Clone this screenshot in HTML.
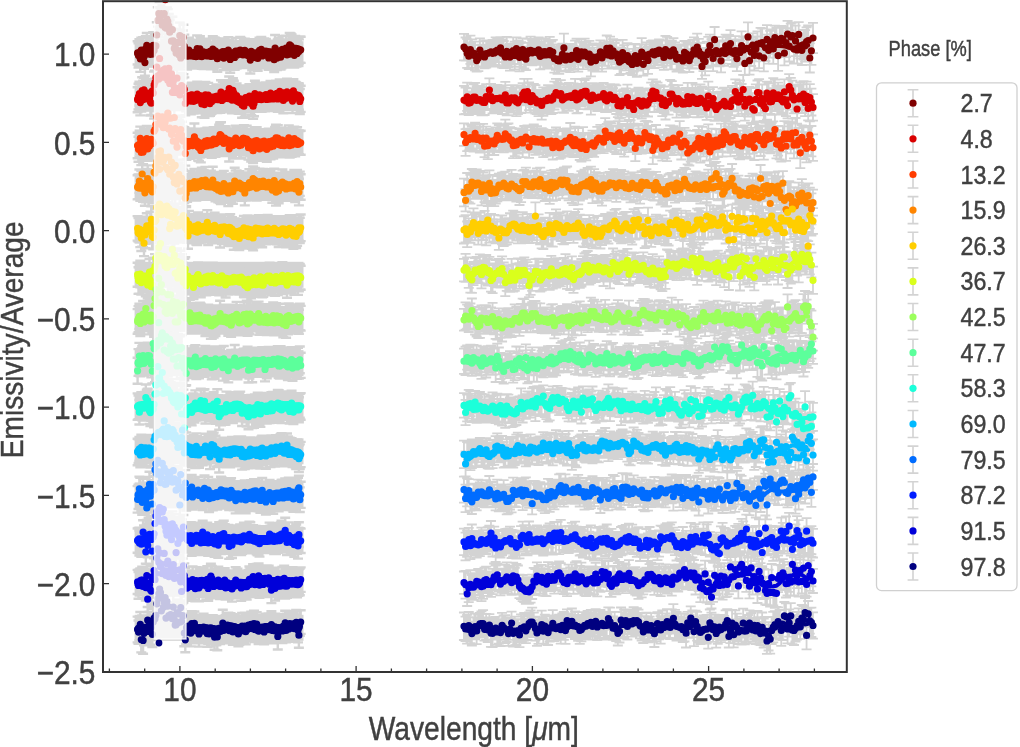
<!DOCTYPE html>
<html><head><meta charset="utf-8"><style>
html,body{margin:0;padding:0;background:#fff;}
body{width:1020px;height:747px;position:relative;overflow:hidden;}
svg{position:absolute;left:0;top:0;will-change:transform;}
text{font-family:"Liberation Sans",sans-serif;fill:#404040;stroke:#404040;stroke-width:0.45px;}
</style></head><body>
<svg width="1020" height="747" viewBox="0 0 1020 747">
<defs><clipPath id="c"><rect x="103" y="0.5" width="743.8" height="671.5"/></clipPath></defs>
<g clip-path="url(#c)">
<rect x="134.6" y="41.2" width="168.9" height="26" fill="#d3d3d3"/>
<rect x="134.6" y="85.3" width="168.9" height="26" fill="#d3d3d3"/>
<rect x="134.6" y="129.4" width="168.9" height="26" fill="#d3d3d3"/>
<rect x="134.6" y="173.6" width="168.9" height="26" fill="#d3d3d3"/>
<rect x="134.6" y="217.7" width="168.9" height="26" fill="#d3d3d3"/>
<rect x="134.6" y="261.8" width="168.9" height="26" fill="#d3d3d3"/>
<rect x="134.6" y="305.9" width="168.9" height="26" fill="#d3d3d3"/>
<rect x="134.6" y="350.1" width="168.9" height="26" fill="#d3d3d3"/>
<rect x="134.6" y="394.2" width="168.9" height="26" fill="#d3d3d3"/>
<rect x="134.6" y="438.3" width="168.9" height="26" fill="#d3d3d3"/>
<rect x="134.6" y="482.4" width="168.9" height="26" fill="#d3d3d3"/>
<rect x="134.6" y="526.6" width="168.9" height="26" fill="#d3d3d3"/>
<rect x="134.6" y="570.7" width="168.9" height="26" fill="#d3d3d3"/>
<rect x="134.6" y="614.8" width="168.9" height="26" fill="#d3d3d3"/>
<path d="M132.6 41.2h10m-5 0v23.3m-5 0h10m-9.1 -21.2h10m-5 0v24.2m-5 0h10m-9.1 -28.3h10m-5 0v26.7m-5 0h10m-9.1 -20.2h10m-5 0v26.2m-5 0h10m-9 -34.2h10m-5 0v24.8m-5 0h10m-9.1 -21h10m-5 0v26m-5 0h10m-9.1 -30.2h10m-5 0v26.5m-5 0h10m-9.1 -19.2h10m-5 0v24.3m-5 0h10m-9.1 -19.5h10m-5 0v26.4m-5 0h10m-9.1 -39.5h10m-5 0v24.2m-5 0h10m-9 -27.5h10m-5 0v24.5m-5 0h10m-9.1 -19.7h10m-5 0v23.4m-5 0h10m-9.1 -24.3h10m-5 0v23.9m-5 0h10m-9.1 -19.5h10m-5 0v25.3m-5 0h10m-9.1 -23.8h10m-5 0v23.4m-5 0h10m-9.1 -25.6h10m-5 0v25.2m-5 0h10m-9 -23.5h10m-5 0v23.9m-5 0h10m-9.1 -33.9h10m-5 0v26m-5 0h10m-9.1 -19.8h10m-5 0v23.8m-5 0h10m-9.1 -27.6h10m-5 0v24m-5 0h10m-9.1 -24.9h10m-5 0v24.2m-5 0h10m-9.1 -35.7h10m-5 0v25.4m-5 0h10m-9 -40.4h10m-5 0v26.1m-5 0h10m-9.1 -32.8h10m-5 0v26m-5 0h10m-9.1 -23.7h10m-5 0v25.9m-5 0h10m-9.1 -20.8h10m-5 0v25.7m-5 0h10m-9.1 -32.7h10m-5 0v25.2m-5 0h10m-9.1 -13.3h10m-5 0v24.5m-5 0h10m-9 -35.1h10m-5 0v24m-5 0h10m-9.1 -25.9h10m-5 0v26.4m-5 0h10m-9.1 -11.7h10m-5 0v24.8m-5 0h10m-9.1 -24.6h10m-5 0v25.6m-5 0h10m-9.1 -33.5h10m-5 0v23.5m-5 0h10m-9.1 -21.8h10m-5 0v24.6m-5 0h10m-9 -19.7h10m-5 0v23.7m-5 0h10m-9.1 -17.7h10m-5 0v24.5m-5 0h10m-9.1 -27.5h10m-5 0v25.9m-5 0h10m-9.1 -13.9h10m-5 0v24.5m-5 0h10m-9.1 -36.7h10m-5 0v25.7m-5 0h10m-9.1 -13.5h10m-5 0v23.7m-5 0h10m-9 -16.6h10m-5 0v24.7m-5 0h10m-9.1 -27.3h10m-5 0v24.8m-5 0h10m-9.1 -17.9h10m-5 0v25m-5 0h10m-9.1 -27.2h10m-5 0v24.1m-5 0h10m-9.1 -32.7h10m-5 0v25.7m-5 0h10m-9.1 -13.8h10m-5 0v26.4m-5 0h10m-9 -45.3h10m-5 0v26.2m-5 0h10m-9.1 -2.6h10m-5 0v23.4m-5 0h10m-9.1 -31.8h10m-5 0v25.1m-5 0h10m-9.1 -32.4h10m-5 0v24.5m-5 0h10m-9.1 -30.3h10m-5 0v25.3m-5 0h10m-9.1 -15.4h10m-5 0v23.6m-5 0h10m-9 -17.7h10m-5 0v25.9m-5 0h10m-9.1 -25.9h10m-5 0v24.8m-5 0h10m-9.1 -22.5h10m-5 0v26.7m-5 0h10m-9.1 -26.1h10m-5 0v23.3m-5 0h10m-9.1 -29h10m-5 0v24.8m-5 0h10m-9.1 -21.8h10m-5 0v25m-5 0h10m-9 -24.8h10m-5 0v26.2m-5 0h10m-9.1 -26.5h10m-5 0v26m-5 0h10m-9.1 -23.7h10m-5 0v23.9m-5 0h10m-9.1 -26.3h10m-5 0v24.4m-5 0h10m-9.1 -25.1h10m-5 0v25.9m-5 0h10m-9.1 -21.9h10m-5 0v24.8m-5 0h10m-9 -25.8h10m-5 0v24.2m-5 0h10m-9.1 -31.6h10m-5 0v26.6m-5 0h10m-9.1 -21.4h10m-5 0v26.3m-5 0h10m-9.1 -24.1h10m-5 0v24.6m-5 0h10m-9.1 -31.1h10m-5 0v25.2m-5 0h10m-9.1 -20.8h10m-5 0v26.6m-5 0h10m-9 -22.7h10m-5 0v24.1m-5 0h10m-9.1 -30.1h10m-5 0v26.5m-5 0h10m-9.1 -22.4h10m-5 0v26.4m-5 0h10m-9.1 -27.2h10m-5 0v25.9m-5 0h10m-9.1 -27.9h10m-5 0v25.8m-5 0h10m-9.1 -24.4h10m-5 0v25.7m-5 0h10m-9 -23.6h10m-5 0v25.2m-5 0h10m-9.1 -25.7h10m-5 0v25.4m-5 0h10m-9.1 -24.4h10m-5 0v23.9m-5 0h10m-9.1 -29.2h10m-5 0v25.3m-5 0h10m-9.1 -20.4h10m-5 0v25.7m-5 0h10m-9.1 -25.8h10m-5 0v25.1m-5 0h10m-9 -32.3h10m-5 0v25.7m-5 0h10m-9.1 -18.4h10m-5 0v24.9m-5 0h10m-9.1 -30.9h10m-5 0v26.1m-5 0h10m-9.1 -25.4h10m-5 0v25.9m-5 0h10m-9.1 -20.7h10m-5 0v23.6m-5 0h10m-9.1 -21.3h10m-5 0v26m-5 0h10m-9 -30h10m-5 0v24.3m-5 0h10m-9.1 -24.4h10m-5 0v23.6m-5 0h10m-9.1 -24.3h10m-5 0v23.7m-5 0h10m-9.1 -21.7h10m-5 0v24.5m-5 0h10m-9.1 -27.8h10m-5 0v25.2m-5 0h10m-9.1 -25.3h10m-5 0v24.4m-5 0h10m-9 -17.8h10m-5 0v24m-5 0h10m-9.1 -31.6h10m-5 0v26m-5 0h10m-9.1 -22h10m-5 0v24.6m-5 0h10m-9.1 -23.6h10m-5 0v26.3m-5 0h10m-9.1 -26h10m-5 0v24.2m-5 0h10m-9.1 -30.9h10m-5 0v25.8m-5 0h10m-9.1 -22.9h10m-5 0v24.6m-5 0h10m-9 -18.2h10m-5 0v26.3m-5 0h10m-9.1 -31h10m-5 0v25.6m-5 0h10m-9.1 -25.2h10m-5 0v25.7m-5 0h10m-9.1 -24.8h10m-5 0v23.6m-5 0h10m-9.1 -24.2h10m-5 0v26m-5 0h10m-9.1 -23.2h10m-5 0v24.6m-5 0h10m-9 -31.8h10m-5 0v26m-5 0h10m-9.1 -21.7h10m-5 0v26.2m-5 0h10m-9.1 -26.8h10m-5 0v23.7m-5 0h10m-9.1 -23.1h10m-5 0v23.3m-5 0h10m-9.1 -24.4h10m-5 0v26m-5 0h10m-9.1 -30.3h10m-5 0v26.7m-5 0h10m-9 -25.6h10m-5 0v26.5m-5 0h10m-9.1 -22.8h10m-5 0v24.8m-5 0h10m-9.1 -24.6h10m-5 0v26.2m-5 0h10m-9.1 -25.9h10m-5 0v23.4m-5 0h10m-9.1 -27h10m-5 0v23.5m-5 0h10m-9.1 -22h10m-5 0v25.4m-5 0h10m-9 -25.2h10m-5 0v25.1m-5 0h10m-9.1 -23.8h10m-5 0v26.2m-5 0h10m-9.1 -24.9h10m-5 0v24.1m-5 0h10m-9.1 -25.3h10m-5 0v25m-5 0h10m-9.1 -20h10m-5 0v26.8m-5 0h10m-9.1 -34.3h10m-5 0v24.3m-5 0h10m-9 -17.8h10m-5 0v24.7m-5 0h10m-9.1 -25.5h10m-5 0v25.4m-5 0h10m-9.1 -31.2h10m-5 0v26.8m-5 0h10m-9.1 -22.6h10m-5 0v24m-5 0h10m-9.1 -24.8h10m-5 0v25.7m-5 0h10m-9.1 -24.1h10m-5 0v24.8m-5 0h10m-9 -22.7h10m-5 0v24.7m-5 0h10m-9.1 -29.6h10m-5 0v24.2m-5 0h10m-9.1 -27.7h10m-5 0v24.9m-5 0h10m-9.1 -19.9h10m-5 0v25.3m-5 0h10m-9.1 -31.1h10m-5 0v24.7m-5 0h10m-9.1 -18.4h10m-5 0v25.1m-5 0h10m-9 -26.3h10m-5 0v25.5m-5 0h10m-9.1 -29.1h10m-5 0v26.3m-5 0h10m-9.1 -24.4h10m-5 0v25.3m-5 0h10m-9.1 -26.8h10m-5 0v24.6m-5 0h10m-9.1 -21.9h10m-5 0v26.7m-5 0h10m-9.1 -24.5h10m-5 0v23.9m-5 0h10m-9 -21.5h10m-5 0v23.5m-5 0h10m-9.1 -26.7h10m-5 0v26.5m-5 0h10m-9.1 -25.6h10m-5 0v24.2m-5 0h10m-9.1 -22.8h10m-5 0v23.8m-5 0h10m-9.1 -28.5h10m-5 0v24.6m-5 0h10m-9.1 -21.6h10m-5 0v24.5m-5 0h10m-9 -20.7h10m-5 0v24.6m-5 0h10m-9.1 -37h10m-5 0v26.3m-5 0h10m-9.1 -16.3h10m-5 0v24.3m-5 0h10m-9.1 -23h10m-5 0v23.8m-5 0h10m-9.1 -30.7h10m-5 0v24m-5 0h10m-9.1 -25.5h10m-5 0v26.7m-5 0h10m-9 -20.1h10m-5 0v24.8m-5 0h10m-9.1 -24.4h10m-5 0v24.6m-5 0h10m-9.1 -27.1h10m-5 0v26m-5 0h10m-9.1 -32.4h10m-5 0v26.6m-5 0h10m-9.1 -22.4h10m-5 0v25.1m-5 0h10m-9.1 -24.6h10m-5 0v26.2m-5 0h10m-9 -27.5h10m-5 0v24.2m-5 0h10m-9.1 -27.8h10m-5 0v24.6m-5 0h10m-9.1 -18.2h10m-5 0v25.3m-5 0h10m-9.1 -27.6h10m-5 0v24.2m-5 0h10m-9.1 -21.7h10m-5 0v24.2m-5 0h10m-9.1 -33.7h10m-5 0v23.9m-5 0h10m-9 -23.3h10m-5 0v24.2m-5 0h10m-9.1 -23.2h10m-5 0v26.3m-5 0h10m-9.1 -23.5h10m-5 0v26.1m-5 0h10m-9.1 -27.2h10m-5 0v23.7m-5 0h10m-9.1 -16.9h10m-5 0v24.6m-5 0h10m-9.1 -31.6h10m-5 0v25.9m-5 0h10m-9 -21.8h10m-5 0v26.4m-5 0h10m-9.1 -25.7h10m-5 0v25.3m-5 0h10m-9.1 -27h10m-5 0v25.9m-5 0h10m-9.1 -25.6h10m-5 0v24.2m-5 0h10m-9.1 -27.1h10m-5 0v26.1m-5 0h10m-9.1 -25.9h10m-5 0v26.2m-5 0h10m-173.1 24.3h10m-5 0v25.1m-5 0h10m-9.1 -28.5h10m-5 0v25.7m-5 0h10m-9.1 -27.7h10m-5 0v23.7m-5 0h10m-9.1 -15.7h10m-5 0v25.6m-5 0h10m-9 -28h10m-5 0v24.1m-5 0h10m-9.1 -34.3h10m-5 0v26.7m-5 0h10m-9.1 -23.2h10m-5 0v25.3m-5 0h10m-9.1 -28.1h10m-5 0v23.8m-5 0h10m-9.1 -20.8h10m-5 0v26.2m-5 0h10m-9.1 -23.8h10m-5 0v25.1m-5 0h10m-9 -28.5h10m-5 0v26m-5 0h10m-9.1 -24.6h10m-5 0v25.3m-5 0h10m-9.1 -25.1h10m-5 0v26.4m-5 0h10m-9.1 -21.7h10m-5 0v24.3m-5 0h10m-9.1 -21.8h10m-5 0v26.8m-5 0h10m-9.1 -24h10m-5 0v23.4m-5 0h10m-9 -36.3h10m-5 0v24.7m-5 0h10m-9.1 -22.2h10m-5 0v23.9m-5 0h10m-9.1 -33.4h10m-5 0v26.7m-5 0h10m-9.1 -27.7h10m-5 0v23.4m-5 0h10m-9.1 -28.5h10m-5 0v24.3m-5 0h10m-9.1 -35h10m-5 0v24.6m-5 0h10m-9 -15.4h10m-5 0v23.6m-5 0h10m-9.1 -21.6h10m-5 0v26.5m-5 0h10m-9.1 -47h10m-5 0v26m-5 0h10m-9.1 -10.4h10m-5 0v25.1m-5 0h10m-9.1 -26.3h10m-5 0v24.7m-5 0h10m-9.1 -19.5h10m-5 0v24m-5 0h10m-9 -30.9h10m-5 0v23.9m-5 0h10m-9.1 -20.5h10m-5 0v24.8m-5 0h10m-9.1 -30.2h10m-5 0v25.5m-5 0h10m-9.1 -17.2h10m-5 0v26.3m-5 0h10m-9.1 -31.9h10m-5 0v24.2m-5 0h10m-9.1 -16.1h10m-5 0v26.3m-5 0h10m-9 -37.8h10m-5 0v25.6m-5 0h10m-9.1 -9.6h10m-5 0v23.9m-5 0h10m-9.1 -28.7h10m-5 0v23.4m-5 0h10m-9.1 -27.9h10m-5 0v23.4m-5 0h10m-9.1 -6.7h10m-5 0v26.7m-5 0h10m-9.1 -36h10m-5 0v24.1m-5 0h10m-9 -18.2h10m-5 0v23.6m-5 0h10m-9.1 -19.4h10m-5 0v25.6m-5 0h10m-9.1 -26.6h10m-5 0v24.3m-5 0h10m-9.1 -38.2h10m-5 0v26.7m-5 0h10m-9.1 -15.7h10m-5 0v25.7m-5 0h10m-9.1 -22.9h10m-5 0v26.5m-5 0h10m-9 -23.1h10m-5 0v25.6m-5 0h10m-9.1 -30.9h10m-5 0v25.9m-5 0h10m-9.1 -29.6h10m-5 0v25m-5 0h10m-9.1 -19.7h10m-5 0v24.8m-5 0h10m-9.1 -28.9h10m-5 0v26m-5 0h10m-9.1 -22.8h10m-5 0v24m-5 0h10m-9 -9.8h10m-5 0v23.6m-5 0h10m-9.1 -30.5h10m-5 0v26.5m-5 0h10m-9.1 -24.4h10m-5 0v24.6m-5 0h10m-9.1 -27.3h10m-5 0v25.2m-5 0h10m-9.1 -20.8h10m-5 0v24.7m-5 0h10m-9.1 -29.5h10m-5 0v25.9m-5 0h10m-9 -21.4h10m-5 0v26m-5 0h10m-9.1 -31.4h10m-5 0v23.9m-5 0h10m-9.1 -22h10m-5 0v26m-5 0h10m-9.1 -21.6h10m-5 0v24.5m-5 0h10m-9.1 -26.4h10m-5 0v25.3m-5 0h10m-9.1 -24.3h10m-5 0v25m-5 0h10m-9 -29.1h10m-5 0v26.3m-5 0h10m-9.1 -28.6h10m-5 0v24.8m-5 0h10m-9.1 -22h10m-5 0v26.2m-5 0h10m-9.1 -24.2h10m-5 0v26.7m-5 0h10m-9.1 -26.8h10m-5 0v25.4m-5 0h10m-9.1 -28.1h10m-5 0v26.1m-5 0h10m-9 -19.2h10m-5 0v26.5m-5 0h10m-9.1 -33.2h10m-5 0v24.1m-5 0h10m-9.1 -23.9h10m-5 0v24.9m-5 0h10m-9.1 -17.8h10m-5 0v26.5m-5 0h10m-9.1 -35.9h10m-5 0v26m-5 0h10m-9.1 -18.5h10m-5 0v26.3m-5 0h10m-9 -29.5h10m-5 0v25.4m-5 0h10m-9.1 -28.7h10m-5 0v24.6m-5 0h10m-9.1 -17.6h10m-5 0v26.1m-5 0h10m-9.1 -24.7h10m-5 0v24.6m-5 0h10m-9.1 -26.9h10m-5 0v25.4m-5 0h10m-9.1 -24.8h10m-5 0v24m-5 0h10m-9 -27h10m-5 0v24.7m-5 0h10m-9.1 -23.9h10m-5 0v24.9m-5 0h10m-9.1 -24.6h10m-5 0v23.7m-5 0h10m-9.1 -24h10m-5 0v23.6m-5 0h10m-9.1 -26.1h10m-5 0v26.4m-5 0h10m-9.1 -25h10m-5 0v26.8m-5 0h10m-9 -28.7h10m-5 0v23.9m-5 0h10m-9.1 -23.4h10m-5 0v24.6m-5 0h10m-9.1 -22.5h10m-5 0v25.7m-5 0h10m-9.1 -32.5h10m-5 0v23.8m-5 0h10m-9.1 -15.3h10m-5 0v23.6m-5 0h10m-9.1 -30.5h10m-5 0v26.5m-5 0h10m-9 -21.4h10m-5 0v24.3m-5 0h10m-9.1 -28.6h10m-5 0v26.7m-5 0h10m-9.1 -26.4h10m-5 0v25.1m-5 0h10m-9.1 -26.3h10m-5 0v25.4m-5 0h10m-9.1 -26.9h10m-5 0v25.2m-5 0h10m-9.1 -19.2h10m-5 0v25.1m-5 0h10m-9.1 -34.8h10m-5 0v24.2m-5 0h10m-9 -18.3h10m-5 0v25.5m-5 0h10m-9.1 -21.8h10m-5 0v24.8m-5 0h10m-9.1 -23.9h10m-5 0v26.3m-5 0h10m-9.1 -35h10m-5 0v24.3m-5 0h10m-9.1 -21.8h10m-5 0v23.9m-5 0h10m-9.1 -20.1h10m-5 0v26.4m-5 0h10m-9 -27.3h10m-5 0v25.2m-5 0h10m-9.1 -25.5h10m-5 0v24.1m-5 0h10m-9.1 -21.1h10m-5 0v26.1m-5 0h10m-9.1 -23.2h10m-5 0v24.3m-5 0h10m-9.1 -25.6h10m-5 0v25.8m-5 0h10m-9.1 -27.7h10m-5 0v25.7m-5 0h10m-9 -22.5h10m-5 0v24.3m-5 0h10m-9.1 -21.4h10m-5 0v25.5m-5 0h10m-9.1 -30.6h10m-5 0v25m-5 0h10m-9.1 -17.6h10m-5 0v23.4m-5 0h10m-9.1 -28h10m-5 0v26.7m-5 0h10m-9.1 -31.2h10m-5 0v24.2m-5 0h10m-9 -22.2h10m-5 0v24.7m-5 0h10m-9.1 -26h10m-5 0v26.4m-5 0h10m-9.1 -26.2h10m-5 0v25.7m-5 0h10m-9.1 -27.8h10m-5 0v23.9m-5 0h10m-9.1 -22.2h10m-5 0v25.6m-5 0h10m-9.1 -19.7h10m-5 0v23.4m-5 0h10m-9 -30.8h10m-5 0v25.9m-5 0h10m-9.1 -16.8h10m-5 0v25.4m-5 0h10m-9.1 -28.4h10m-5 0v25.7m-5 0h10m-9.1 -35.4h10m-5 0v25.3m-5 0h10m-9.1 -23.5h10m-5 0v24.6m-5 0h10m-9.1 -21.1h10m-5 0v25.6m-5 0h10m-9 -26.3h10m-5 0v24.9m-5 0h10m-9.1 -25.9h10m-5 0v25.9m-5 0h10m-9.1 -27.2h10m-5 0v23.4m-5 0h10m-9.1 -19.1h10m-5 0v24.2m-5 0h10m-9.1 -23.8h10m-5 0v23.9m-5 0h10m-9.1 -25.3h10m-5 0v25.1m-5 0h10m-9 -27.5h10m-5 0v25.5m-5 0h10m-9.1 -25.2h10m-5 0v24.1m-5 0h10m-9.1 -23.7h10m-5 0v26.6m-5 0h10m-9.1 -28.9h10m-5 0v24.6m-5 0h10m-9.1 -19.2h10m-5 0v23.3m-5 0h10m-9.1 -27.3h10m-5 0v25.9m-5 0h10m-9 -23.2h10m-5 0v23.7m-5 0h10m-9.1 -22.7h10m-5 0v23.3m-5 0h10m-9.1 -29.9h10m-5 0v24.3m-5 0h10m-9.1 -20.5h10m-5 0v25m-5 0h10m-9.1 -22.8h10m-5 0v24.2m-5 0h10m-9.1 -27.2h10m-5 0v24.5m-5 0h10m-9 -21.4h10m-5 0v23.8m-5 0h10m-9.1 -28.5h10m-5 0v24.5m-5 0h10m-9.1 -26h10m-5 0v26.1m-5 0h10m-9.1 -25.8h10m-5 0v24.4m-5 0h10m-9.1 -19.2h10m-5 0v25.4m-5 0h10m-9.1 -27.1h10m-5 0v24m-5 0h10m-9 -29.2h10m-5 0v23.7m-5 0h10m-9.1 -18.4h10m-5 0v24.5m-5 0h10m-9.1 -27.8h10m-5 0v23.4m-5 0h10m-9.1 -24.8h10m-5 0v25m-5 0h10m-9.1 -17.5h10m-5 0v25.8m-5 0h10m-9.1 -32.3h10m-5 0v24.8m-5 0h10m-9 -23.2h10m-5 0v24.1m-5 0h10m-9.1 -24.7h10m-5 0v24.5m-5 0h10m-9.1 -27.7h10m-5 0v26.2m-5 0h10m-9.1 -22h10m-5 0v24.2m-5 0h10m-9.1 -23.4h10m-5 0v24.4m-5 0h10m-9.1 -26.7h10m-5 0v25.7m-5 0h10m-9 -22.5h10m-5 0v24.2m-5 0h10m-9.1 -27.8h10m-5 0v26.6m-5 0h10m-9.1 -18.5h10m-5 0v23.9m-5 0h10m-9.1 -33.9h10m-5 0v23.4m-5 0h10m-9.1 -17.9h10m-5 0v24.8m-5 0h10m-9.1 -27.8h10m-5 0v25.2m-5 0h10m-9 -24.5h10m-5 0v25.3m-5 0h10m-9.1 -24h10m-5 0v24.4m-5 0h10m-9.1 -25h10m-5 0v26.1m-5 0h10m-9.1 -25.7h10m-5 0v26.2m-5 0h10m-9.1 -20.7h10m-5 0v25m-5 0h10m-9.1 -28.3h10m-5 0v26.2m-5 0h10m-173.1 20.9h10m-5 0v25.5m-5 0h10m-9.1 -21.5h10m-5 0v25m-5 0h10m-9.1 -29.1h10m-5 0v23.7m-5 0h10m-9.1 -29.8h10m-5 0v23.6m-5 0h10m-9 -10.3h10m-5 0v25.2m-5 0h10m-9.1 -33.4h10m-5 0v26.4m-5 0h10m-9.1 -18.1h10m-5 0v24.2m-5 0h10m-9.1 -30.8h10m-5 0v25.9m-5 0h10m-9.1 -25h10m-5 0v25.5m-5 0h10m-9.1 -31h10m-5 0v24.5m-5 0h10m-9 -27.4h10m-5 0v25.6m-5 0h10m-9.1 -14.3h10m-5 0v23.5m-5 0h10m-9.1 -31.5h10m-5 0v24.2m-5 0h10m-9.1 -19.7h10m-5 0v24.7m-5 0h10m-9.1 -27.6h10m-5 0v25.5m-5 0h10m-9.1 -28.6h10m-5 0v23.4m-5 0h10m-9 -21.4h10m-5 0v23.4m-5 0h10m-9.1 -23.1h10m-5 0v26.5m-5 0h10m-9.1 -37.9h10m-5 0v25.2m-5 0h10m-9.1 -27.7h10m-5 0v26.5m-5 0h10m-9.1 -31.4h10m-5 0v26.8m-5 0h10m-9.1 -33h10m-5 0v23.9m-5 0h10m-9 -25h10m-5 0v24.6m-5 0h10m-9.1 -24.6h10m-5 0v26.8m-5 0h10m-9.1 -18.3h10m-5 0v23.3m-5 0h10m-9.1 -27.6h10m-5 0v26.7m-5 0h10m-9.1 -23.5h10m-5 0v26.8m-5 0h10m-9.1 -34.2h10m-5 0v25.9m-5 0h10m-9 -14.4h10m-5 0v24.6m-5 0h10m-9.1 -29.6h10m-5 0v25.7m-5 0h10m-9.1 -25.5h10m-5 0v23.3m-5 0h10m-9.1 -29h10m-5 0v24.6m-5 0h10m-9.1 -22.7h10m-5 0v23.4m-5 0h10m-9.1 -29.5h10m-5 0v24.8m-5 0h10m-9 -9.2h10m-5 0v25.8m-5 0h10m-9.1 -25.5h10m-5 0v23.3m-5 0h10m-9.1 -35h10m-5 0v26.5m-5 0h10m-9.1 -9h10m-5 0v23.7m-5 0h10m-9.1 -27.3h10m-5 0v24.1m-5 0h10m-9.1 -14.1h10m-5 0v24.7m-5 0h10m-9 -47.8h10m-5 0v23.7m-5 0h10m-9.1 -13.8h10m-5 0v25.9m-5 0h10m-9.1 -12.6h10m-5 0v25.7m-5 0h10m-9.1 -20.2h10m-5 0v25.4m-5 0h10m-9.1 -35.7h10m-5 0v24.8m-5 0h10m-9.1 -29.1h10m-5 0v25.4m-5 0h10m-9 -21.3h10m-5 0v24.6m-5 0h10m-9.1 -31.8h10m-5 0v25.7m-5 0h10m-9.1 -20.7h10m-5 0v26.5m-5 0h10m-9.1 -21.8h10m-5 0v26m-5 0h10m-9.1 -23.5h10m-5 0v24.6m-5 0h10m-9.1 -26.2h10m-5 0v26.4m-5 0h10m-9 -12.5h10m-5 0v24.4m-5 0h10m-9.1 -31.6h10m-5 0v25.7m-5 0h10m-9.1 -26.5h10m-5 0v25.9m-5 0h10m-9.1 -25h10m-5 0v24.8m-5 0h10m-9.1 -30.4h10m-5 0v26.4m-5 0h10m-9.1 -23.2h10m-5 0v26.8m-5 0h10m-9 -26.5h10m-5 0v23.7m-5 0h10m-9.1 -26.2h10m-5 0v23.4m-5 0h10m-9.1 -19.4h10m-5 0v24.3m-5 0h10m-9.1 -28.3h10m-5 0v23.4m-5 0h10m-9.1 -29.4h10m-5 0v26.8m-5 0h10m-9.1 -18.9h10m-5 0v24.2m-5 0h10m-9 -26.9h10m-5 0v23.8m-5 0h10m-9.1 -23.8h10m-5 0v25.3m-5 0h10m-9.1 -20.2h10m-5 0v26.7m-5 0h10m-9.1 -25.9h10m-5 0v26.4m-5 0h10m-9.1 -29.8h10m-5 0v26.4m-5 0h10m-9.1 -19.2h10m-5 0v24m-5 0h10m-9 -29.7h10m-5 0v24.2m-5 0h10m-9.1 -24.4h10m-5 0v23.6m-5 0h10m-9.1 -25.2h10m-5 0v25.7m-5 0h10m-9.1 -25.2h10m-5 0v24.6m-5 0h10m-9.1 -27.6h10m-5 0v25.6m-5 0h10m-9.1 -20.3h10m-5 0v23.4m-5 0h10m-9 -29.4h10m-5 0v25.9m-5 0h10m-9.1 -22.9h10m-5 0v23.8m-5 0h10m-9.1 -25.5h10m-5 0v26.7m-5 0h10m-9.1 -24h10m-5 0v24.3m-5 0h10m-9.1 -28h10m-5 0v25.1m-5 0h10m-9.1 -21.4h10m-5 0v26.2m-5 0h10m-9 -30.3h10m-5 0v25.6m-5 0h10m-9.1 -26h10m-5 0v23.6m-5 0h10m-9.1 -20.7h10m-5 0v26.5m-5 0h10m-9.1 -25.8h10m-5 0v25.9m-5 0h10m-9.1 -26.9h10m-5 0v26m-5 0h10m-9.1 -27.8h10m-5 0v25.1m-5 0h10m-9 -25.9h10m-5 0v23.9m-5 0h10m-9.1 -26.3h10m-5 0v25.6m-5 0h10m-9.1 -27.9h10m-5 0v24.4m-5 0h10m-9.1 -24.6h10m-5 0v26.2m-5 0h10m-9.1 -21.6h10m-5 0v24.4m-5 0h10m-9.1 -23.1h10m-5 0v25.6m-5 0h10m-9 -23h10m-5 0v25.2m-5 0h10m-9.1 -29.7h10m-5 0v23.8m-5 0h10m-9.1 -23.6h10m-5 0v25.7m-5 0h10m-9.1 -23.8h10m-5 0v26.7m-5 0h10m-9.1 -25.1h10m-5 0v23.5m-5 0h10m-9.1 -24.3h10m-5 0v25.4m-5 0h10m-9.1 -18.6h10m-5 0v25.5m-5 0h10m-9 -32.4h10m-5 0v26.3m-5 0h10m-9.1 -26.2h10m-5 0v24.4m-5 0h10m-9.1 -23.8h10m-5 0v26.2m-5 0h10m-9.1 -23.4h10m-5 0v25.9m-5 0h10m-9.1 -27.8h10m-5 0v24m-5 0h10m-9.1 -26h10m-5 0v25.9m-5 0h10m-9 -29h10m-5 0v24.9m-5 0h10m-9.1 -22.6h10m-5 0v24m-5 0h10m-9.1 -23h10m-5 0v24.1m-5 0h10m-9.1 -22.8h10m-5 0v24.5m-5 0h10m-9.1 -22.1h10m-5 0v25.9m-5 0h10m-9.1 -27.5h10m-5 0v23.9m-5 0h10m-9 -22.6h10m-5 0v25.6m-5 0h10m-9.1 -29.5h10m-5 0v26.2m-5 0h10m-9.1 -28.9h10m-5 0v25.2m-5 0h10m-9.1 -25.8h10m-5 0v26.5m-5 0h10m-9.1 -25.7h10m-5 0v25.8m-5 0h10m-9.1 -22.9h10m-5 0v25.1m-5 0h10m-9 -28.2h10m-5 0v26.7m-5 0h10m-9.1 -22.2h10m-5 0v25.2m-5 0h10m-9.1 -19.6h10m-5 0v23.8m-5 0h10m-9.1 -29.1h10m-5 0v24.1m-5 0h10m-9.1 -24.4h10m-5 0v26.2m-5 0h10m-9.1 -21.2h10m-5 0v26.4m-5 0h10m-9 -28.5h10m-5 0v24.7m-5 0h10m-9.1 -19.4h10m-5 0v24.6m-5 0h10m-9.1 -29.5h10m-5 0v24m-5 0h10m-9.1 -29.7h10m-5 0v26.3m-5 0h10m-9.1 -21.6h10m-5 0v26.8m-5 0h10m-9.1 -32h10m-5 0v26.6m-5 0h10m-9 -22.8h10m-5 0v24.8m-5 0h10m-9.1 -23.1h10m-5 0v26.5m-5 0h10m-9.1 -22.5h10m-5 0v24m-5 0h10m-9.1 -30.6h10m-5 0v23.6m-5 0h10m-9.1 -24.2h10m-5 0v25.3m-5 0h10m-9.1 -19.2h10m-5 0v24.5m-5 0h10m-9 -27.5h10m-5 0v25m-5 0h10m-9.1 -28.4h10m-5 0v23.6m-5 0h10m-9.1 -18.8h10m-5 0v23.9m-5 0h10m-9.1 -27.5h10m-5 0v25m-5 0h10m-9.1 -18.8h10m-5 0v25.1m-5 0h10m-9.1 -28.3h10m-5 0v25.8m-5 0h10m-9 -30.5h10m-5 0v25.9m-5 0h10m-9.1 -20.4h10m-5 0v24.6m-5 0h10m-9.1 -24.4h10m-5 0v24.9m-5 0h10m-9.1 -25.2h10m-5 0v24.3m-5 0h10m-9.1 -27.1h10m-5 0v23.8m-5 0h10m-9.1 -21.4h10m-5 0v24.8m-5 0h10m-9 -29.2h10m-5 0v25.4m-5 0h10m-9.1 -27.9h10m-5 0v26.8m-5 0h10m-9.1 -28.9h10m-5 0v25.9m-5 0h10m-9.1 -20.5h10m-5 0v26.1m-5 0h10m-9.1 -31.2h10m-5 0v26.2m-5 0h10m-9.1 -23.1h10m-5 0v26.6m-5 0h10m-9 -24.1h10m-5 0v26.6m-5 0h10m-9.1 -26.9h10m-5 0v24m-5 0h10m-9.1 -26.6h10m-5 0v24.4m-5 0h10m-9.1 -24.1h10m-5 0v24.2m-5 0h10m-9.1 -23.2h10m-5 0v26.2m-5 0h10m-9.1 -23.4h10m-5 0v25m-5 0h10m-9 -28.6h10m-5 0v26.7m-5 0h10m-9.1 -24.6h10m-5 0v25.3m-5 0h10m-9.1 -24.6h10m-5 0v23.4m-5 0h10m-9.1 -24.3h10m-5 0v24.1m-5 0h10m-9.1 -28.9h10m-5 0v24.7m-5 0h10m-9.1 -16.4h10m-5 0v23.8m-5 0h10m-9 -27.7h10m-5 0v25.2m-5 0h10m-9.1 -21.7h10m-5 0v23.5m-5 0h10m-9.1 -29.1h10m-5 0v24.1m-5 0h10m-9.1 -24.3h10m-5 0v23.3m-5 0h10m-9.1 -24.1h10m-5 0v23.8m-5 0h10m-9.1 -20.1h10m-5 0v25.8m-5 0h10m-9 -26.3h10m-5 0v25m-5 0h10m-9.1 -27.6h10m-5 0v26.7m-5 0h10m-9.1 -23.4h10m-5 0v23.7m-5 0h10m-9.1 -23.9h10m-5 0v23.9m-5 0h10m-9.1 -23.3h10m-5 0v23.6m-5 0h10m-9.1 -23.8h10m-5 0v24m-5 0h10m-173.1 20.4h10m-5 0v24.2m-5 0h10m-9.1 -24.9h10m-5 0v24.6m-5 0h10m-9.1 -29.6h10m-5 0v23.4m-5 0h10m-9.1 -17.7h10m-5 0v25.6m-5 0h10m-9 -29.8h10m-5 0v23.7m-5 0h10m-9.1 -33.9h10m-5 0v26.3m-5 0h10m-9.1 -12.1h10m-5 0v26.8m-5 0h10m-9.1 -26h10m-5 0v24.8m-5 0h10m-9.1 -20.8h10m-5 0v26m-5 0h10m-9.1 -27.8h10m-5 0v24.3m-5 0h10m-9 -33.4h10m-5 0v26.8m-5 0h10m-9.1 -30.3h10m-5 0v26.6m-5 0h10m-9.1 -18.7h10m-5 0v25.7m-5 0h10m-9.1 -22.6h10m-5 0v25.2m-5 0h10m-9.1 -30.4h10m-5 0v23.4m-5 0h10m-9.1 -21.8h10m-5 0v26.8m-5 0h10m-9 -19.5h10m-5 0v23.3m-5 0h10m-9.1 -29.9h10m-5 0v26.5m-5 0h10m-9.1 -40.3h10m-5 0v25m-5 0h10m-9.1 -25h10m-5 0v26.8m-5 0h10m-9.1 -33h10m-5 0v24.7m-5 0h10m-9.1 -28.7h10m-5 0v24.5m-5 0h10m-9 -29.4h10m-5 0v25.6m-5 0h10m-9.1 -31.7h10m-5 0v25.9m-5 0h10m-9.1 -7.8h10m-5 0v25.3m-5 0h10m-9.1 -42.7h10m-5 0v23.4m-5 0h10m-9.1 -12.4h10m-5 0v23.9m-5 0h10m-9.1 -29.6h10m-5 0v24.7m-5 0h10m-9 -20.5h10m-5 0v24.5m-5 0h10m-9.1 -26.8h10m-5 0v25.6m-5 0h10m-9.1 -27.8h10m-5 0v26.7m-5 0h10m-9.1 -16.3h10m-5 0v25.5m-5 0h10m-9.1 -24.2h10m-5 0v25.3m-5 0h10m-9.1 -23.2h10m-5 0v23.5m-5 0h10m-9 -36.5h10m-5 0v24.3m-5 0h10m-9.1 -8.1h10m-5 0v26.1m-5 0h10m-9.1 -29.9h10m-5 0v26.2m-5 0h10m-9.1 -33.3h10m-5 0v23.9m-5 0h10m-9.1 -18.4h10m-5 0v25.8m-5 0h10m-9.1 -17.8h10m-5 0v26.3m-5 0h10m-9 -20.8h10m-5 0v26.6m-5 0h10m-9.1 -42.9h10m-5 0v24.9m-5 0h10m-9.1 -13.2h10m-5 0v24.7m-5 0h10m-9.1 -17.3h10m-5 0v23.6m-5 0h10m-9.1 -31.5h10m-5 0v24.3m-5 0h10m-9.1 -26h10m-5 0v23.6m-5 0h10m-9 -7.6h10m-5 0v25.2m-5 0h10m-9.1 -36.7h10m-5 0v24.1m-5 0h10m-9.1 -25.9h10m-5 0v26.5m-5 0h10m-9.1 -23h10m-5 0v23.9m-5 0h10m-9.1 -22.7h10m-5 0v23.4m-5 0h10m-9.1 -16.7h10m-5 0v26.5m-5 0h10m-9 -17.7h10m-5 0v25.5m-5 0h10m-9.1 -30.2h10m-5 0v25.4m-5 0h10m-9.1 -30h10m-5 0v25.6m-5 0h10m-9.1 -26.7h10m-5 0v23.5m-5 0h10m-9.1 -23.5h10m-5 0v23.5m-5 0h10m-9.1 -27.4h10m-5 0v24.5m-5 0h10m-9 -21.4h10m-5 0v24.8m-5 0h10m-9.1 -24.9h10m-5 0v25.1m-5 0h10m-9.1 -26.7h10m-5 0v25.8m-5 0h10m-9.1 -23.6h10m-5 0v25.4m-5 0h10m-9.1 -31.1h10m-5 0v25m-5 0h10m-9.1 -19.6h10m-5 0v26m-5 0h10m-9 -25.1h10m-5 0v25.2m-5 0h10m-9.1 -25.6h10m-5 0v23.5m-5 0h10m-9.1 -29.1h10m-5 0v25m-5 0h10m-9.1 -20.4h10m-5 0v24.5m-5 0h10m-9.1 -24.3h10m-5 0v24.5m-5 0h10m-9.1 -28.1h10m-5 0v24m-5 0h10m-9 -26.7h10m-5 0v25.8m-5 0h10m-9.1 -20.9h10m-5 0v24.1m-5 0h10m-9.1 -26.9h10m-5 0v23.7m-5 0h10m-9.1 -21.1h10m-5 0v25.6m-5 0h10m-9.1 -31.2h10m-5 0v26.1m-5 0h10m-9.1 -19.6h10m-5 0v26.5m-5 0h10m-9 -27.3h10m-5 0v24.1m-5 0h10m-9.1 -23.1h10m-5 0v23.3m-5 0h10m-9.1 -22.7h10m-5 0v25.1m-5 0h10m-9.1 -28h10m-5 0v26.8m-5 0h10m-9.1 -27.3h10m-5 0v24.1m-5 0h10m-9.1 -20.1h10m-5 0v24.5m-5 0h10m-9 -32.5h10m-5 0v26.5m-5 0h10m-9.1 -21.3h10m-5 0v25.6m-5 0h10m-9.1 -25.4h10m-5 0v25.5m-5 0h10m-9.1 -22.3h10m-5 0v25.9m-5 0h10m-9.1 -26.3h10m-5 0v23.9m-5 0h10m-9.1 -26.5h10m-5 0v24.9m-5 0h10m-9 -19.1h10m-5 0v24m-5 0h10m-9.1 -25.3h10m-5 0v25.5m-5 0h10m-9.1 -25h10m-5 0v25.6m-5 0h10m-9.1 -24.1h10m-5 0v25.2m-5 0h10m-9.1 -30.7h10m-5 0v25.9m-5 0h10m-9.1 -21.1h10m-5 0v23.8m-5 0h10m-9 -31h10m-5 0v24.9m-5 0h10m-9.1 -16.6h10m-5 0v23.4m-5 0h10m-9.1 -26.3h10m-5 0v24.1m-5 0h10m-9.1 -25.1h10m-5 0v23.7m-5 0h10m-9.1 -21.4h10m-5 0v24.4m-5 0h10m-9.1 -22.5h10m-5 0v26.5m-5 0h10m-9.1 -30.5h10m-5 0v26.5m-5 0h10m-9 -27.1h10m-5 0v24.3m-5 0h10m-9.1 -22.4h10m-5 0v25.3m-5 0h10m-9.1 -28.1h10m-5 0v24.3m-5 0h10m-9.1 -18.8h10m-5 0v24.2m-5 0h10m-9.1 -30.4h10m-5 0v25m-5 0h10m-9.1 -30.7h10m-5 0v26.6m-5 0h10m-9 -23.7h10m-5 0v26.5m-5 0h10m-9.1 -26.7h10m-5 0v26.4m-5 0h10m-9.1 -22.9h10m-5 0v26.5m-5 0h10m-9.1 -26.3h10m-5 0v26.4m-5 0h10m-9.1 -29.2h10m-5 0v23.8m-5 0h10m-9.1 -19.6h10m-5 0v23.3m-5 0h10m-9 -26.4h10m-5 0v24.5m-5 0h10m-9.1 -19.6h10m-5 0v23.5m-5 0h10m-9.1 -27.2h10m-5 0v24.1m-5 0h10m-9.1 -23.3h10m-5 0v24m-5 0h10m-9.1 -18.1h10m-5 0v25.1m-5 0h10m-9.1 -31.4h10m-5 0v26.6m-5 0h10m-9 -28h10m-5 0v25.7m-5 0h10m-9.1 -25.9h10m-5 0v25.7m-5 0h10m-9.1 -25.2h10m-5 0v24.9m-5 0h10m-9.1 -28.5h10m-5 0v26.3m-5 0h10m-9.1 -22.8h10m-5 0v25.6m-5 0h10m-9.1 -24.8h10m-5 0v26.8m-5 0h10m-9 -29.9h10m-5 0v23.5m-5 0h10m-9.1 -27.5h10m-5 0v24.5m-5 0h10m-9.1 -18.7h10m-5 0v25.6m-5 0h10m-9.1 -30h10m-5 0v24.5m-5 0h10m-9.1 -20.1h10m-5 0v24.7m-5 0h10m-9.1 -21.1h10m-5 0v24.6m-5 0h10m-9 -26.8h10m-5 0v26.2m-5 0h10m-9.1 -25.1h10m-5 0v24.1m-5 0h10m-9.1 -30.2h10m-5 0v25.8m-5 0h10m-9.1 -22h10m-5 0v24m-5 0h10m-9.1 -23h10m-5 0v25.5m-5 0h10m-9.1 -27.2h10m-5 0v25.3m-5 0h10m-9 -28.1h10m-5 0v24m-5 0h10m-9.1 -20.8h10m-5 0v25.4m-5 0h10m-9.1 -23h10m-5 0v23.9m-5 0h10m-9.1 -27.4h10m-5 0v25.3m-5 0h10m-9.1 -22.3h10m-5 0v25.7m-5 0h10m-9.1 -28.4h10m-5 0v24.2m-5 0h10m-9 -25.3h10m-5 0v24.2m-5 0h10m-9.1 -21.8h10m-5 0v24.2m-5 0h10m-9.1 -21.9h10m-5 0v23.5m-5 0h10m-9.1 -25.5h10m-5 0v25.3m-5 0h10m-9.1 -21h10m-5 0v25.5m-5 0h10m-9.1 -33.7h10m-5 0v26.6m-5 0h10m-9 -27h10m-5 0v23.6m-5 0h10m-9.1 -17.8h10m-5 0v24.5m-5 0h10m-9.1 -20.2h10m-5 0v26.8m-5 0h10m-9.1 -29.9h10m-5 0v25.2m-5 0h10m-9.1 -23.4h10m-5 0v25m-5 0h10m-9.1 -24.1h10m-5 0v24.8m-5 0h10m-9 -30h10m-5 0v25.3m-5 0h10m-9.1 -25.9h10m-5 0v26m-5 0h10m-9.1 -23.7h10m-5 0v23.5m-5 0h10m-9.1 -28.9h10m-5 0v25m-5 0h10m-9.1 -21.4h10m-5 0v23.6m-5 0h10m-9.1 -20.8h10m-5 0v23.6m-5 0h10m-9 -27.6h10m-5 0v24.6m-5 0h10m-9.1 -19.5h10m-5 0v23.9m-5 0h10m-9.1 -26.1h10m-5 0v24m-5 0h10m-9.1 -22.9h10m-5 0v24.8m-5 0h10m-9.1 -28.4h10m-5 0v26.3m-5 0h10m-9.1 -24.9h10m-5 0v26.7m-5 0h10m-9 -25h10m-5 0v25m-5 0h10m-9.1 -26.9h10m-5 0v24.2m-5 0h10m-9.1 -25.4h10m-5 0v25.3m-5 0h10m-9.1 -24.4h10m-5 0v24.5m-5 0h10m-9.1 -27.8h10m-5 0v26.3m-5 0h10m-9.1 -20.8h10m-5 0v26.7m-5 0h10m-9 -28.8h10m-5 0v23.3m-5 0h10m-9.1 -26.7h10m-5 0v23.4m-5 0h10m-9.1 -20.1h10m-5 0v25.8m-5 0h10m-9.1 -20.3h10m-5 0v26.7m-5 0h10m-9.1 -33.8h10m-5 0v24.3m-5 0h10m-9.1 -21.7h10m-5 0v25.5m-5 0h10m-173.1 16.4h10m-5 0v24.5m-5 0h10m-9.1 -22.6h10m-5 0v23.5m-5 0h10m-9.1 -24.5h10m-5 0v24.5m-5 0h10m-9.1 -20.7h10m-5 0v26.3m-5 0h10m-9 -21.9h10m-5 0v25.8m-5 0h10m-9.1 -28.4h10m-5 0v24m-5 0h10m-9.1 -26.2h10m-5 0v26.5m-5 0h10m-9.1 -16.6h10m-5 0v25.8m-5 0h10m-9.1 -34.5h10m-5 0v26.7m-5 0h10m-9.1 -28.6h10m-5 0v24m-5 0h10m-9 -30.5h10m-5 0v25.3m-5 0h10m-9.1 -21.8h10m-5 0v25.7m-5 0h10m-9.1 -24.3h10m-5 0v23.3m-5 0h10m-9.1 -23.9h10m-5 0v24.8m-5 0h10m-9.1 -30.5h10m-5 0v26.1m-5 0h10m-9.1 -31.7h10m-5 0v26.3m-5 0h10m-9 -7.8h10m-5 0v23.7m-5 0h10m-9.1 -23.3h10m-5 0v24.3m-5 0h10m-9.1 -31.3h10m-5 0v23.9m-5 0h10m-9.1 -33.3h10m-5 0v25.4m-5 0h10m-9.1 -25.7h10m-5 0v23.9m-5 0h10m-9.1 -38h10m-5 0v26.2m-5 0h10m-9 -19h10m-5 0v25.6m-5 0h10m-9.1 -30.4h10m-5 0v24m-5 0h10m-9.1 -29.7h10m-5 0v26m-5 0h10m-9.1 -19.1h10m-5 0v23.7m-5 0h10m-9.1 -20h10m-5 0v26.2m-5 0h10m-9.1 -33.2h10m-5 0v24m-5 0h10m-9 -21.2h10m-5 0v25m-5 0h10m-9.1 -24.2h10m-5 0v23.4m-5 0h10m-9.1 -26.2h10m-5 0v24.4m-5 0h10m-9.1 -21.7h10m-5 0v24.2m-5 0h10m-9.1 -29.5h10m-5 0v26.8m-5 0h10m-9.1 -17.3h10m-5 0v25.8m-5 0h10m-9 -32.7h10m-5 0v26.2m-5 0h10m-9.1 -6h10m-5 0v26m-5 0h10m-9.1 -29h10m-5 0v23.6m-5 0h10m-9.1 -32.5h10m-5 0v25.3m-5 0h10m-9.1 -29.9h10m-5 0v24.4m-5 0h10m-9.1 -18.9h10m-5 0v24.6m-5 0h10m-9 -23.5h10m-5 0v23.8m-5 0h10m-9.1 -30.5h10m-5 0v25.9m-5 0h10m-9.1 -11.4h10m-5 0v24.4m-5 0h10m-9.1 -23.7h10m-5 0v24m-5 0h10m-9.1 -28.2h10m-5 0v23.4m-5 0h10m-9.1 -20.8h10m-5 0v25.9m-5 0h10m-9 -30.2h10m-5 0v26.4m-5 0h10m-9.1 -27.7h10m-5 0v23.6m-5 0h10m-9.1 -19.3h10m-5 0v24.2m-5 0h10m-9.1 -27.6h10m-5 0v25.2m-5 0h10m-9.1 -30.5h10m-5 0v25.8m-5 0h10m-9.1 -16.3h10m-5 0v25.1m-5 0h10m-9 -22.3h10m-5 0v25.9m-5 0h10m-9.1 -33.7h10m-5 0v26.1m-5 0h10m-9.1 -15.4h10m-5 0v24.8m-5 0h10m-9.1 -19.7h10m-5 0v25.8m-5 0h10m-9.1 -37.7h10m-5 0v26m-5 0h10m-9.1 -22.6h10m-5 0v23.7m-5 0h10m-9 -23.4h10m-5 0v25.2m-5 0h10m-9.1 -23.3h10m-5 0v24.4m-5 0h10m-9.1 -24.9h10m-5 0v24.2m-5 0h10m-9.1 -23.4h10m-5 0v26.5m-5 0h10m-9.1 -27.4h10m-5 0v26.5m-5 0h10m-9.1 -28.3h10m-5 0v23.7m-5 0h10m-9 -19.6h10m-5 0v26.3m-5 0h10m-9.1 -25.5h10m-5 0v26m-5 0h10m-9.1 -32.7h10m-5 0v24.7m-5 0h10m-9.1 -18.6h10m-5 0v24.6m-5 0h10m-9.1 -26.8h10m-5 0v24.6m-5 0h10m-9.1 -24.8h10m-5 0v26.5m-5 0h10m-9 -28h10m-5 0v24.8m-5 0h10m-9.1 -25.4h10m-5 0v25.1m-5 0h10m-9.1 -24.3h10m-5 0v25.5m-5 0h10m-9.1 -22h10m-5 0v23.8m-5 0h10m-9.1 -23.9h10m-5 0v23.4m-5 0h10m-9.1 -27.5h10m-5 0v25.9m-5 0h10m-9 -29.9h10m-5 0v24.7m-5 0h10m-9.1 -15.8h10m-5 0v26.1m-5 0h10m-9.1 -30.5h10m-5 0v26.3m-5 0h10m-9.1 -26.1h10m-5 0v23.6m-5 0h10m-9.1 -20.8h10m-5 0v24.2m-5 0h10m-9.1 -26.1h10m-5 0v24.5m-5 0h10m-9 -24.1h10m-5 0v26.4m-5 0h10m-9.1 -27.3h10m-5 0v24.2m-5 0h10m-9.1 -26.6h10m-5 0v24.9m-5 0h10m-9.1 -19.9h10m-5 0v25.6m-5 0h10m-9.1 -27.8h10m-5 0v26.7m-5 0h10m-9.1 -26.2h10m-5 0v24.6m-5 0h10m-9 -25.1h10m-5 0v26.7m-5 0h10m-9.1 -26.3h10m-5 0v26.1m-5 0h10m-9.1 -20.8h10m-5 0v26.2m-5 0h10m-9.1 -31.7h10m-5 0v25m-5 0h10m-9.1 -22.6h10m-5 0v25.9m-5 0h10m-9.1 -26.4h10m-5 0v23.5m-5 0h10m-9 -26.7h10m-5 0v25.6m-5 0h10m-9.1 -25.2h10m-5 0v24.6m-5 0h10m-9.1 -21.3h10m-5 0v24m-5 0h10m-9.1 -24.7h10m-5 0v26.4m-5 0h10m-9.1 -24.8h10m-5 0v23.5m-5 0h10m-9.1 -21.4h10m-5 0v24.7m-5 0h10m-9.1 -31h10m-5 0v25.1m-5 0h10m-9 -25.7h10m-5 0v26.7m-5 0h10m-9.1 -20.5h10m-5 0v25.6m-5 0h10m-9.1 -28.9h10m-5 0v23.8m-5 0h10m-9.1 -22.1h10m-5 0v25.4m-5 0h10m-9.1 -20.7h10m-5 0v26.1m-5 0h10m-9.1 -31.2h10m-5 0v25.7m-5 0h10m-9 -25h10m-5 0v25.3m-5 0h10m-9.1 -23.7h10m-5 0v24.3m-5 0h10m-9.1 -20.6h10m-5 0v24.7m-5 0h10m-9.1 -28.2h10m-5 0v26.4m-5 0h10m-9.1 -20.7h10m-5 0v23.4m-5 0h10m-9.1 -30.5h10m-5 0v25.1m-5 0h10m-9 -24.3h10m-5 0v24.3m-5 0h10m-9.1 -22.2h10m-5 0v24m-5 0h10m-9.1 -23.8h10m-5 0v24m-5 0h10m-9.1 -30.8h10m-5 0v24m-5 0h10m-9.1 -17.7h10m-5 0v26.4m-5 0h10m-9.1 -32.4h10m-5 0v26.9m-5 0h10m-9 -24.6h10m-5 0v26.1m-5 0h10m-9.1 -29.1h10m-5 0v26.7m-5 0h10m-9.1 -17.4h10m-5 0v23.8m-5 0h10m-9.1 -29.6h10m-5 0v26.8m-5 0h10m-9.1 -28.2h10m-5 0v24.1m-5 0h10m-9.1 -20.3h10m-5 0v24.1m-5 0h10m-9 -21.1h10m-5 0v24.5m-5 0h10m-9.1 -23.4h10m-5 0v24.9m-5 0h10m-9.1 -29.2h10m-5 0v26.4m-5 0h10m-9.1 -31.1h10m-5 0v26.2m-5 0h10m-9.1 -26.6h10m-5 0v23.8m-5 0h10m-9.1 -21.4h10m-5 0v26.1m-5 0h10m-9 -28.3h10m-5 0v25.5m-5 0h10m-9.1 -26.6h10m-5 0v26.7m-5 0h10m-9.1 -25.2h10m-5 0v25.6m-5 0h10m-9.1 -21.4h10m-5 0v24.7m-5 0h10m-9.1 -28.9h10m-5 0v25m-5 0h10m-9.1 -21.1h10m-5 0v26.6m-5 0h10m-9 -27.7h10m-5 0v23.4m-5 0h10m-9.1 -26.5h10m-5 0v26.6m-5 0h10m-9.1 -26.3h10m-5 0v25m-5 0h10m-9.1 -21.1h10m-5 0v23.7m-5 0h10m-9.1 -28.4h10m-5 0v26.5m-5 0h10m-9.1 -27.5h10m-5 0v26.2m-5 0h10m-9 -24h10m-5 0v24.3m-5 0h10m-9.1 -22.2h10m-5 0v24.9m-5 0h10m-9.1 -25.8h10m-5 0v24.4m-5 0h10m-9.1 -23.9h10m-5 0v24.5m-5 0h10m-9.1 -25.2h10m-5 0v25.7m-5 0h10m-9.1 -27.7h10m-5 0v26.3m-5 0h10m-9 -25.9h10m-5 0v23.9m-5 0h10m-9.1 -20.9h10m-5 0v24m-5 0h10m-9.1 -25.7h10m-5 0v23.9m-5 0h10m-9.1 -23.6h10m-5 0v26.2m-5 0h10m-9.1 -24.6h10m-5 0v23.7m-5 0h10m-9.1 -21.3h10m-5 0v24.9m-5 0h10m-9 -28h10m-5 0v23.8m-5 0h10m-9.1 -22.9h10m-5 0v24.4m-5 0h10m-9.1 -25.3h10m-5 0v23.7m-5 0h10m-9.1 -25.9h10m-5 0v24m-5 0h10m-9.1 -24.6h10m-5 0v26.1m-5 0h10m-9.1 -26h10m-5 0v25.7m-5 0h10m-9 -22.5h10m-5 0v25.5m-5 0h10m-9.1 -22.2h10m-5 0v24.6m-5 0h10m-9.1 -27.6h10m-5 0v24.4m-5 0h10m-9.1 -24.7h10m-5 0v23.5m-5 0h10m-9.1 -24.3h10m-5 0v24.6m-5 0h10m-9.1 -28h10m-5 0v26.2m-5 0h10m-9 -22.1h10m-5 0v24.3m-5 0h10m-9.1 -26.8h10m-5 0v24.1m-5 0h10m-9.1 -18.7h10m-5 0v23.4m-5 0h10m-9.1 -22.8h10m-5 0v25.9m-5 0h10m-9.1 -30.1h10m-5 0v23.8m-5 0h10m-9.1 -18.9h10m-5 0v23.9m-5 0h10m-9 -23h10m-5 0v23.6m-5 0h10m-9.1 -27.7h10m-5 0v25.5m-5 0h10m-9.1 -27.5h10m-5 0v23.8m-5 0h10m-9.1 -27.1h10m-5 0v25.6m-5 0h10m-9.1 -23h10m-5 0v25.4m-5 0h10m-9.1 -28.6h10m-5 0v26.6m-5 0h10m-173.1 21.6h10m-5 0v24m-5 0h10m-9.1 -19.4h10m-5 0v26.6m-5 0h10m-9.1 -26.3h10m-5 0v26m-5 0h10m-9.1 -32.9h10m-5 0v26.7m-5 0h10m-9 -16.8h10m-5 0v24m-5 0h10m-9.1 -30.3h10m-5 0v24.1m-5 0h10m-9.1 -21.4h10m-5 0v25.1m-5 0h10m-9.1 -24.3h10m-5 0v24.2m-5 0h10m-9.1 -26.4h10m-5 0v25.8m-5 0h10m-9.1 -23.4h10m-5 0v23.5m-5 0h10m-9 -20.7h10m-5 0v23.9m-5 0h10m-9.1 -23.1h10m-5 0v26.6m-5 0h10m-9.1 -35h10m-5 0v24.2m-5 0h10m-9.1 -28.4h10m-5 0v26.4m-5 0h10m-9.1 -17.8h10m-5 0v26.2m-5 0h10m-9.1 -20.1h10m-5 0v26m-5 0h10m-9 -27.8h10m-5 0v26.6m-5 0h10m-9.1 -40.8h10m-5 0v25.3m-5 0h10m-9.1 -24.8h10m-5 0v23.3m-5 0h10m-9.1 -27.4h10m-5 0v24.4m-5 0h10m-9.1 -32.8h10m-5 0v24.6m-5 0h10m-9.1 -20.9h10m-5 0v24.3m-5 0h10m-9 -31.1h10m-5 0v25m-5 0h10m-9.1 -33.3h10m-5 0v26.4m-5 0h10m-9.1 -17.8h10m-5 0v25m-5 0h10m-9.1 -37.6h10m-5 0v26.4m-5 0h10m-9.1 -8.6h10m-5 0v23.4m-5 0h10m-9.1 -25.1h10m-5 0v23.4m-5 0h10m-9 -20.7h10m-5 0v24.9m-5 0h10m-9.1 -30.1h10m-5 0v25.1m-5 0h10m-9.1 -15.2h10m-5 0v24.1m-5 0h10m-9.1 -28.2h10m-5 0v24.5m-5 0h10m-9.1 -19.8h10m-5 0v26.6m-5 0h10m-9.1 -34.4h10m-5 0v26.4m-5 0h10m-9 -24.7h10m-5 0v23.8m-5 0h10m-9.1 -24.8h10m-5 0v26.7m-5 0h10m-9.1 -24.6h10m-5 0v25.4m-5 0h10m-9.1 -23h10m-5 0v25.3m-5 0h10m-9.1 -39.5h10m-5 0v23.6m-5 0h10m-9.1 -8.7h10m-5 0v23.7m-5 0h10m-9 -32.7h10m-5 0v23.6m-5 0h10m-9.1 -6h10m-5 0v24.3m-5 0h10m-9.1 -25h10m-5 0v24.8m-5 0h10m-9.1 -36.7h10m-5 0v24.9m-5 0h10m-9.1 -8.9h10m-5 0v26.9m-5 0h10m-9.1 -29.8h10m-5 0v26.2m-5 0h10m-9 -31.4h10m-5 0v23.6m-5 0h10m-9.1 -29.3h10m-5 0v24.8m-5 0h10m-9.1 -21.3h10m-5 0v26m-5 0h10m-9.1 -17.6h10m-5 0v25.6m-5 0h10m-9.1 -18h10m-5 0v24.1m-5 0h10m-9.1 -35.4h10m-5 0v25m-5 0h10m-9 -26.6h10m-5 0v24.3m-5 0h10m-9.1 -8.6h10m-5 0v25.2m-5 0h10m-9.1 -32h10m-5 0v26.5m-5 0h10m-9.1 -28.6h10m-5 0v24.3m-5 0h10m-9.1 -18.2h10m-5 0v23.6m-5 0h10m-9.1 -26.1h10m-5 0v24.3m-5 0h10m-9 -24.7h10m-5 0v24.9m-5 0h10m-9.1 -24.5h10m-5 0v26.5m-5 0h10m-9.1 -25.6h10m-5 0v25.8m-5 0h10m-9.1 -18.9h10m-5 0v23.6m-5 0h10m-9.1 -29.1h10m-5 0v26.7m-5 0h10m-9.1 -28h10m-5 0v25.6m-5 0h10m-9 -26.7h10m-5 0v25.2m-5 0h10m-9.1 -29.2h10m-5 0v25.2m-5 0h10m-9.1 -26.3h10m-5 0v24m-5 0h10m-9.1 -21.8h10m-5 0v25.4m-5 0h10m-9.1 -21.4h10m-5 0v23.7m-5 0h10m-9.1 -21.8h10m-5 0v26.6m-5 0h10m-9 -27.6h10m-5 0v23.7m-5 0h10m-9.1 -27.8h10m-5 0v25m-5 0h10m-9.1 -21.4h10m-5 0v24.1m-5 0h10m-9.1 -26.3h10m-5 0v26.1m-5 0h10m-9.1 -29h10m-5 0v26.2m-5 0h10m-9.1 -20.1h10m-5 0v25.3m-5 0h10m-9 -25.5h10m-5 0v24.2m-5 0h10m-9.1 -31.3h10m-5 0v26.5m-5 0h10m-9.1 -24.1h10m-5 0v26.3m-5 0h10m-9.1 -26.1h10m-5 0v23.4m-5 0h10m-9.1 -21.8h10m-5 0v23.6m-5 0h10m-9.1 -21.3h10m-5 0v25.5m-5 0h10m-9 -32.2h10m-5 0v26.2m-5 0h10m-9.1 -21.4h10m-5 0v25.6m-5 0h10m-9.1 -27.4h10m-5 0v24.2m-5 0h10m-9.1 -24.7h10m-5 0v24.9m-5 0h10m-9.1 -25h10m-5 0v25.9m-5 0h10m-9.1 -20.4h10m-5 0v23.6m-5 0h10m-9 -28h10m-5 0v24.1m-5 0h10m-9.1 -19.5h10m-5 0v24.6m-5 0h10m-9.1 -29.7h10m-5 0v26.5m-5 0h10m-9.1 -23.4h10m-5 0v24.2m-5 0h10m-9.1 -29.8h10m-5 0v25.3m-5 0h10m-9.1 -19.2h10m-5 0v24m-5 0h10m-9 -25.2h10m-5 0v24.1m-5 0h10m-9.1 -24h10m-5 0v23.9m-5 0h10m-9.1 -19.9h10m-5 0v25.4m-5 0h10m-9.1 -30.3h10m-5 0v26.5m-5 0h10m-9.1 -26.9h10m-5 0v26.7m-5 0h10m-9.1 -23.4h10m-5 0v24.5m-5 0h10m-9.1 -27h10m-5 0v26.6m-5 0h10m-9 -26.5h10m-5 0v24.4m-5 0h10m-9.1 -25.2h10m-5 0v25.7m-5 0h10m-9.1 -25.4h10m-5 0v24.2m-5 0h10m-9.1 -25.6h10m-5 0v24.1m-5 0h10m-9.1 -24.3h10m-5 0v23.7m-5 0h10m-9.1 -20.6h10m-5 0v24.5m-5 0h10m-9 -26.3h10m-5 0v24.3m-5 0h10m-9.1 -24.8h10m-5 0v26.7m-5 0h10m-9.1 -25.8h10m-5 0v26.7m-5 0h10m-9.1 -25.7h10m-5 0v24.6m-5 0h10m-9.1 -23.2h10m-5 0v24.8m-5 0h10m-9.1 -28.7h10m-5 0v26.1m-5 0h10m-9 -26.8h10m-5 0v24m-5 0h10m-9.1 -20.1h10m-5 0v24.3m-5 0h10m-9.1 -23.4h10m-5 0v23.9m-5 0h10m-9.1 -23.5h10m-5 0v26.7m-5 0h10m-9.1 -23.6h10m-5 0v23.9m-5 0h10m-9.1 -23.8h10m-5 0v23.7m-5 0h10m-9 -26.5h10m-5 0v23.5m-5 0h10m-9.1 -19.8h10m-5 0v26.5m-5 0h10m-9.1 -34.9h10m-5 0v26.6m-5 0h10m-9.1 -24.5h10m-5 0v26.7m-5 0h10m-9.1 -23.9h10m-5 0v25.1m-5 0h10m-9.1 -24.2h10m-5 0v26.5m-5 0h10m-9 -29.3h10m-5 0v23.9m-5 0h10m-9.1 -21.4h10m-5 0v25.1m-5 0h10m-9.1 -30.5h10m-5 0v23.6m-5 0h10m-9.1 -18.5h10m-5 0v24m-5 0h10m-9.1 -25.4h10m-5 0v23.5m-5 0h10m-9.1 -20.7h10m-5 0v24.2m-5 0h10m-9 -29.3h10m-5 0v23.9m-5 0h10m-9.1 -24.1h10m-5 0v26.7m-5 0h10m-9.1 -26.7h10m-5 0v26.1m-5 0h10m-9.1 -28.5h10m-5 0v23.9m-5 0h10m-9.1 -18.1h10m-5 0v24.8m-5 0h10m-9.1 -22.5h10m-5 0v24.3m-5 0h10m-9 -24.1h10m-5 0v23.7m-5 0h10m-9.1 -27.7h10m-5 0v24.3m-5 0h10m-9.1 -25.7h10m-5 0v24.7m-5 0h10m-9.1 -25.5h10m-5 0v26.1m-5 0h10m-9.1 -28.4h10m-5 0v25.9m-5 0h10m-9.1 -26.9h10m-5 0v24.8m-5 0h10m-9 -19.2h10m-5 0v23.4m-5 0h10m-9.1 -30h10m-5 0v26.8m-5 0h10m-9.1 -21.4h10m-5 0v25.8m-5 0h10m-9.1 -24.6h10m-5 0v26.1m-5 0h10m-9.1 -30.3h10m-5 0v25.9m-5 0h10m-9.1 -25.7h10m-5 0v25.2m-5 0h10m-9 -25h10m-5 0v25.9m-5 0h10m-9.1 -21.6h10m-5 0v26.1m-5 0h10m-9.1 -32.3h10m-5 0v25.8m-5 0h10m-9.1 -23.5h10m-5 0v26.2m-5 0h10m-9.1 -23.2h10m-5 0v26.1m-5 0h10m-9.1 -27h10m-5 0v23.4m-5 0h10m-9 -25h10m-5 0v25.5m-5 0h10m-9.1 -23.9h10m-5 0v23.5m-5 0h10m-9.1 -22.5h10m-5 0v24.4m-5 0h10m-9.1 -31.1h10m-5 0v26.3m-5 0h10m-9.1 -20.1h10m-5 0v25.6m-5 0h10m-9.1 -26.9h10m-5 0v24m-5 0h10m-9 -23.4h10m-5 0v25.6m-5 0h10m-9.1 -25.9h10m-5 0v25m-5 0h10m-9.1 -20.1h10m-5 0v25.4m-5 0h10m-9.1 -34.3h10m-5 0v24.4m-5 0h10m-9.1 -22.9h10m-5 0v23.9m-5 0h10m-9.1 -20h10m-5 0v23.7m-5 0h10m-9 -27.1h10m-5 0v23.6m-5 0h10m-9.1 -23h10m-5 0v26.8m-5 0h10m-9.1 -28.3h10m-5 0v24.7m-5 0h10m-9.1 -23h10m-5 0v24.7m-5 0h10m-9.1 -21.9h10m-5 0v25.6m-5 0h10m-9.1 -27.7h10m-5 0v23.9m-5 0h10m-9 -25h10m-5 0v25.5m-5 0h10m-9.1 -24.6h10m-5 0v24.3m-5 0h10m-9.1 -20.7h10m-5 0v24.5m-5 0h10m-9.1 -29.6h10m-5 0v26.1m-5 0h10m-9.1 -27.4h10m-5 0v25.5m-5 0h10m-9.1 -23.8h10m-5 0v24m-5 0h10m-173.1 19.4h10m-5 0v24.6m-5 0h10m-9.1 -27.6h10m-5 0v26.2m-5 0h10m-9.1 -28.6h10m-5 0v25.2m-5 0h10m-9.1 -18.2h10m-5 0v25.4m-5 0h10m-9 -30.8h10m-5 0v23.9m-5 0h10m-9.1 -20.2h10m-5 0v25.4m-5 0h10m-9.1 -33.4h10m-5 0v26.1m-5 0h10m-9.1 -17.5h10m-5 0v24.8m-5 0h10m-9.1 -33.4h10m-5 0v24.5m-5 0h10m-9.1 -29.2h10m-5 0v24.3m-5 0h10m-9 -14.3h10m-5 0v25.1m-5 0h10m-9.1 -27.9h10m-5 0v24.5m-5 0h10m-9.1 -24.1h10m-5 0v23.4m-5 0h10m-9.1 -22h10m-5 0v24.6m-5 0h10m-9.1 -21.9h10m-5 0v26.4m-5 0h10m-9.1 -32.1h10m-5 0v25.7m-5 0h10m-9 -20h10m-5 0v24.7m-5 0h10m-9.1 -27.9h10m-5 0v23.8m-5 0h10m-9.1 -36.2h10m-5 0v26.3m-5 0h10m-9.1 -33.1h10m-5 0v25.9m-5 0h10m-9.1 -34.9h10m-5 0v26m-5 0h10m-9.1 -22.7h10m-5 0v26.4m-5 0h10m-9 -26.5h10m-5 0v24.6m-5 0h10m-9.1 -37.7h10m-5 0v23.3m-5 0h10m-9.1 -0.4h10m-5 0v26.8m-5 0h10m-9.1 -37.8h10m-5 0v25.1m-5 0h10m-9.1 -31.6h10m-5 0v24.9m-5 0h10m-9.1 -17.9h10m-5 0v25.6m-5 0h10m-9 -12.2h10m-5 0v24m-5 0h10m-9.1 -24.3h10m-5 0v25.9m-5 0h10m-9.1 -19.3h10m-5 0v25.9m-5 0h10m-9.1 -30.3h10m-5 0v25.5m-5 0h10m-9.1 -19.4h10m-5 0v25.9m-5 0h10m-9.1 -44.4h10m-5 0v25.2m-5 0h10m-9 -14h10m-5 0v23.9m-5 0h10m-9.1 -18.5h10m-5 0v26.7m-5 0h10m-9.1 -43.2h10m-5 0v25.4m-5 0h10m-9.1 -11.8h10m-5 0v25.1m-5 0h10m-9.1 -20.9h10m-5 0v26.8m-5 0h10m-9.1 -37.7h10m-5 0v25.4m-5 0h10m-9 -18.6h10m-5 0v23.5m-5 0h10m-9.1 -10.6h10m-5 0v26.2m-5 0h10m-9.1 -36.3h10m-5 0v23.3m-5 0h10m-9.1 -31.1h10m-5 0v23.5m-5 0h10m-9.1 -4.6h10m-5 0v24.2m-5 0h10m-9.1 -34.6h10m-5 0v24m-5 0h10m-9 -27.2h10m-5 0v25.8m-5 0h10m-9.1 -19.6h10m-5 0v26.6m-5 0h10m-9.1 -35.4h10m-5 0v25.6m-5 0h10m-9.1 -18.1h10m-5 0v25.7m-5 0h10m-9.1 -35h10m-5 0v25.1m-5 0h10m-9.1 -15.3h10m-5 0v24.2m-5 0h10m-9 -20.5h10m-5 0v25.2m-5 0h10m-9.1 -25.3h10m-5 0v23.7m-5 0h10m-9.1 -25.7h10m-5 0v24.7m-5 0h10m-9.1 -22.8h10m-5 0v24.9m-5 0h10m-9.1 -26.7h10m-5 0v25.9m-5 0h10m-9.1 -29.1h10m-5 0v25.6m-5 0h10m-9 -15.9h10m-5 0v23.4m-5 0h10m-9.1 -23.9h10m-5 0v24.3m-5 0h10m-9.1 -25.2h10m-5 0v25.3m-5 0h10m-9.1 -26.9h10m-5 0v25m-5 0h10m-9.1 -25.6h10m-5 0v23.7m-5 0h10m-9.1 -24.3h10m-5 0v23.4m-5 0h10m-9 -21h10m-5 0v25.6m-5 0h10m-9.1 -30.2h10m-5 0v24.9m-5 0h10m-9.1 -20.4h10m-5 0v24.4m-5 0h10m-9.1 -27.4h10m-5 0v25.3m-5 0h10m-9.1 -27.4h10m-5 0v25m-5 0h10m-9.1 -23.9h10m-5 0v25.9m-5 0h10m-9 -21.6h10m-5 0v25.3m-5 0h10m-9.1 -25.3h10m-5 0v24m-5 0h10m-9.1 -26.2h10m-5 0v25.4m-5 0h10m-9.1 -25.7h10m-5 0v24.2m-5 0h10m-9.1 -19.6h10m-5 0v25.9m-5 0h10m-9.1 -24.8h10m-5 0v23.7m-5 0h10m-9 -26.1h10m-5 0v26.2m-5 0h10m-9.1 -30.4h10m-5 0v26.2m-5 0h10m-9.1 -23.4h10m-5 0v26.2m-5 0h10m-9.1 -23.6h10m-5 0v23.4m-5 0h10m-9.1 -20.9h10m-5 0v26.3m-5 0h10m-9.1 -26.3h10m-5 0v26.3m-5 0h10m-9 -30h10m-5 0v24.2m-5 0h10m-9.1 -21.4h10m-5 0v25.9m-5 0h10m-9.1 -32.1h10m-5 0v26.6m-5 0h10m-9.1 -21.4h10m-5 0v25.3m-5 0h10m-9.1 -29.3h10m-5 0v26.8m-5 0h10m-9.1 -27.2h10m-5 0v23.6m-5 0h10m-9 -24.1h10m-5 0v25m-5 0h10m-9.1 -24.1h10m-5 0v25.8m-5 0h10m-9.1 -31.7h10m-5 0v25.6m-5 0h10m-9.1 -18.8h10m-5 0v24.2m-5 0h10m-9.1 -25.4h10m-5 0v24.1m-5 0h10m-9.1 -22.6h10m-5 0v25.6m-5 0h10m-9 -28.8h10m-5 0v25.2m-5 0h10m-9.1 -24.8h10m-5 0v23.8m-5 0h10m-9.1 -23.8h10m-5 0v24.4m-5 0h10m-9.1 -22h10m-5 0v24.7m-5 0h10m-9.1 -25.9h10m-5 0v23.4m-5 0h10m-9.1 -19.2h10m-5 0v25.3m-5 0h10m-9.1 -26.4h10m-5 0v23.4m-5 0h10m-9 -27.8h10m-5 0v25.6m-5 0h10m-9.1 -17.1h10m-5 0v23.4m-5 0h10m-9.1 -26h10m-5 0v24.4m-5 0h10m-9.1 -30.7h10m-5 0v23.8m-5 0h10m-9.1 -23.1h10m-5 0v24.8m-5 0h10m-9.1 -23.6h10m-5 0v24.9m-5 0h10m-9 -24.7h10m-5 0v24.3m-5 0h10m-9.1 -29.1h10m-5 0v25m-5 0h10m-9.1 -21.7h10m-5 0v24.4m-5 0h10m-9.1 -23h10m-5 0v26.4m-5 0h10m-9.1 -22.4h10m-5 0v24.8m-5 0h10m-9.1 -28.6h10m-5 0v23.6m-5 0h10m-9 -20.9h10m-5 0v24.8m-5 0h10m-9.1 -27.7h10m-5 0v24.9m-5 0h10m-9.1 -23.5h10m-5 0v24.8m-5 0h10m-9.1 -30.6h10m-5 0v24.9m-5 0h10m-9.1 -19.8h10m-5 0v25.2m-5 0h10m-9.1 -27h10m-5 0v25m-5 0h10m-9 -29.8h10m-5 0v26.7m-5 0h10m-9.1 -15.2h10m-5 0v23.7m-5 0h10m-9.1 -29.7h10m-5 0v26.6m-5 0h10m-9.1 -21.9h10m-5 0v23.4m-5 0h10m-9.1 -32.7h10m-5 0v24.8m-5 0h10m-9.1 -21.9h10m-5 0v25.6m-5 0h10m-9 -23.1h10m-5 0v23.6m-5 0h10m-9.1 -24.7h10m-5 0v24.5m-5 0h10m-9.1 -25.5h10m-5 0v23.4m-5 0h10m-9.1 -23h10m-5 0v23.7m-5 0h10m-9.1 -22.4h10m-5 0v23.6m-5 0h10m-9.1 -27.2h10m-5 0v26.3m-5 0h10m-9 -24.9h10m-5 0v26.8m-5 0h10m-9.1 -29.6h10m-5 0v24.1m-5 0h10m-9.1 -16.3h10m-5 0v25.5m-5 0h10m-9.1 -27.6h10m-5 0v26m-5 0h10m-9.1 -28.5h10m-5 0v25.6m-5 0h10m-9.1 -25.1h10m-5 0v24.9m-5 0h10m-9 -21h10m-5 0v25m-5 0h10m-9.1 -29.9h10m-5 0v25.4m-5 0h10m-9.1 -24.6h10m-5 0v26.3m-5 0h10m-9.1 -27.3h10m-5 0v24.4m-5 0h10m-9.1 -20h10m-5 0v26.5m-5 0h10m-9.1 -30h10m-5 0v25.4m-5 0h10m-9 -22.6h10m-5 0v26.8m-5 0h10m-9.1 -28h10m-5 0v26.5m-5 0h10m-9.1 -27.8h10m-5 0v26.6m-5 0h10m-9.1 -22.9h10m-5 0v25.6m-5 0h10m-9.1 -25.2h10m-5 0v23.9m-5 0h10m-9.1 -30.9h10m-5 0v26.4m-5 0h10m-9 -18.2h10m-5 0v24.7m-5 0h10m-9.1 -29.9h10m-5 0v26.6m-5 0h10m-9.1 -28.7h10m-5 0v26.2m-5 0h10m-9.1 -25.8h10m-5 0v24.2m-5 0h10m-9.1 -20.9h10m-5 0v26.6m-5 0h10m-9.1 -22.9h10m-5 0v23.7m-5 0h10m-9 -30.6h10m-5 0v25.8m-5 0h10m-9.1 -20.8h10m-5 0v25m-5 0h10m-9.1 -26h10m-5 0v24.2m-5 0h10m-9.1 -22.5h10m-5 0v25.3m-5 0h10m-9.1 -23.7h10m-5 0v26.2m-5 0h10m-9.1 -27.1h10m-5 0v24m-5 0h10m-9 -25.2h10m-5 0v24.7m-5 0h10m-9.1 -20.7h10m-5 0v24.8m-5 0h10m-9.1 -34h10m-5 0v25.5m-5 0h10m-9.1 -21.7h10m-5 0v26.8m-5 0h10m-9.1 -31h10m-5 0v24.3m-5 0h10m-9.1 -22.9h10m-5 0v23.8m-5 0h10m-9 -19.3h10m-5 0v23.8m-5 0h10m-9.1 -26.9h10m-5 0v26.7m-5 0h10m-9.1 -25.4h10m-5 0v26.1m-5 0h10m-9.1 -27.7h10m-5 0v26.4m-5 0h10m-9.1 -26h10m-5 0v24.5m-5 0h10m-9.1 -25.2h10m-5 0v23.7m-5 0h10m-9 -24.9h10m-5 0v25.2m-5 0h10m-9.1 -24.7h10m-5 0v25.1m-5 0h10m-9.1 -23.2h10m-5 0v25.1m-5 0h10m-9.1 -22.1h10m-5 0v24m-5 0h10m-9.1 -30.1h10m-5 0v26.6m-5 0h10m-9.1 -24.4h10m-5 0v24.7m-5 0h10m-173.1 27.2h10m-5 0v26m-5 0h10m-9.1 -34.7h10m-5 0v26.8m-5 0h10m-9.1 -33h10m-5 0v26.4m-5 0h10m-9.1 -19.2h10m-5 0v26.2m-5 0h10m-9 -27.9h10m-5 0v26m-5 0h10m-9.1 -28.4h10m-5 0v24.9m-5 0h10m-9.1 -27.5h10m-5 0v24.7m-5 0h10m-9.1 -16.9h10m-5 0v24.3m-5 0h10m-9.1 -31.7h10m-5 0v25.6m-5 0h10m-9.1 -19.7h10m-5 0v23.6m-5 0h10m-9 -30h10m-5 0v26m-5 0h10m-9.1 -26.6h10m-5 0v25.8m-5 0h10m-9.1 -23h10m-5 0v24.9m-5 0h10m-9.1 -27.3h10m-5 0v25.4m-5 0h10m-9.1 -20h10m-5 0v25.1m-5 0h10m-9.1 -22.5h10m-5 0v26.3m-5 0h10m-9 -18.5h10m-5 0v24.5m-5 0h10m-9.1 -53h10m-5 0v26.6m-5 0h10m-9.1 -20.2h10m-5 0v23.7m-5 0h10m-9.1 -29h10m-5 0v25.8m-5 0h10m-9.1 -24.9h10m-5 0v25.2m-5 0h10m-9.1 -24.8h10m-5 0v26.7m-5 0h10m-9 -31.2h10m-5 0v24.3m-5 0h10m-9.1 -43h10m-5 0v26.1m-5 0h10m-9.1 -8.9h10m-5 0v26.4m-5 0h10m-9.1 -23.7h10m-5 0v26.6m-5 0h10m-9.1 -33.8h10m-5 0v26.7m-5 0h10m-9.1 -28h10m-5 0v23.8m-5 0h10m-9 -18.1h10m-5 0v25.2m-5 0h10m-9.1 -14.8h10m-5 0v25.9m-5 0h10m-9.1 -36.2h10m-5 0v23.9m-5 0h10m-9.1 -26.1h10m-5 0v24m-5 0h10m-9.1 -9.9h10m-5 0v25.5m-5 0h10m-9.1 -37.3h10m-5 0v24.5m-5 0h10m-9 -11.5h10m-5 0v26.7m-5 0h10m-9.1 -39.8h10m-5 0v25m-5 0h10m-9.1 -18.5h10m-5 0v25.7m-5 0h10m-9.1 -19.6h10m-5 0v24.3m-5 0h10m-9.1 -33.7h10m-5 0v25.9m-5 0h10m-9.1 -10.1h10m-5 0v26.8m-5 0h10m-9 -39.1h10m-5 0v26.4m-5 0h10m-9.1 -13.9h10m-5 0v26.1m-5 0h10m-9.1 -34.5h10m-5 0v24m-5 0h10m-9.1 -8.7h10m-5 0v26.2m-5 0h10m-9.1 -43.1h10m-5 0v23.8m-5 0h10m-9.1 -13.8h10m-5 0v23.4m-5 0h10m-9 -33h10m-5 0v25.5m-5 0h10m-9.1 -8.7h10m-5 0v24.7m-5 0h10m-9.1 -42.9h10m-5 0v25m-5 0h10m-9.1 -11.3h10m-5 0v25.3m-5 0h10m-9.1 -27.7h10m-5 0v24.9m-5 0h10m-9.1 -14.7h10m-5 0v23.8m-5 0h10m-9 -27.6h10m-5 0v24m-5 0h10m-9.1 -15.3h10m-5 0v23.8m-5 0h10m-9.1 -35.6h10m-5 0v24.9m-5 0h10m-9.1 -25h10m-5 0v24.5m-5 0h10m-9.1 -25.6h10m-5 0v25.5m-5 0h10m-9.1 -22.8h10m-5 0v25.5m-5 0h10m-9 -26.3h10m-5 0v26m-5 0h10m-9.1 -22.9h10m-5 0v24.7m-5 0h10m-9.1 -29.3h10m-5 0v26.5m-5 0h10m-9.1 -22.6h10m-5 0v23.3m-5 0h10m-9.1 -29.7h10m-5 0v26.3m-5 0h10m-9.1 -27.5h10m-5 0v23.8m-5 0h10m-9 -14.4h10m-5 0v24.5m-5 0h10m-9.1 -28.5h10m-5 0v24.5m-5 0h10m-9.1 -20.9h10m-5 0v23.5m-5 0h10m-9.1 -24.6h10m-5 0v25.4m-5 0h10m-9.1 -28.3h10m-5 0v24.1m-5 0h10m-9.1 -25.2h10m-5 0v24.8m-5 0h10m-9 -22.5h10m-5 0v24.5m-5 0h10m-9.1 -27.3h10m-5 0v24.3m-5 0h10m-9.1 -22.1h10m-5 0v24.3m-5 0h10m-9.1 -22.9h10m-5 0v24.8m-5 0h10m-9.1 -30.9h10m-5 0v25.1m-5 0h10m-9.1 -21.7h10m-5 0v24.4m-5 0h10m-9 -23.1h10m-5 0v24.7m-5 0h10m-9.1 -27h10m-5 0v25.4m-5 0h10m-9.1 -25h10m-5 0v24.2m-5 0h10m-9.1 -21.3h10m-5 0v23.8m-5 0h10m-9.1 -28.2h10m-5 0v26.1m-5 0h10m-9.1 -18h10m-5 0v24m-5 0h10m-9 -25.5h10m-5 0v25m-5 0h10m-9.1 -28.1h10m-5 0v23.8m-5 0h10m-9.1 -20.4h10m-5 0v24.6m-5 0h10m-9.1 -32.4h10m-5 0v24.8m-5 0h10m-9.1 -20.9h10m-5 0v25.2m-5 0h10m-9.1 -27.7h10m-5 0v24.4m-5 0h10m-9 -21.6h10m-5 0v23.4m-5 0h10m-9.1 -23h10m-5 0v25.2m-5 0h10m-9.1 -26.3h10m-5 0v25.9m-5 0h10m-9.1 -28.7h10m-5 0v25.6m-5 0h10m-9.1 -21.6h10m-5 0v23.8m-5 0h10m-9.1 -20.3h10m-5 0v26m-5 0h10m-9 -34.6h10m-5 0v25.6m-5 0h10m-9.1 -20.1h10m-5 0v24.4m-5 0h10m-9.1 -24.1h10m-5 0v23.8m-5 0h10m-9.1 -24.3h10m-5 0v25m-5 0h10m-9.1 -23.1h10m-5 0v25.6m-5 0h10m-9.1 -20h10m-5 0v23.6m-5 0h10m-9.1 -29h10m-5 0v23.4m-5 0h10m-9 -24.7h10m-5 0v26.4m-5 0h10m-9.1 -28.5h10m-5 0v25.8m-5 0h10m-9.1 -25.4h10m-5 0v24.7m-5 0h10m-9.1 -23.7h10m-5 0v25.4m-5 0h10m-9.1 -24h10m-5 0v24.1m-5 0h10m-9.1 -31.9h10m-5 0v26.4m-5 0h10m-9 -21.7h10m-5 0v23.5m-5 0h10m-9.1 -22.3h10m-5 0v23.5m-5 0h10m-9.1 -21h10m-5 0v25.9m-5 0h10m-9.1 -28.2h10m-5 0v26m-5 0h10m-9.1 -27.4h10m-5 0v25.1m-5 0h10m-9.1 -22.1h10m-5 0v24.6m-5 0h10m-9 -25.2h10m-5 0v23.7m-5 0h10m-9.1 -24.1h10m-5 0v25.3m-5 0h10m-9.1 -27.5h10m-5 0v25.2m-5 0h10m-9.1 -26.1h10m-5 0v23.8m-5 0h10m-9.1 -22.8h10m-5 0v24.6m-5 0h10m-9.1 -24h10m-5 0v24.2m-5 0h10m-9 -26h10m-5 0v25m-5 0h10m-9.1 -26.6h10m-5 0v26.4m-5 0h10m-9.1 -15.3h10m-5 0v24.6m-5 0h10m-9.1 -29.9h10m-5 0v25.9m-5 0h10m-9.1 -26.6h10m-5 0v24m-5 0h10m-9.1 -25.9h10m-5 0v24.9m-5 0h10m-9 -18.5h10m-5 0v25.9m-5 0h10m-9.1 -30h10m-5 0v24.5m-5 0h10m-9.1 -28.4h10m-5 0v23.4m-5 0h10m-9.1 -21.4h10m-5 0v25.9m-5 0h10m-9.1 -26.5h10m-5 0v25.9m-5 0h10m-9.1 -27.1h10m-5 0v23.7m-5 0h10m-9 -24.5h10m-5 0v26.1m-5 0h10m-9.1 -22.1h10m-5 0v24.9m-5 0h10m-9.1 -27.3h10m-5 0v24.5m-5 0h10m-9.1 -21.6h10m-5 0v23.3m-5 0h10m-9.1 -27.1h10m-5 0v24.2m-5 0h10m-9.1 -25.5h10m-5 0v25.8m-5 0h10m-9 -25.9h10m-5 0v24.9m-5 0h10m-9.1 -24.1h10m-5 0v26.8m-5 0h10m-9.1 -17.1h10m-5 0v23.8m-5 0h10m-9.1 -30.9h10m-5 0v25.2m-5 0h10m-9.1 -23.3h10m-5 0v25.8m-5 0h10m-9.1 -29.1h10m-5 0v24.3m-5 0h10m-9 -26.4h10m-5 0v26.6m-5 0h10m-9.1 -23.9h10m-5 0v25.4m-5 0h10m-9.1 -22.5h10m-5 0v23.6m-5 0h10m-9.1 -26.8h10m-5 0v24.5m-5 0h10m-9.1 -26h10m-5 0v25.2m-5 0h10m-9.1 -25.7h10m-5 0v24.1m-5 0h10m-9 -24h10m-5 0v24.1m-5 0h10m-9.1 -21.9h10m-5 0v26.2m-5 0h10m-9.1 -27.4h10m-5 0v26.1m-5 0h10m-9.1 -24.8h10m-5 0v24.3m-5 0h10m-9.1 -27.9h10m-5 0v25.3m-5 0h10m-9.1 -17.3h10m-5 0v23.5m-5 0h10m-9 -23.7h10m-5 0v24.5m-5 0h10m-9.1 -32.3h10m-5 0v26.4m-5 0h10m-9.1 -25.2h10m-5 0v24.3m-5 0h10m-9.1 -23.1h10m-5 0v24.6m-5 0h10m-9.1 -22.1h10m-5 0v24.4m-5 0h10m-9.1 -27.2h10m-5 0v24.7m-5 0h10m-9 -21.3h10m-5 0v23.8m-5 0h10m-9.1 -22.4h10m-5 0v24.4m-5 0h10m-9.1 -27.4h10m-5 0v23.9m-5 0h10m-9.1 -20.2h10m-5 0v26.2m-5 0h10m-9.1 -30.1h10m-5 0v26.5m-5 0h10m-9.1 -23.7h10m-5 0v24.1m-5 0h10m-9 -25.4h10m-5 0v25.2m-5 0h10m-9.1 -29.4h10m-5 0v24.8m-5 0h10m-9.1 -16.4h10m-5 0v25.1m-5 0h10m-9.1 -30.4h10m-5 0v26.8m-5 0h10m-9.1 -28.5h10m-5 0v25.6m-5 0h10m-9.1 -25.1h10m-5 0v26.3m-5 0h10m-9 -24.7h10m-5 0v25.6m-5 0h10m-9.1 -21.3h10m-5 0v23.9m-5 0h10m-9.1 -31.1h10m-5 0v26.5m-5 0h10m-9.1 -20.9h10m-5 0v25.1m-5 0h10m-9.1 -32h10m-5 0v26.7m-5 0h10m-9.1 -20.4h10m-5 0v25.1m-5 0h10m-173.1 15.5h10m-5 0v26.5m-5 0h10m-9.1 -24.3h10m-5 0v23.6m-5 0h10m-9.1 -19.3h10m-5 0v24.6m-5 0h10m-9.1 -29.9h10m-5 0v24.1m-5 0h10m-9 -26.6h10m-5 0v26.8m-5 0h10m-9.1 -23.5h10m-5 0v24.9m-5 0h10m-9.1 -27.6h10m-5 0v26.4m-5 0h10m-9.1 -23.2h10m-5 0v24.6m-5 0h10m-9.1 -28.5h10m-5 0v24.8m-5 0h10m-9.1 -32.3h10m-5 0v26.2m-5 0h10m-9 -21h10m-5 0v25.7m-5 0h10m-9.1 -26.6h10m-5 0v23.8m-5 0h10m-9.1 -21.1h10m-5 0v23.7m-5 0h10m-9.1 -16.9h10m-5 0v25.7m-5 0h10m-9.1 -24.8h10m-5 0v26.8m-5 0h10m-9.1 -31.5h10m-5 0v26.3m-5 0h10m-9 -28.9h10m-5 0v25.6m-5 0h10m-9.1 -21.3h10m-5 0v26.3m-5 0h10m-9.1 -31.1h10m-5 0v26m-5 0h10m-9.1 -35.1h10m-5 0v23.6m-5 0h10m-9.1 -33.9h10m-5 0v25.9m-5 0h10m-9.1 -16.4h10m-5 0v24.1m-5 0h10m-9 -51.1h10m-5 0v24.3m-5 0h10m-9.1 -14h10m-5 0v26.4m-5 0h10m-9.1 -25.3h10m-5 0v24.2m-5 0h10m-9.1 -19.2h10m-5 0v25.6m-5 0h10m-9.1 -26.8h10m-5 0v26m-5 0h10m-9.1 -35.2h10m-5 0v24.1m-5 0h10m-9 -3.1h10m-5 0v23.6m-5 0h10m-9.1 -30.7h10m-5 0v23.5m-5 0h10m-9.1 -18.2h10m-5 0v23.5m-5 0h10m-9.1 -26.7h10m-5 0v26.4m-5 0h10m-9.1 -22.1h10m-5 0v23.5m-5 0h10m-9.1 -27.7h10m-5 0v25.7m-5 0h10m-9 -22.6h10m-5 0v24.9m-5 0h10m-9.1 -25.5h10m-5 0v26.7m-5 0h10m-9.1 -23.6h10m-5 0v23.7m-5 0h10m-9.1 -21.4h10m-5 0v26.8m-5 0h10m-9.1 -24.9h10m-5 0v23.9m-5 0h10m-9.1 -21.5h10m-5 0v25.2m-5 0h10m-9 -24.1h10m-5 0v25.4m-5 0h10m-9.1 -30.1h10m-5 0v25.5m-5 0h10m-9.1 -25.9h10m-5 0v25.7m-5 0h10m-9.1 -27.6h10m-5 0v24.4m-5 0h10m-9.1 -13.6h10m-5 0v26.5m-5 0h10m-9.1 -29.4h10m-5 0v23.8m-5 0h10m-9 -21.6h10m-5 0v24.2m-5 0h10m-9.1 -34h10m-5 0v25m-5 0h10m-9.1 -6.9h10m-5 0v25.5m-5 0h10m-9.1 -40.9h10m-5 0v24.5m-5 0h10m-9.1 -20.8h10m-5 0v24.6m-5 0h10m-9.1 0.7h10m-5 0v25.8m-5 0h10m-9 -54.8h10m-5 0v24m-5 0h10m-9.1 -7h10m-5 0v23.6m-5 0h10m-9.1 -28h10m-5 0v25.1m-5 0h10m-9.1 -25h10m-5 0v25.3m-5 0h10m-9.1 -28.9h10m-5 0v25.2m-5 0h10m-9.1 -22.1h10m-5 0v23.5m-5 0h10m-9 -24.3h10m-5 0v25.8m-5 0h10m-9.1 -23.9h10m-5 0v26.2m-5 0h10m-9.1 -31.2h10m-5 0v25m-5 0h10m-9.1 -25.7h10m-5 0v24.3m-5 0h10m-9.1 -22h10m-5 0v26.8m-5 0h10m-9.1 -32.2h10m-5 0v25.1m-5 0h10m-9 -20.6h10m-5 0v25.6m-5 0h10m-9.1 -26h10m-5 0v24m-5 0h10m-9.1 -23.1h10m-5 0v23.5m-5 0h10m-9.1 -24.2h10m-5 0v23.8m-5 0h10m-9.1 -23.3h10m-5 0v24.2m-5 0h10m-9.1 -30.6h10m-5 0v23.8m-5 0h10m-9 -17.5h10m-5 0v25.2m-5 0h10m-9.1 -25.6h10m-5 0v24.8m-5 0h10m-9.1 -29.4h10m-5 0v25.1m-5 0h10m-9.1 -25.9h10m-5 0v23.9m-5 0h10m-9.1 -15.7h10m-5 0v26m-5 0h10m-9.1 -30h10m-5 0v25m-5 0h10m-9 -22.5h10m-5 0v23.6m-5 0h10m-9.1 -24h10m-5 0v23.5m-5 0h10m-9.1 -23.3h10m-5 0v24.9m-5 0h10m-9.1 -24.3h10m-5 0v23.5m-5 0h10m-9.1 -26.3h10m-5 0v26.7m-5 0h10m-9.1 -24h10m-5 0v24.3m-5 0h10m-9 -26.9h10m-5 0v25m-5 0h10m-9.1 -26.6h10m-5 0v23.8m-5 0h10m-9.1 -19.2h10m-5 0v26m-5 0h10m-9.1 -25.3h10m-5 0v26.5m-5 0h10m-9.1 -26.6h10m-5 0v24.2m-5 0h10m-9.1 -32.3h10m-5 0v24.3m-5 0h10m-9 -18.2h10m-5 0v26.8m-5 0h10m-9.1 -18.4h10m-5 0v26m-5 0h10m-9.1 -30.4h10m-5 0v26m-5 0h10m-9.1 -23.2h10m-5 0v23.3m-5 0h10m-9.1 -28h10m-5 0v24.6m-5 0h10m-9.1 -25.1h10m-5 0v24.5m-5 0h10m-9 -22.6h10m-5 0v23.8m-5 0h10m-9.1 -24.1h10m-5 0v26.4m-5 0h10m-9.1 -25.8h10m-5 0v25.4m-5 0h10m-9.1 -32.9h10m-5 0v25.8m-5 0h10m-9.1 -19.5h10m-5 0v24.2m-5 0h10m-9.1 -24.3h10m-5 0v24.7m-5 0h10m-9.1 -26.7h10m-5 0v25m-5 0h10m-9 -23.1h10m-5 0v24m-5 0h10m-9.1 -28h10m-5 0v24.3m-5 0h10m-9.1 -21.4h10m-5 0v25.8m-5 0h10m-9.1 -24.5h10m-5 0v25.1m-5 0h10m-9.1 -30.8h10m-5 0v25.6m-5 0h10m-9.1 -23.7h10m-5 0v23.7m-5 0h10m-9 -24h10m-5 0v25m-5 0h10m-9.1 -22.3h10m-5 0v24.3m-5 0h10m-9.1 -25.1h10m-5 0v24.4m-5 0h10m-9.1 -28.3h10m-5 0v26.8m-5 0h10m-9.1 -25.2h10m-5 0v26.7m-5 0h10m-9.1 -28.5h10m-5 0v26.4m-5 0h10m-9 -20.7h10m-5 0v23.7m-5 0h10m-9.1 -20.8h10m-5 0v25.8m-5 0h10m-9.1 -30.4h10m-5 0v25.8m-5 0h10m-9.1 -24.7h10m-5 0v23.3m-5 0h10m-9.1 -23.8h10m-5 0v24.2m-5 0h10m-9.1 -24.3h10m-5 0v26.3m-5 0h10m-9 -21h10m-5 0v25.2m-5 0h10m-9.1 -30.3h10m-5 0v24.5m-5 0h10m-9.1 -16.5h10m-5 0v24.9m-5 0h10m-9.1 -34h10m-5 0v24.9m-5 0h10m-9.1 -21.9h10m-5 0v23.9m-5 0h10m-9.1 -27.2h10m-5 0v26.2m-5 0h10m-9 -19.8h10m-5 0v26.7m-5 0h10m-9.1 -30h10m-5 0v24.3m-5 0h10m-9.1 -20.4h10m-5 0v25.8m-5 0h10m-9.1 -33.2h10m-5 0v26m-5 0h10m-9.1 -22.4h10m-5 0v23.4m-5 0h10m-9.1 -21.5h10m-5 0v26.2m-5 0h10m-9 -33.6h10m-5 0v23.8m-5 0h10m-9.1 -19.4h10m-5 0v26.5m-5 0h10m-9.1 -23.3h10m-5 0v24.3m-5 0h10m-9.1 -23.3h10m-5 0v25.7m-5 0h10m-9.1 -34h10m-5 0v24.8m-5 0h10m-9.1 -20.6h10m-5 0v25.2m-5 0h10m-9 -24h10m-5 0v23.7m-5 0h10m-9.1 -26h10m-5 0v24.8m-5 0h10m-9.1 -24.6h10m-5 0v26.8m-5 0h10m-9.1 -28.9h10m-5 0v23.9m-5 0h10m-9.1 -18.4h10m-5 0v23.9m-5 0h10m-9.1 -29.2h10m-5 0v26.5m-5 0h10m-9 -27.2h10m-5 0v24.2m-5 0h10m-9.1 -19h10m-5 0v24.2m-5 0h10m-9.1 -29.3h10m-5 0v26.7m-5 0h10m-9.1 -28.2h10m-5 0v23.3m-5 0h10m-9.1 -17h10m-5 0v24.3m-5 0h10m-9.1 -30.8h10m-5 0v24.6m-5 0h10m-9 -24h10m-5 0v25.7m-5 0h10m-9.1 -25.4h10m-5 0v26.3m-5 0h10m-9.1 -26.4h10m-5 0v24.8m-5 0h10m-9.1 -24.9h10m-5 0v24.7m-5 0h10m-9.1 -27.4h10m-5 0v26.1m-5 0h10m-9.1 -25.8h10m-5 0v26.1m-5 0h10m-9 -19.7h10m-5 0v24.1m-5 0h10m-9.1 -27.5h10m-5 0v26.1m-5 0h10m-9.1 -22.6h10m-5 0v26.3m-5 0h10m-9.1 -30.8h10m-5 0v24.4m-5 0h10m-9.1 -25.2h10m-5 0v26.4m-5 0h10m-9.1 -22.5h10m-5 0v24.4m-5 0h10m-9 -25.9h10m-5 0v25.5m-5 0h10m-9.1 -27h10m-5 0v24.1m-5 0h10m-9.1 -23.3h10m-5 0v24m-5 0h10m-9.1 -23.4h10m-5 0v24.9m-5 0h10m-9.1 -27.1h10m-5 0v25.6m-5 0h10m-9.1 -18h10m-5 0v24.3m-5 0h10m-9 -28.3h10m-5 0v26.8m-5 0h10m-9.1 -31.3h10m-5 0v24.7m-5 0h10m-9.1 -18.6h10m-5 0v23.5m-5 0h10m-9.1 -20.2h10m-5 0v24m-5 0h10m-9.1 -29.4h10m-5 0v25.7m-5 0h10m-9.1 -25.1h10m-5 0v25.1m-5 0h10m-9 -27.3h10m-5 0v26.6m-5 0h10m-9.1 -22.4h10m-5 0v25m-5 0h10m-9.1 -27.9h10m-5 0v23.4m-5 0h10m-9.1 -20.6h10m-5 0v25.1m-5 0h10m-9.1 -28.4h10m-5 0v23.7m-5 0h10m-9.1 -24.5h10m-5 0v26.6m-5 0h10m-173.1 19h10m-5 0v26.5m-5 0h10m-9.1 -25.8h10m-5 0v23.6m-5 0h10m-9.1 -26.1h10m-5 0v23.8m-5 0h10m-9.1 -18.3h10m-5 0v24.9m-5 0h10m-9 -32.5h10m-5 0v25.2m-5 0h10m-9.1 -20.8h10m-5 0v25.9m-5 0h10m-9.1 -22.6h10m-5 0v23.5m-5 0h10m-9.1 -30.4h10m-5 0v25m-5 0h10m-9.1 -19.5h10m-5 0v25.1m-5 0h10m-9.1 -30.9h10m-5 0v24.9m-5 0h10m-9 -24.1h10m-5 0v26.6m-5 0h10m-9.1 -23.8h10m-5 0v24.5m-5 0h10m-9.1 -28.5h10m-5 0v26.3m-5 0h10m-9.1 -25.5h10m-5 0v24.7m-5 0h10m-9.1 -17.7h10m-5 0v24.8m-5 0h10m-9.1 -26.7h10m-5 0v25.6m-5 0h10m-9 -29.6h10m-5 0v26m-5 0h10m-9.1 -25.6h10m-5 0v23.9m-5 0h10m-9.1 -33.7h10m-5 0v24.8m-5 0h10m-9.1 -28h10m-5 0v24.2m-5 0h10m-9.1 -24.9h10m-5 0v24.6m-5 0h10m-9.1 -25.9h10m-5 0v24.6m-5 0h10m-9 -26.8h10m-5 0v25.8m-5 0h10m-9.1 -25.8h10m-5 0v24.8m-5 0h10m-9.1 -23h10m-5 0v23.8m-5 0h10m-9.1 -23.5h10m-5 0v24.2m-5 0h10m-9.1 -23.8h10m-5 0v24.2m-5 0h10m-9.1 -28.9h10m-5 0v25m-5 0h10m-9 -26.9h10m-5 0v26.6m-5 0h10m-9.1 -34.4h10m-5 0v25.7m-5 0h10m-9.1 -10.8h10m-5 0v26.7m-5 0h10m-9.1 -30.4h10m-5 0v23.8m-5 0h10m-9.1 -19.7h10m-5 0v26.5m-5 0h10m-9.1 -34.5h10m-5 0v24.2m-5 0h10m-9 -16.9h10m-5 0v23.5m-5 0h10m-9.1 -26.8h10m-5 0v25.9m-5 0h10m-9.1 -22.2h10m-5 0v25.9m-5 0h10m-9.1 -30.2h10m-5 0v24.8m-5 0h10m-9.1 -27h10m-5 0v26.1m-5 0h10m-9.1 -24.9h10m-5 0v26.7m-5 0h10m-9 -18.3h10m-5 0v24.7m-5 0h10m-9.1 -27.9h10m-5 0v24.2m-5 0h10m-9.1 -22.6h10m-5 0v26.1m-5 0h10m-9.1 -21.8h10m-5 0v26.1m-5 0h10m-9.1 -19.7h10m-5 0v24.4m-5 0h10m-9.1 -28.7h10m-5 0v26.7m-5 0h10m-9 -24h10m-5 0v26.3m-5 0h10m-9.1 -26.5h10m-5 0v26.1m-5 0h10m-9.1 -34.5h10m-5 0v24.9m-5 0h10m-9.1 -33.1h10m-5 0v26.5m-5 0h10m-9.1 -12.5h10m-5 0v24.1m-5 0h10m-9.1 -14.9h10m-5 0v25.4m-5 0h10m-9 -32.9h10m-5 0v24.5m-5 0h10m-9.1 -24.6h10m-5 0v25.9m-5 0h10m-9.1 -21h10m-5 0v25.8m-5 0h10m-9.1 -26.9h10m-5 0v25.5m-5 0h10m-9.1 -24.1h10m-5 0v24.8m-5 0h10m-9.1 -22.8h10m-5 0v25.8m-5 0h10m-9 -27.7h10m-5 0v25.3m-5 0h10m-9.1 -21.8h10m-5 0v25.9m-5 0h10m-9.1 -29.6h10m-5 0v25.5m-5 0h10m-9.1 -27.8h10m-5 0v26.3m-5 0h10m-9.1 -25.5h10m-5 0v26.2m-5 0h10m-9.1 -20.9h10m-5 0v26.6m-5 0h10m-9 -34.6h10m-5 0v25.7m-5 0h10m-9.1 -23h10m-5 0v25.4m-5 0h10m-9.1 -21.6h10m-5 0v26.7m-5 0h10m-9.1 -24.5h10m-5 0v25.6m-5 0h10m-9.1 -28.8h10m-5 0v23.3m-5 0h10m-9.1 -24.5h10m-5 0v26.3m-5 0h10m-9 -23.2h10m-5 0v23.4m-5 0h10m-9.1 -25.3h10m-5 0v26.4m-5 0h10m-9.1 -28.1h10m-5 0v26.7m-5 0h10m-9.1 -26.8h10m-5 0v24.3m-5 0h10m-9.1 -27.6h10m-5 0v24.7m-5 0h10m-9.1 -18.1h10m-5 0v23.8m-5 0h10m-9 -26.5h10m-5 0v26.7m-5 0h10m-9.1 -28h10m-5 0v24.4m-5 0h10m-9.1 -24.5h10m-5 0v26m-5 0h10m-9.1 -17.9h10m-5 0v24.7m-5 0h10m-9.1 -34.3h10m-5 0v26.8m-5 0h10m-9.1 -29.8h10m-5 0v25.8m-5 0h10m-9 -23.6h10m-5 0v24.9m-5 0h10m-9.1 -26.3h10m-5 0v25.9m-5 0h10m-9.1 -21.9h10m-5 0v25.6m-5 0h10m-9.1 -26.6h10m-5 0v26.5m-5 0h10m-9.1 -19h10m-5 0v23.5m-5 0h10m-9.1 -23.4h10m-5 0v23.8m-5 0h10m-9 -24.9h10m-5 0v23.7m-5 0h10m-9.1 -19.9h10m-5 0v26.6m-5 0h10m-9.1 -33.1h10m-5 0v25m-5 0h10m-9.1 -22.7h10m-5 0v25m-5 0h10m-9.1 -26.2h10m-5 0v23.7m-5 0h10m-9.1 -24.4h10m-5 0v25m-5 0h10m-9 -26h10m-5 0v25.1m-5 0h10m-9.1 -26.2h10m-5 0v25.1m-5 0h10m-9.1 -22.5h10m-5 0v26.4m-5 0h10m-9.1 -25.6h10m-5 0v26.1m-5 0h10m-9.1 -24.9h10m-5 0v24.8m-5 0h10m-9.1 -28h10m-5 0v24m-5 0h10m-9.1 -22.6h10m-5 0v24.9m-5 0h10m-9 -22.8h10m-5 0v24.7m-5 0h10m-9.1 -27.9h10m-5 0v24.6m-5 0h10m-9.1 -27.1h10m-5 0v26.1m-5 0h10m-9.1 -25.5h10m-5 0v23.6m-5 0h10m-9.1 -20.7h10m-5 0v25m-5 0h10m-9.1 -24.3h10m-5 0v24.5m-5 0h10m-9 -28.2h10m-5 0v26.3m-5 0h10m-9.1 -25.6h10m-5 0v24.5m-5 0h10m-9.1 -23h10m-5 0v25.5m-5 0h10m-9.1 -28.6h10m-5 0v26.7m-5 0h10m-9.1 -22.8h10m-5 0v26m-5 0h10m-9.1 -28.5h10m-5 0v25.3m-5 0h10m-9 -26.8h10m-5 0v25.7m-5 0h10m-9.1 -18.8h10m-5 0v26.3m-5 0h10m-9.1 -29.8h10m-5 0v24.1m-5 0h10m-9.1 -22.3h10m-5 0v24.1m-5 0h10m-9.1 -21.1h10m-5 0v24.4m-5 0h10m-9.1 -26.1h10m-5 0v24.3m-5 0h10m-9 -26.5h10m-5 0v24.3m-5 0h10m-9.1 -25.2h10m-5 0v24.8m-5 0h10m-9.1 -21.8h10m-5 0v25.6m-5 0h10m-9.1 -26.1h10m-5 0v24.7m-5 0h10m-9.1 -29.6h10m-5 0v23.5m-5 0h10m-9.1 -20.6h10m-5 0v24.1m-5 0h10m-9 -23.9h10m-5 0v25.1m-5 0h10m-9.1 -27.6h10m-5 0v26.6m-5 0h10m-9.1 -26.3h10m-5 0v23.7m-5 0h10m-9.1 -21.3h10m-5 0v24.4m-5 0h10m-9.1 -22.2h10m-5 0v23.9m-5 0h10m-9.1 -23.9h10m-5 0v25.1m-5 0h10m-9 -30.4h10m-5 0v24.9m-5 0h10m-9.1 -20.7h10m-5 0v24.3m-5 0h10m-9.1 -22.7h10m-5 0v24.8m-5 0h10m-9.1 -24h10m-5 0v24.3m-5 0h10m-9.1 -31.8h10m-5 0v23.9m-5 0h10m-9.1 -24.9h10m-5 0v24.7m-5 0h10m-9 -20.9h10m-5 0v25.7m-5 0h10m-9.1 -27.9h10m-5 0v24.4m-5 0h10m-9.1 -23.9h10m-5 0v25.1m-5 0h10m-9.1 -19.8h10m-5 0v25.8m-5 0h10m-9.1 -31.1h10m-5 0v24.2m-5 0h10m-9.1 -24.3h10m-5 0v26.4m-5 0h10m-9 -25.3h10m-5 0v25m-5 0h10m-9.1 -25.6h10m-5 0v25.8m-5 0h10m-9.1 -22.8h10m-5 0v25.9m-5 0h10m-9.1 -31.7h10m-5 0v24.9m-5 0h10m-9.1 -24.2h10m-5 0v24.9m-5 0h10m-9.1 -23h10m-5 0v26.3m-5 0h10m-9 -26.6h10m-5 0v25.7m-5 0h10m-9.1 -23.3h10m-5 0v26.4m-5 0h10m-9.1 -31.2h10m-5 0v23.4m-5 0h10m-9.1 -21.8h10m-5 0v24.7m-5 0h10m-9.1 -25.5h10m-5 0v24.7m-5 0h10m-9.1 -23.6h10m-5 0v24.3m-5 0h10m-9 -26h10m-5 0v25m-5 0h10m-9.1 -26.2h10m-5 0v25.1m-5 0h10m-9.1 -26.3h10m-5 0v25.9m-5 0h10m-9.1 -21.8h10m-5 0v24.5m-5 0h10m-9.1 -23h10m-5 0v26.4m-5 0h10m-9.1 -24.8h10m-5 0v25.9m-5 0h10m-9 -29.8h10m-5 0v23.3m-5 0h10m-9.1 -22.4h10m-5 0v24.5m-5 0h10m-9.1 -28.3h10m-5 0v23.4m-5 0h10m-9.1 -20.4h10m-5 0v26m-5 0h10m-9.1 -19.9h10m-5 0v23.8m-5 0h10m-9.1 -28.6h10m-5 0v23.7m-5 0h10m-9 -21.7h10m-5 0v25.3m-5 0h10m-9.1 -27h10m-5 0v23.7m-5 0h10m-9.1 -19.8h10m-5 0v25.1m-5 0h10m-9.1 -27h10m-5 0v23.9m-5 0h10m-9.1 -23.5h10m-5 0v25.1m-5 0h10m-9.1 -24.3h10m-5 0v26.1m-5 0h10m-9 -23.4h10m-5 0v25m-5 0h10m-9.1 -29.6h10m-5 0v25.5m-5 0h10m-9.1 -21.7h10m-5 0v25.5m-5 0h10m-9.1 -23.2h10m-5 0v26.5m-5 0h10m-9.1 -27.6h10m-5 0v24.6m-5 0h10m-9.1 -27.1h10m-5 0v25.2m-5 0h10m-173.1 19h10m-5 0v26.5m-5 0h10m-9.1 -27.8h10m-5 0v24.2m-5 0h10m-9.1 -32.4h10m-5 0v24.5m-5 0h10m-9.1 -23.4h10m-5 0v25.5m-5 0h10m-9 -17.8h10m-5 0v25.3m-5 0h10m-9.1 -21.1h10m-5 0v25.3m-5 0h10m-9.1 -36.1h10m-5 0v25.5m-5 0h10m-9.1 -16.8h10m-5 0v26.1m-5 0h10m-9.1 -30.8h10m-5 0v26m-5 0h10m-9.1 -22h10m-5 0v26.2m-5 0h10m-9 -17h10m-5 0v23.9m-5 0h10m-9.1 -43h10m-5 0v25.3m-5 0h10m-9.1 -10.6h10m-5 0v26.2m-5 0h10m-9.1 -46.1h10m-5 0v25.2m-5 0h10m-9.1 -14.1h10m-5 0v26.7m-5 0h10m-9.1 -29.4h10m-5 0v24.9m-5 0h10m-9 -12.9h10m-5 0v23.8m-5 0h10m-9.1 -43.1h10m-5 0v23.7m-5 0h10m-9.1 -19.8h10m-5 0v26.5m-5 0h10m-9.1 -45.2h10m-5 0v23.5m-5 0h10m-9.1 -29.6h10m-5 0v24.1m-5 0h10m-9.1 -14.1h10m-5 0v24.5m-5 0h10m-9 -38.1h10m-5 0v24.3m-5 0h10m-9.1 -13h10m-5 0v24.9m-5 0h10m-9.1 -25.6h10m-5 0v26.6m-5 0h10m-9.1 -14.6h10m-5 0v23.7m-5 0h10m-9.1 -29.2h10m-5 0v24.2m-5 0h10m-9.1 -38.2h10m-5 0v24.1m-5 0h10m-9 -16.3h10m-5 0v24.7m-5 0h10m-9.1 -29h10m-5 0v26.5m-5 0h10m-9.1 -8.7h10m-5 0v23.3m-5 0h10m-9.1 -24.8h10m-5 0v26.1m-5 0h10m-9.1 -31.8h10m-5 0v26.3m-5 0h10m-9.1 -32.6h10m-5 0v26.1m-5 0h10m-9 -20.5h10m-5 0v25.2m-5 0h10m-9.1 -27.7h10m-5 0v24.5m-5 0h10m-9.1 -20.9h10m-5 0v24.4m-5 0h10m-9.1 -24.4h10m-5 0v25.8m-5 0h10m-9.1 -22.9h10m-5 0v26.7m-5 0h10m-9.1 -37.6h10m-5 0v25.6m-5 0h10m-9 -17.4h10m-5 0v25.7m-5 0h10m-9.1 -24.5h10m-5 0v25.9m-5 0h10m-9.1 -15.1h10m-5 0v24.3m-5 0h10m-9.1 -33.5h10m-5 0v25.9m-5 0h10m-9.1 -26.6h10m-5 0v25.4m-5 0h10m-9.1 -19.2h10m-5 0v23.5m-5 0h10m-9 -5.4h10m-5 0v25m-5 0h10m-9.1 -55.4h10m-5 0v24.9m-5 0h10m-9.1 -11.2h10m-5 0v26.7m-5 0h10m-9.1 -20.6h10m-5 0v26.2m-5 0h10m-9.1 -27.8h10m-5 0v24.1m-5 0h10m-9.1 -26.5h10m-5 0v26.6m-5 0h10m-9 -34.4h10m-5 0v26m-5 0h10m-9.1 -11.6h10m-5 0v26m-5 0h10m-9.1 -31.2h10m-5 0v25.4m-5 0h10m-9.1 -27.6h10m-5 0v26.1m-5 0h10m-9.1 -21.9h10m-5 0v26.1m-5 0h10m-9.1 -26.5h10m-5 0v24m-5 0h10m-9 -22.4h10m-5 0v26.2m-5 0h10m-9.1 -33.7h10m-5 0v24.3m-5 0h10m-9.1 -15h10m-5 0v25.2m-5 0h10m-9.1 -30.6h10m-5 0v24m-5 0h10m-9.1 -21.5h10m-5 0v25.6m-5 0h10m-9.1 -27.5h10m-5 0v25.1m-5 0h10m-9 -23.2h10m-5 0v23.9m-5 0h10m-9.1 -24.2h10m-5 0v25.6m-5 0h10m-9.1 -29.8h10m-5 0v26.7m-5 0h10m-9.1 -19.9h10m-5 0v23.4m-5 0h10m-9.1 -24.8h10m-5 0v23.9m-5 0h10m-9.1 -26.2h10m-5 0v25.9m-5 0h10m-9 -24.5h10m-5 0v26.4m-5 0h10m-9.1 -21.2h10m-5 0v23.5m-5 0h10m-9.1 -27.4h10m-5 0v23.8m-5 0h10m-9.1 -31.1h10m-5 0v25.8m-5 0h10m-9.1 -20.8h10m-5 0v24.2m-5 0h10m-9.1 -24.9h10m-5 0v24.4m-5 0h10m-9 -23.2h10m-5 0v26.7m-5 0h10m-9.1 -30.7h10m-5 0v26.6m-5 0h10m-9.1 -18.1h10m-5 0v26.7m-5 0h10m-9.1 -31.7h10m-5 0v24.7m-5 0h10m-9.1 -23.9h10m-5 0v24.7m-5 0h10m-9.1 -25.4h10m-5 0v26.2m-5 0h10m-9 -21.8h10m-5 0v25.4m-5 0h10m-9.1 -28.6h10m-5 0v24.3m-5 0h10m-9.1 -24.2h10m-5 0v26.5m-5 0h10m-9.1 -26h10m-5 0v24.1m-5 0h10m-9.1 -27h10m-5 0v26.3m-5 0h10m-9.1 -21.9h10m-5 0v25.7m-5 0h10m-9 -26.7h10m-5 0v23.5m-5 0h10m-9.1 -22h10m-5 0v23.5m-5 0h10m-9.1 -27h10m-5 0v24m-5 0h10m-9.1 -28.1h10m-5 0v26.3m-5 0h10m-9.1 -25.3h10m-5 0v25.4m-5 0h10m-9.1 -20.4h10m-5 0v25.8m-5 0h10m-9 -27.8h10m-5 0v23.7m-5 0h10m-9.1 -25.2h10m-5 0v24m-5 0h10m-9.1 -18.8h10m-5 0v23.6m-5 0h10m-9.1 -29.2h10m-5 0v24.4m-5 0h10m-9.1 -23.5h10m-5 0v26.3m-5 0h10m-9.1 -25.6h10m-5 0v23.7m-5 0h10m-9.1 -18.2h10m-5 0v24.1m-5 0h10m-9 -29.7h10m-5 0v24.1m-5 0h10m-9.1 -26.2h10m-5 0v24.4m-5 0h10m-9.1 -17.9h10m-5 0v23.9m-5 0h10m-9.1 -26.5h10m-5 0v25.6m-5 0h10m-9.1 -24.1h10m-5 0v26.7m-5 0h10m-9.1 -26.6h10m-5 0v26.2m-5 0h10m-9 -22.2h10m-5 0v25.7m-5 0h10m-9.1 -29.8h10m-5 0v24m-5 0h10m-9.1 -21.8h10m-5 0v23.4m-5 0h10m-9.1 -27.4h10m-5 0v24.1m-5 0h10m-9.1 -24.7h10m-5 0v25.7m-5 0h10m-9.1 -22.3h10m-5 0v24.7m-5 0h10m-9 -22.5h10m-5 0v24.8m-5 0h10m-9.1 -27.6h10m-5 0v24m-5 0h10m-9.1 -25.7h10m-5 0v25.8m-5 0h10m-9.1 -26.1h10m-5 0v23.9m-5 0h10m-9.1 -25.5h10m-5 0v23.9m-5 0h10m-9.1 -17.7h10m-5 0v26.8m-5 0h10m-9 -28.9h10m-5 0v25.4m-5 0h10m-9.1 -26.3h10m-5 0v24.2m-5 0h10m-9.1 -26.5h10m-5 0v23.9m-5 0h10m-9.1 -19.7h10m-5 0v25.6m-5 0h10m-9.1 -28.1h10m-5 0v26.4m-5 0h10m-9.1 -29.1h10m-5 0v23.7m-5 0h10m-9 -20.4h10m-5 0v24.9m-5 0h10m-9.1 -21.1h10m-5 0v23.7m-5 0h10m-9.1 -32h10m-5 0v23.9m-5 0h10m-9.1 -23h10m-5 0v25m-5 0h10m-9.1 -25.9h10m-5 0v23.7m-5 0h10m-9.1 -21.7h10m-5 0v25.7m-5 0h10m-9 -21.2h10m-5 0v24.6m-5 0h10m-9.1 -24.2h10m-5 0v25.2m-5 0h10m-9.1 -28.5h10m-5 0v25m-5 0h10m-9.1 -19.7h10m-5 0v24.8m-5 0h10m-9.1 -29.6h10m-5 0v23.6m-5 0h10m-9.1 -28.8h10m-5 0v24.7m-5 0h10m-9 -20.6h10m-5 0v25.7m-5 0h10m-9.1 -22.6h10m-5 0v24.9m-5 0h10m-9.1 -25h10m-5 0v24m-5 0h10m-9.1 -19.8h10m-5 0v25.2m-5 0h10m-9.1 -32.8h10m-5 0v25.4m-5 0h10m-9.1 -22.2h10m-5 0v26.1m-5 0h10m-9 -26.9h10m-5 0v23.7m-5 0h10m-9.1 -27.8h10m-5 0v24.9m-5 0h10m-9.1 -19h10m-5 0v26.7m-5 0h10m-9.1 -28.5h10m-5 0v26.8m-5 0h10m-9.1 -29.5h10m-5 0v25.2m-5 0h10m-9.1 -17.7h10m-5 0v25m-5 0h10m-9 -31.8h10m-5 0v24.6m-5 0h10m-9.1 -24h10m-5 0v25.5m-5 0h10m-9.1 -23.7h10m-5 0v26.3m-5 0h10m-9.1 -27h10m-5 0v25.6m-5 0h10m-9.1 -28.3h10m-5 0v24.8m-5 0h10m-9.1 -21h10m-5 0v26.3m-5 0h10m-9 -29h10m-5 0v24.1m-5 0h10m-9.1 -22.8h10m-5 0v25.8m-5 0h10m-9.1 -29.4h10m-5 0v26.1m-5 0h10m-9.1 -26.2h10m-5 0v24.2m-5 0h10m-9.1 -18.1h10m-5 0v24.1m-5 0h10m-9.1 -27h10m-5 0v25.3m-5 0h10m-9 -29.8h10m-5 0v25.7m-5 0h10m-9.1 -20.8h10m-5 0v25.3m-5 0h10m-9.1 -26.4h10m-5 0v25.3m-5 0h10m-9.1 -22.7h10m-5 0v23.7m-5 0h10m-9.1 -30.8h10m-5 0v25.3m-5 0h10m-9.1 -22.1h10m-5 0v23.4m-5 0h10m-9 -22.9h10m-5 0v25.5m-5 0h10m-9.1 -28h10m-5 0v25.5m-5 0h10m-9.1 -20.3h10m-5 0v26.2m-5 0h10m-9.1 -24.1h10m-5 0v25.4m-5 0h10m-9.1 -29.6h10m-5 0v25.1m-5 0h10m-9.1 -23.3h10m-5 0v25.4m-5 0h10m-9 -27.5h10m-5 0v23.8m-5 0h10m-9.1 -25.1h10m-5 0v26.2m-5 0h10m-9.1 -29h10m-5 0v23.7m-5 0h10m-9.1 -25.8h10m-5 0v24.6m-5 0h10m-9.1 -12.8h10m-5 0v24.6m-5 0h10m-9.1 -30.3h10m-5 0v26.2m-5 0h10m-173.1 20.6h10m-5 0v24.3m-5 0h10m-9.1 -24.9h10m-5 0v25.1m-5 0h10m-9.1 -22.4h10m-5 0v25m-5 0h10m-9.1 -26.2h10m-5 0v25.2m-5 0h10m-9 -22.8h10m-5 0v24.9m-5 0h10m-9.1 -28.1h10m-5 0v25.3m-5 0h10m-9.1 -33.7h10m-5 0v24m-5 0h10m-9.1 -18.8h10m-5 0v26.6m-5 0h10m-9.1 -24.8h10m-5 0v26.4m-5 0h10m-9.1 -13.6h10m-5 0v23.6m-5 0h10m-9 -39.6h10m-5 0v24.9m-5 0h10m-9.1 -15.2h10m-5 0v23.6m-5 0h10m-9.1 -30.8h10m-5 0v24.3m-5 0h10m-9.1 -29.2h10m-5 0v25.6m-5 0h10m-9.1 -22.2h10m-5 0v26.8m-5 0h10m-9.1 -25h10m-5 0v25.2m-5 0h10m-9 -13.7h10m-5 0v25.7m-5 0h10m-9.1 -38.6h10m-5 0v23.5m-5 0h10m-9.1 -27.7h10m-5 0v25.3m-5 0h10m-9.1 -35h10m-5 0v24.1m-5 0h10m-9.1 -31.9h10m-5 0v24.5m-5 0h10m-9.1 -29.3h10m-5 0v25.6m-5 0h10m-9 -21.5h10m-5 0v23.8m-5 0h10m-9.1 -19.6h10m-5 0v25.5m-5 0h10m-9.1 -36.8h10m-5 0v23.4m-5 0h10m-9.1 -9.7h10m-5 0v23.8m-5 0h10m-9.1 -25.9h10m-5 0v26.3m-5 0h10m-9.1 -34.2h10m-5 0v24.5m-5 0h10m-9 -27.4h10m-5 0v25.3m-5 0h10m-9.1 -15.2h10m-5 0v25.8m-5 0h10m-9.1 -19.5h10m-5 0v26.2m-5 0h10m-9.1 -21.3h10m-5 0v26.3m-5 0h10m-9.1 -21.1h10m-5 0v23.7m-5 0h10m-9.1 -33.8h10m-5 0v23.7m-5 0h10m-9 -19.8h10m-5 0v24.4m-5 0h10m-9.1 -25h10m-5 0v24.9m-5 0h10m-9.1 -23.2h10m-5 0v24.1m-5 0h10m-9.1 -15.6h10m-5 0v26m-5 0h10m-9.1 -41.2h10m-5 0v25.1m-5 0h10m-9.1 -14h10m-5 0v23.6m-5 0h10m-9 -31.9h10m-5 0v25.4m-5 0h10m-9.1 -22.5h10m-5 0v26.4m-5 0h10m-9.1 -25h10m-5 0v23.8m-5 0h10m-9.1 -21.1h10m-5 0v23.4m-5 0h10m-9.1 -13.2h10m-5 0v23.8m-5 0h10m-9.1 -31.7h10m-5 0v25.1m-5 0h10m-9 -22h10m-5 0v25.1m-5 0h10m-9.1 -26.4h10m-5 0v25.8m-5 0h10m-9.1 -31.6h10m-5 0v26.4m-5 0h10m-9.1 -21.8h10m-5 0v25.5m-5 0h10m-9.1 -34.6h10m-5 0v24m-5 0h10m-9.1 -16.1h10m-5 0v25m-5 0h10m-9 -23.6h10m-5 0v24.5m-5 0h10m-9.1 -23.4h10m-5 0v24.9m-5 0h10m-9.1 -26h10m-5 0v23.3m-5 0h10m-9.1 -22h10m-5 0v24.5m-5 0h10m-9.1 -26.8h10m-5 0v26.5m-5 0h10m-9.1 -24h10m-5 0v25.4m-5 0h10m-9 -28.9h10m-5 0v26.5m-5 0h10m-9.1 -17.7h10m-5 0v24.7m-5 0h10m-9.1 -28.5h10m-5 0v26.6m-5 0h10m-9.1 -26h10m-5 0v23.7m-5 0h10m-9.1 -27.2h10m-5 0v24.8m-5 0h10m-9.1 -22.6h10m-5 0v25.9m-5 0h10m-9 -29.2h10m-5 0v24.2m-5 0h10m-9.1 -18.5h10m-5 0v23.8m-5 0h10m-9.1 -24.7h10m-5 0v24.4m-5 0h10m-9.1 -29.7h10m-5 0v25.8m-5 0h10m-9.1 -21.2h10m-5 0v24.2m-5 0h10m-9.1 -21.1h10m-5 0v24.6m-5 0h10m-9 -27.3h10m-5 0v23.9m-5 0h10m-9.1 -31.1h10m-5 0v23.3m-5 0h10m-9.1 -13.4h10m-5 0v24m-5 0h10m-9.1 -25.2h10m-5 0v23.7m-5 0h10m-9.1 -28h10m-5 0v25m-5 0h10m-9.1 -21.2h10m-5 0v25.9m-5 0h10m-9 -32h10m-5 0v24.3m-5 0h10m-9.1 -16.8h10m-5 0v25.5m-5 0h10m-9.1 -29.5h10m-5 0v25.3m-5 0h10m-9.1 -22.2h10m-5 0v24.2m-5 0h10m-9.1 -23.1h10m-5 0v23.4m-5 0h10m-9.1 -24.6h10m-5 0v26.5m-5 0h10m-9 -31.2h10m-5 0v24.2m-5 0h10m-9.1 -20.9h10m-5 0v23.6m-5 0h10m-9.1 -20.4h10m-5 0v25.7m-5 0h10m-9.1 -32.4h10m-5 0v26.6m-5 0h10m-9.1 -20.7h10m-5 0v25.6m-5 0h10m-9.1 -29.7h10m-5 0v26.2m-5 0h10m-9 -19.8h10m-5 0v25.3m-5 0h10m-9.1 -35.7h10m-5 0v26.5m-5 0h10m-9.1 -24h10m-5 0v26m-5 0h10m-9.1 -22.7h10m-5 0v26.1m-5 0h10m-9.1 -25h10m-5 0v23.7m-5 0h10m-9.1 -30.9h10m-5 0v24.4m-5 0h10m-9 -25.5h10m-5 0v26m-5 0h10m-9.1 -22.5h10m-5 0v25.5m-5 0h10m-9.1 -24h10m-5 0v24.1m-5 0h10m-9.1 -21.3h10m-5 0v25.3m-5 0h10m-9.1 -27.8h10m-5 0v25.6m-5 0h10m-9.1 -26.7h10m-5 0v25.4m-5 0h10m-9.1 -16.7h10m-5 0v25.3m-5 0h10m-9 -32.6h10m-5 0v26.8m-5 0h10m-9.1 -20.8h10m-5 0v25.3m-5 0h10m-9.1 -25.9h10m-5 0v26.3m-5 0h10m-9.1 -30h10m-5 0v26.9m-5 0h10m-9.1 -29.5h10m-5 0v23.3m-5 0h10m-9.1 -21.2h10m-5 0v25.8m-5 0h10m-9 -26.5h10m-5 0v25.1m-5 0h10m-9.1 -26.3h10m-5 0v25m-5 0h10m-9.1 -22.8h10m-5 0v25.8m-5 0h10m-9.1 -24.4h10m-5 0v24.1m-5 0h10m-9.1 -26.8h10m-5 0v24.5m-5 0h10m-9.1 -26.6h10m-5 0v25.9m-5 0h10m-9 -21.5h10m-5 0v26.2m-5 0h10m-9.1 -27h10m-5 0v25.8m-5 0h10m-9.1 -28.5h10m-5 0v24.4m-5 0h10m-9.1 -27h10m-5 0v26.3m-5 0h10m-9.1 -24.3h10m-5 0v26.3m-5 0h10m-9.1 -25.5h10m-5 0v25.2m-5 0h10m-9 -26.2h10m-5 0v24.2m-5 0h10m-9.1 -21.1h10m-5 0v23.7m-5 0h10m-9.1 -24.5h10m-5 0v26.5m-5 0h10m-9.1 -31.6h10m-5 0v25.3m-5 0h10m-9.1 -24.8h10m-5 0v26.6m-5 0h10m-9.1 -22.2h10m-5 0v24.8m-5 0h10m-9 -25.7h10m-5 0v26.8m-5 0h10m-9.1 -27.3h10m-5 0v23.8m-5 0h10m-9.1 -21.9h10m-5 0v25.4m-5 0h10m-9.1 -23.3h10m-5 0v23.3m-5 0h10m-9.1 -26.5h10m-5 0v23.7m-5 0h10m-9.1 -21.2h10m-5 0v25.7m-5 0h10m-9 -24.7h10m-5 0v25.7m-5 0h10m-9.1 -26.7h10m-5 0v26.4m-5 0h10m-9.1 -24.1h10m-5 0v25.8m-5 0h10m-9.1 -28.4h10m-5 0v24.3m-5 0h10m-9.1 -23.9h10m-5 0v24.4m-5 0h10m-9.1 -26.8h10m-5 0v25.1m-5 0h10m-9 -23.7h10m-5 0v24.8m-5 0h10m-9.1 -24.7h10m-5 0v23.6m-5 0h10m-9.1 -23.1h10m-5 0v24m-5 0h10m-9.1 -23.3h10m-5 0v24.1m-5 0h10m-9.1 -25.3h10m-5 0v25.2m-5 0h10m-9.1 -25.7h10m-5 0v25.1m-5 0h10m-9 -23.7h10m-5 0v24.5m-5 0h10m-9.1 -30.5h10m-5 0v23.3m-5 0h10m-9.1 -20.2h10m-5 0v25.6m-5 0h10m-9.1 -24.5h10m-5 0v26.2m-5 0h10m-9.1 -28.1h10m-5 0v26.4m-5 0h10m-9.1 -27.2h10m-5 0v23.8m-5 0h10m-9 -19.1h10m-5 0v25.3m-5 0h10m-9.1 -27.7h10m-5 0v26.1m-5 0h10m-9.1 -24.7h10m-5 0v26.2m-5 0h10m-9.1 -29.5h10m-5 0v26.6m-5 0h10m-9.1 -24.8h10m-5 0v26.5m-5 0h10m-9.1 -29.6h10m-5 0v24.7m-5 0h10m-9 -19h10m-5 0v23.7m-5 0h10m-9.1 -30.1h10m-5 0v24.3m-5 0h10m-9.1 -26.1h10m-5 0v26.6m-5 0h10m-9.1 -22.7h10m-5 0v25m-5 0h10m-9.1 -23.9h10m-5 0v24.1m-5 0h10m-9.1 -26.2h10m-5 0v24.9m-5 0h10m-9 -30.7h10m-5 0v25.2m-5 0h10m-9.1 -16.8h10m-5 0v25.6m-5 0h10m-9.1 -21.9h10m-5 0v25.2m-5 0h10m-9.1 -28.2h10m-5 0v25.7m-5 0h10m-9.1 -30.2h10m-5 0v25.9m-5 0h10m-9.1 -21.9h10m-5 0v24.2m-5 0h10m-9 -23h10m-5 0v24.3m-5 0h10m-9.1 -21.9h10m-5 0v24.9m-5 0h10m-9.1 -27.3h10m-5 0v24.9m-5 0h10m-9.1 -25.5h10m-5 0v24.4m-5 0h10m-9.1 -18.9h10m-5 0v24.4m-5 0h10m-9.1 -31h10m-5 0v24.3m-5 0h10m-9 -25.6h10m-5 0v24.4m-5 0h10m-9.1 -19.7h10m-5 0v24.6m-5 0h10m-9.1 -20.5h10m-5 0v25.2m-5 0h10m-9.1 -36.3h10m-5 0v24.7m-5 0h10m-9.1 -18.8h10m-5 0v24.9m-5 0h10m-9.1 -24.5h10m-5 0v24.4m-5 0h10m-173.1 16.9h10m-5 0v24.1m-5 0h10m-9.1 -21.9h10m-5 0v26.6m-5 0h10m-9.1 -29.2h10m-5 0v24.7m-5 0h10m-9.1 -25.7h10m-5 0v24.2m-5 0h10m-9 -24.3h10m-5 0v23.4m-5 0h10m-9.1 -25h10m-5 0v26.8m-5 0h10m-9.1 -19h10m-5 0v23.7m-5 0h10m-9.1 -28.3h10m-5 0v24.5m-5 0h10m-9.1 -26h10m-5 0v24.4m-5 0h10m-9.1 -18.3h10m-5 0v25.9m-5 0h10m-9 -36.6h10m-5 0v23.5m-5 0h10m-9.1 -1.4h10m-5 0v26.4m-5 0h10m-9.1 -42.4h10m-5 0v26.2m-5 0h10m-9.1 -24.6h10m-5 0v25.9m-5 0h10m-9.1 -19.7h10m-5 0v24m-5 0h10m-9.1 -24h10m-5 0v26.6m-5 0h10m-9 -38.5h10m-5 0v24m-5 0h10m-9.1 -25.9h10m-5 0v24.7m-5 0h10m-9.1 -30.5h10m-5 0v24.5m-5 0h10m-9.1 -14.9h10m-5 0v23.7m-5 0h10m-9.1 -30.6h10m-5 0v25.2m-5 0h10m-9.1 -40.4h10m-5 0v24.4m-5 0h10m-9 -33.9h10m-5 0v25.5m-5 0h10m-9.1 -12.7h10m-5 0v26.7m-5 0h10m-9.1 -35.5h10m-5 0v25.5m-5 0h10m-9.1 -11.7h10m-5 0v25.4m-5 0h10m-9.1 -28.1h10m-5 0v25.5m-5 0h10m-9.1 -14.9h10m-5 0v23.7m-5 0h10m-9 -26.7h10m-5 0v23.7m-5 0h10m-9.1 -42.4h10m-5 0v26.5m-5 0h10m-9.1 -8.4h10m-5 0v24.9m-5 0h10m-9.1 -19.9h10m-5 0v24.4m-5 0h10m-9.1 -35.9h10m-5 0v23.9m-5 0h10m-9.1 -26.3h10m-5 0v23.7m-5 0h10m-9 -9.8h10m-5 0v26.5m-5 0h10m-9.1 -29.3h10m-5 0v24.5m-5 0h10m-9.1 -32.1h10m-5 0v25.7m-5 0h10m-9.1 -24.9h10m-5 0v26.8m-5 0h10m-9.1 -21.7h10m-5 0v25.9m-5 0h10m-9.1 -33h10m-5 0v26m-5 0h10m-9 -11.9h10m-5 0v25m-5 0h10m-9.1 -33.1h10m-5 0v24.7m-5 0h10m-9.1 -42.3h10m-5 0v25m-5 0h10m-9.1 -0.5h10m-5 0v25.1m-5 0h10m-9.1 -25.1h10m-5 0v26.4m-5 0h10m-9.1 -26.9h10m-5 0v26.1m-5 0h10m-9 -32.6h10m-5 0v24.4m-5 0h10m-9.1 -13.5h10m-5 0v26.6m-5 0h10m-9.1 -16.3h10m-5 0v25.4m-5 0h10m-9.1 -45.7h10m-5 0v26.9m-5 0h10m-9.1 -32.9h10m-5 0v26.7m-5 0h10m-9.1 -15.8h10m-5 0v24.6m-5 0h10m-9 -20.3h10m-5 0v24.6m-5 0h10m-9.1 -21.8h10m-5 0v26m-5 0h10m-9.1 -21h10m-5 0v25.3m-5 0h10m-9.1 -29.8h10m-5 0v25.2m-5 0h10m-9.1 -25.1h10m-5 0v25.3m-5 0h10m-9.1 -22.1h10m-5 0v24.9m-5 0h10m-9 -27.3h10m-5 0v25.5m-5 0h10m-9.1 -25.1h10m-5 0v23.4m-5 0h10m-9.1 -29.2h10m-5 0v26.3m-5 0h10m-9.1 -22.1h10m-5 0v26.2m-5 0h10m-9.1 -23h10m-5 0v25.6m-5 0h10m-9.1 -23.2h10m-5 0v24.9m-5 0h10m-9 -33.9h10m-5 0v26.7m-5 0h10m-9.1 -20.9h10m-5 0v23.7m-5 0h10m-9.1 -25.8h10m-5 0v25.2m-5 0h10m-9.1 -21.9h10m-5 0v26.9m-5 0h10m-9.1 -33.8h10m-5 0v26.6m-5 0h10m-9.1 -25.9h10m-5 0v25.9m-5 0h10m-9 -25.8h10m-5 0v24.4m-5 0h10m-9.1 -21.1h10m-5 0v25.3m-5 0h10m-9.1 -28.1h10m-5 0v23.7m-5 0h10m-9.1 -20.9h10m-5 0v25.4m-5 0h10m-9.1 -26.9h10m-5 0v25.6m-5 0h10m-9.1 -22.8h10m-5 0v26.6m-5 0h10m-9 -33.2h10m-5 0v26.1m-5 0h10m-9.1 -16.2h10m-5 0v24.6m-5 0h10m-9.1 -30.9h10m-5 0v26.3m-5 0h10m-9.1 -24.2h10m-5 0v23.6m-5 0h10m-9.1 -31.7h10m-5 0v24.8m-5 0h10m-9.1 -22.6h10m-5 0v24.7m-5 0h10m-9 -20.4h10m-5 0v24.7m-5 0h10m-9.1 -20.6h10m-5 0v24m-5 0h10m-9.1 -29.5h10m-5 0v25.5m-5 0h10m-9.1 -22.1h10m-5 0v26.1m-5 0h10m-9.1 -26h10m-5 0v25.4m-5 0h10m-9.1 -24.2h10m-5 0v23.4m-5 0h10m-9 -30.3h10m-5 0v26.8m-5 0h10m-9.1 -21.5h10m-5 0v24.4m-5 0h10m-9.1 -23h10m-5 0v25.7m-5 0h10m-9.1 -28.9h10m-5 0v23.5m-5 0h10m-9.1 -24.4h10m-5 0v25.7m-5 0h10m-9.1 -26.3h10m-5 0v26m-5 0h10m-9 -24h10m-5 0v23.9m-5 0h10m-9.1 -26.5h10m-5 0v23.9m-5 0h10m-9.1 -15.9h10m-5 0v23.5m-5 0h10m-9.1 -24.7h10m-5 0v23.3m-5 0h10m-9.1 -27.7h10m-5 0v24.1m-5 0h10m-9.1 -24h10m-5 0v26.1m-5 0h10m-9.1 -24.5h10m-5 0v26.4m-5 0h10m-9 -26.3h10m-5 0v23.3m-5 0h10m-9.1 -23.9h10m-5 0v24.1m-5 0h10m-9.1 -19.5h10m-5 0v25.3m-5 0h10m-9.1 -30.1h10m-5 0v25.6m-5 0h10m-9.1 -23.5h10m-5 0v24.8m-5 0h10m-9.1 -26.4h10m-5 0v26.2m-5 0h10m-9 -30.9h10m-5 0v25.9m-5 0h10m-9.1 -21.7h10m-5 0v26.7m-5 0h10m-9.1 -29.4h10m-5 0v26.4m-5 0h10m-9.1 -24.1h10m-5 0v25.5m-5 0h10m-9.1 -24.6h10m-5 0v25.5m-5 0h10m-9.1 -24.3h10m-5 0v24.4m-5 0h10m-9 -22.8h10m-5 0v26.1m-5 0h10m-9.1 -28.3h10m-5 0v23.5m-5 0h10m-9.1 -23.3h10m-5 0v23.9m-5 0h10m-9.1 -26h10m-5 0v26.8m-5 0h10m-9.1 -23.6h10m-5 0v25.7m-5 0h10m-9.1 -27.9h10m-5 0v26.6m-5 0h10m-9 -24.6h10m-5 0v25.9m-5 0h10m-9.1 -27.7h10m-5 0v23.8m-5 0h10m-9.1 -25.7h10m-5 0v26.2m-5 0h10m-9.1 -29.7h10m-5 0v25.8m-5 0h10m-9.1 -23.9h10m-5 0v26.8m-5 0h10m-9.1 -25.5h10m-5 0v24.2m-5 0h10m-9 -21.9h10m-5 0v23.4m-5 0h10m-9.1 -31.1h10m-5 0v24.5m-5 0h10m-9.1 -17.8h10m-5 0v23.5m-5 0h10m-9.1 -22.4h10m-5 0v25m-5 0h10m-9.1 -30.6h10m-5 0v23.4m-5 0h10m-9.1 -25.9h10m-5 0v26.6m-5 0h10m-9 -21.2h10m-5 0v24.9m-5 0h10m-9.1 -30.8h10m-5 0v24.5m-5 0h10m-9.1 -15.7h10m-5 0v25.6m-5 0h10m-9.1 -30.4h10m-5 0v26.2m-5 0h10m-9.1 -25.8h10m-5 0v25.3m-5 0h10m-9.1 -26.5h10m-5 0v23.5m-5 0h10m-9 -17.6h10m-5 0v23.8m-5 0h10m-9.1 -28.3h10m-5 0v23.6m-5 0h10m-9.1 -25.4h10m-5 0v23.9m-5 0h10m-9.1 -21.1h10m-5 0v26.4m-5 0h10m-9.1 -30h10m-5 0v26.3m-5 0h10m-9.1 -23.3h10m-5 0v26.5m-5 0h10m-9 -29.3h10m-5 0v24.4m-5 0h10m-9.1 -18.4h10m-5 0v25.4m-5 0h10m-9.1 -29.1h10m-5 0v25.9m-5 0h10m-9.1 -16.9h10m-5 0v26.1m-5 0h10m-9.1 -33.1h10m-5 0v25.5m-5 0h10m-9.1 -24.3h10m-5 0v24.1m-5 0h10m-9 -27.6h10m-5 0v25.7m-5 0h10m-9.1 -17.4h10m-5 0v24.6m-5 0h10m-9.1 -30h10m-5 0v25.7m-5 0h10m-9.1 -25.5h10m-5 0v24.6m-5 0h10m-9.1 -27.8h10m-5 0v23.7m-5 0h10m-9.1 -19h10m-5 0v26.3m-5 0h10m-9 -25.3h10m-5 0v25.3m-5 0h10m-9.1 -27.8h10m-5 0v23.9m-5 0h10m-9.1 -24.3h10m-5 0v24.1m-5 0h10m-9.1 -27.5h10m-5 0v24.8m-5 0h10m-9.1 -18.2h10m-5 0v24.1m-5 0h10m-9.1 -32h10m-5 0v25.3m-5 0h10m-9 -17.1h10m-5 0v24.7m-5 0h10m-9.1 -29.8h10m-5 0v26m-5 0h10m-9.1 -20.5h10m-5 0v23.6m-5 0h10m-9.1 -29.1h10m-5 0v24.5m-5 0h10m-9.1 -25.4h10m-5 0v25.3m-5 0h10m-9.1 -23.2h10m-5 0v24.8m-5 0h10m-9 -23.3h10m-5 0v24.6m-5 0h10m-9.1 -25.1h10m-5 0v25.6m-5 0h10m-9.1 -29.4h10m-5 0v26.7m-5 0h10m-9.1 -22.2h10m-5 0v23.5m-5 0h10m-9.1 -24.2h10m-5 0v23.9m-5 0h10m-9.1 -24.1h10m-5 0v24.6m-5 0h10m-9 -27.6h10m-5 0v24.8m-5 0h10m-9.1 -21.2h10m-5 0v25.9m-5 0h10m-9.1 -25.3h10m-5 0v23.7m-5 0h10m-9.1 -26.2h10m-5 0v23.9m-5 0h10m-9.1 -24.8h10m-5 0v26.6m-5 0h10m-9.1 -27.8h10m-5 0v24.5m-5 0h10m-173.1 24.7h10m-5 0v25.8m-5 0h10m-9.1 -21.9h10m-5 0v23.3m-5 0h10m-9.1 -27h10m-5 0v23.5m-5 0h10m-9.1 -28.3h10m-5 0v24.8m-5 0h10m-9 -9.9h10m-5 0v25.5m-5 0h10m-9.1 -37h10m-5 0v26.2m-5 0h10m-9.1 -14.6h10m-5 0v26.8m-5 0h10m-9.1 -32.4h10m-5 0v23.8m-5 0h10m-9.1 -28.9h10m-5 0v23.4m-5 0h10m-9.1 -22.5h10m-5 0v26m-5 0h10m-9 -26.4h10m-5 0v25.7m-5 0h10m-9.1 -35.5h10m-5 0v26.3m-5 0h10m-9.1 -14.5h10m-5 0v25.1m-5 0h10m-9.1 -32.1h10m-5 0v24.7m-5 0h10m-9.1 -18.7h10m-5 0v26.8m-5 0h10m-9.1 -29.3h10m-5 0v24.7m-5 0h10m-9 -18.5h10m-5 0v25.5m-5 0h10m-9.1 -38.2h10m-5 0v26.3m-5 0h10m-9.1 -29.2h10m-5 0v24.3m-5 0h10m-9.1 -23.1h10m-5 0v23.4m-5 0h10m-9.1 -28.2h10m-5 0v26m-5 0h10m-9.1 -37.8h10m-5 0v26.6m-5 0h10m-9 -30h10m-5 0v23.4m-5 0h10m-9.1 -29.9h10m-5 0v26.3m-5 0h10m-9.1 -30.6h10m-5 0v25.6m-5 0h10m-9.1 -21.8h10m-5 0v24.8m-5 0h10m-9.1 -6.5h10m-5 0v24.9m-5 0h10m-9.1 -38.6h10m-5 0v25.4m-5 0h10m-9 -15h10m-5 0v24.4m-5 0h10m-9.1 -30.2h10m-5 0v25.6m-5 0h10m-9.1 -30.2h10m-5 0v25.5m-5 0h10m-9.1 -4.9h10m-5 0v25.7m-5 0h10m-9.1 -42.9h10m-5 0v26.5m-5 0h10m-9.1 -21.7h10m-5 0v26.4m-5 0h10m-9 -15.6h10m-5 0v23.9m-5 0h10m-9.1 -22.5h10m-5 0v23.8m-5 0h10m-9.1 -26.5h10m-5 0v24.2m-5 0h10m-9.1 -22h10m-5 0v24.1m-5 0h10m-9.1 -22.2h10m-5 0v24.4m-5 0h10m-9.1 -35.6h10m-5 0v23.6m-5 0h10m-9 -12h10m-5 0v25.1m-5 0h10m-9.1 -19.4h10m-5 0v25.1m-5 0h10m-9.1 -24.6h10m-5 0v23.4m-5 0h10m-9.1 -36.8h10m-5 0v26.4m-5 0h10m-9.1 -15.1h10m-5 0v23.7m-5 0h10m-9.1 -32.9h10m-5 0v24.2m-5 0h10m-9 -17.1h10m-5 0v26.6m-5 0h10m-9.1 -40.5h10m-5 0v25m-5 0h10m-9.1 -10.9h10m-5 0v24.4m-5 0h10m-9.1 -30.3h10m-5 0v24.8m-5 0h10m-9.1 -25.4h10m-5 0v26.4m-5 0h10m-9.1 -9h10m-5 0v26.2m-5 0h10m-9 -19h10m-5 0v25.1m-5 0h10m-9.1 -31.7h10m-5 0v23.4m-5 0h10m-9.1 -28.3h10m-5 0v25.1m-5 0h10m-9.1 -25.7h10m-5 0v24.2m-5 0h10m-9.1 -26.2h10m-5 0v26.4m-5 0h10m-9.1 -23.7h10m-5 0v24.2m-5 0h10m-9 -20.3h10m-5 0v26.7m-5 0h10m-9.1 -35.2h10m-5 0v24.9m-5 0h10m-9.1 -22.1h10m-5 0v25.4m-5 0h10m-9.1 -22.2h10m-5 0v24.4m-5 0h10m-9.1 -30.1h10m-5 0v23.5m-5 0h10m-9.1 -18.7h10m-5 0v24.1m-5 0h10m-9 -21.9h10m-5 0v24.9m-5 0h10m-9.1 -28.2h10m-5 0v26.6m-5 0h10m-9.1 -23.2h10m-5 0v24.4m-5 0h10m-9.1 -21.7h10m-5 0v25.3m-5 0h10m-9.1 -31.8h10m-5 0v25.8m-5 0h10m-9.1 -25h10m-5 0v26.7m-5 0h10m-9 -26.3h10m-5 0v25m-5 0h10m-9.1 -23.3h10m-5 0v25.5m-5 0h10m-9.1 -29.5h10m-5 0v26.6m-5 0h10m-9.1 -20.9h10m-5 0v23.4m-5 0h10m-9.1 -27.3h10m-5 0v25.7m-5 0h10m-9.1 -23.3h10m-5 0v23.5m-5 0h10m-9 -20.9h10m-5 0v26.3m-5 0h10m-9.1 -27.9h10m-5 0v24.9m-5 0h10m-9.1 -22.9h10m-5 0v25.7m-5 0h10m-9.1 -29.5h10m-5 0v23.6m-5 0h10m-9.1 -24.7h10m-5 0v23.6m-5 0h10m-9.1 -23.6h10m-5 0v26.6m-5 0h10m-9 -27.5h10m-5 0v26.6m-5 0h10m-9.1 -24.2h10m-5 0v24.3m-5 0h10m-9.1 -17.2h10m-5 0v25.2m-5 0h10m-9.1 -31.4h10m-5 0v26.8m-5 0h10m-9.1 -25.4h10m-5 0v25.2m-5 0h10m-9.1 -21.4h10m-5 0v26.6m-5 0h10m-9 -30h10m-5 0v23.5m-5 0h10m-9.1 -26.3h10m-5 0v25.6m-5 0h10m-9.1 -24.2h10m-5 0v25.2m-5 0h10m-9.1 -26.5h10m-5 0v24.6m-5 0h10m-9.1 -23.5h10m-5 0v23.9m-5 0h10m-9.1 -32.7h10m-5 0v26.5m-5 0h10m-9 -18h10m-5 0v23.5m-5 0h10m-9.1 -25.1h10m-5 0v24.3m-5 0h10m-9.1 -25.9h10m-5 0v24.7m-5 0h10m-9.1 -23.4h10m-5 0v24.3m-5 0h10m-9.1 -28.1h10m-5 0v24.9m-5 0h10m-9.1 -24.8h10m-5 0v25.5m-5 0h10m-9.1 -20.2h10m-5 0v25.2m-5 0h10m-9 -30.1h10m-5 0v25.5m-5 0h10m-9.1 -24.8h10m-5 0v24.1m-5 0h10m-9.1 -23.7h10m-5 0v23.7m-5 0h10m-9.1 -18.8h10m-5 0v25.7m-5 0h10m-9.1 -29.7h10m-5 0v26.4m-5 0h10m-9.1 -26.6h10m-5 0v23.3m-5 0h10m-9 -21.8h10m-5 0v26.6m-5 0h10m-9.1 -24.8h10m-5 0v26.7m-5 0h10m-9.1 -29.4h10m-5 0v24.5m-5 0h10m-9.1 -18.4h10m-5 0v24.7m-5 0h10m-9.1 -26.8h10m-5 0v25.4m-5 0h10m-9.1 -29.1h10m-5 0v26.7m-5 0h10m-9 -24.1h10m-5 0v24.8m-5 0h10m-9.1 -30.3h10m-5 0v26.5m-5 0h10m-9.1 -24h10m-5 0v23.8m-5 0h10m-9.1 -23.6h10m-5 0v26.7m-5 0h10m-9.1 -29.6h10m-5 0v26.5m-5 0h10m-9.1 -20.1h10m-5 0v25.3m-5 0h10m-9 -30.2h10m-5 0v24m-5 0h10m-9.1 -21h10m-5 0v24.3m-5 0h10m-9.1 -28.5h10m-5 0v24m-5 0h10m-9.1 -20.8h10m-5 0v24.2m-5 0h10m-9.1 -27h10m-5 0v25.8m-5 0h10m-9.1 -27.4h10m-5 0v25m-5 0h10m-9 -21.1h10m-5 0v25.8m-5 0h10m-9.1 -29.3h10m-5 0v26.5m-5 0h10m-9.1 -28.1h10m-5 0v25.8m-5 0h10m-9.1 -19.6h10m-5 0v25.3m-5 0h10m-9.1 -27.3h10m-5 0v26.4m-5 0h10m-9.1 -29.1h10m-5 0v23.7m-5 0h10m-9 -20.4h10m-5 0v26m-5 0h10m-9.1 -23.2h10m-5 0v25.8m-5 0h10m-9.1 -28.7h10m-5 0v23.6m-5 0h10m-9.1 -22.8h10m-5 0v23.6m-5 0h10m-9.1 -24.9h10m-5 0v26.7m-5 0h10m-9.1 -26.3h10m-5 0v26.4m-5 0h10m-9 -26.2h10m-5 0v24.8m-5 0h10m-9.1 -20.6h10m-5 0v24.7m-5 0h10m-9.1 -28.3h10m-5 0v24.5m-5 0h10m-9.1 -26.7h10m-5 0v26.2m-5 0h10m-9.1 -24.8h10m-5 0v24.9m-5 0h10m-9.1 -23.5h10m-5 0v25.1m-5 0h10m-9 -28.2h10m-5 0v25.7m-5 0h10m-9.1 -24.3h10m-5 0v24.5m-5 0h10m-9.1 -23.5h10m-5 0v26.5m-5 0h10m-9.1 -31.2h10m-5 0v26.5m-5 0h10m-9.1 -23.1h10m-5 0v26.4m-5 0h10m-9.1 -23.1h10m-5 0v25.3m-5 0h10m-9 -28h10m-5 0v24.1m-5 0h10m-9.1 -25.6h10m-5 0v26.4m-5 0h10m-9.1 -25.5h10m-5 0v25.7m-5 0h10m-9.1 -22.8h10m-5 0v24.2m-5 0h10m-9.1 -18.2h10m-5 0v26m-5 0h10m-9.1 -35.3h10m-5 0v26.6m-5 0h10m-9 -24.1h10m-5 0v23.7m-5 0h10m-9.1 -25h10m-5 0v25.2m-5 0h10m-9.1 -22.4h10m-5 0v24.5m-5 0h10m-9.1 -23.7h10m-5 0v24m-5 0h10m-9.1 -29h10m-5 0v24.3m-5 0h10m-9.1 -23.2h10m-5 0v24.7m-5 0h10m-9 -29.1h10m-5 0v24.3m-5 0h10m-9.1 -16.6h10m-5 0v23.9m-5 0h10m-9.1 -28.5h10m-5 0v26.2m-5 0h10m-9.1 -25.9h10m-5 0v24.7m-5 0h10m-9.1 -22.3h10m-5 0v25.3m-5 0h10m-9.1 -30.8h10m-5 0v25.2m-5 0h10m-9 -23.1h10m-5 0v24.9m-5 0h10m-9.1 -24.1h10m-5 0v25m-5 0h10m-9.1 -27.5h10m-5 0v24.9m-5 0h10m-9.1 -24.1h10m-5 0v24.3m-5 0h10m-9.1 -19.8h10m-5 0v23.8m-5 0h10m-9.1 -25.9h10m-5 0v25.3m-5 0h10m-9 -30h10m-5 0v24.9m-5 0h10m-9.1 -23.8h10m-5 0v26.5m-5 0h10m-9.1 -19.4h10m-5 0v24.3m-5 0h10m-9.1 -19.8h10m-5 0v25.2m-5 0h10m-9.1 -37.4h10m-5 0v25.4m-5 0h10m-9.1 -25.5h10m-5 0v23.6m-5 0h10" stroke="#d3d3d3" stroke-width="2.4" fill="none"/>
<path d="M459 33.9h10m-5 0v26.5m-5 0h10m-8.4 -22.9h10m-5 0v23.1m-5 0h10m-8.4 -21.5h10m-5 0v28.8m-5 0h10m-8.4 -24.7h10m-5 0v25.9m-5 0h10m-8.4 -33.5h10m-5 0v28.2m-5 0h10m-8.5 -24.5h10m-5 0v28.4m-5 0h10m-8.4 -26.1h10m-5 0v23.1m-5 0h10m-8.4 -23h10m-5 0v28.7m-5 0h10m-8.4 -20.7h10m-5 0v21.8m-5 0h10m-8.4 -26.4h10m-5 0v26.1m-5 0h10m-8.4 -32.8h10m-5 0v23.2m-5 0h10m-8.4 -17h10m-5 0v21.9m-5 0h10m-8.4 -25.2h10m-5 0v25.6m-5 0h10m-8.5 -21.4h10m-5 0v22.8m-5 0h10m-8.4 -27.9h10m-5 0v27.3m-5 0h10m-8.4 -26.7h10m-5 0v24.7m-5 0h10m-8.4 -24.8h10m-5 0v23.3m-5 0h10m-8.4 -22.9h10m-5 0v21.2m-5 0h10m-8.4 -22.5h10m-5 0v26.5m-5 0h10m-8.4 -26.7h10m-5 0v26.2m-5 0h10m-8.5 -28.6h10m-5 0v27.4m-5 0h10m-8.4 -26.7h10m-5 0v24.1m-5 0h10m-8.4 -24.4h10m-5 0v28.3m-5 0h10m-8.4 -29h10m-5 0v21.4m-5 0h10m-8.4 -19.2h10m-5 0v28.3m-5 0h10m-8.4 -26.6h10m-5 0v27.1m-5 0h10m-8.4 -22.2h10m-5 0v22m-5 0h10m-8.5 -31h10m-5 0v28.9m-5 0h10m-8.4 -20.7h10m-5 0v21.9m-5 0h10m-8.4 -23.4h10m-5 0v27m-5 0h10m-8.4 -27h10m-5 0v23.1m-5 0h10m-8.4 -29.3h10m-5 0v26.6m-5 0h10m-8.4 -22.3h10m-5 0v27.7m-5 0h10m-8.4 -32h10m-5 0v22.1m-5 0h10m-8.5 -18.9h10m-5 0v23.7m-5 0h10m-8.4 -21.1h10m-5 0v28.2m-5 0h10m-8.4 -29.3h10m-5 0v24.8m-5 0h10m-8.4 -28.5h10m-5 0v22.3m-5 0h10m-8.4 -14.1h10m-5 0v21.9m-5 0h10m-8.4 -20.4h10m-5 0v22.1m-5 0h10m-8.4 -27.4h10m-5 0v22m-5 0h10m-8.4 -26h10m-5 0v23.9m-5 0h10m-8.5 -26h10m-5 0v27.2m-5 0h10m-8.4 -23.3h10m-5 0v24.7m-5 0h10m-8.4 -24.8h10m-5 0v21.9m-5 0h10m-8.4 -22.2h10m-5 0v23.9m-5 0h10m-8.4 -25.1h10m-5 0v24.9m-5 0h10m-8.4 -26.4h10m-5 0v24.7m-5 0h10m-8.4 -19h10m-5 0v26.2m-5 0h10m-8.5 -31.1h10m-5 0v26.5m-5 0h10m-8.4 -23.2h10m-5 0v27m-5 0h10m-8.4 -29.8h10m-5 0v25.4m-5 0h10m-8.4 -19.9h10m-5 0v21.4m-5 0h10m-8.4 -25.3h10m-5 0v27.1m-5 0h10m-8.4 -30.6h10m-5 0v27.3m-5 0h10m-8.4 -22.5h10m-5 0v26.9m-5 0h10m-8.5 -28.8h10m-5 0v24.5m-5 0h10m-8.4 -19.8h10m-5 0v28.1m-5 0h10m-8.4 -24.6h10m-5 0v21.9m-5 0h10m-8.4 -22.9h10m-5 0v26.9m-5 0h10m-8.4 -25.9h10m-5 0v25.8m-5 0h10m-8.4 -28.7h10m-5 0v26.6m-5 0h10m-8.4 -28.1h10m-5 0v21.7m-5 0h10m-8.5 -31.7h10m-5 0v28.7m-5 0h10m-8.4 -13.1h10m-5 0v21.4m-5 0h10m-8.4 -25.9h10m-5 0v22.6m-5 0h10m-8.4 -22.4h10m-5 0v25.2m-5 0h10m-8.4 -23.6h10m-5 0v25.6m-5 0h10m-8.4 -28.1h10m-5 0v22.6m-5 0h10m-8.4 -20.5h10m-5 0v23.4m-5 0h10m-8.4 -28.8h10m-5 0v28.2m-5 0h10m-8.5 -30.2h10m-5 0v23.6m-5 0h10m-8.4 -15.3h10m-5 0v24.6m-5 0h10m-8.4 -30h10m-5 0v22m-5 0h10m-8.4 -24.6h10m-5 0v25.6m-5 0h10m-8.4 -22.1h10m-5 0v26.6m-5 0h10m-8.4 -30.5h10m-5 0v27m-5 0h10m-8.4 -23.4h10m-5 0v23m-5 0h10m-8.5 -20.2h10m-5 0v24.1m-5 0h10m-8.4 -28.2h10m-5 0v26.2m-5 0h10m-8.4 -19.4h10m-5 0v28.7m-5 0h10m-8.4 -33.1h10m-5 0v27.2m-5 0h10m-8.4 -22.8h10m-5 0v22.9m-5 0h10m-8.4 -20.8h10m-5 0v21.7m-5 0h10m-8.4 -26.4h10m-5 0v23.7m-5 0h10m-8.5 -25.2h10m-5 0v25.2m-5 0h10m-8.4 -28.5h10m-5 0v23.3m-5 0h10m-8.4 -19.3h10m-5 0v27.3m-5 0h10m-8.4 -29.1h10m-5 0v23.2m-5 0h10m-8.4 -22.1h10m-5 0v22.2m-5 0h10m-8.4 -30.3h10m-5 0v25.8m-5 0h10m-8.4 -19.8h10m-5 0v27.1m-5 0h10m-8.4 -31.9h10m-5 0v22.7m-5 0h10m-8.5 -15.4h10m-5 0v23.7m-5 0h10m-8.4 -28.5h10m-5 0v23.2m-5 0h10m-8.4 -19.4h10m-5 0v21.4m-5 0h10m-8.4 -23.7h10m-5 0v26.4m-5 0h10m-8.4 -19.7h10m-5 0v21.5m-5 0h10m-8.4 -19.8h10m-5 0v26m-5 0h10m-8.4 -27.3h10m-5 0v26m-5 0h10m-8.5 -33.9h10m-5 0v25.3m-5 0h10m-8.4 -20.1h10m-5 0v21.6m-5 0h10m-8.4 -17.8h10m-5 0v21.5m-5 0h10m-8.4 -27.3h10m-5 0v25.2m-5 0h10m-8.4 -19.4h10m-5 0v25m-5 0h10m-8.4 -22.2h10m-5 0v21.3m-5 0h10m-8.4 -19.2h10m-5 0v21.2m-5 0h10m-8.5 -30.6h10m-5 0v27.2m-5 0h10m-8.4 -27.7h10m-5 0v23.7m-5 0h10m-8.4 -17.4h10m-5 0v26.7m-5 0h10m-8.4 -29.1h10m-5 0v22.7m-5 0h10m-8.4 -25.9h10m-5 0v23.3m-5 0h10m-8.4 -29.8h10m-5 0v28.1m-5 0h10m-8.4 -13.2h10m-5 0v22.7m-5 0h10m-8.5 -31h10m-5 0v24.3m-5 0h10m-8.4 -26.5h10m-5 0v25.1m-5 0h10m-8.4 -20.6h10m-5 0v26.8m-5 0h10m-8.4 -31.4h10m-5 0v23.6m-5 0h10m-8.4 -25.2h10m-5 0v26.3m-5 0h10m-8.4 -26.8h10m-5 0v22.9m-5 0h10m-8.4 -21.6h10m-5 0v26.4m-5 0h10m-8.4 -27.4h10m-5 0v21.4m-5 0h10m-8.5 -19.6h10m-5 0v22.6m-5 0h10m-8.4 -25.7h10m-5 0v21.6m-5 0h10m-8.4 -20.2h10m-5 0v21.9m-5 0h10m-8.4 -22.3h10m-5 0v27m-5 0h10m-8.4 -22.2h10m-5 0v24.8m-5 0h10m-8.4 -34.1h10m-5 0v27.3m-5 0h10m-8.4 -26.3h10m-5 0v28.7m-5 0h10m-8.5 -25.2h10m-5 0v22.7m-5 0h10m-8.4 -20.8h10m-5 0v27.2m-5 0h10m-8.4 -28.7h10m-5 0v28.7m-5 0h10m-8.4 -31.3h10m-5 0v23.6m-5 0h10m-8.4 -19.3h10m-5 0v21.8m-5 0h10m-8.4 -17.6h10m-5 0v24.9m-5 0h10m-8.4 -27h10m-5 0v25.5m-5 0h10m-8.5 -25.7h10m-5 0v26.6m-5 0h10m-8.4 -25h10m-5 0v25.8m-5 0h10m-8.4 -22.7h10m-5 0v23.7m-5 0h10m-8.4 -31.7h10m-5 0v22.6m-5 0h10m-8.4 -22.1h10m-5 0v24.1m-5 0h10m-8.4 -22.5h10m-5 0v25.1m-5 0h10m-8.4 -19.1h10m-5 0v22.9m-5 0h10m-8.5 -27.3h10m-5 0v23.8m-5 0h10m-8.4 -28.7h10m-5 0v28.4m-5 0h10m-8.4 -30.9h10m-5 0v24.9m-5 0h10m-8.4 -19.5h10m-5 0v22.6m-5 0h10m-8.4 -31.7h10m-5 0v26.8m-5 0h10m-8.4 -21.5h10m-5 0v24.5m-5 0h10m-8.4 -20.4h10m-5 0v25.7m-5 0h10m-8.4 -14.7h10m-5 0v24.8m-5 0h10m-8.5 -30.4h10m-5 0v22.7m-5 0h10m-8.4 -23.3h10m-5 0v27.5m-5 0h10m-8.4 -33.7h10m-5 0v26.3m-5 0h10m-8.4 -31h10m-5 0v29.6m-5 0h10m-8.4 -31.8h10m-5 0v21.9m-5 0h10m-8.4 -17.4h10m-5 0v26.4m-5 0h10m-8.4 -19.8h10m-5 0v25.3m-5 0h10m-8.5 -44.1h10m-5 0v25.4m-5 0h10m-8.4 -15.5h10m-5 0v27.7m-5 0h10m-8.4 -22.9h10m-5 0v24m-5 0h10m-8.4 -24.6h10m-5 0v25.2m-5 0h10m-8.4 -17.1h10m-5 0v23.2m-5 0h10m-8.4 -35.2h10m-5 0v26.5m-5 0h10m-8.4 -23.4h10m-5 0v25.6m-5 0h10m-8.5 -31.3h10m-5 0v22.6m-5 0h10m-8.4 -21.4h10m-5 0v24m-5 0h10m-8.4 -24.9h10m-5 0v25.3m-5 0h10m-8.4 -30h10m-5 0v26.5m-5 0h10m-8.4 -15.7h10m-5 0v23m-5 0h10m-8.4 -24.3h10m-5 0v27.2m-5 0h10m-8.4 -30.7h10m-5 0v28.8m-5 0h10m-8.4 -18.9h10m-5 0v25m-5 0h10m-8.5 -31.6h10m-5 0v23m-5 0h10m-8.4 -21.9h10m-5 0v23.7m-5 0h10m-8.4 -33h10m-5 0v28.4m-5 0h10m-8.4 -22.9h10m-5 0v26.7m-5 0h10m-8.4 -12h10m-5 0v23.7m-5 0h10m-8.4 -38.9h10m-5 0v23.9m-5 0h10m-8.4 -37.8h10m-5 0v29.1m-5 0h10m-8.5 -4.8h10m-5 0v28m-5 0h10m-8.4 -36.9h10m-5 0v28.2m-5 0h10m-8.4 -32.7h10m-5 0v23.9m-5 0h10m-8.4 -17.2h10m-5 0v30.5m-5 0h10m-8.4 -34h10m-5 0v24.8m-5 0h10m-8.4 -29.9h10m-5 0v25.6m-5 0h10m-8.4 -13.6h10m-5 0v24.7m-5 0h10m-8.5 -40.3h10m-5 0v30.3m-5 0h10m-8.4 -29.4h10m-5 0v27.9m-5 0h10m-8.4 -12.5h10m-5 0v27.3m-5 0h10m-8.4 -36.7h10m-5 0v26.3m-5 0h10m-8.4 -35.9h10m-5 0v28.6m-5 0h10m-8.4 -16.8h10m-5 0v26.8m-5 0h10m-8.4 -32.8h10m-5 0v26.7m-5 0h10m-8.5 -28.1h10m-5 0v24.3m-5 0h10m-8.4 -19.6h10m-5 0v29.6m-5 0h10m-8.4 -38.2h10m-5 0v23.7m-5 0h10m-8.4 -21.7h10m-5 0v30.3m-5 0h10m-8.4 -17.5h10m-5 0v30.4m-5 0h10m-8.4 -43h10m-5 0v27.3m-5 0h10m-8.4 -29.1h10m-5 0v24.6m-5 0h10m-8.4 -24.2h10m-5 0v25m-5 0h10m-8.5 -10.5h10m-5 0v24.5m-5 0h10m-8.4 -37.2h10m-5 0v28.9m-5 0h10m-8.4 -36.2h10m-5 0v26.2m-5 0h10m-8.4 -16.7h10m-5 0v31.1m-5 0h10m-8.4 -37.8h10m-5 0v26.2m-5 0h10m-8.4 -27.3h10m-5 0v26.1m-5 0h10m-8.4 -14.1h10m-5 0v28.9m-5 0h10m-8.5 -37.8h10m-5 0v30.5m-5 0h10m-8.4 -20.2h10m-5 0v27.7m-5 0h10m-8.4 -41.6h10m-5 0v24.6m-5 0h10m-8.4 -13.3h10m-5 0v25m-5 0h10m-8.4 -22.7h10m-5 0v29.3m-5 0h10m-8.4 -35.2h10m-5 0v29.7m-5 0h10m-8.4 -29.4h10m-5 0v31.5m-5 0h10m-8.5 -34.3h10m-5 0v28.3m-5 0h10m-8.4 -30.1h10m-5 0v29.9m-5 0h10m-8.4 -12h10m-5 0v29.1m-5 0h10m-8.4 -35.8h10m-5 0v28.2m-5 0h10m-8.4 -42h10m-5 0v30.2m-5 0h10m-359 32.7h10m-5 0v28.6m-5 0h10m-8.4 -26.8h10m-5 0v26.3m-5 0h10m-8.4 -31.2h10m-5 0v28.2m-5 0h10m-8.4 -19.5h10m-5 0v23.7m-5 0h10m-8.4 -23.8h10m-5 0v22.5m-5 0h10m-8.5 -25.5h10m-5 0v23.8m-5 0h10m-8.4 -27.8h10m-5 0v25.6m-5 0h10m-8.4 -27h10m-5 0v28.2m-5 0h10m-8.4 -24.6h10m-5 0v27.7m-5 0h10m-8.4 -25.5h10m-5 0v23m-5 0h10m-8.4 -25.9h10m-5 0v27.6m-5 0h10m-8.4 -26.2h10m-5 0v28.1m-5 0h10m-8.4 -25.7h10m-5 0v25.7m-5 0h10m-8.5 -25.4h10m-5 0v25.1m-5 0h10m-8.4 -30.8h10m-5 0v24.9m-5 0h10m-8.4 -21.6h10m-5 0v22.7m-5 0h10m-8.4 -31.8h10m-5 0v23.2m-5 0h10m-8.4 -17.7h10m-5 0v25.1m-5 0h10m-8.4 -20.9h10m-5 0v25.2m-5 0h10m-8.4 -26.8h10m-5 0v25.3m-5 0h10m-8.5 -25.4h10m-5 0v24.6m-5 0h10m-8.4 -26.2h10m-5 0v27.8m-5 0h10m-8.4 -25.6h10m-5 0v22.5m-5 0h10m-8.4 -22.8h10m-5 0v22.6m-5 0h10m-8.4 -23.7h10m-5 0v28.4m-5 0h10m-8.4 -28.6h10m-5 0v25.7m-5 0h10m-8.4 -29.3h10m-5 0v26m-5 0h10m-8.5 -17.3h10m-5 0v24.8m-5 0h10m-8.4 -24.6h10m-5 0v24.5m-5 0h10m-8.4 -27.4h10m-5 0v23.9m-5 0h10m-8.4 -26.5h10m-5 0v25.4m-5 0h10m-8.4 -25.5h10m-5 0v27.6m-5 0h10m-8.4 -25.6h10m-5 0v21.5m-5 0h10m-8.4 -21h10m-5 0v28.5m-5 0h10m-8.5 -24.6h10m-5 0v22.6m-5 0h10m-8.4 -26.3h10m-5 0v25m-5 0h10m-8.4 -27.4h10m-5 0v27.6m-5 0h10m-8.4 -29.8h10m-5 0v22.2m-5 0h10m-8.4 -26.5h10m-5 0v26.3m-5 0h10m-8.4 -18.5h10m-5 0v25.9m-5 0h10m-8.4 -33.7h10m-5 0v25.5m-5 0h10m-8.4 -21.9h10m-5 0v27.7m-5 0h10m-8.5 -19.7h10m-5 0v22.2m-5 0h10m-8.4 -28.5h10m-5 0v22.9m-5 0h10m-8.4 -23.2h10m-5 0v28.3m-5 0h10m-8.4 -27.1h10m-5 0v28.6m-5 0h10m-8.4 -21.9h10m-5 0v22.2m-5 0h10m-8.4 -24.2h10m-5 0v26.4m-5 0h10m-8.4 -25.7h10m-5 0v21.9m-5 0h10m-8.5 -21.2h10m-5 0v28.4m-5 0h10m-8.4 -32.3h10m-5 0v28.5m-5 0h10m-8.4 -28.5h10m-5 0v26.6m-5 0h10m-8.4 -25.7h10m-5 0v24.9m-5 0h10m-8.4 -27.9h10m-5 0v26.2m-5 0h10m-8.4 -26.1h10m-5 0v25.6m-5 0h10m-8.4 -24.5h10m-5 0v27.6m-5 0h10m-8.5 -28.6h10m-5 0v27.6m-5 0h10m-8.4 -31.4h10m-5 0v27.9m-5 0h10m-8.4 -30.7h10m-5 0v27.7m-5 0h10m-8.4 -23.8h10m-5 0v22.9m-5 0h10m-8.4 -21.6h10m-5 0v22.8m-5 0h10m-8.4 -26.6h10m-5 0v26.6m-5 0h10m-8.4 -19.8h10m-5 0v25.5m-5 0h10m-8.5 -28.4h10m-5 0v28.7m-5 0h10m-8.4 -26.1h10m-5 0v21.6m-5 0h10m-8.4 -23.8h10m-5 0v24.4m-5 0h10m-8.4 -26h10m-5 0v28m-5 0h10m-8.4 -27.4h10m-5 0v24.7m-5 0h10m-8.4 -21.8h10m-5 0v22.2m-5 0h10m-8.4 -25.1h10m-5 0v23.7m-5 0h10m-8.4 -28.3h10m-5 0v28.6m-5 0h10m-8.5 -21.3h10m-5 0v27.2m-5 0h10m-8.4 -28.2h10m-5 0v27.7m-5 0h10m-8.4 -27h10m-5 0v23.2m-5 0h10m-8.4 -30.1h10m-5 0v27.4m-5 0h10m-8.4 -22.4h10m-5 0v21.3m-5 0h10m-8.4 -25.3h10m-5 0v22.9m-5 0h10m-8.4 -24.6h10m-5 0v26.1m-5 0h10m-8.5 -21.3h10m-5 0v26.3m-5 0h10m-8.4 -25.8h10m-5 0v24.7m-5 0h10m-8.4 -22.2h10m-5 0v28.6m-5 0h10m-8.4 -31.5h10m-5 0v24m-5 0h10m-8.4 -21.5h10m-5 0v23.3m-5 0h10m-8.4 -22.4h10m-5 0v22.8m-5 0h10m-8.4 -25.4h10m-5 0v27m-5 0h10m-8.5 -27.5h10m-5 0v27.5m-5 0h10m-8.4 -27.7h10m-5 0v27.5m-5 0h10m-8.4 -27.5h10m-5 0v26m-5 0h10m-8.4 -26.3h10m-5 0v21.5m-5 0h10m-8.4 -16.9h10m-5 0v24.4m-5 0h10m-8.4 -22.4h10m-5 0v22.5m-5 0h10m-8.4 -25.8h10m-5 0v23.4m-5 0h10m-8.4 -25.5h10m-5 0v21.4m-5 0h10m-8.5 -21.1h10m-5 0v26.6m-5 0h10m-8.4 -23h10m-5 0v23.1m-5 0h10m-8.4 -26.7h10m-5 0v25.5m-5 0h10m-8.4 -24.6h10m-5 0v28.6m-5 0h10m-8.4 -19.9h10m-5 0v23m-5 0h10m-8.4 -25.7h10m-5 0v23.4m-5 0h10m-8.4 -20.3h10m-5 0v23.2m-5 0h10m-8.5 -27.6h10m-5 0v21.7m-5 0h10m-8.4 -22.3h10m-5 0v25.6m-5 0h10m-8.4 -26.8h10m-5 0v25.5m-5 0h10m-8.4 -29.2h10m-5 0v25.8m-5 0h10m-8.4 -19h10m-5 0v28.6m-5 0h10m-8.4 -29.2h10m-5 0v25.7m-5 0h10m-8.4 -25.7h10m-5 0v25.9m-5 0h10m-8.5 -21.2h10m-5 0v28.1m-5 0h10m-8.4 -34.4h10m-5 0v27.9m-5 0h10m-8.4 -26.7h10m-5 0v25.2m-5 0h10m-8.4 -27.9h10m-5 0v25.9m-5 0h10m-8.4 -21.3h10m-5 0v24m-5 0h10m-8.4 -22.8h10m-5 0v25.1m-5 0h10m-8.4 -29.9h10m-5 0v24.9m-5 0h10m-8.5 -23.1h10m-5 0v25.3m-5 0h10m-8.4 -22.1h10m-5 0v23m-5 0h10m-8.4 -26.1h10m-5 0v25.9m-5 0h10m-8.4 -28.1h10m-5 0v23.4m-5 0h10m-8.4 -29.1h10m-5 0v23.6m-5 0h10m-8.4 -26.9h10m-5 0v23.5m-5 0h10m-8.4 -18.1h10m-5 0v27.3m-5 0h10m-8.4 -30.6h10m-5 0v21.8m-5 0h10m-8.5 -20.6h10m-5 0v28.9m-5 0h10m-8.4 -24.6h10m-5 0v22.4m-5 0h10m-8.4 -24.3h10m-5 0v26m-5 0h10m-8.4 -18h10m-5 0v23m-5 0h10m-8.4 -29.6h10m-5 0v26.5m-5 0h10m-8.4 -21.4h10m-5 0v27.9m-5 0h10m-8.4 -29.5h10m-5 0v24.6m-5 0h10m-8.5 -24.7h10m-5 0v24.8m-5 0h10m-8.4 -34.9h10m-5 0v28.8m-5 0h10m-8.4 -27.4h10m-5 0v25.7m-5 0h10m-8.4 -21.9h10m-5 0v24m-5 0h10m-8.4 -21.5h10m-5 0v23m-5 0h10m-8.4 -20.6h10m-5 0v27.8m-5 0h10m-8.4 -32.5h10m-5 0v26.7m-5 0h10m-8.5 -23.5h10m-5 0v23.7m-5 0h10m-8.4 -23.1h10m-5 0v25.3m-5 0h10m-8.4 -21.4h10m-5 0v22.5m-5 0h10m-8.4 -25.1h10m-5 0v27.4m-5 0h10m-8.4 -29.9h10m-5 0v28.4m-5 0h10m-8.4 -33.3h10m-5 0v27.2m-5 0h10m-8.4 -19.9h10m-5 0v27m-5 0h10m-8.5 -27.6h10m-5 0v22.5m-5 0h10m-8.4 -29.3h10m-5 0v28.6m-5 0h10m-8.4 -23.5h10m-5 0v26.2m-5 0h10m-8.4 -29.5h10m-5 0v28.6m-5 0h10m-8.4 -23.4h10m-5 0v27.5m-5 0h10m-8.4 -28.8h10m-5 0v28.6m-5 0h10m-8.4 -32.8h10m-5 0v28m-5 0h10m-8.4 -25.7h10m-5 0v27.4m-5 0h10m-8.5 -26.1h10m-5 0v26.5m-5 0h10m-8.4 -22.1h10m-5 0v24m-5 0h10m-8.4 -20.3h10m-5 0v23.8m-5 0h10m-8.4 -38.2h10m-5 0v29m-5 0h10m-8.4 -21.4h10m-5 0v28.1m-5 0h10m-8.4 -24.6h10m-5 0v23.9m-5 0h10m-8.4 -29.4h10m-5 0v22.8m-5 0h10m-8.5 -17.9h10m-5 0v28.8m-5 0h10m-8.4 -22.5h10m-5 0v22.1m-5 0h10m-8.4 -26.8h10m-5 0v26.9m-5 0h10m-8.4 -28.7h10m-5 0v27.6m-5 0h10m-8.4 -27.8h10m-5 0v25.4m-5 0h10m-8.4 -28.4h10m-5 0v29.2m-5 0h10m-8.4 -30.2h10m-5 0v27.2m-5 0h10m-8.5 -23.8h10m-5 0v30m-5 0h10m-8.4 -31.1h10m-5 0v27.6m-5 0h10m-8.4 -25.7h10m-5 0v26.6m-5 0h10m-8.4 -23.5h10m-5 0v23m-5 0h10m-8.4 -32.1h10m-5 0v29.2m-5 0h10m-8.4 -27.1h10m-5 0v23.3m-5 0h10m-8.4 -31.9h10m-5 0v24.6m-5 0h10m-8.4 -21h10m-5 0v27.5m-5 0h10m-8.5 -22.2h10m-5 0v27.8m-5 0h10m-8.4 -35.6h10m-5 0v29.7m-5 0h10m-8.4 -26.2h10m-5 0v29.9m-5 0h10m-8.4 -39.1h10m-5 0v29.7m-5 0h10m-8.4 -12.7h10m-5 0v28.8m-5 0h10m-8.4 -31.8h10m-5 0v25.6m-5 0h10m-8.4 -26.2h10m-5 0v28.3m-5 0h10m-8.5 -29.5h10m-5 0v23.9m-5 0h10m-8.4 -22.9h10m-5 0v25.2m-5 0h10m-8.4 -20h10m-5 0v30.5m-5 0h10m-8.4 -27.4h10m-5 0v27.8m-5 0h10m-8.4 -39.7h10m-5 0v30.1m-5 0h10m-8.4 -34h10m-5 0v24.2m-5 0h10m-8.4 -25.6h10m-5 0v27.5m-5 0h10m-8.5 -15.5h10m-5 0v24.3m-5 0h10m-8.4 -30.9h10m-5 0v28.4m-5 0h10m-8.4 -22.1h10m-5 0v30.2m-5 0h10m-8.4 -25.5h10m-5 0v26.4m-5 0h10m-8.4 -40.3h10m-5 0v23.2m-5 0h10m-8.4 -21.5h10m-5 0v25.7m-5 0h10m-8.4 -19h10m-5 0v23.8m-5 0h10m-8.5 -25.6h10m-5 0v26.7m-5 0h10m-8.4 -36.8h10m-5 0v29.4m-5 0h10m-8.4 -27.8h10m-5 0v30.8m-5 0h10m-8.4 -24.7h10m-5 0v25.4m-5 0h10m-8.4 -28.5h10m-5 0v24.5m-5 0h10m-8.4 -21.9h10m-5 0v23.7m-5 0h10m-8.4 -22.1h10m-5 0v25.8m-5 0h10m-8.4 -23.6h10m-5 0v25.4m-5 0h10m-8.5 -35.1h10m-5 0v25m-5 0h10m-8.4 -18.6h10m-5 0v30.3m-5 0h10m-8.4 -23.4h10m-5 0v25.7m-5 0h10m-8.4 -44.2h10m-5 0v24.8m-5 0h10m-8.4 -21.1h10m-5 0v24.7m-5 0h10m-8.4 -21.9h10m-5 0v29.2m-5 0h10m-8.4 -23.6h10m-5 0v27m-5 0h10m-8.5 -28.2h10m-5 0v26.7m-5 0h10m-8.4 -17.3h10m-5 0v29.1m-5 0h10m-8.4 -39h10m-5 0v28.5m-5 0h10m-8.4 -30.7h10m-5 0v27.3m-5 0h10m-8.4 -25.3h10m-5 0v28.6m-5 0h10m-8.4 -31.9h10m-5 0v26.2m-5 0h10m-8.4 -18.3h10m-5 0v27.1m-5 0h10m-8.5 -34.5h10m-5 0v29.1m-5 0h10m-8.4 -14.4h10m-5 0v24.1m-5 0h10m-8.4 -36.2h10m-5 0v27.1m-5 0h10m-8.4 -22.7h10m-5 0v26.9m-5 0h10m-8.4 -21.3h10m-5 0v26.5m-5 0h10m-359 2.7h10m-5 0v22.5m-5 0h10m-8.4 -16.8h10m-5 0v26.7m-5 0h10m-8.4 -27.2h10m-5 0v22.5m-5 0h10m-8.4 -22.5h10m-5 0v21.8m-5 0h10m-8.4 -25.9h10m-5 0v26.3m-5 0h10m-8.5 -24.3h10m-5 0v23.9m-5 0h10m-8.4 -24h10m-5 0v25.2m-5 0h10m-8.4 -29h10m-5 0v21.6m-5 0h10m-8.4 -16.3h10m-5 0v23m-5 0h10m-8.4 -24.2h10m-5 0v21.8m-5 0h10m-8.4 -24.2h10m-5 0v28.4m-5 0h10m-8.4 -22.5h10m-5 0v22.1m-5 0h10m-8.4 -28.4h10m-5 0v28.3m-5 0h10m-8.5 -16.8h10m-5 0v21.7m-5 0h10m-8.4 -30.5h10m-5 0v22.8m-5 0h10m-8.4 -17h10m-5 0v26.7m-5 0h10m-8.4 -30.1h10m-5 0v26.1m-5 0h10m-8.4 -24.9h10m-5 0v21.6m-5 0h10m-8.4 -20.5h10m-5 0v23.8m-5 0h10m-8.4 -22.3h10m-5 0v22.2m-5 0h10m-8.5 -27.6h10m-5 0v23.8m-5 0h10m-8.4 -27.9h10m-5 0v24m-5 0h10m-8.4 -22.1h10m-5 0v25.3m-5 0h10m-8.4 -25.4h10m-5 0v27m-5 0h10m-8.4 -23.5h10m-5 0v21.5m-5 0h10m-8.4 -24.2h10m-5 0v26.4m-5 0h10m-8.4 -32.6h10m-5 0v28.4m-5 0h10m-8.5 -23.9h10m-5 0v23.8m-5 0h10m-8.4 -24.5h10m-5 0v26.3m-5 0h10m-8.4 -22.7h10m-5 0v24.6m-5 0h10m-8.4 -23.7h10m-5 0v23.5m-5 0h10m-8.4 -18.6h10m-5 0v25.3m-5 0h10m-8.4 -23.6h10m-5 0v21.6m-5 0h10m-8.4 -24.5h10m-5 0v26.4m-5 0h10m-8.5 -29.8h10m-5 0v25.4m-5 0h10m-8.4 -24.7h10m-5 0v23.3m-5 0h10m-8.4 -23.6h10m-5 0v21.4m-5 0h10m-8.4 -21.3h10m-5 0v28.4m-5 0h10m-8.4 -31.2h10m-5 0v26.3m-5 0h10m-8.4 -25.8h10m-5 0v21.5m-5 0h10m-8.4 -22.6h10m-5 0v27.3m-5 0h10m-8.4 -16.9h10m-5 0v22m-5 0h10m-8.5 -30.6h10m-5 0v24.7m-5 0h10m-8.4 -21.7h10m-5 0v22.2m-5 0h10m-8.4 -28.1h10m-5 0v28.3m-5 0h10m-8.4 -23.8h10m-5 0v26.1m-5 0h10m-8.4 -28.7h10m-5 0v26.5m-5 0h10m-8.4 -22.4h10m-5 0v23.8m-5 0h10m-8.4 -25.6h10m-5 0v23.7m-5 0h10m-8.5 -24h10m-5 0v21.6m-5 0h10m-8.4 -20.6h10m-5 0v28m-5 0h10m-8.4 -26.2h10m-5 0v22.2m-5 0h10m-8.4 -23.3h10m-5 0v25.9m-5 0h10m-8.4 -25.7h10m-5 0v22.8m-5 0h10m-8.4 -20.6h10m-5 0v21.9m-5 0h10m-8.4 -23.9h10m-5 0v21.6m-5 0h10m-8.5 -16.1h10m-5 0v23.7m-5 0h10m-8.4 -26.9h10m-5 0v22.1m-5 0h10m-8.4 -27.2h10m-5 0v27.7m-5 0h10m-8.4 -25.6h10m-5 0v25.9m-5 0h10m-8.4 -19.2h10m-5 0v22.6m-5 0h10m-8.4 -22.4h10m-5 0v21.4m-5 0h10m-8.4 -26.9h10m-5 0v24.8m-5 0h10m-8.5 -27h10m-5 0v27.7m-5 0h10m-8.4 -26.9h10m-5 0v23.1m-5 0h10m-8.4 -24.4h10m-5 0v25.6m-5 0h10m-8.4 -25.3h10m-5 0v23.1m-5 0h10m-8.4 -28.7h10m-5 0v28.7m-5 0h10m-8.4 -19.8h10m-5 0v23.1m-5 0h10m-8.4 -20.8h10m-5 0v22.8m-5 0h10m-8.4 -30.3h10m-5 0v26m-5 0h10m-8.5 -19h10m-5 0v23.4m-5 0h10m-8.4 -29.1h10m-5 0v27.8m-5 0h10m-8.4 -22.9h10m-5 0v27.1m-5 0h10m-8.4 -24.9h10m-5 0v26.6m-5 0h10m-8.4 -34.5h10m-5 0v28.5m-5 0h10m-8.4 -21.8h10m-5 0v24.5m-5 0h10m-8.4 -19.6h10m-5 0v21.5m-5 0h10m-8.5 -26.7h10m-5 0v23.6m-5 0h10m-8.4 -24.2h10m-5 0v23.2m-5 0h10m-8.4 -23.2h10m-5 0v22.5m-5 0h10m-8.4 -24.8h10m-5 0v24.3m-5 0h10m-8.4 -19.7h10m-5 0v21.6m-5 0h10m-8.4 -24.7h10m-5 0v21.2m-5 0h10m-8.4 -26.5h10m-5 0v25.3m-5 0h10m-8.5 -25.3h10m-5 0v22.3m-5 0h10m-8.4 -24.3h10m-5 0v27.6m-5 0h10m-8.4 -23.4h10m-5 0v22.1m-5 0h10m-8.4 -20h10m-5 0v21.9m-5 0h10m-8.4 -34.9h10m-5 0v25.7m-5 0h10m-8.4 -20.1h10m-5 0v27.4m-5 0h10m-8.4 -29.1h10m-5 0v27.3m-5 0h10m-8.4 -27.9h10m-5 0v27.8m-5 0h10m-8.5 -26.1h10m-5 0v24.7m-5 0h10m-8.4 -21.3h10m-5 0v23.1m-5 0h10m-8.4 -19.1h10m-5 0v21.4m-5 0h10m-8.4 -26.6h10m-5 0v28.6m-5 0h10m-8.4 -32.8h10m-5 0v25.7m-5 0h10m-8.4 -28.3h10m-5 0v28.5m-5 0h10m-8.4 -20.7h10m-5 0v27.7m-5 0h10m-8.5 -30.2h10m-5 0v26.3m-5 0h10m-8.4 -20.7h10m-5 0v27.2m-5 0h10m-8.4 -31h10m-5 0v22.5m-5 0h10m-8.4 -27h10m-5 0v28.2m-5 0h10m-8.4 -25h10m-5 0v27.8m-5 0h10m-8.4 -31.9h10m-5 0v24.9m-5 0h10m-8.4 -21.1h10m-5 0v24.6m-5 0h10m-8.5 -22.9h10m-5 0v25.1m-5 0h10m-8.4 -15.3h10m-5 0v25.6m-5 0h10m-8.4 -29.6h10m-5 0v22.4m-5 0h10m-8.4 -30h10m-5 0v28.6m-5 0h10m-8.4 -24.1h10m-5 0v23.9m-5 0h10m-8.4 -20.3h10m-5 0v21.5m-5 0h10m-8.4 -27.9h10m-5 0v25.9m-5 0h10m-8.5 -30.3h10m-5 0v22.3m-5 0h10m-8.4 -22.7h10m-5 0v28.9m-5 0h10m-8.4 -28h10m-5 0v28.4m-5 0h10m-8.4 -24.2h10m-5 0v27m-5 0h10m-8.4 -27h10m-5 0v21.7m-5 0h10m-8.4 -11.2h10m-5 0v27.7m-5 0h10m-8.4 -29.1h10m-5 0v22.6m-5 0h10m-8.4 -32.7h10m-5 0v26.1m-5 0h10m-8.5 -21.6h10m-5 0v22.5m-5 0h10m-8.4 -22.3h10m-5 0v26.8m-5 0h10m-8.4 -25.2h10m-5 0v26.6m-5 0h10m-8.4 -21.2h10m-5 0v23.9m-5 0h10m-8.4 -27.2h10m-5 0v23.1m-5 0h10m-8.4 -25.9h10m-5 0v27.8m-5 0h10m-8.4 -25.7h10m-5 0v28.5m-5 0h10m-8.5 -32.4h10m-5 0v22.5m-5 0h10m-8.4 -25.8h10m-5 0v29m-5 0h10m-8.4 -24.9h10m-5 0v25.6m-5 0h10m-8.4 -29.1h10m-5 0v23.7m-5 0h10m-8.4 -22.1h10m-5 0v25m-5 0h10m-8.4 -24.1h10m-5 0v21.7m-5 0h10m-8.4 -20.7h10m-5 0v25.2m-5 0h10m-8.5 -33.7h10m-5 0v25.9m-5 0h10m-8.4 -12.9h10m-5 0v25.4m-5 0h10m-8.4 -26.6h10m-5 0v21.6m-5 0h10m-8.4 -26.6h10m-5 0v27.1m-5 0h10m-8.4 -24.5h10m-5 0v25.2m-5 0h10m-8.4 -14.1h10m-5 0v22.8m-5 0h10m-8.4 -26.9h10m-5 0v28m-5 0h10m-8.5 -30.2h10m-5 0v26.4m-5 0h10m-8.4 -22.8h10m-5 0v21.7m-5 0h10m-8.4 -25.4h10m-5 0v24.9m-5 0h10m-8.4 -29.3h10m-5 0v27.6m-5 0h10m-8.4 -28.6h10m-5 0v26.7m-5 0h10m-8.4 -30.4h10m-5 0v24.6m-5 0h10m-8.4 -16.1h10m-5 0v27.9m-5 0h10m-8.4 -35.7h10m-5 0v25.4m-5 0h10m-8.5 -18.9h10m-5 0v23m-5 0h10m-8.4 -25.3h10m-5 0v22.9m-5 0h10m-8.4 -22.1h10m-5 0v28.9m-5 0h10m-8.4 -36.3h10m-5 0v23.9m-5 0h10m-8.4 -9.8h10m-5 0v26.5m-5 0h10m-8.4 -36.3h10m-5 0v23.9m-5 0h10m-8.4 -17.6h10m-5 0v24.4m-5 0h10m-8.5 -25h10m-5 0v24.5m-5 0h10m-8.4 -29.9h10m-5 0v22.1m-5 0h10m-8.4 -16.2h10m-5 0v22.2m-5 0h10m-8.4 -27.6h10m-5 0v22.7m-5 0h10m-8.4 -28.5h10m-5 0v27.7m-5 0h10m-8.4 -19.2h10m-5 0v24.3m-5 0h10m-8.4 -37.4h10m-5 0v25.6m-5 0h10m-8.5 -24.5h10m-5 0v27.1m-5 0h10m-8.4 -21h10m-5 0v26.2m-5 0h10m-8.4 -29.4h10m-5 0v29.2m-5 0h10m-8.4 -24.4h10m-5 0v28.4m-5 0h10m-8.4 -32.5h10m-5 0v29.1m-5 0h10m-8.4 -28.8h10m-5 0v24.8m-5 0h10m-8.4 -27.3h10m-5 0v30.1m-5 0h10m-8.4 -25.8h10m-5 0v29.9m-5 0h10m-8.5 -25.1h10m-5 0v27.6m-5 0h10m-8.4 -27.7h10m-5 0v28.8m-5 0h10m-8.4 -25.4h10m-5 0v24m-5 0h10m-8.4 -30.8h10m-5 0v30.1m-5 0h10m-8.4 -31.9h10m-5 0v24.1m-5 0h10m-8.4 -21.6h10m-5 0v28.8m-5 0h10m-8.4 -25.7h10m-5 0v22.9m-5 0h10m-8.5 -24h10m-5 0v28.6m-5 0h10m-8.4 -35.5h10m-5 0v27.1m-5 0h10m-8.4 -22.3h10m-5 0v25.9m-5 0h10m-8.4 -18.6h10m-5 0v24.9m-5 0h10m-8.4 -38.7h10m-5 0v26.5m-5 0h10m-8.4 -25.7h10m-5 0v25.1m-5 0h10m-8.4 -20.7h10m-5 0v25.7m-5 0h10m-8.5 -26.8h10m-5 0v30.6m-5 0h10m-8.4 -29.7h10m-5 0v25.8m-5 0h10m-8.4 -22.3h10m-5 0v29.8m-5 0h10m-8.4 -36.8h10m-5 0v26.5m-5 0h10m-8.4 -29.6h10m-5 0v29.7m-5 0h10m-8.4 -28h10m-5 0v28.6m-5 0h10m-8.4 -26.5h10m-5 0v29.8m-5 0h10m-8.5 -30.4h10m-5 0v28.7m-5 0h10m-8.4 -30.3h10m-5 0v28m-5 0h10m-8.4 -34.8h10m-5 0v30.1m-5 0h10m-8.4 -14.7h10m-5 0v28.4m-5 0h10m-8.4 -32.3h10m-5 0v29.7m-5 0h10m-8.4 -24.9h10m-5 0v28.5m-5 0h10m-8.4 -24.8h10m-5 0v27m-5 0h10m-8.4 -35.2h10m-5 0v25.6m-5 0h10m-8.5 -30.8h10m-5 0v25.9m-5 0h10m-8.4 -16h10m-5 0v29.9m-5 0h10m-8.4 -39.4h10m-5 0v25.5m-5 0h10m-8.4 -23.6h10m-5 0v25.7m-5 0h10m-8.4 -26.9h10m-5 0v31.2m-5 0h10m-8.4 -34.8h10m-5 0v28.8m-5 0h10m-8.4 -15.3h10m-5 0v26.2m-5 0h10m-8.5 -40.3h10m-5 0v29m-5 0h10m-8.4 -15.7h10m-5 0v27.1m-5 0h10m-8.4 -30.4h10m-5 0v24.2m-5 0h10m-8.4 -14.8h10m-5 0v30.8m-5 0h10m-8.4 -42.9h10m-5 0v24.1m-5 0h10m-8.4 -22.5h10m-5 0v31.2m-5 0h10m-8.4 -26h10m-5 0v27.1m-5 0h10m-8.5 -24.8h10m-5 0v28m-5 0h10m-8.4 -35h10m-5 0v27.7m-5 0h10m-8.4 -33.8h10m-5 0v27.5m-5 0h10m-8.4 -22.8h10m-5 0v30.4m-5 0h10m-8.4 -22.1h10m-5 0v26.6m-5 0h10m-359 17.7h10m-5 0v27.7m-5 0h10m-8.4 -17.2h10m-5 0v22.3m-5 0h10m-8.4 -38.4h10m-5 0v28.8m-5 0h10m-8.4 -22h10m-5 0v22.7m-5 0h10m-8.4 -27.6h10m-5 0v28.7m-5 0h10m-8.5 -34.6h10m-5 0v26m-5 0h10m-8.4 -24.5h10m-5 0v25.2m-5 0h10m-8.4 -23.7h10m-5 0v26.9m-5 0h10m-8.4 -29.5h10m-5 0v27.7m-5 0h10m-8.4 -26.2h10m-5 0v24.4m-5 0h10m-8.4 -24.3h10m-5 0v27.8m-5 0h10m-8.4 -21.4h10m-5 0v28m-5 0h10m-8.4 -32.9h10m-5 0v24.5m-5 0h10m-8.5 -21.8h10m-5 0v26.9m-5 0h10m-8.4 -25.2h10m-5 0v26.1m-5 0h10m-8.4 -27.7h10m-5 0v25.6m-5 0h10m-8.4 -30.5h10m-5 0v25.7m-5 0h10m-8.4 -14h10m-5 0v22.5m-5 0h10m-8.4 -29.7h10m-5 0v27.8m-5 0h10m-8.4 -22.8h10m-5 0v26.3m-5 0h10m-8.5 -24.6h10m-5 0v21.9m-5 0h10m-8.4 -27.5h10m-5 0v25.3m-5 0h10m-8.4 -27.7h10m-5 0v22.8m-5 0h10m-8.4 -22.1h10m-5 0v24.7m-5 0h10m-8.4 -26.3h10m-5 0v27.1m-5 0h10m-8.4 -27.4h10m-5 0v21.6m-5 0h10m-8.4 -22.3h10m-5 0v26.9m-5 0h10m-8.5 -22.6h10m-5 0v24.4m-5 0h10m-8.4 -22.4h10m-5 0v22m-5 0h10m-8.4 -24.4h10m-5 0v22m-5 0h10m-8.4 -27.8h10m-5 0v28.8m-5 0h10m-8.4 -24.7h10m-5 0v24.4m-5 0h10m-8.4 -23.5h10m-5 0v23.2m-5 0h10m-8.4 -23.5h10m-5 0v27.1m-5 0h10m-8.5 -22.9h10m-5 0v21.2m-5 0h10m-8.4 -23.5h10m-5 0v28.6m-5 0h10m-8.4 -28.3h10m-5 0v25.5m-5 0h10m-8.4 -31.5h10m-5 0v21.7m-5 0h10m-8.4 -22.4h10m-5 0v25.6m-5 0h10m-8.4 -28h10m-5 0v27.8m-5 0h10m-8.4 -22.9h10m-5 0v25.4m-5 0h10m-8.4 -22.3h10m-5 0v21.5m-5 0h10m-8.5 -25.2h10m-5 0v24.1m-5 0h10m-8.4 -20.2h10m-5 0v22.4m-5 0h10m-8.4 -27h10m-5 0v21.3m-5 0h10m-8.4 -21.9h10m-5 0v26.6m-5 0h10m-8.4 -28.8h10m-5 0v26.6m-5 0h10m-8.4 -19.5h10m-5 0v21.9m-5 0h10m-8.4 -29.8h10m-5 0v24.3m-5 0h10m-8.5 -20.3h10m-5 0v26.8m-5 0h10m-8.4 -25.6h10m-5 0v22.7m-5 0h10m-8.4 -19.9h10m-5 0v25.4m-5 0h10m-8.4 -24.2h10m-5 0v22.3m-5 0h10m-8.4 -26.2h10m-5 0v21.8m-5 0h10m-8.4 -17.7h10m-5 0v26.8m-5 0h10m-8.4 -33.2h10m-5 0v23.6m-5 0h10m-8.5 -19.7h10m-5 0v26.3m-5 0h10m-8.4 -31h10m-5 0v26m-5 0h10m-8.4 -23.3h10m-5 0v27.7m-5 0h10m-8.4 -27.6h10m-5 0v22m-5 0h10m-8.4 -24.4h10m-5 0v24.9m-5 0h10m-8.4 -25.9h10m-5 0v21.6m-5 0h10m-8.4 -19.8h10m-5 0v27.3m-5 0h10m-8.5 -30.6h10m-5 0v24.8m-5 0h10m-8.4 -25h10m-5 0v26.6m-5 0h10m-8.4 -27.6h10m-5 0v28m-5 0h10m-8.4 -20.5h10m-5 0v26.3m-5 0h10m-8.4 -24.5h10m-5 0v22.5m-5 0h10m-8.4 -19.1h10m-5 0v23.8m-5 0h10m-8.4 -25.3h10m-5 0v27.5m-5 0h10m-8.4 -29.1h10m-5 0v23.8m-5 0h10m-8.5 -25.5h10m-5 0v26m-5 0h10m-8.4 -20.8h10m-5 0v24.8m-5 0h10m-8.4 -30.1h10m-5 0v26.4m-5 0h10m-8.4 -29.5h10m-5 0v27.3m-5 0h10m-8.4 -26h10m-5 0v26.3m-5 0h10m-8.4 -29.2h10m-5 0v27.9m-5 0h10m-8.4 -23.1h10m-5 0v22.7m-5 0h10m-8.5 -29.1h10m-5 0v27.4m-5 0h10m-8.4 -20.5h10m-5 0v22.7m-5 0h10m-8.4 -31h10m-5 0v26m-5 0h10m-8.4 -17.2h10m-5 0v27.8m-5 0h10m-8.4 -34h10m-5 0v26.6m-5 0h10m-8.4 -23.6h10m-5 0v21.5m-5 0h10m-8.4 -20.3h10m-5 0v27.7m-5 0h10m-8.5 -21.9h10m-5 0v23.7m-5 0h10m-8.4 -27.4h10m-5 0v22.2m-5 0h10m-8.4 -20.8h10m-5 0v28.7m-5 0h10m-8.4 -32.8h10m-5 0v24.1m-5 0h10m-8.4 -20.7h10m-5 0v22.2m-5 0h10m-8.4 -25.5h10m-5 0v27.8m-5 0h10m-8.4 -28.4h10m-5 0v26.2m-5 0h10m-8.4 -26.7h10m-5 0v22m-5 0h10m-8.5 -19.8h10m-5 0v21.4m-5 0h10m-8.4 -26.3h10m-5 0v28.4m-5 0h10m-8.4 -27.4h10m-5 0v28.6m-5 0h10m-8.4 -25.1h10m-5 0v28.3m-5 0h10m-8.4 -31.8h10m-5 0v27.6m-5 0h10m-8.4 -25.6h10m-5 0v21.6m-5 0h10m-8.4 -23.9h10m-5 0v28.3m-5 0h10m-8.5 -24.1h10m-5 0v23.6m-5 0h10m-8.4 -26.3h10m-5 0v24.1m-5 0h10m-8.4 -18.7h10m-5 0v22.6m-5 0h10m-8.4 -23.1h10m-5 0v23.3m-5 0h10m-8.4 -21.5h10m-5 0v21.4m-5 0h10m-8.4 -25.6h10m-5 0v28.5m-5 0h10m-8.4 -29.8h10m-5 0v21.7m-5 0h10m-8.5 -21.6h10m-5 0v28.9m-5 0h10m-8.4 -26.3h10m-5 0v21.6m-5 0h10m-8.4 -19.8h10m-5 0v23.1m-5 0h10m-8.4 -24.6h10m-5 0v21.9m-5 0h10m-8.4 -22.4h10m-5 0v28.6m-5 0h10m-8.4 -32.5h10m-5 0v22.3m-5 0h10m-8.4 -21.2h10m-5 0v26.8m-5 0h10m-8.5 -29.4h10m-5 0v27.2m-5 0h10m-8.4 -27.7h10m-5 0v26.7m-5 0h10m-8.4 -21.9h10m-5 0v22.6m-5 0h10m-8.4 -24.8h10m-5 0v27.6m-5 0h10m-8.4 -25.5h10m-5 0v23.4m-5 0h10m-8.4 -25.1h10m-5 0v28m-5 0h10m-8.4 -21.1h10m-5 0v21.6m-5 0h10m-8.4 -28.8h10m-5 0v21.6m-5 0h10m-8.5 -18.5h10m-5 0v21.9m-5 0h10m-8.4 -19.3h10m-5 0v22.7m-5 0h10m-8.4 -24h10m-5 0v28.3m-5 0h10m-8.4 -25.3h10m-5 0v23.3m-5 0h10m-8.4 -23.5h10m-5 0v21.3m-5 0h10m-8.4 -19.2h10m-5 0v25.6m-5 0h10m-8.4 -25.7h10m-5 0v25.2m-5 0h10m-8.5 -31.7h10m-5 0v23m-5 0h10m-8.4 -24.2h10m-5 0v26.7m-5 0h10m-8.4 -27h10m-5 0v24.4m-5 0h10m-8.4 -20.3h10m-5 0v21.2m-5 0h10m-8.4 -19.6h10m-5 0v24m-5 0h10m-8.4 -31.6h10m-5 0v24.2m-5 0h10m-8.4 -23h10m-5 0v23.3m-5 0h10m-8.5 -17.2h10m-5 0v22.6m-5 0h10m-8.4 -26.9h10m-5 0v25m-5 0h10m-8.4 -29.2h10m-5 0v28.3m-5 0h10m-8.4 -30.3h10m-5 0v22.9m-5 0h10m-8.4 -21.7h10m-5 0v28.4m-5 0h10m-8.4 -23h10m-5 0v22.1m-5 0h10m-8.4 -21.7h10m-5 0v26.2m-5 0h10m-8.5 -23.8h10m-5 0v22.4m-5 0h10m-8.4 -25.9h10m-5 0v26.4m-5 0h10m-8.4 -23h10m-5 0v23.8m-5 0h10m-8.4 -29.7h10m-5 0v27.1m-5 0h10m-8.4 -26.1h10m-5 0v28.2m-5 0h10m-8.4 -25.2h10m-5 0v23.9m-5 0h10m-8.4 -23.9h10m-5 0v28.2m-5 0h10m-8.4 -30.3h10m-5 0v23.6m-5 0h10m-8.5 -23.2h10m-5 0v25.3m-5 0h10m-8.4 -26.2h10m-5 0v22.4m-5 0h10m-8.4 -18.3h10m-5 0v25.3m-5 0h10m-8.4 -32.4h10m-5 0v29.2m-5 0h10m-8.4 -23.1h10m-5 0v23.2m-5 0h10m-8.4 -32.8h10m-5 0v25.7m-5 0h10m-8.4 -15.1h10m-5 0v22.4m-5 0h10m-8.5 -36h10m-5 0v27.6m-5 0h10m-8.4 -29h10m-5 0v23.8m-5 0h10m-8.4 -13.3h10m-5 0v28m-5 0h10m-8.4 -34.4h10m-5 0v27m-5 0h10m-8.4 -23.7h10m-5 0v29.6m-5 0h10m-8.4 -16.5h10m-5 0v23.8m-5 0h10m-8.4 -28.1h10m-5 0v27.7m-5 0h10m-8.5 -34.1h10m-5 0v27m-5 0h10m-8.4 -22.9h10m-5 0v22.9m-5 0h10m-8.4 -28.5h10m-5 0v26.4m-5 0h10m-8.4 -27.7h10m-5 0v29.8m-5 0h10m-8.4 -34.6h10m-5 0v28.8m-5 0h10m-8.4 -19.4h10m-5 0v25m-5 0h10m-8.4 -21.2h10m-5 0v27.2m-5 0h10m-8.4 -26h10m-5 0v25.1m-5 0h10m-8.5 -27.8h10m-5 0v28.6m-5 0h10m-8.4 -23.1h10m-5 0v28.2m-5 0h10m-8.4 -29.1h10m-5 0v23.9m-5 0h10m-8.4 -25.1h10m-5 0v28.7m-5 0h10m-8.4 -28.6h10m-5 0v30m-5 0h10m-8.4 -29.6h10m-5 0v27.5m-5 0h10m-8.4 -26.3h10m-5 0v29m-5 0h10m-8.5 -33.8h10m-5 0v25.5m-5 0h10m-8.4 -21h10m-5 0v23.5m-5 0h10m-8.4 -30.4h10m-5 0v28.3m-5 0h10m-8.4 -19.2h10m-5 0v28.6m-5 0h10m-8.4 -36.3h10m-5 0v27.7m-5 0h10m-8.4 -27h10m-5 0v29.8m-5 0h10m-8.4 -19.8h10m-5 0v24.1m-5 0h10m-8.5 -44.8h10m-5 0v27m-5 0h10m-8.4 -7.6h10m-5 0v23.8m-5 0h10m-8.4 -36.1h10m-5 0v29.2m-5 0h10m-8.4 -25.9h10m-5 0v24.7m-5 0h10m-8.4 -26.4h10m-5 0v23.9m-5 0h10m-8.4 -19h10m-5 0v29.4m-5 0h10m-8.4 -18h10m-5 0v27.1m-5 0h10m-8.5 -44.9h10m-5 0v28.3m-5 0h10m-8.4 -24.8h10m-5 0v29.5m-5 0h10m-8.4 -32.5h10m-5 0v29.1m-5 0h10m-8.4 -24.4h10m-5 0v30.8m-5 0h10m-8.4 -36.9h10m-5 0v29.7m-5 0h10m-8.4 -24.6h10m-5 0v30.2m-5 0h10m-8.4 -21.5h10m-5 0v24.6m-5 0h10m-8.4 -38.6h10m-5 0v24m-5 0h10m-8.5 -10h10m-5 0v30.3m-5 0h10m-8.4 -19.2h10m-5 0v26.7m-5 0h10m-8.4 -40.7h10m-5 0v30m-5 0h10m-8.4 -31.1h10m-5 0v30.2m-5 0h10m-8.4 -28.9h10m-5 0v29.1m-5 0h10m-8.4 -20.6h10m-5 0v26.9m-5 0h10m-8.4 -30.6h10m-5 0v28.8m-5 0h10m-8.5 -24h10m-5 0v27.9m-5 0h10m-8.4 -32h10m-5 0v29.1m-5 0h10m-8.4 -34.3h10m-5 0v24.3m-5 0h10m-8.4 -19.2h10m-5 0v26.2m-5 0h10m-8.4 -34.9h10m-5 0v27.9m-5 0h10m-8.4 -21.9h10m-5 0v28.6m-5 0h10m-8.4 -28.2h10m-5 0v26.3m-5 0h10m-8.5 -21.9h10m-5 0v26.3m-5 0h10m-8.4 -32.7h10m-5 0v24.4m-5 0h10m-8.4 -20.3h10m-5 0v30.9m-5 0h10m-8.4 -25.2h10m-5 0v31m-5 0h10m-8.4 -34.6h10m-5 0v25.9m-5 0h10m-359 0.8h10m-5 0v27.1m-5 0h10m-8.4 -28.3h10m-5 0v27.3m-5 0h10m-8.4 -21h10m-5 0v25.7m-5 0h10m-8.4 -28.8h10m-5 0v22.2m-5 0h10m-8.4 -19.6h10m-5 0v21.9m-5 0h10m-8.5 -30.6h10m-5 0v27.9m-5 0h10m-8.4 -31.9h10m-5 0v28.8m-5 0h10m-8.4 -22.9h10m-5 0v26.1m-5 0h10m-8.4 -26.3h10m-5 0v23.3m-5 0h10m-8.4 -15.4h10m-5 0v22.8m-5 0h10m-8.4 -32.2h10m-5 0v23m-5 0h10m-8.4 -19h10m-5 0v28.2m-5 0h10m-8.4 -28.7h10m-5 0v24m-5 0h10m-8.5 -29.2h10m-5 0v26.7m-5 0h10m-8.4 -20.7h10m-5 0v28.5m-5 0h10m-8.4 -39.3h10m-5 0v28.2m-5 0h10m-8.4 -19.6h10m-5 0v28.1m-5 0h10m-8.4 -28.7h10m-5 0v23.9m-5 0h10m-8.4 -18.8h10m-5 0v23.4m-5 0h10m-8.4 -27.6h10m-5 0v26.8m-5 0h10m-8.5 -20.2h10m-5 0v21.8m-5 0h10m-8.4 -23.9h10m-5 0v23.7m-5 0h10m-8.4 -16.9h10m-5 0v23.6m-5 0h10m-8.4 -34.5h10m-5 0v27.6m-5 0h10m-8.4 -27.4h10m-5 0v28.9m-5 0h10m-8.4 -25.1h10m-5 0v26.7m-5 0h10m-8.4 -27.3h10m-5 0v26.2m-5 0h10m-8.5 -23.5h10m-5 0v22.9m-5 0h10m-8.4 -26.2h10m-5 0v24.3m-5 0h10m-8.4 -29.2h10m-5 0v25.4m-5 0h10m-8.4 -25h10m-5 0v22.7m-5 0h10m-8.4 -25.7h10m-5 0v27.1m-5 0h10m-8.4 -25.9h10m-5 0v25.2m-5 0h10m-8.4 -24.6h10m-5 0v28m-5 0h10m-8.5 -25.7h10m-5 0v28.7m-5 0h10m-8.4 -25.3h10m-5 0v22.6m-5 0h10m-8.4 -23.3h10m-5 0v25.9m-5 0h10m-8.4 -31.2h10m-5 0v26.7m-5 0h10m-8.4 -19.7h10m-5 0v22.7m-5 0h10m-8.4 -23.6h10m-5 0v24.6m-5 0h10m-8.4 -28.8h10m-5 0v26.5m-5 0h10m-8.4 -19.6h10m-5 0v22.1m-5 0h10m-8.5 -26h10m-5 0v21.9m-5 0h10m-8.4 -21h10m-5 0v24.8m-5 0h10m-8.4 -27.1h10m-5 0v24.6m-5 0h10m-8.4 -37.9h10m-5 0v27.5m-5 0h10m-8.4 -9.1h10m-5 0v22.1m-5 0h10m-8.4 -28.4h10m-5 0v23m-5 0h10m-8.4 -18h10m-5 0v25m-5 0h10m-8.5 -23.4h10m-5 0v27.4m-5 0h10m-8.4 -24.4h10m-5 0v25m-5 0h10m-8.4 -31.4h10m-5 0v26.3m-5 0h10m-8.4 -22.6h10m-5 0v23.3m-5 0h10m-8.4 -26.4h10m-5 0v25.1m-5 0h10m-8.4 -30.5h10m-5 0v24.2m-5 0h10m-8.4 -18.9h10m-5 0v28.4m-5 0h10m-8.5 -25.7h10m-5 0v25.9m-5 0h10m-8.4 -32.3h10m-5 0v25.3m-5 0h10m-8.4 -30.4h10m-5 0v28.6m-5 0h10m-8.4 -21.5h10m-5 0v22.3m-5 0h10m-8.4 -25.7h10m-5 0v24m-5 0h10m-8.4 -24.5h10m-5 0v28.5m-5 0h10m-8.4 -25.9h10m-5 0v28.7m-5 0h10m-8.5 -23.3h10m-5 0v23.8m-5 0h10m-8.4 -28.9h10m-5 0v27.6m-5 0h10m-8.4 -31.6h10m-5 0v28.7m-5 0h10m-8.4 -24.8h10m-5 0v23.9m-5 0h10m-8.4 -21.5h10m-5 0v21.9m-5 0h10m-8.4 -23.7h10m-5 0v23m-5 0h10m-8.4 -25h10m-5 0v28.9m-5 0h10m-8.4 -30.8h10m-5 0v27.5m-5 0h10m-8.5 -21.9h10m-5 0v21.9m-5 0h10m-8.4 -30.4h10m-5 0v27.9m-5 0h10m-8.4 -22.4h10m-5 0v23.3m-5 0h10m-8.4 -22.7h10m-5 0v23.4m-5 0h10m-8.4 -18.7h10m-5 0v26.4m-5 0h10m-8.4 -22.5h10m-5 0v23.2m-5 0h10m-8.4 -28.1h10m-5 0v24.6m-5 0h10m-8.5 -21.5h10m-5 0v22.2m-5 0h10m-8.4 -29h10m-5 0v23.1m-5 0h10m-8.4 -16.1h10m-5 0v23.8m-5 0h10m-8.4 -25.7h10m-5 0v28.1m-5 0h10m-8.4 -30.6h10m-5 0v22.7m-5 0h10m-8.4 -14.3h10m-5 0v21.3m-5 0h10m-8.4 -31.5h10m-5 0v28.6m-5 0h10m-8.5 -22.8h10m-5 0v22.9m-5 0h10m-8.4 -20.4h10m-5 0v24.2m-5 0h10m-8.4 -27.6h10m-5 0v24.2m-5 0h10m-8.4 -29.8h10m-5 0v26m-5 0h10m-8.4 -27.4h10m-5 0v28.3m-5 0h10m-8.4 -26.4h10m-5 0v25.3m-5 0h10m-8.4 -25.4h10m-5 0v27.8m-5 0h10m-8.4 -29.1h10m-5 0v23.4m-5 0h10m-8.5 -25.5h10m-5 0v25.4m-5 0h10m-8.4 -25h10m-5 0v25.7m-5 0h10m-8.4 -28.5h10m-5 0v22.7m-5 0h10m-8.4 -23.7h10m-5 0v28.7m-5 0h10m-8.4 -19.5h10m-5 0v21.9m-5 0h10m-8.4 -23.3h10m-5 0v24.7m-5 0h10m-8.4 -23.2h10m-5 0v25.2m-5 0h10m-8.5 -29.4h10m-5 0v28.8m-5 0h10m-8.4 -30.5h10m-5 0v27.2m-5 0h10m-8.4 -27.5h10m-5 0v23.8m-5 0h10m-8.4 -20.1h10m-5 0v23.1m-5 0h10m-8.4 -22.6h10m-5 0v25.3m-5 0h10m-8.4 -24.5h10m-5 0v25m-5 0h10m-8.4 -25.7h10m-5 0v28.2m-5 0h10m-8.5 -35.3h10m-5 0v22.1m-5 0h10m-8.4 -19.8h10m-5 0v28.2m-5 0h10m-8.4 -26.4h10m-5 0v25.2m-5 0h10m-8.4 -30.6h10m-5 0v23.6m-5 0h10m-8.4 -15.3h10m-5 0v22.4m-5 0h10m-8.4 -22.9h10m-5 0v22.8m-5 0h10m-8.4 -23.6h10m-5 0v23.7m-5 0h10m-8.5 -18.7h10m-5 0v28.1m-5 0h10m-8.4 -28.3h10m-5 0v26.5m-5 0h10m-8.4 -38.5h10m-5 0v25.4m-5 0h10m-8.4 -16.4h10m-5 0v24.5m-5 0h10m-8.4 -16.8h10m-5 0v22.5m-5 0h10m-8.4 -26.8h10m-5 0v22.7m-5 0h10m-8.4 -24.2h10m-5 0v21.9m-5 0h10m-8.4 -25.8h10m-5 0v24.9m-5 0h10m-8.5 -22.9h10m-5 0v25.2m-5 0h10m-8.4 -20.2h10m-5 0v22.4m-5 0h10m-8.4 -25h10m-5 0v22m-5 0h10m-8.4 -25.7h10m-5 0v23.1m-5 0h10m-8.4 -20h10m-5 0v25.5m-5 0h10m-8.4 -25.4h10m-5 0v26.8m-5 0h10m-8.4 -27.1h10m-5 0v25.5m-5 0h10m-8.5 -22.2h10m-5 0v23.9m-5 0h10m-8.4 -34.9h10m-5 0v24.1m-5 0h10m-8.4 -24h10m-5 0v27.3m-5 0h10m-8.4 -25.9h10m-5 0v25.3m-5 0h10m-8.4 -27.2h10m-5 0v26.6m-5 0h10m-8.4 -28.1h10m-5 0v22.7m-5 0h10m-8.4 -18.3h10m-5 0v23.6m-5 0h10m-8.5 -20h10m-5 0v23.4m-5 0h10m-8.4 -29.5h10m-5 0v23m-5 0h10m-8.4 -14h10m-5 0v29m-5 0h10m-8.4 -31.5h10m-5 0v24m-5 0h10m-8.4 -30.2h10m-5 0v28m-5 0h10m-8.4 -25.8h10m-5 0v22.3m-5 0h10m-8.4 -16.4h10m-5 0v22.1m-5 0h10m-8.5 -25.2h10m-5 0v28.3m-5 0h10m-8.4 -29h10m-5 0v28.6m-5 0h10m-8.4 -28.9h10m-5 0v27.3m-5 0h10m-8.4 -28.9h10m-5 0v26.5m-5 0h10m-8.4 -31.2h10m-5 0v23.1m-5 0h10m-8.4 -21.3h10m-5 0v26.6m-5 0h10m-8.4 -28.8h10m-5 0v23.5m-5 0h10m-8.4 -19.7h10m-5 0v26.4m-5 0h10m-8.5 -23.2h10m-5 0v27.7m-5 0h10m-8.4 -26.6h10m-5 0v23m-5 0h10m-8.4 -36.5h10m-5 0v26.8m-5 0h10m-8.4 -17.7h10m-5 0v27.6m-5 0h10m-8.4 -34.3h10m-5 0v24.5m-5 0h10m-8.4 -16.6h10m-5 0v24.3m-5 0h10m-8.4 -31.7h10m-5 0v26.3m-5 0h10m-8.5 -22.7h10m-5 0v27.3m-5 0h10m-8.4 -28.1h10m-5 0v29.7m-5 0h10m-8.4 -26.6h10m-5 0v27.3m-5 0h10m-8.4 -25.9h10m-5 0v24.1m-5 0h10m-8.4 -29.6h10m-5 0v28.1m-5 0h10m-8.4 -29.9h10m-5 0v22.2m-5 0h10m-8.4 -16.9h10m-5 0v23.3m-5 0h10m-8.5 -17.6h10m-5 0v26.8m-5 0h10m-8.4 -32.9h10m-5 0v28.9m-5 0h10m-8.4 -10.9h10m-5 0v23.1m-5 0h10m-8.4 -35.8h10m-5 0v24.9m-5 0h10m-8.4 -36.2h10m-5 0v23.3m-5 0h10m-8.4 -0.4h10m-5 0v24m-5 0h10m-8.4 -34.8h10m-5 0v24.6m-5 0h10m-8.4 -33.3h10m-5 0v28.8m-5 0h10m-8.5 -33.2h10m-5 0v28.1m-5 0h10m-8.4 -24.3h10m-5 0v26.7m-5 0h10m-8.4 -18.3h10m-5 0v27.9m-5 0h10m-8.4 -39.4h10m-5 0v28.6m-5 0h10m-8.4 -27.4h10m-5 0v27.8m-5 0h10m-8.4 -15.5h10m-5 0v25m-5 0h10m-8.4 -26.9h10m-5 0v23.9m-5 0h10m-8.5 -22.1h10m-5 0v30.2m-5 0h10m-8.4 -31.1h10m-5 0v23.9m-5 0h10m-8.4 -37.5h10m-5 0v30.5m-5 0h10m-8.4 -13.3h10m-5 0v25.2m-5 0h10m-8.4 -38.3h10m-5 0v23m-5 0h10m-8.4 -19.7h10m-5 0v25.7m-5 0h10m-8.4 -25.2h10m-5 0v24.4m-5 0h10m-8.5 -20.3h10m-5 0v28.5m-5 0h10m-8.4 -37.1h10m-5 0v29.6m-5 0h10m-8.4 -23.1h10m-5 0v27m-5 0h10m-8.4 -27.2h10m-5 0v25.4m-5 0h10m-8.4 -20.3h10m-5 0v29.2m-5 0h10m-8.4 -39.2h10m-5 0v25.3m-5 0h10m-8.4 -23.4h10m-5 0v26.3m-5 0h10m-8.5 -35.1h10m-5 0v30.1m-5 0h10m-8.4 -23.5h10m-5 0v30m-5 0h10m-8.4 -27.8h10m-5 0v31m-5 0h10m-8.4 -26.7h10m-5 0v28.9m-5 0h10m-8.4 -27.3h10m-5 0v25.4m-5 0h10m-8.4 -28.3h10m-5 0v30.9m-5 0h10m-8.4 -39.2h10m-5 0v26.6m-5 0h10m-8.4 -13.1h10m-5 0v28.8m-5 0h10m-8.5 -28.7h10m-5 0v29m-5 0h10m-8.4 -39.3h10m-5 0v25.4m-5 0h10m-8.4 -34.1h10m-5 0v26.2m-5 0h10m-8.4 -18.1h10m-5 0v26.5m-5 0h10m-8.4 -23.5h10m-5 0v29.2m-5 0h10m-8.4 -46h10m-5 0v31.1m-5 0h10m-8.4 -15.3h10m-5 0v27.4m-5 0h10m-8.5 -18.5h10m-5 0v23.8m-5 0h10m-8.4 -30.9h10m-5 0v27.7m-5 0h10m-8.4 -31.7h10m-5 0v24.1m-5 0h10m-8.4 -15.1h10m-5 0v28.8m-5 0h10m-8.4 -38h10m-5 0v30.7m-5 0h10m-8.4 -20.3h10m-5 0v28.3m-5 0h10m-8.4 -32.3h10m-5 0v28.3m-5 0h10m-8.5 -31.4h10m-5 0v30.3m-5 0h10m-8.4 -8.5h10m-5 0v28.3m-5 0h10m-8.4 -57.3h10m-5 0v25.3m-5 0h10m-8.4 -23.9h10m-5 0v31.1m-5 0h10m-8.4 -27.3h10m-5 0v25.7m-5 0h10m-359 24.9h10m-5 0v22.6m-5 0h10m-8.4 -27.5h10m-5 0v28m-5 0h10m-8.4 -24.5h10m-5 0v24.1m-5 0h10m-8.4 -17.4h10m-5 0v23.7m-5 0h10m-8.4 -23.8h10m-5 0v28.7m-5 0h10m-8.5 -26.1h10m-5 0v26.3m-5 0h10m-8.4 -30.9h10m-5 0v23.1m-5 0h10m-8.4 -27h10m-5 0v23.9m-5 0h10m-8.4 -25h10m-5 0v26.2m-5 0h10m-8.4 -22.9h10m-5 0v22.2m-5 0h10m-8.4 -28.1h10m-5 0v28.8m-5 0h10m-8.4 -22.6h10m-5 0v27.8m-5 0h10m-8.4 -32.7h10m-5 0v23.2m-5 0h10m-8.5 -22.3h10m-5 0v21.9m-5 0h10m-8.4 -23.5h10m-5 0v28.9m-5 0h10m-8.4 -24.9h10m-5 0v26.6m-5 0h10m-8.4 -28.7h10m-5 0v27.6m-5 0h10m-8.4 -15.2h10m-5 0v22.4m-5 0h10m-8.4 -26.5h10m-5 0v27.9m-5 0h10m-8.4 -29.6h10m-5 0v22.7m-5 0h10m-8.5 -26.1h10m-5 0v26.6m-5 0h10m-8.4 -27.3h10m-5 0v27.9m-5 0h10m-8.4 -28.5h10m-5 0v23.7m-5 0h10m-8.4 -23.4h10m-5 0v28.5m-5 0h10m-8.4 -31.2h10m-5 0v24.3m-5 0h10m-8.4 -18.2h10m-5 0v23.5m-5 0h10m-8.4 -17h10m-5 0v27.2m-5 0h10m-8.5 -31.1h10m-5 0v25.7m-5 0h10m-8.4 -24.3h10m-5 0v24.9m-5 0h10m-8.4 -21.8h10m-5 0v22.3m-5 0h10m-8.4 -33h10m-5 0v28.4m-5 0h10m-8.4 -22.7h10m-5 0v27m-5 0h10m-8.4 -22h10m-5 0v21.3m-5 0h10m-8.4 -27.2h10m-5 0v25.1m-5 0h10m-8.5 -30.5h10m-5 0v24.2m-5 0h10m-8.4 -19.4h10m-5 0v25.7m-5 0h10m-8.4 -29.7h10m-5 0v23m-5 0h10m-8.4 -20.5h10m-5 0v24.4m-5 0h10m-8.4 -28.5h10m-5 0v25.7m-5 0h10m-8.4 -23.3h10m-5 0v28.4m-5 0h10m-8.4 -26.2h10m-5 0v25.5m-5 0h10m-8.4 -13.9h10m-5 0v23.4m-5 0h10m-8.5 -30.9h10m-5 0v28.6m-5 0h10m-8.4 -26h10m-5 0v22m-5 0h10m-8.4 -25.7h10m-5 0v21.3m-5 0h10m-8.4 -27.3h10m-5 0v24.5m-5 0h10m-8.4 -24.5h10m-5 0v25m-5 0h10m-8.4 -25.4h10m-5 0v27m-5 0h10m-8.4 -16.8h10m-5 0v22.6m-5 0h10m-8.5 -25.7h10m-5 0v24.8m-5 0h10m-8.4 -28.4h10m-5 0v27.3m-5 0h10m-8.4 -28.1h10m-5 0v23.1m-5 0h10m-8.4 -25.5h10m-5 0v27.3m-5 0h10m-8.4 -26h10m-5 0v28.6m-5 0h10m-8.4 -27.1h10m-5 0v28m-5 0h10m-8.4 -33.9h10m-5 0v25.8m-5 0h10m-8.5 -20.8h10m-5 0v27.8m-5 0h10m-8.4 -27.8h10m-5 0v24m-5 0h10m-8.4 -25.9h10m-5 0v28.5m-5 0h10m-8.4 -29.4h10m-5 0v28.6m-5 0h10m-8.4 -22.3h10m-5 0v21.6m-5 0h10m-8.4 -23h10m-5 0v23.4m-5 0h10m-8.4 -28.3h10m-5 0v23.6m-5 0h10m-8.5 -23.7h10m-5 0v26m-5 0h10m-8.4 -29.8h10m-5 0v28.6m-5 0h10m-8.4 -22.7h10m-5 0v28.8m-5 0h10m-8.4 -27.5h10m-5 0v22.5m-5 0h10m-8.4 -20.9h10m-5 0v27m-5 0h10m-8.4 -33.6h10m-5 0v22.5m-5 0h10m-8.4 -12.6h10m-5 0v26.6m-5 0h10m-8.4 -30.6h10m-5 0v26.6m-5 0h10m-8.5 -26.2h10m-5 0v22.8m-5 0h10m-8.4 -24.4h10m-5 0v25m-5 0h10m-8.4 -25h10m-5 0v26.8m-5 0h10m-8.4 -28.9h10m-5 0v27.5m-5 0h10m-8.4 -30.4h10m-5 0v28.5m-5 0h10m-8.4 -31.1h10m-5 0v24.5m-5 0h10m-8.4 -25.8h10m-5 0v28.9m-5 0h10m-8.5 -30.1h10m-5 0v28.8m-5 0h10m-8.4 -20.1h10m-5 0v24.8m-5 0h10m-8.4 -26.8h10m-5 0v25.3m-5 0h10m-8.4 -28h10m-5 0v24.7m-5 0h10m-8.4 -21.2h10m-5 0v22.1m-5 0h10m-8.4 -22.9h10m-5 0v24.4m-5 0h10m-8.4 -24.8h10m-5 0v23.9m-5 0h10m-8.5 -25.6h10m-5 0v21.5m-5 0h10m-8.4 -17.8h10m-5 0v21.7m-5 0h10m-8.4 -25.4h10m-5 0v24.9m-5 0h10m-8.4 -22.8h10m-5 0v28.3m-5 0h10m-8.4 -31.2h10m-5 0v26m-5 0h10m-8.4 -24.7h10m-5 0v25.4m-5 0h10m-8.4 -21.9h10m-5 0v22.1m-5 0h10m-8.4 -21.9h10m-5 0v28.5m-5 0h10m-8.5 -29.8h10m-5 0v21.9m-5 0h10m-8.4 -31.9h10m-5 0v28.5m-5 0h10m-8.4 -23h10m-5 0v27.3m-5 0h10m-8.4 -29.8h10m-5 0v26.6m-5 0h10m-8.4 -18.4h10m-5 0v23.4m-5 0h10m-8.4 -27.4h10m-5 0v28.5m-5 0h10m-8.4 -29.8h10m-5 0v25.3m-5 0h10m-8.5 -29h10m-5 0v26.5m-5 0h10m-8.4 -25.1h10m-5 0v23.4m-5 0h10m-8.4 -20.4h10m-5 0v25.1m-5 0h10m-8.4 -31.3h10m-5 0v22.9m-5 0h10m-8.4 -9.2h10m-5 0v22.9m-5 0h10m-8.4 -27h10m-5 0v25.4m-5 0h10m-8.4 -31.4h10m-5 0v24.6m-5 0h10m-8.5 -23.9h10m-5 0v23.4m-5 0h10m-8.4 -23.9h10m-5 0v21.3m-5 0h10m-8.4 -16.3h10m-5 0v23.8m-5 0h10m-8.4 -25.1h10m-5 0v26.6m-5 0h10m-8.4 -24.8h10m-5 0v21.9m-5 0h10m-8.4 -24.3h10m-5 0v24.5m-5 0h10m-8.4 -27.9h10m-5 0v25.8m-5 0h10m-8.5 -20.8h10m-5 0v24.7m-5 0h10m-8.4 -21h10m-5 0v21.4m-5 0h10m-8.4 -25.5h10m-5 0v27.3m-5 0h10m-8.4 -23.1h10m-5 0v25.6m-5 0h10m-8.4 -28.1h10m-5 0v28.2m-5 0h10m-8.4 -32.7h10m-5 0v28m-5 0h10m-8.4 -23h10m-5 0v28.7m-5 0h10m-8.4 -27.9h10m-5 0v21.5m-5 0h10m-8.5 -20.7h10m-5 0v26m-5 0h10m-8.4 -30.4h10m-5 0v28.7m-5 0h10m-8.4 -19.3h10m-5 0v23.5m-5 0h10m-8.4 -26.5h10m-5 0v28.4m-5 0h10m-8.4 -31.9h10m-5 0v23.5m-5 0h10m-8.4 -18.7h10m-5 0v24.8m-5 0h10m-8.4 -39.4h10m-5 0v26.5m-5 0h10m-8.5 -25.6h10m-5 0v27.7m-5 0h10m-8.4 -26h10m-5 0v27m-5 0h10m-8.4 -23.7h10m-5 0v21.5m-5 0h10m-8.4 -26h10m-5 0v26.2m-5 0h10m-8.4 -26.2h10m-5 0v27.3m-5 0h10m-8.4 -21.5h10m-5 0v23.4m-5 0h10m-8.4 -27.8h10m-5 0v23.4m-5 0h10m-8.5 -24.5h10m-5 0v28.9m-5 0h10m-8.4 -30.9h10m-5 0v28.6m-5 0h10m-8.4 -29.5h10m-5 0v26.7m-5 0h10m-8.4 -26.7h10m-5 0v27.4m-5 0h10m-8.4 -25.9h10m-5 0v28.8m-5 0h10m-8.4 -25.3h10m-5 0v21.5m-5 0h10m-8.4 -24.1h10m-5 0v28.7m-5 0h10m-8.5 -28.7h10m-5 0v27.5m-5 0h10m-8.4 -32.4h10m-5 0v24.4m-5 0h10m-8.4 -22.7h10m-5 0v22m-5 0h10m-8.4 -15.7h10m-5 0v26.2m-5 0h10m-8.4 -21h10m-5 0v25.8m-5 0h10m-8.4 -36.6h10m-5 0v27.5m-5 0h10m-8.4 -31h10m-5 0v27.8m-5 0h10m-8.4 -20.8h10m-5 0v29.2m-5 0h10m-8.5 -28.6h10m-5 0v23.7m-5 0h10m-8.4 -21.9h10m-5 0v22.8m-5 0h10m-8.4 -23.8h10m-5 0v22.9m-5 0h10m-8.4 -21.7h10m-5 0v27.3m-5 0h10m-8.4 -30.1h10m-5 0v29.2m-5 0h10m-8.4 -27.6h10m-5 0v26.8m-5 0h10m-8.4 -25.1h10m-5 0v22.8m-5 0h10m-8.5 -26.1h10m-5 0v26m-5 0h10m-8.4 -19.5h10m-5 0v27.1m-5 0h10m-8.4 -34.4h10m-5 0v24.4m-5 0h10m-8.4 -19.8h10m-5 0v25.3m-5 0h10m-8.4 -27.3h10m-5 0v28.4m-5 0h10m-8.4 -23.1h10m-5 0v23.8m-5 0h10m-8.4 -19.3h10m-5 0v24.1m-5 0h10m-8.5 -31.7h10m-5 0v22.5m-5 0h10m-8.4 -21h10m-5 0v22.7m-5 0h10m-8.4 -15.8h10m-5 0v26.1m-5 0h10m-8.4 -40.1h10m-5 0v22.7m-5 0h10m-8.4 -25.6h10m-5 0v24.5m-5 0h10m-8.4 -18.9h10m-5 0v28.6m-5 0h10m-8.4 -33.1h10m-5 0v30.1m-5 0h10m-8.4 -34.3h10m-5 0v28.1m-5 0h10m-8.5 -22.5h10m-5 0v22.7m-5 0h10m-8.4 -10.8h10m-5 0v29.1m-5 0h10m-8.4 -48.2h10m-5 0v29.2m-5 0h10m-8.4 -12h10m-5 0v25.1m-5 0h10m-8.4 -31.4h10m-5 0v27.6m-5 0h10m-8.4 -35.7h10m-5 0v27m-5 0h10m-8.4 -13.5h10m-5 0v24.3m-5 0h10m-8.5 -21h10m-5 0v24.9m-5 0h10m-8.4 -31.8h10m-5 0v25.1m-5 0h10m-8.4 -26.9h10m-5 0v30.2m-5 0h10m-8.4 -19.3h10m-5 0v26.3m-5 0h10m-8.4 -46.5h10m-5 0v29.8m-5 0h10m-8.4 -23.3h10m-5 0v30.6m-5 0h10m-8.4 -27h10m-5 0v24m-5 0h10m-8.5 -26.4h10m-5 0v27.2m-5 0h10m-8.4 -27.4h10m-5 0v29m-5 0h10m-8.4 -33.8h10m-5 0v27.7m-5 0h10m-8.4 -17.8h10m-5 0v24.6m-5 0h10m-8.4 -25.2h10m-5 0v28.8m-5 0h10m-8.4 -35.8h10m-5 0v28.7m-5 0h10m-8.4 -27.9h10m-5 0v26.3m-5 0h10m-8.5 -28.2h10m-5 0v23.8m-5 0h10m-8.4 -15.8h10m-5 0v23.8m-5 0h10m-8.4 -31.2h10m-5 0v24.4m-5 0h10m-8.4 -24.8h10m-5 0v25m-5 0h10m-8.4 -18.1h10m-5 0v29.6m-5 0h10m-8.4 -38.1h10m-5 0v29.5m-5 0h10m-8.4 -23.9h10m-5 0v25.1m-5 0h10m-8.4 -34.8h10m-5 0v29.8m-5 0h10m-8.5 -29.2h10m-5 0v28.2m-5 0h10m-8.4 -19.8h10m-5 0v28.8m-5 0h10m-8.4 -19.9h10m-5 0v27.8m-5 0h10m-8.4 -35.6h10m-5 0v28.6m-5 0h10m-8.4 -24.3h10m-5 0v26.8m-5 0h10m-8.4 -28.9h10m-5 0v27m-5 0h10m-8.4 -42.6h10m-5 0v30.7m-5 0h10m-8.5 -27.5h10m-5 0v30.2m-5 0h10m-8.4 -24.1h10m-5 0v27.3m-5 0h10m-8.4 -24.2h10m-5 0v31m-5 0h10m-8.4 -36.2h10m-5 0v28.1m-5 0h10m-8.4 -35h10m-5 0v30.2m-5 0h10m-8.4 -21.9h10m-5 0v23.9m-5 0h10m-8.4 -22.5h10m-5 0v25.5m-5 0h10m-8.5 -26.1h10m-5 0v26.3m-5 0h10m-8.4 -33.6h10m-5 0v28m-5 0h10m-8.4 -24.8h10m-5 0v30.1m-5 0h10m-8.4 -21.7h10m-5 0v24.6m-5 0h10m-8.4 -10.6h10m-5 0v27.2m-5 0h10m-359 15h10m-5 0v21.8m-5 0h10m-8.4 -28.3h10m-5 0v27.2m-5 0h10m-8.4 -24.9h10m-5 0v24m-5 0h10m-8.4 -22.5h10m-5 0v25.8m-5 0h10m-8.4 -28.5h10m-5 0v26.4m-5 0h10m-8.5 -31.4h10m-5 0v24.3m-5 0h10m-8.4 -16h10m-5 0v21.9m-5 0h10m-8.4 -21.6h10m-5 0v27.4m-5 0h10m-8.4 -25h10m-5 0v27m-5 0h10m-8.4 -21.9h10m-5 0v23.6m-5 0h10m-8.4 -25.1h10m-5 0v24.8m-5 0h10m-8.4 -32.5h10m-5 0v25.7m-5 0h10m-8.4 -23.5h10m-5 0v24.2m-5 0h10m-8.5 -26.6h10m-5 0v28.7m-5 0h10m-8.4 -28.4h10m-5 0v26m-5 0h10m-8.4 -20.2h10m-5 0v22.2m-5 0h10m-8.4 -22.8h10m-5 0v21.5m-5 0h10m-8.4 -24.9h10m-5 0v25.2m-5 0h10m-8.4 -29.6h10m-5 0v27.1m-5 0h10m-8.4 -19.1h10m-5 0v23.5m-5 0h10m-8.5 -20.8h10m-5 0v25.2m-5 0h10m-8.4 -27h10m-5 0v27.9m-5 0h10m-8.4 -31.4h10m-5 0v22.9m-5 0h10m-8.4 -20.1h10m-5 0v26.7m-5 0h10m-8.4 -23.7h10m-5 0v27.4m-5 0h10m-8.4 -30.2h10m-5 0v23.5m-5 0h10m-8.4 -26.2h10m-5 0v24.7m-5 0h10m-8.5 -22.8h10m-5 0v27.1m-5 0h10m-8.4 -29.4h10m-5 0v28.7m-5 0h10m-8.4 -26.4h10m-5 0v24.6m-5 0h10m-8.4 -23.1h10m-5 0v25m-5 0h10m-8.4 -26.9h10m-5 0v22.3m-5 0h10m-8.4 -28.1h10m-5 0v28.3m-5 0h10m-8.4 -25.9h10m-5 0v24m-5 0h10m-8.5 -23.2h10m-5 0v24.7m-5 0h10m-8.4 -23.6h10m-5 0v27.2m-5 0h10m-8.4 -32h10m-5 0v25.2m-5 0h10m-8.4 -30.4h10m-5 0v28.8m-5 0h10m-8.4 -28.2h10m-5 0v27.7m-5 0h10m-8.4 -21.6h10m-5 0v27.1m-5 0h10m-8.4 -22.5h10m-5 0v22.2m-5 0h10m-8.4 -28.4h10m-5 0v25.2m-5 0h10m-8.5 -24.8h10m-5 0v28.2m-5 0h10m-8.4 -30.2h10m-5 0v23m-5 0h10m-8.4 -24.1h10m-5 0v26.7m-5 0h10m-8.4 -26.7h10m-5 0v25.1m-5 0h10m-8.4 -23h10m-5 0v27.8m-5 0h10m-8.4 -20.3h10m-5 0v21.4m-5 0h10m-8.4 -28.7h10m-5 0v29m-5 0h10m-8.5 -23.8h10m-5 0v24.6m-5 0h10m-8.4 -25.4h10m-5 0v22.6m-5 0h10m-8.4 -20.7h10m-5 0v23.7m-5 0h10m-8.4 -26h10m-5 0v23.6m-5 0h10m-8.4 -19.1h10m-5 0v21.4m-5 0h10m-8.4 -23.8h10m-5 0v22.5m-5 0h10m-8.4 -27.2h10m-5 0v27.4m-5 0h10m-8.5 -28h10m-5 0v27.2m-5 0h10m-8.4 -18.1h10m-5 0v25.1m-5 0h10m-8.4 -30.1h10m-5 0v26.7m-5 0h10m-8.4 -26.1h10m-5 0v24.4m-5 0h10m-8.4 -24.9h10m-5 0v22.8m-5 0h10m-8.4 -24.1h10m-5 0v23.8m-5 0h10m-8.4 -25h10m-5 0v24.2m-5 0h10m-8.5 -23.7h10m-5 0v28.1m-5 0h10m-8.4 -26.6h10m-5 0v22.5m-5 0h10m-8.4 -26.1h10m-5 0v26.4m-5 0h10m-8.4 -17.8h10m-5 0v26m-5 0h10m-8.4 -34h10m-5 0v23.3m-5 0h10m-8.4 -19.2h10m-5 0v28.7m-5 0h10m-8.4 -31.6h10m-5 0v28.5m-5 0h10m-8.4 -27.1h10m-5 0v27.9m-5 0h10m-8.5 -33h10m-5 0v28.2m-5 0h10m-8.4 -23.9h10m-5 0v23.2m-5 0h10m-8.4 -28.4h10m-5 0v28.4m-5 0h10m-8.4 -19.3h10m-5 0v24.6m-5 0h10m-8.4 -28.4h10m-5 0v22.5m-5 0h10m-8.4 -24.5h10m-5 0v22.3m-5 0h10m-8.4 -20.8h10m-5 0v23.9m-5 0h10m-8.5 -21.3h10m-5 0v23.4m-5 0h10m-8.4 -27.3h10m-5 0v23.7m-5 0h10m-8.4 -31h10m-5 0v28.1m-5 0h10m-8.4 -24.5h10m-5 0v23m-5 0h10m-8.4 -24.5h10m-5 0v23.5m-5 0h10m-8.4 -18.5h10m-5 0v25.7m-5 0h10m-8.4 -28.8h10m-5 0v28.7m-5 0h10m-8.5 -25.5h10m-5 0v27m-5 0h10m-8.4 -26.8h10m-5 0v25.1m-5 0h10m-8.4 -22.1h10m-5 0v23.1m-5 0h10m-8.4 -26.6h10m-5 0v27.6m-5 0h10m-8.4 -32.3h10m-5 0v24.8m-5 0h10m-8.4 -15.8h10m-5 0v21.5m-5 0h10m-8.4 -25.9h10m-5 0v21.8m-5 0h10m-8.4 -18.2h10m-5 0v22.7m-5 0h10m-8.5 -21.3h10m-5 0v25.2m-5 0h10m-8.4 -27.7h10m-5 0v24.1m-5 0h10m-8.4 -22h10m-5 0v22.5m-5 0h10m-8.4 -28h10m-5 0v25.3m-5 0h10m-8.4 -28.6h10m-5 0v25.1m-5 0h10m-8.4 -22h10m-5 0v23.8m-5 0h10m-8.4 -21.9h10m-5 0v23.5m-5 0h10m-8.5 -23h10m-5 0v23.7m-5 0h10m-8.4 -21.1h10m-5 0v26.4m-5 0h10m-8.4 -27.8h10m-5 0v22.2m-5 0h10m-8.4 -20.1h10m-5 0v23.7m-5 0h10m-8.4 -32h10m-5 0v25.4m-5 0h10m-8.4 -17.8h10m-5 0v25.5m-5 0h10m-8.4 -26.2h10m-5 0v27.4m-5 0h10m-8.5 -25.1h10m-5 0v24.8m-5 0h10m-8.4 -26.9h10m-5 0v24.2m-5 0h10m-8.4 -22.6h10m-5 0v23m-5 0h10m-8.4 -20.7h10m-5 0v23.5m-5 0h10m-8.4 -32.4h10m-5 0v22.8m-5 0h10m-8.4 -24.7h10m-5 0v27.6m-5 0h10m-8.4 -29.6h10m-5 0v23.1m-5 0h10m-8.5 -22.8h10m-5 0v27.5m-5 0h10m-8.4 -24.5h10m-5 0v26.6m-5 0h10m-8.4 -28.5h10m-5 0v27.4m-5 0h10m-8.4 -23.2h10m-5 0v26.7m-5 0h10m-8.4 -26.9h10m-5 0v21.2m-5 0h10m-8.4 -19.8h10m-5 0v23.7m-5 0h10m-8.4 -27.7h10m-5 0v28m-5 0h10m-8.4 -20.2h10m-5 0v21.4m-5 0h10m-8.5 -26.4h10m-5 0v21.6m-5 0h10m-8.4 -25.8h10m-5 0v24.9m-5 0h10m-8.4 -25.1h10m-5 0v27.5m-5 0h10m-8.4 -23.3h10m-5 0v22.9m-5 0h10m-8.4 -26.4h10m-5 0v25.9m-5 0h10m-8.4 -24.5h10m-5 0v24.7m-5 0h10m-8.4 -17.9h10m-5 0v25.2m-5 0h10m-8.5 -29.7h10m-5 0v26.3m-5 0h10m-8.4 -25.8h10m-5 0v22.7m-5 0h10m-8.4 -30.1h10m-5 0v28.3m-5 0h10m-8.4 -21.6h10m-5 0v24.9m-5 0h10m-8.4 -21.5h10m-5 0v22.1m-5 0h10m-8.4 -24h10m-5 0v23.7m-5 0h10m-8.4 -29.6h10m-5 0v27.7m-5 0h10m-8.5 -14.6h10m-5 0v23.6m-5 0h10m-8.4 -32.2h10m-5 0v21.8m-5 0h10m-8.4 -21.8h10m-5 0v22.6m-5 0h10m-8.4 -18.7h10m-5 0v25.7m-5 0h10m-8.4 -29.8h10m-5 0v27.7m-5 0h10m-8.4 -21.2h10m-5 0v27.8m-5 0h10m-8.4 -27.1h10m-5 0v29.1m-5 0h10m-8.5 -26.4h10m-5 0v27m-5 0h10m-8.4 -30.5h10m-5 0v24.4m-5 0h10m-8.4 -28h10m-5 0v27.5m-5 0h10m-8.4 -24.5h10m-5 0v23.1m-5 0h10m-8.4 -18.5h10m-5 0v23.7m-5 0h10m-8.4 -29.2h10m-5 0v23.6m-5 0h10m-8.4 -28.1h10m-5 0v26.7m-5 0h10m-8.4 -26.8h10m-5 0v25.3m-5 0h10m-8.5 -29.2h10m-5 0v24.3m-5 0h10m-8.4 -18.3h10m-5 0v29.5m-5 0h10m-8.4 -31.4h10m-5 0v23.2m-5 0h10m-8.4 -22.7h10m-5 0v26.2m-5 0h10m-8.4 -28.5h10m-5 0v28.5m-5 0h10m-8.4 -24.1h10m-5 0v23.5m-5 0h10m-8.4 -29.1h10m-5 0v28.8m-5 0h10m-8.5 -23.9h10m-5 0v28.8m-5 0h10m-8.4 -31h10m-5 0v27.4m-5 0h10m-8.4 -31.2h10m-5 0v24.2m-5 0h10m-8.4 -18.6h10m-5 0v27.1m-5 0h10m-8.4 -24.9h10m-5 0v22.5m-5 0h10m-8.4 -25.4h10m-5 0v24.7m-5 0h10m-8.4 -25.1h10m-5 0v25.7m-5 0h10m-8.5 -29.5h10m-5 0v28.3m-5 0h10m-8.4 -18.5h10m-5 0v24.1m-5 0h10m-8.4 -30.5h10m-5 0v29.8m-5 0h10m-8.4 -24.6h10m-5 0v25.7m-5 0h10m-8.4 -32h10m-5 0v22.4m-5 0h10m-8.4 -21.3h10m-5 0v23.9m-5 0h10m-8.4 -26.3h10m-5 0v29.2m-5 0h10m-8.4 -19.8h10m-5 0v23.4m-5 0h10m-8.5 -30h10m-5 0v22.7m-5 0h10m-8.4 -15.3h10m-5 0v24.8m-5 0h10m-8.4 -25.9h10m-5 0v27m-5 0h10m-8.4 -28.8h10m-5 0v23.3m-5 0h10m-8.4 -24.3h10m-5 0v28m-5 0h10m-8.4 -33.5h10m-5 0v25.9m-5 0h10m-8.4 -22.7h10m-5 0v24.4m-5 0h10m-8.5 -19.2h10m-5 0v24.1m-5 0h10m-8.4 -32.5h10m-5 0v27m-5 0h10m-8.4 -23.4h10m-5 0v25.9m-5 0h10m-8.4 -22h10m-5 0v29.2m-5 0h10m-8.4 -26h10m-5 0v29.5m-5 0h10m-8.4 -25h10m-5 0v23.7m-5 0h10m-8.4 -33.5h10m-5 0v30.1m-5 0h10m-8.5 -29.1h10m-5 0v29.6m-5 0h10m-8.4 -33.1h10m-5 0v29.9m-5 0h10m-8.4 -32.5h10m-5 0v29.7m-5 0h10m-8.4 -30.9h10m-5 0v28.2m-5 0h10m-8.4 -25.6h10m-5 0v29.9m-5 0h10m-8.4 -34.4h10m-5 0v28.4m-5 0h10m-8.4 -24.9h10m-5 0v27.9m-5 0h10m-8.5 -13.1h10m-5 0v24.4m-5 0h10m-8.4 -33.7h10m-5 0v28.9m-5 0h10m-8.4 -36h10m-5 0v28m-5 0h10m-8.4 -21.8h10m-5 0v24.1m-5 0h10m-8.4 -19.9h10m-5 0v24m-5 0h10m-8.4 -27.4h10m-5 0v30.9m-5 0h10m-8.4 -32.6h10m-5 0v23.7m-5 0h10m-8.4 -22.6h10m-5 0v29.4m-5 0h10m-8.5 -22.7h10m-5 0v28.2m-5 0h10m-8.4 -28h10m-5 0v25m-5 0h10m-8.4 -46.1h10m-5 0v24.9m-5 0h10m-8.4 -13.5h10m-5 0v30.9m-5 0h10m-8.4 -32.1h10m-5 0v28.7m-5 0h10m-8.4 -30.8h10m-5 0v30.3m-5 0h10m-8.4 -31.3h10m-5 0v29.4m-5 0h10m-8.5 -30.8h10m-5 0v27.3m-5 0h10m-8.4 -22.5h10m-5 0v24.7m-5 0h10m-8.4 -24.8h10m-5 0v31.4m-5 0h10m-8.4 -29.6h10m-5 0v26.2m-5 0h10m-8.4 -29h10m-5 0v29.4m-5 0h10m-8.4 -39h10m-5 0v26.1m-5 0h10m-8.4 -29.3h10m-5 0v29.7m-5 0h10m-8.5 -21.1h10m-5 0v24m-5 0h10m-8.4 -31.6h10m-5 0v28.9m-5 0h10m-8.4 -12.1h10m-5 0v26.3m-5 0h10m-8.4 -24.5h10m-5 0v30.8m-5 0h10m-8.4 -17.6h10m-5 0v26.9m-5 0h10m-359 -2.1h10m-5 0v25.3m-5 0h10m-8.4 -27.2h10m-5 0v28.5m-5 0h10m-8.4 -29.7h10m-5 0v24.2m-5 0h10m-8.4 -22.4h10m-5 0v23.3m-5 0h10m-8.4 -25.9h10m-5 0v28.5m-5 0h10m-8.5 -22.9h10m-5 0v25.6m-5 0h10m-8.4 -31h10m-5 0v25.6m-5 0h10m-8.4 -20.8h10m-5 0v22.2m-5 0h10m-8.4 -26.2h10m-5 0v28.1m-5 0h10m-8.4 -23.5h10m-5 0v21.3m-5 0h10m-8.4 -20h10m-5 0v23.8m-5 0h10m-8.4 -22.2h10m-5 0v25.7m-5 0h10m-8.4 -32.3h10m-5 0v22.6m-5 0h10m-8.5 -20.7h10m-5 0v23.9m-5 0h10m-8.4 -23.3h10m-5 0v28.4m-5 0h10m-8.4 -31.3h10m-5 0v28.6m-5 0h10m-8.4 -23.8h10m-5 0v21.9m-5 0h10m-8.4 -27.2h10m-5 0v26.2m-5 0h10m-8.4 -23.3h10m-5 0v26.3m-5 0h10m-8.4 -27.6h10m-5 0v23.9m-5 0h10m-8.5 -17.6h10m-5 0v28.4m-5 0h10m-8.4 -38.4h10m-5 0v25.6m-5 0h10m-8.4 -21.7h10m-5 0v26.8m-5 0h10m-8.4 -21.5h10m-5 0v26.2m-5 0h10m-8.4 -24.4h10m-5 0v27.6m-5 0h10m-8.4 -23.1h10m-5 0v24.6m-5 0h10m-8.4 -28.5h10m-5 0v21.2m-5 0h10m-8.5 -21.3h10m-5 0v21.3m-5 0h10m-8.4 -23h10m-5 0v22m-5 0h10m-8.4 -24.3h10m-5 0v27m-5 0h10m-8.4 -24.9h10m-5 0v21.4m-5 0h10m-8.4 -18.1h10m-5 0v26.1m-5 0h10m-8.4 -24.3h10m-5 0v21.9m-5 0h10m-8.4 -33.7h10m-5 0v28.8m-5 0h10m-8.5 -23.6h10m-5 0v21.8m-5 0h10m-8.4 -26.7h10m-5 0v23.5m-5 0h10m-8.4 -16.4h10m-5 0v23.9m-5 0h10m-8.4 -27.3h10m-5 0v27.7m-5 0h10m-8.4 -21.9h10m-5 0v23.1m-5 0h10m-8.4 -35.1h10m-5 0v26.4m-5 0h10m-8.4 -13.4h10m-5 0v26m-5 0h10m-8.4 -30.1h10m-5 0v28.7m-5 0h10m-8.5 -31.7h10m-5 0v24.3m-5 0h10m-8.4 -27.2h10m-5 0v24.5m-5 0h10m-8.4 -17.6h10m-5 0v27.4m-5 0h10m-8.4 -28.2h10m-5 0v22m-5 0h10m-8.4 -20.5h10m-5 0v27m-5 0h10m-8.4 -34.6h10m-5 0v25.3m-5 0h10m-8.4 -25.3h10m-5 0v27.8m-5 0h10m-8.5 -24.2h10m-5 0v25.4m-5 0h10m-8.4 -22.5h10m-5 0v23.6m-5 0h10m-8.4 -28.1h10m-5 0v24.8m-5 0h10m-8.4 -26.5h10m-5 0v27.2m-5 0h10m-8.4 -28.6h10m-5 0v26.4m-5 0h10m-8.4 -21.6h10m-5 0v24.2m-5 0h10m-8.4 -29.4h10m-5 0v22.7m-5 0h10m-8.5 -17.2h10m-5 0v25.5m-5 0h10m-8.4 -24.8h10m-5 0v22.1m-5 0h10m-8.4 -24.9h10m-5 0v26.1m-5 0h10m-8.4 -29.5h10m-5 0v24.9m-5 0h10m-8.4 -23.3h10m-5 0v25.1m-5 0h10m-8.4 -29.6h10m-5 0v21.9m-5 0h10m-8.4 -23.6h10m-5 0v26.1m-5 0h10m-8.5 -21.4h10m-5 0v24.9m-5 0h10m-8.4 -30.7h10m-5 0v25.7m-5 0h10m-8.4 -21.3h10m-5 0v27.8m-5 0h10m-8.4 -24.8h10m-5 0v23.6m-5 0h10m-8.4 -31.2h10m-5 0v23.4m-5 0h10m-8.4 -18.7h10m-5 0v23.2m-5 0h10m-8.4 -24.9h10m-5 0v22.5m-5 0h10m-8.4 -19.7h10m-5 0v28.7m-5 0h10m-8.5 -25.8h10m-5 0v25.1m-5 0h10m-8.4 -25h10m-5 0v26.1m-5 0h10m-8.4 -32.3h10m-5 0v24.5m-5 0h10m-8.4 -21h10m-5 0v23.7m-5 0h10m-8.4 -16.5h10m-5 0v22.4m-5 0h10m-8.4 -27.2h10m-5 0v27m-5 0h10m-8.4 -29.1h10m-5 0v28.9m-5 0h10m-8.5 -26.5h10m-5 0v26.1m-5 0h10m-8.4 -34.1h10m-5 0v28.5m-5 0h10m-8.4 -22h10m-5 0v23m-5 0h10m-8.4 -24.8h10m-5 0v22.2m-5 0h10m-8.4 -23.8h10m-5 0v28.8m-5 0h10m-8.4 -22h10m-5 0v26.3m-5 0h10m-8.4 -27h10m-5 0v22m-5 0h10m-8.5 -20.3h10m-5 0v22m-5 0h10m-8.4 -28.1h10m-5 0v23.9m-5 0h10m-8.4 -20.4h10m-5 0v21.3m-5 0h10m-8.4 -20.2h10m-5 0v25.6m-5 0h10m-8.4 -31.3h10m-5 0v25.3m-5 0h10m-8.4 -28.5h10m-5 0v25m-5 0h10m-8.4 -14.8h10m-5 0v23m-5 0h10m-8.4 -21.6h10m-5 0v23.6m-5 0h10m-8.5 -31.8h10m-5 0v26.1m-5 0h10m-8.4 -27.9h10m-5 0v27.4m-5 0h10m-8.4 -18.2h10m-5 0v22.2m-5 0h10m-8.4 -24h10m-5 0v23.5m-5 0h10m-8.4 -25h10m-5 0v25.8m-5 0h10m-8.4 -27.5h10m-5 0v21.8m-5 0h10m-8.4 -20.7h10m-5 0v22m-5 0h10m-8.5 -20.6h10m-5 0v27.4m-5 0h10m-8.4 -29.9h10m-5 0v28.7m-5 0h10m-8.4 -25.8h10m-5 0v23.1m-5 0h10m-8.4 -27.7h10m-5 0v26.6m-5 0h10m-8.4 -28.5h10m-5 0v21.2m-5 0h10m-8.4 -18.4h10m-5 0v22.7m-5 0h10m-8.4 -21.9h10m-5 0v27.4m-5 0h10m-8.5 -18h10m-5 0v22.2m-5 0h10m-8.4 -31h10m-5 0v27.3m-5 0h10m-8.4 -21.9h10m-5 0v26.2m-5 0h10m-8.4 -26.4h10m-5 0v25.1m-5 0h10m-8.4 -31.8h10m-5 0v25.6m-5 0h10m-8.4 -22.3h10m-5 0v24.4m-5 0h10m-8.4 -29h10m-5 0v25.7m-5 0h10m-8.5 -24.3h10m-5 0v22m-5 0h10m-8.4 -20.7h10m-5 0v25m-5 0h10m-8.4 -26.8h10m-5 0v23.7m-5 0h10m-8.4 -24.3h10m-5 0v23.3m-5 0h10m-8.4 -19.9h10m-5 0v21.7m-5 0h10m-8.4 -18.9h10m-5 0v23.9m-5 0h10m-8.4 -32h10m-5 0v26.9m-5 0h10m-8.4 -22.1h10m-5 0v28.1m-5 0h10m-8.5 -27.4h10m-5 0v27.4m-5 0h10m-8.4 -27.5h10m-5 0v25.6m-5 0h10m-8.4 -31.1h10m-5 0v27.7m-5 0h10m-8.4 -25.8h10m-5 0v27.9m-5 0h10m-8.4 -31.6h10m-5 0v26m-5 0h10m-8.4 -15.6h10m-5 0v23.4m-5 0h10m-8.4 -27.1h10m-5 0v23.4m-5 0h10m-8.5 -27.8h10m-5 0v27.7m-5 0h10m-8.4 -24.3h10m-5 0v22.3m-5 0h10m-8.4 -22h10m-5 0v28.2m-5 0h10m-8.4 -27.8h10m-5 0v24.9m-5 0h10m-8.4 -26.2h10m-5 0v25.5m-5 0h10m-8.4 -26.6h10m-5 0v28.3m-5 0h10m-8.4 -28.4h10m-5 0v27.3m-5 0h10m-8.5 -25.4h10m-5 0v24.3m-5 0h10m-8.4 -23.5h10m-5 0v27.3m-5 0h10m-8.4 -25.2h10m-5 0v27.1m-5 0h10m-8.4 -37.5h10m-5 0v28.9m-5 0h10m-8.4 -28.3h10m-5 0v26.4m-5 0h10m-8.4 -21.3h10m-5 0v25.7m-5 0h10m-8.4 -27.6h10m-5 0v22.9m-5 0h10m-8.5 -25.4h10m-5 0v29.3m-5 0h10m-8.4 -28h10m-5 0v27.3m-5 0h10m-8.4 -19.9h10m-5 0v23.5m-5 0h10m-8.4 -27.4h10m-5 0v26.7m-5 0h10m-8.4 -23.3h10m-5 0v25m-5 0h10m-8.4 -20.8h10m-5 0v25m-5 0h10m-8.4 -25.4h10m-5 0v23.9m-5 0h10m-8.4 -29h10m-5 0v22.8m-5 0h10m-8.5 -24.1h10m-5 0v26.4m-5 0h10m-8.4 -30h10m-5 0v29.3m-5 0h10m-8.4 -24.9h10m-5 0v22.1m-5 0h10m-8.4 -24.6h10m-5 0v24.5m-5 0h10m-8.4 -27.5h10m-5 0v27.4m-5 0h10m-8.4 -21.1h10m-5 0v23.8m-5 0h10m-8.4 -26.1h10m-5 0v25.7m-5 0h10m-8.5 -38.9h10m-5 0v28.8m-5 0h10m-8.4 -18.7h10m-5 0v23.7m-5 0h10m-8.4 -27.9h10m-5 0v24.2m-5 0h10m-8.4 -19.2h10m-5 0v26.4m-5 0h10m-8.4 -28.9h10m-5 0v24.4m-5 0h10m-8.4 -31.3h10m-5 0v25.2m-5 0h10m-8.4 -22h10m-5 0v25.5m-5 0h10m-8.5 -26h10m-5 0v23.2m-5 0h10m-8.4 -27h10m-5 0v28m-5 0h10m-8.4 -20.3h10m-5 0v22.4m-5 0h10m-8.4 -19.3h10m-5 0v29.2m-5 0h10m-8.4 -24.6h10m-5 0v22.7m-5 0h10m-8.4 -24.6h10m-5 0v26.9m-5 0h10m-8.4 -25.7h10m-5 0v25.4m-5 0h10m-8.4 -24.8h10m-5 0v30.1m-5 0h10m-8.5 -31.6h10m-5 0v24.7m-5 0h10m-8.4 -29.4h10m-5 0v29.4m-5 0h10m-8.4 -37.7h10m-5 0v22.8m-5 0h10m-8.4 -14.8h10m-5 0v28.5m-5 0h10m-8.4 -31.2h10m-5 0v23.4m-5 0h10m-8.4 -23h10m-5 0v24.3m-5 0h10m-8.4 -25.6h10m-5 0v26.8m-5 0h10m-8.5 -19.1h10m-5 0v23.5m-5 0h10m-8.4 -32.9h10m-5 0v27.4m-5 0h10m-8.4 -21.7h10m-5 0v27.9m-5 0h10m-8.4 -35.1h10m-5 0v27.2m-5 0h10m-8.4 -23.3h10m-5 0v29.4m-5 0h10m-8.4 -19.9h10m-5 0v28.4m-5 0h10m-8.4 -36.1h10m-5 0v23m-5 0h10m-8.5 -15.8h10m-5 0v30.6m-5 0h10m-8.4 -27.4h10m-5 0v29.4m-5 0h10m-8.4 -49h10m-5 0v29.9m-5 0h10m-8.4 -18.6h10m-5 0v23.7m-5 0h10m-8.4 -25h10m-5 0v23.6m-5 0h10m-8.4 -17.1h10m-5 0v26.7m-5 0h10m-8.4 -26.6h10m-5 0v26.3m-5 0h10m-8.5 -26.4h10m-5 0v30.2m-5 0h10m-8.4 -30.7h10m-5 0v24.6m-5 0h10m-8.4 -28.1h10m-5 0v30.9m-5 0h10m-8.4 -25.8h10m-5 0v30.2m-5 0h10m-8.4 -43.7h10m-5 0v24.3m-5 0h10m-8.4 -12.7h10m-5 0v25.5m-5 0h10m-8.4 -39.2h10m-5 0v31m-5 0h10m-8.4 -17.6h10m-5 0v27.5m-5 0h10m-8.5 -32.5h10m-5 0v24m-5 0h10m-8.4 -17.7h10m-5 0v24.9m-5 0h10m-8.4 -28h10m-5 0v26.6m-5 0h10m-8.4 -29.5h10m-5 0v28.5m-5 0h10m-8.4 -24.3h10m-5 0v23.9m-5 0h10m-8.4 -30.2h10m-5 0v30.7m-5 0h10m-8.4 -30.1h10m-5 0v31.3m-5 0h10m-8.5 -24.3h10m-5 0v25.1m-5 0h10m-8.4 -31.7h10m-5 0v28.3m-5 0h10m-8.4 -27.9h10m-5 0v27.3m-5 0h10m-8.4 -33.3h10m-5 0v29.7m-5 0h10m-8.4 -24.3h10m-5 0v31.1m-5 0h10m-8.4 -25.1h10m-5 0v29.6m-5 0h10m-8.4 -33.5h10m-5 0v28.9m-5 0h10m-8.5 -30.7h10m-5 0v24.6m-5 0h10m-8.4 -24.1h10m-5 0v26.2m-5 0h10m-8.4 -30.8h10m-5 0v24m-5 0h10m-8.4 -31.7h10m-5 0v29.3m-5 0h10m-8.4 -20.4h10m-5 0v25.5m-5 0h10m-359 29.4h10m-5 0v24.4m-5 0h10m-8.4 -17.8h10m-5 0v25.4m-5 0h10m-8.4 -30.5h10m-5 0v26.7m-5 0h10m-8.4 -31.6h10m-5 0v28.8m-5 0h10m-8.4 -27.4h10m-5 0v25m-5 0h10m-8.5 -22.5h10m-5 0v28.5m-5 0h10m-8.4 -24.5h10m-5 0v23.2m-5 0h10m-8.4 -29.9h10m-5 0v22.3m-5 0h10m-8.4 -17.7h10m-5 0v27.3m-5 0h10m-8.4 -25.9h10m-5 0v22.1m-5 0h10m-8.4 -27.1h10m-5 0v28.5m-5 0h10m-8.4 -26.6h10m-5 0v28.6m-5 0h10m-8.4 -22.6h10m-5 0v21.4m-5 0h10m-8.5 -26.8h10m-5 0v25.7m-5 0h10m-8.4 -20.7h10m-5 0v21.5m-5 0h10m-8.4 -21.5h10m-5 0v23.2m-5 0h10m-8.4 -25.8h10m-5 0v24.1m-5 0h10m-8.4 -25h10m-5 0v26m-5 0h10m-8.4 -29.6h10m-5 0v27.6m-5 0h10m-8.4 -24.6h10m-5 0v23.2m-5 0h10m-8.5 -16.9h10m-5 0v21.4m-5 0h10m-8.4 -29.4h10m-5 0v27.8m-5 0h10m-8.4 -22.5h10m-5 0v25.3m-5 0h10m-8.4 -29.4h10m-5 0v21.4m-5 0h10m-8.4 -13.8h10m-5 0v23m-5 0h10m-8.4 -26.3h10m-5 0v22.9m-5 0h10m-8.4 -21.7h10m-5 0v27.5m-5 0h10m-8.5 -33.8h10m-5 0v24m-5 0h10m-8.4 -23.5h10m-5 0v28.6m-5 0h10m-8.4 -25.7h10m-5 0v24.9m-5 0h10m-8.4 -24.1h10m-5 0v28.8m-5 0h10m-8.4 -26.9h10m-5 0v26.2m-5 0h10m-8.4 -24.4h10m-5 0v23.7m-5 0h10m-8.4 -24.9h10m-5 0v24.2m-5 0h10m-8.5 -27.9h10m-5 0v23.3m-5 0h10m-8.4 -23.9h10m-5 0v23.8m-5 0h10m-8.4 -31.9h10m-5 0v27.8m-5 0h10m-8.4 -20.9h10m-5 0v27.2m-5 0h10m-8.4 -26.6h10m-5 0v22.3m-5 0h10m-8.4 -24.1h10m-5 0v24.7m-5 0h10m-8.4 -27.4h10m-5 0v22.7m-5 0h10m-8.4 -22.4h10m-5 0v26m-5 0h10m-8.5 -23.1h10m-5 0v22.7m-5 0h10m-8.4 -28.9h10m-5 0v25.8m-5 0h10m-8.4 -27.4h10m-5 0v28.3m-5 0h10m-8.4 -22.3h10m-5 0v28.4m-5 0h10m-8.4 -34.7h10m-5 0v24m-5 0h10m-8.4 -24.4h10m-5 0v28.9m-5 0h10m-8.4 -26.8h10m-5 0v27.8m-5 0h10m-8.5 -26.3h10m-5 0v24.5m-5 0h10m-8.4 -28.8h10m-5 0v21.2m-5 0h10m-8.4 -16.6h10m-5 0v27.2m-5 0h10m-8.4 -23.4h10m-5 0v25.3m-5 0h10m-8.4 -26.2h10m-5 0v28.7m-5 0h10m-8.4 -25.3h10m-5 0v24.1m-5 0h10m-8.4 -31.2h10m-5 0v23.4m-5 0h10m-8.5 -26.2h10m-5 0v22.6m-5 0h10m-8.4 -18.7h10m-5 0v21.4m-5 0h10m-8.4 -21.5h10m-5 0v22.2m-5 0h10m-8.4 -26.6h10m-5 0v23.1m-5 0h10m-8.4 -17.4h10m-5 0v23.6m-5 0h10m-8.4 -27.3h10m-5 0v25.5m-5 0h10m-8.4 -25.2h10m-5 0v22.3m-5 0h10m-8.5 -21.8h10m-5 0v26.6m-5 0h10m-8.4 -26.6h10m-5 0v25.3m-5 0h10m-8.4 -17.2h10m-5 0v21.7m-5 0h10m-8.4 -18.5h10m-5 0v21.5m-5 0h10m-8.4 -27.1h10m-5 0v22m-5 0h10m-8.4 -23.5h10m-5 0v28.7m-5 0h10m-8.4 -32.3h10m-5 0v23.8m-5 0h10m-8.4 -23.5h10m-5 0v25m-5 0h10m-8.5 -19.3h10m-5 0v24.5m-5 0h10m-8.4 -32.2h10m-5 0v28.5m-5 0h10m-8.4 -24h10m-5 0v27.7m-5 0h10m-8.4 -19h10m-5 0v22.8m-5 0h10m-8.4 -37.1h10m-5 0v23.6m-5 0h10m-8.4 -19.6h10m-5 0v21.5m-5 0h10m-8.4 -20.1h10m-5 0v26.2m-5 0h10m-8.5 -26.4h10m-5 0v25.7m-5 0h10m-8.4 -27.9h10m-5 0v21.3m-5 0h10m-8.4 -19.2h10m-5 0v25.5m-5 0h10m-8.4 -30.5h10m-5 0v24.6m-5 0h10m-8.4 -16.8h10m-5 0v24.7m-5 0h10m-8.4 -20.9h10m-5 0v24.8m-5 0h10m-8.4 -28.4h10m-5 0v26.8m-5 0h10m-8.5 -30.7h10m-5 0v27.2m-5 0h10m-8.4 -23.3h10m-5 0v21.4m-5 0h10m-8.4 -22.8h10m-5 0v28.3m-5 0h10m-8.4 -26.9h10m-5 0v26m-5 0h10m-8.4 -28.8h10m-5 0v23m-5 0h10m-8.4 -26.1h10m-5 0v24.8m-5 0h10m-8.4 -29.1h10m-5 0v27.9m-5 0h10m-8.4 -18h10m-5 0v26.9m-5 0h10m-8.5 -26.7h10m-5 0v21.7m-5 0h10m-8.4 -28.6h10m-5 0v28.7m-5 0h10m-8.4 -28.2h10m-5 0v28.4m-5 0h10m-8.4 -23.7h10m-5 0v21.1m-5 0h10m-8.4 -24.3h10m-5 0v23.5m-5 0h10m-8.4 -18.4h10m-5 0v22.6m-5 0h10m-8.4 -20.8h10m-5 0v28.7m-5 0h10m-8.5 -36.8h10m-5 0v26.1m-5 0h10m-8.4 -20.2h10m-5 0v27m-5 0h10m-8.4 -25.9h10m-5 0v27.1m-5 0h10m-8.4 -28.4h10m-5 0v21.5m-5 0h10m-8.4 -21.6h10m-5 0v22.7m-5 0h10m-8.4 -19.7h10m-5 0v25.6m-5 0h10m-8.4 -30.9h10m-5 0v25.1m-5 0h10m-8.5 -20.4h10m-5 0v24.4m-5 0h10m-8.4 -26.5h10m-5 0v26.1m-5 0h10m-8.4 -24.7h10m-5 0v25.5m-5 0h10m-8.4 -26.2h10m-5 0v23.2m-5 0h10m-8.4 -23.3h10m-5 0v23.8m-5 0h10m-8.4 -20.7h10m-5 0v23.4m-5 0h10m-8.4 -25.9h10m-5 0v28.2m-5 0h10m-8.5 -32.8h10m-5 0v25.8m-5 0h10m-8.4 -18.3h10m-5 0v24.3m-5 0h10m-8.4 -23.2h10m-5 0v23.4m-5 0h10m-8.4 -28.5h10m-5 0v25.2m-5 0h10m-8.4 -21.1h10m-5 0v21.5m-5 0h10m-8.4 -24.7h10m-5 0v25.6m-5 0h10m-8.4 -28.8h10m-5 0v27.9m-5 0h10m-8.4 -32.6h10m-5 0v28.7m-5 0h10m-8.5 -18.4h10m-5 0v21.9m-5 0h10m-8.4 -18.2h10m-5 0v24.4m-5 0h10m-8.4 -24.1h10m-5 0v22.5m-5 0h10m-8.4 -23.1h10m-5 0v24m-5 0h10m-8.4 -29.8h10m-5 0v23.7m-5 0h10m-8.4 -29.9h10m-5 0v24.7m-5 0h10m-8.4 -23.1h10m-5 0v28.8m-5 0h10m-8.5 -23h10m-5 0v24.4m-5 0h10m-8.4 -33.6h10m-5 0v25.4m-5 0h10m-8.4 -20.8h10m-5 0v26m-5 0h10m-8.4 -21h10m-5 0v21.7m-5 0h10m-8.4 -26.7h10m-5 0v25.3m-5 0h10m-8.4 -19.8h10m-5 0v22.8m-5 0h10m-8.4 -20.7h10m-5 0v22.2m-5 0h10m-8.5 -22.2h10m-5 0v28m-5 0h10m-8.4 -25h10m-5 0v25.6m-5 0h10m-8.4 -29.5h10m-5 0v26.2m-5 0h10m-8.4 -34.5h10m-5 0v28.3m-5 0h10m-8.4 -24.8h10m-5 0v26.7m-5 0h10m-8.4 -27.2h10m-5 0v27m-5 0h10m-8.4 -20.1h10m-5 0v27.3m-5 0h10m-8.5 -41.3h10m-5 0v26.7m-5 0h10m-8.4 -14.3h10m-5 0v24.7m-5 0h10m-8.4 -28.6h10m-5 0v27m-5 0h10m-8.4 -33.7h10m-5 0v26.9m-5 0h10m-8.4 -21.9h10m-5 0v29.3m-5 0h10m-8.4 -18.1h10m-5 0v24.6m-5 0h10m-8.4 -35.5h10m-5 0v27.1m-5 0h10m-8.4 -16.2h10m-5 0v22.4m-5 0h10m-8.5 -30.7h10m-5 0v28.1m-5 0h10m-8.4 -28.3h10m-5 0v22.5m-5 0h10m-8.4 -28.8h10m-5 0v23.6m-5 0h10m-8.4 -26.1h10m-5 0v25.9m-5 0h10m-8.4 -23h10m-5 0v21.9m-5 0h10m-8.4 -16.5h10m-5 0v28.3m-5 0h10m-8.4 -26.2h10m-5 0v23m-5 0h10m-8.5 -29.4h10m-5 0v26.7m-5 0h10m-8.4 -25.5h10m-5 0v22.3m-5 0h10m-8.4 -22.2h10m-5 0v27.7m-5 0h10m-8.4 -27.2h10m-5 0v23.1m-5 0h10m-8.4 -21.1h10m-5 0v28.3m-5 0h10m-8.4 -29.2h10m-5 0v23.3m-5 0h10m-8.4 -19.7h10m-5 0v25.7m-5 0h10m-8.5 -34.1h10m-5 0v25m-5 0h10m-8.4 -22.6h10m-5 0v29.6m-5 0h10m-8.4 -36.2h10m-5 0v26m-5 0h10m-8.4 -16.3h10m-5 0v23.2m-5 0h10m-8.4 -23.2h10m-5 0v26.3m-5 0h10m-8.4 -26.9h10m-5 0v26.8m-5 0h10m-8.4 -28.5h10m-5 0v25.7m-5 0h10m-8.4 -21.7h10m-5 0v23.7m-5 0h10m-8.5 -16.9h10m-5 0v22.7m-5 0h10m-8.4 -28.4h10m-5 0v26.3m-5 0h10m-8.4 -30h10m-5 0v27.1m-5 0h10m-8.4 -30.9h10m-5 0v22.9m-5 0h10m-8.4 -28.2h10m-5 0v27.5m-5 0h10m-8.4 -26.3h10m-5 0v22.8m-5 0h10m-8.4 -21.1h10m-5 0v27.1m-5 0h10m-8.5 -25.7h10m-5 0v24.7m-5 0h10m-8.4 -16.2h10m-5 0v22.8m-5 0h10m-8.4 -38.4h10m-5 0v27.6m-5 0h10m-8.4 -12.1h10m-5 0v23.5m-5 0h10m-8.4 -24.6h10m-5 0v24.6m-5 0h10m-8.4 -29.1h10m-5 0v24.2m-5 0h10m-8.4 -23.7h10m-5 0v25.1m-5 0h10m-8.5 -22.4h10m-5 0v26.6m-5 0h10m-8.4 -29.4h10m-5 0v23.9m-5 0h10m-8.4 -28.9h10m-5 0v29.5m-5 0h10m-8.4 -24.8h10m-5 0v23.2m-5 0h10m-8.4 -9.8h10m-5 0v24.2m-5 0h10m-8.4 -34.3h10m-5 0v26.9m-5 0h10m-8.4 -19.3h10m-5 0v27.8m-5 0h10m-8.5 -30.3h10m-5 0v23.6m-5 0h10m-8.4 -35.7h10m-5 0v30m-5 0h10m-8.4 -23h10m-5 0v25.9m-5 0h10m-8.4 -14h10m-5 0v30m-5 0h10m-8.4 -37h10m-5 0v27.2m-5 0h10m-8.4 -37.8h10m-5 0v23.5m-5 0h10m-8.4 -16h10m-5 0v27.4m-5 0h10m-8.4 -21.2h10m-5 0v27.4m-5 0h10m-8.5 -38.5h10m-5 0v30.9m-5 0h10m-8.4 -26.6h10m-5 0v27.6m-5 0h10m-8.4 -27.8h10m-5 0v28.4m-5 0h10m-8.4 -40h10m-5 0v27.2m-5 0h10m-8.4 -28.6h10m-5 0v25.2m-5 0h10m-8.4 -6.4h10m-5 0v27.5m-5 0h10m-8.4 -27.6h10m-5 0v29.1m-5 0h10m-8.5 -32h10m-5 0v29.2m-5 0h10m-8.4 -19h10m-5 0v30.8m-5 0h10m-8.4 -37h10m-5 0v27.2m-5 0h10m-8.4 -18.8h10m-5 0v25.6m-5 0h10m-8.4 -27.3h10m-5 0v25.5m-5 0h10m-8.4 -21.2h10m-5 0v29.9m-5 0h10m-8.4 -52.4h10m-5 0v31.3m-5 0h10m-8.5 -7.5h10m-5 0v26.1m-5 0h10m-8.4 -27.1h10m-5 0v27.6m-5 0h10m-8.4 -39.9h10m-5 0v31.2m-5 0h10m-8.4 -20.6h10m-5 0v28.3m-5 0h10m-8.4 -37.7h10m-5 0v27.9m-5 0h10m-359 9.8h10m-5 0v27.5m-5 0h10m-8.4 -16.7h10m-5 0v24.9m-5 0h10m-8.4 -34.3h10m-5 0v26.1m-5 0h10m-8.4 -25.5h10m-5 0v23.4m-5 0h10m-8.4 -23.7h10m-5 0v27.8m-5 0h10m-8.5 -30.6h10m-5 0v28.5m-5 0h10m-8.4 -27.6h10m-5 0v22.1m-5 0h10m-8.4 -21.3h10m-5 0v25.9m-5 0h10m-8.4 -27.3h10m-5 0v26.8m-5 0h10m-8.4 -27.3h10m-5 0v22.9m-5 0h10m-8.4 -24.3h10m-5 0v21.5m-5 0h10m-8.4 -17.8h10m-5 0v23.8m-5 0h10m-8.4 -24.2h10m-5 0v24.3m-5 0h10m-8.5 -25.3h10m-5 0v26.8m-5 0h10m-8.4 -28.9h10m-5 0v23.7m-5 0h10m-8.4 -19.2h10m-5 0v25.7m-5 0h10m-8.4 -24.3h10m-5 0v24.9m-5 0h10m-8.4 -26.3h10m-5 0v22.6m-5 0h10m-8.4 -25.3h10m-5 0v28.3m-5 0h10m-8.4 -27.9h10m-5 0v24.5m-5 0h10m-8.5 -28.6h10m-5 0v21.2m-5 0h10m-8.4 -24h10m-5 0v25.3m-5 0h10m-8.4 -20.9h10m-5 0v24.6m-5 0h10m-8.4 -26.4h10m-5 0v24.6m-5 0h10m-8.4 -24.8h10m-5 0v23.5m-5 0h10m-8.4 -17.3h10m-5 0v25.6m-5 0h10m-8.4 -22.4h10m-5 0v21.7m-5 0h10m-8.5 -27.5h10m-5 0v21.5m-5 0h10m-8.4 -16.4h10m-5 0v22.8m-5 0h10m-8.4 -29.7h10m-5 0v28m-5 0h10m-8.4 -28.6h10m-5 0v28.6m-5 0h10m-8.4 -26.9h10m-5 0v28.8m-5 0h10m-8.4 -25.1h10m-5 0v22.7m-5 0h10m-8.4 -30.5h10m-5 0v27.2m-5 0h10m-8.5 -29.1h10m-5 0v25.9m-5 0h10m-8.4 -17.4h10m-5 0v22.3m-5 0h10m-8.4 -28.6h10m-5 0v26.5m-5 0h10m-8.4 -24.9h10m-5 0v21.4m-5 0h10m-8.4 -21.9h10m-5 0v26.9m-5 0h10m-8.4 -23.8h10m-5 0v27.3m-5 0h10m-8.4 -25.8h10m-5 0v21.8m-5 0h10m-8.4 -20.5h10m-5 0v22.6m-5 0h10m-8.5 -30.1h10m-5 0v25.3m-5 0h10m-8.4 -21.6h10m-5 0v25.5m-5 0h10m-8.4 -26h10m-5 0v21.2m-5 0h10m-8.4 -19.8h10m-5 0v21.5m-5 0h10m-8.4 -20.3h10m-5 0v23.9m-5 0h10m-8.4 -26.9h10m-5 0v27.8m-5 0h10m-8.4 -28.5h10m-5 0v22.2m-5 0h10m-8.5 -19.6h10m-5 0v23m-5 0h10m-8.4 -29.9h10m-5 0v21.7m-5 0h10m-8.4 -19.5h10m-5 0v22.4m-5 0h10m-8.4 -21.6h10m-5 0v28.3m-5 0h10m-8.4 -26.4h10m-5 0v24.8m-5 0h10m-8.4 -29h10m-5 0v22.7m-5 0h10m-8.4 -23h10m-5 0v27.8m-5 0h10m-8.5 -18.4h10m-5 0v23.3m-5 0h10m-8.4 -30.7h10m-5 0v26.3m-5 0h10m-8.4 -30.8h10m-5 0v26.5m-5 0h10m-8.4 -23.1h10m-5 0v27.2m-5 0h10m-8.4 -21.7h10m-5 0v23.3m-5 0h10m-8.4 -28.3h10m-5 0v22.7m-5 0h10m-8.4 -25.6h10m-5 0v27.8m-5 0h10m-8.5 -22.8h10m-5 0v27.5m-5 0h10m-8.4 -29.6h10m-5 0v24.6m-5 0h10m-8.4 -18.9h10m-5 0v25.8m-5 0h10m-8.4 -34.7h10m-5 0v25.8m-5 0h10m-8.4 -18.6h10m-5 0v22.1m-5 0h10m-8.4 -18.9h10m-5 0v28.6m-5 0h10m-8.4 -29.6h10m-5 0v24.5m-5 0h10m-8.4 -23.8h10m-5 0v24.6m-5 0h10m-8.5 -22.5h10m-5 0v24.3m-5 0h10m-8.4 -30.4h10m-5 0v21.6m-5 0h10m-8.4 -22.8h10m-5 0v24.3m-5 0h10m-8.4 -25.6h10m-5 0v25.8m-5 0h10m-8.4 -29.4h10m-5 0v28.1m-5 0h10m-8.4 -20.1h10m-5 0v23.1m-5 0h10m-8.4 -23h10m-5 0v23.7m-5 0h10m-8.5 -28.6h10m-5 0v27.4m-5 0h10m-8.4 -25.2h10m-5 0v25.8m-5 0h10m-8.4 -24.4h10m-5 0v24.8m-5 0h10m-8.4 -24.8h10m-5 0v25.7m-5 0h10m-8.4 -29.3h10m-5 0v27.7m-5 0h10m-8.4 -24.4h10m-5 0v24.5m-5 0h10m-8.4 -23.1h10m-5 0v22.7m-5 0h10m-8.5 -22.2h10m-5 0v23.2m-5 0h10m-8.4 -30.6h10m-5 0v24.2m-5 0h10m-8.4 -25.9h10m-5 0v22.2m-5 0h10m-8.4 -18.5h10m-5 0v24.1m-5 0h10m-8.4 -29.9h10m-5 0v28.3m-5 0h10m-8.4 -22.5h10m-5 0v22.6m-5 0h10m-8.4 -21.6h10m-5 0v26.4m-5 0h10m-8.4 -29.9h10m-5 0v23.9m-5 0h10m-8.5 -19.3h10m-5 0v21.7m-5 0h10m-8.4 -23.4h10m-5 0v24.7m-5 0h10m-8.4 -25.8h10m-5 0v23.4m-5 0h10m-8.4 -23.2h10m-5 0v23m-5 0h10m-8.4 -22.7h10m-5 0v25.6m-5 0h10m-8.4 -26.7h10m-5 0v21.9m-5 0h10m-8.4 -23.8h10m-5 0v26.5m-5 0h10m-8.5 -27.6h10m-5 0v25.5m-5 0h10m-8.4 -22.1h10m-5 0v21.3m-5 0h10m-8.4 -22.8h10m-5 0v25.2m-5 0h10m-8.4 -21h10m-5 0v26m-5 0h10m-8.4 -18.7h10m-5 0v21.6m-5 0h10m-8.4 -26.5h10m-5 0v27.4m-5 0h10m-8.4 -33.1h10m-5 0v28.7m-5 0h10m-8.5 -33.5h10m-5 0v27.2m-5 0h10m-8.4 -22.5h10m-5 0v27.5m-5 0h10m-8.4 -29.9h10m-5 0v27.5m-5 0h10m-8.4 -24.5h10m-5 0v27.4m-5 0h10m-8.4 -25.5h10m-5 0v22.1m-5 0h10m-8.4 -19.7h10m-5 0v25.9m-5 0h10m-8.4 -25.6h10m-5 0v22.4m-5 0h10m-8.5 -20.9h10m-5 0v24.7m-5 0h10m-8.4 -29.3h10m-5 0v28.3m-5 0h10m-8.4 -21.7h10m-5 0v22.8m-5 0h10m-8.4 -28.8h10m-5 0v25.2m-5 0h10m-8.4 -23.6h10m-5 0v21.8m-5 0h10m-8.4 -26.6h10m-5 0v27.8m-5 0h10m-8.4 -25h10m-5 0v25.2m-5 0h10m-8.4 -26.2h10m-5 0v22.4m-5 0h10m-8.5 -22.6h10m-5 0v25.7m-5 0h10m-8.4 -23.2h10m-5 0v25.1m-5 0h10m-8.4 -25.5h10m-5 0v21.9m-5 0h10m-8.4 -19.9h10m-5 0v27.4m-5 0h10m-8.4 -32.7h10m-5 0v26.6m-5 0h10m-8.4 -14.4h10m-5 0v21.6m-5 0h10m-8.4 -27.9h10m-5 0v24.9m-5 0h10m-8.5 -25.1h10m-5 0v21.4m-5 0h10m-8.4 -21.4h10m-5 0v26.4m-5 0h10m-8.4 -27.2h10m-5 0v22.2m-5 0h10m-8.4 -23.2h10m-5 0v28m-5 0h10m-8.4 -32.2h10m-5 0v27.5m-5 0h10m-8.4 -27.3h10m-5 0v24.9m-5 0h10m-8.4 -19.6h10m-5 0v27.1m-5 0h10m-8.5 -23.9h10m-5 0v23.7m-5 0h10m-8.4 -28.9h10m-5 0v24.8m-5 0h10m-8.4 -22h10m-5 0v27.1m-5 0h10m-8.4 -29.4h10m-5 0v22.8m-5 0h10m-8.4 -26.5h10m-5 0v27m-5 0h10m-8.4 -20.9h10m-5 0v27.6m-5 0h10m-8.4 -33.3h10m-5 0v28.1m-5 0h10m-8.5 -23.1h10m-5 0v22.9m-5 0h10m-8.4 -26.4h10m-5 0v26.9m-5 0h10m-8.4 -20.4h10m-5 0v25.1m-5 0h10m-8.4 -27.8h10m-5 0v23.8m-5 0h10m-8.4 -20.7h10m-5 0v22.6m-5 0h10m-8.4 -18.5h10m-5 0v27.9m-5 0h10m-8.4 -30.6h10m-5 0v28m-5 0h10m-8.4 -34.3h10m-5 0v28.5m-5 0h10m-8.5 -26.1h10m-5 0v28.8m-5 0h10m-8.4 -27.2h10m-5 0v22.9m-5 0h10m-8.4 -25.7h10m-5 0v27.6m-5 0h10m-8.4 -24h10m-5 0v27.8m-5 0h10m-8.4 -20.2h10m-5 0v22.1m-5 0h10m-8.4 -31.9h10m-5 0v27.3m-5 0h10m-8.4 -22.6h10m-5 0v26m-5 0h10m-8.5 -26.7h10m-5 0v29.2m-5 0h10m-8.4 -35.8h10m-5 0v24.3m-5 0h10m-8.4 -30.2h10m-5 0v29.5m-5 0h10m-8.4 -22.7h10m-5 0v24.5m-5 0h10m-8.4 -19.3h10m-5 0v23.6m-5 0h10m-8.4 -18.9h10m-5 0v25.6m-5 0h10m-8.4 -32.9h10m-5 0v23m-5 0h10m-8.5 -25.4h10m-5 0v23.6m-5 0h10m-8.4 -17.1h10m-5 0v27.2m-5 0h10m-8.4 -31.5h10m-5 0v28.2m-5 0h10m-8.4 -20.5h10m-5 0v25.7m-5 0h10m-8.4 -30.8h10m-5 0v29.4m-5 0h10m-8.4 -34.4h10m-5 0v24.3m-5 0h10m-8.4 -24.4h10m-5 0v23.5m-5 0h10m-8.4 -22h10m-5 0v28.5m-5 0h10m-8.5 -28.4h10m-5 0v29.9m-5 0h10m-8.4 -31.8h10m-5 0v26.2m-5 0h10m-8.4 -25.1h10m-5 0v24.1m-5 0h10m-8.4 -22.5h10m-5 0v23.2m-5 0h10m-8.4 -27.6h10m-5 0v27.8m-5 0h10m-8.4 -34.3h10m-5 0v29.4m-5 0h10m-8.4 -19.6h10m-5 0v23.7m-5 0h10m-8.5 -32h10m-5 0v23.5m-5 0h10m-8.4 -20.2h10m-5 0v27.1m-5 0h10m-8.4 -28.3h10m-5 0v27.6m-5 0h10m-8.4 -18.1h10m-5 0v28.5m-5 0h10m-8.4 -33.1h10m-5 0v30.2m-5 0h10m-8.4 -32.1h10m-5 0v26.7m-5 0h10m-8.4 -22h10m-5 0v23m-5 0h10m-8.5 -35.2h10m-5 0v26.8m-5 0h10m-8.4 -28.1h10m-5 0v28.1m-5 0h10m-8.4 -27.6h10m-5 0v26.5m-5 0h10m-8.4 -17.3h10m-5 0v23.4m-5 0h10m-8.4 -18.9h10m-5 0v29.2m-5 0h10m-8.4 -21.5h10m-5 0v28.8m-5 0h10m-8.4 -39.9h10m-5 0v23.3m-5 0h10m-8.5 -16.8h10m-5 0v25.1m-5 0h10m-8.4 -21h10m-5 0v28.8m-5 0h10m-8.4 -34.8h10m-5 0v25m-5 0h10m-8.4 -39.2h10m-5 0v30m-5 0h10m-8.4 -20.4h10m-5 0v28.6m-5 0h10m-8.4 -28.4h10m-5 0v30.7m-5 0h10m-8.4 -33.5h10m-5 0v25.2m-5 0h10m-8.4 -20.7h10m-5 0v23.9m-5 0h10m-8.5 -25h10m-5 0v30.8m-5 0h10m-8.4 -36.6h10m-5 0v29.2m-5 0h10m-8.4 -19h10m-5 0v29.3m-5 0h10m-8.4 -22.8h10m-5 0v23.6m-5 0h10m-8.4 -34.6h10m-5 0v29.3m-5 0h10m-8.4 -43.3h10m-5 0v26.8m-5 0h10m-8.4 -25.8h10m-5 0v31m-5 0h10m-8.5 -11.2h10m-5 0v26.2m-5 0h10m-8.4 -40.8h10m-5 0v24.7m-5 0h10m-8.4 -11.6h10m-5 0v30.1m-5 0h10m-8.4 -39h10m-5 0v27.7m-5 0h10m-8.4 -29.5h10m-5 0v25.5m-5 0h10m-8.4 -18.5h10m-5 0v31m-5 0h10m-8.4 -34h10m-5 0v24.1m-5 0h10m-8.5 -14.2h10m-5 0v29.4m-5 0h10m-8.4 -49h10m-5 0v28.5m-5 0h10m-8.4 -31.2h10m-5 0v25.7m-5 0h10m-8.4 -18.3h10m-5 0v24.2m-5 0h10m-8.4 -16.1h10m-5 0v31.4m-5 0h10m-359 6h10m-5 0v26m-5 0h10m-8.4 -18.1h10m-5 0v27.6m-5 0h10m-8.4 -33.8h10m-5 0v27.9m-5 0h10m-8.4 -27.1h10m-5 0v22.9m-5 0h10m-8.4 -13.2h10m-5 0v21.7m-5 0h10m-8.5 -21h10m-5 0v24.4m-5 0h10m-8.4 -30.4h10m-5 0v23m-5 0h10m-8.4 -21.9h10m-5 0v24m-5 0h10m-8.4 -24.5h10m-5 0v26.2m-5 0h10m-8.4 -30.7h10m-5 0v24.9m-5 0h10m-8.4 -22.3h10m-5 0v23.8m-5 0h10m-8.4 -25.9h10m-5 0v23.2m-5 0h10m-8.4 -19.8h10m-5 0v22.5m-5 0h10m-8.5 -21.8h10m-5 0v22.8m-5 0h10m-8.4 -27h10m-5 0v27.2m-5 0h10m-8.4 -22.8h10m-5 0v22.9m-5 0h10m-8.4 -31.4h10m-5 0v27.7m-5 0h10m-8.4 -21.7h10m-5 0v22.3m-5 0h10m-8.4 -22.5h10m-5 0v25.5m-5 0h10m-8.4 -22.5h10m-5 0v21.8m-5 0h10m-8.5 -18.9h10m-5 0v22.6m-5 0h10m-8.4 -30.6h10m-5 0v27.3m-5 0h10m-8.4 -22.7h10m-5 0v27.1m-5 0h10m-8.4 -27.1h10m-5 0v26.1m-5 0h10m-8.4 -25.7h10m-5 0v24.6m-5 0h10m-8.4 -29.1h10m-5 0v28.5m-5 0h10m-8.4 -23.9h10m-5 0v26.3m-5 0h10m-8.5 -22.5h10m-5 0v25.7m-5 0h10m-8.4 -25.2h10m-5 0v24.4m-5 0h10m-8.4 -26.6h10m-5 0v22.6m-5 0h10m-8.4 -25h10m-5 0v27.8m-5 0h10m-8.4 -34.7h10m-5 0v25.4m-5 0h10m-8.4 -20.6h10m-5 0v24m-5 0h10m-8.4 -24.6h10m-5 0v25.4m-5 0h10m-8.5 -25.7h10m-5 0v21.6m-5 0h10m-8.4 -23.3h10m-5 0v21.4m-5 0h10m-8.4 -23.1h10m-5 0v23.4m-5 0h10m-8.4 -20.1h10m-5 0v28.8m-5 0h10m-8.4 -31.8h10m-5 0v23.7m-5 0h10m-8.4 -24.8h10m-5 0v26.7m-5 0h10m-8.4 -21.3h10m-5 0v23.2m-5 0h10m-8.4 -24.7h10m-5 0v26.6m-5 0h10m-8.5 -24.1h10m-5 0v22m-5 0h10m-8.4 -12.6h10m-5 0v21.3m-5 0h10m-8.4 -33.6h10m-5 0v24.3m-5 0h10m-8.4 -24h10m-5 0v27m-5 0h10m-8.4 -23.2h10m-5 0v23.3m-5 0h10m-8.4 -24.8h10m-5 0v24.1m-5 0h10m-8.4 -25.4h10m-5 0v26.1m-5 0h10m-8.5 -24.5h10m-5 0v26.4m-5 0h10m-8.4 -21.6h10m-5 0v22.4m-5 0h10m-8.4 -26.6h10m-5 0v28.9m-5 0h10m-8.4 -24.6h10m-5 0v21.9m-5 0h10m-8.4 -31.7h10m-5 0v27.5m-5 0h10m-8.4 -23h10m-5 0v28.6m-5 0h10m-8.4 -32.1h10m-5 0v23.7m-5 0h10m-8.5 -22.4h10m-5 0v26.3m-5 0h10m-8.4 -24.9h10m-5 0v26.8m-5 0h10m-8.4 -29.6h10m-5 0v26.4m-5 0h10m-8.4 -25.4h10m-5 0v21.6m-5 0h10m-8.4 -28h10m-5 0v26.4m-5 0h10m-8.4 -27h10m-5 0v23.6m-5 0h10m-8.4 -17.3h10m-5 0v24m-5 0h10m-8.5 -25.2h10m-5 0v27.8m-5 0h10m-8.4 -32.3h10m-5 0v25.7m-5 0h10m-8.4 -21.7h10m-5 0v23.8m-5 0h10m-8.4 -23.2h10m-5 0v24m-5 0h10m-8.4 -22.8h10m-5 0v22.9m-5 0h10m-8.4 -21.9h10m-5 0v22.4m-5 0h10m-8.4 -25.8h10m-5 0v23m-5 0h10m-8.4 -21h10m-5 0v24.2m-5 0h10m-8.5 -26.5h10m-5 0v24.1m-5 0h10m-8.4 -26.7h10m-5 0v25.1m-5 0h10m-8.4 -21.6h10m-5 0v28.2m-5 0h10m-8.4 -24.5h10m-5 0v21.5m-5 0h10m-8.4 -22.9h10m-5 0v22m-5 0h10m-8.4 -18.2h10m-5 0v25.2m-5 0h10m-8.4 -31.8h10m-5 0v28.7m-5 0h10m-8.5 -23.4h10m-5 0v21.8m-5 0h10m-8.4 -22h10m-5 0v26.1m-5 0h10m-8.4 -29.4h10m-5 0v28.6m-5 0h10m-8.4 -32h10m-5 0v22.9m-5 0h10m-8.4 -20.6h10m-5 0v27.7m-5 0h10m-8.4 -27.8h10m-5 0v24.6m-5 0h10m-8.4 -25h10m-5 0v23.9m-5 0h10m-8.5 -23.3h10m-5 0v24.5m-5 0h10m-8.4 -16.5h10m-5 0v26.4m-5 0h10m-8.4 -33.2h10m-5 0v28.7m-5 0h10m-8.4 -27.9h10m-5 0v28.2m-5 0h10m-8.4 -28.7h10m-5 0v25.3m-5 0h10m-8.4 -27.6h10m-5 0v28.6m-5 0h10m-8.4 -20.2h10m-5 0v24.2m-5 0h10m-8.4 -29.2h10m-5 0v25m-5 0h10m-8.5 -21.6h10m-5 0v22.6m-5 0h10m-8.4 -32.2h10m-5 0v28.7m-5 0h10m-8.4 -27.6h10m-5 0v25m-5 0h10m-8.4 -19h10m-5 0v27.2m-5 0h10m-8.4 -28.4h10m-5 0v23.4m-5 0h10m-8.4 -18.1h10m-5 0v21.5m-5 0h10m-8.4 -20.4h10m-5 0v22.3m-5 0h10m-8.5 -36.5h10m-5 0v28.4m-5 0h10m-8.4 -19.9h10m-5 0v23.2m-5 0h10m-8.4 -30.5h10m-5 0v25.4m-5 0h10m-8.4 -26.2h10m-5 0v28.4m-5 0h10m-8.4 -18.2h10m-5 0v21.3m-5 0h10m-8.4 -26.3h10m-5 0v24m-5 0h10m-8.4 -23.1h10m-5 0v27.6m-5 0h10m-8.5 -31.9h10m-5 0v27.1m-5 0h10m-8.4 -22.6h10m-5 0v22m-5 0h10m-8.4 -20.5h10m-5 0v21.8m-5 0h10m-8.4 -21.4h10m-5 0v21.2m-5 0h10m-8.4 -21.5h10m-5 0v25.1m-5 0h10m-8.4 -28.9h10m-5 0v24.9m-5 0h10m-8.4 -18h10m-5 0v25.5m-5 0h10m-8.5 -26.1h10m-5 0v27.5m-5 0h10m-8.4 -31.7h10m-5 0v27.3m-5 0h10m-8.4 -21.9h10m-5 0v25.6m-5 0h10m-8.4 -28.1h10m-5 0v21.9m-5 0h10m-8.4 -24.2h10m-5 0v26.7m-5 0h10m-8.4 -25.4h10m-5 0v23.2m-5 0h10m-8.4 -27.8h10m-5 0v27.5m-5 0h10m-8.4 -19.4h10m-5 0v21.6m-5 0h10m-8.5 -22.1h10m-5 0v22.2m-5 0h10m-8.4 -25.9h10m-5 0v25m-5 0h10m-8.4 -28.6h10m-5 0v22.9m-5 0h10m-8.4 -22.3h10m-5 0v26.2m-5 0h10m-8.4 -24.9h10m-5 0v25.4m-5 0h10m-8.4 -25.8h10m-5 0v28.5m-5 0h10m-8.4 -29.1h10m-5 0v24m-5 0h10m-8.5 -23.9h10m-5 0v23.6m-5 0h10m-8.4 -24.7h10m-5 0v24.6m-5 0h10m-8.4 -27.3h10m-5 0v28.9m-5 0h10m-8.4 -21.3h10m-5 0v28.6m-5 0h10m-8.4 -32.6h10m-5 0v24.5m-5 0h10m-8.4 -26.7h10m-5 0v22.7m-5 0h10m-8.4 -20.9h10m-5 0v24.2m-5 0h10m-8.5 -23.6h10m-5 0v28.8m-5 0h10m-8.4 -32.3h10m-5 0v25m-5 0h10m-8.4 -13.6h10m-5 0v24.1m-5 0h10m-8.4 -34.3h10m-5 0v28.9m-5 0h10m-8.4 -29.9h10m-5 0v29.2m-5 0h10m-8.4 -19.9h10m-5 0v22.4m-5 0h10m-8.4 -25.7h10m-5 0v27.4m-5 0h10m-8.5 -30.7h10m-5 0v27.3m-5 0h10m-8.4 -18.6h10m-5 0v22.5m-5 0h10m-8.4 -31.9h10m-5 0v27.4m-5 0h10m-8.4 -21.8h10m-5 0v28m-5 0h10m-8.4 -34.9h10m-5 0v24.6m-5 0h10m-8.4 -12.2h10m-5 0v27.4m-5 0h10m-8.4 -33.6h10m-5 0v22.1m-5 0h10m-8.4 -25h10m-5 0v28.2m-5 0h10m-8.5 -28.5h10m-5 0v26m-5 0h10m-8.4 -25.7h10m-5 0v27.3m-5 0h10m-8.4 -22.6h10m-5 0v22.1m-5 0h10m-8.4 -21h10m-5 0v28.7m-5 0h10m-8.4 -37.1h10m-5 0v28.3m-5 0h10m-8.4 -21.2h10m-5 0v25m-5 0h10m-8.4 -30h10m-5 0v25m-5 0h10m-8.5 -15.3h10m-5 0v22.7m-5 0h10m-8.4 -29.2h10m-5 0v28.6m-5 0h10m-8.4 -33.2h10m-5 0v29.6m-5 0h10m-8.4 -28.7h10m-5 0v22.2m-5 0h10m-8.4 -17.1h10m-5 0v26.8m-5 0h10m-8.4 -23.3h10m-5 0v26.4m-5 0h10m-8.4 -30.5h10m-5 0v27.9m-5 0h10m-8.5 -29.9h10m-5 0v27.2m-5 0h10m-8.4 -36.1h10m-5 0v27.9m-5 0h10m-8.4 -18.9h10m-5 0v28.2m-5 0h10m-8.4 -20.9h10m-5 0v25m-5 0h10m-8.4 -32.9h10m-5 0v28.3m-5 0h10m-8.4 -26.1h10m-5 0v24.5m-5 0h10m-8.4 -22.6h10m-5 0v27.7m-5 0h10m-8.4 -40.9h10m-5 0v25m-5 0h10m-8.5 -14h10m-5 0v22.6m-5 0h10m-8.4 -29.9h10m-5 0v26m-5 0h10m-8.4 -24.7h10m-5 0v22.8m-5 0h10m-8.4 -12.8h10m-5 0v23.4m-5 0h10m-8.4 -28.6h10m-5 0v26.7m-5 0h10m-8.4 -27.3h10m-5 0v26.9m-5 0h10m-8.4 -24.2h10m-5 0v28.4m-5 0h10m-8.5 -24.1h10m-5 0v28m-5 0h10m-8.4 -31.6h10m-5 0v25.9m-5 0h10m-8.4 -28.2h10m-5 0v30.2m-5 0h10m-8.4 -33.1h10m-5 0v30.5m-5 0h10m-8.4 -15.7h10m-5 0v24.4m-5 0h10m-8.4 -39.3h10m-5 0v28.3m-5 0h10m-8.4 -30h10m-5 0v25.3m-5 0h10m-8.5 -16.7h10m-5 0v26.9m-5 0h10m-8.4 -31.3h10m-5 0v27.7m-5 0h10m-8.4 -40.1h10m-5 0v26.2m-5 0h10m-8.4 -20.9h10m-5 0v25.3m-5 0h10m-8.4 -8.6h10m-5 0v29.1m-5 0h10m-8.4 -49.4h10m-5 0v29.5m-5 0h10m-8.4 -32h10m-5 0v23.4m-5 0h10m-8.5 -19.8h10m-5 0v29.7m-5 0h10m-8.4 -27.8h10m-5 0v23.7m-5 0h10m-8.4 -21.7h10m-5 0v28.3m-5 0h10m-8.4 -28h10m-5 0v24.5m-5 0h10m-8.4 -19.3h10m-5 0v24.6m-5 0h10m-8.4 -37.1h10m-5 0v31.1m-5 0h10m-8.4 -30.7h10m-5 0v24.9m-5 0h10m-8.4 -27.4h10m-5 0v28.2m-5 0h10m-8.5 -23.4h10m-5 0v23.6m-5 0h10m-8.4 -13.6h10m-5 0v23.8m-5 0h10m-8.4 -24.9h10m-5 0v27.7m-5 0h10m-8.4 -31.4h10m-5 0v29.1m-5 0h10m-8.4 -31.9h10m-5 0v27.2m-5 0h10m-8.4 -25.5h10m-5 0v29m-5 0h10m-8.4 -31.2h10m-5 0v29.9m-5 0h10m-8.5 -18.7h10m-5 0v29.9m-5 0h10m-8.4 -40.2h10m-5 0v24.3m-5 0h10m-8.4 -18.8h10m-5 0v30.5m-5 0h10m-8.4 -34.4h10m-5 0v26.9m-5 0h10m-8.4 -32.6h10m-5 0v29.5m-5 0h10m-8.4 -34.1h10m-5 0v30.2m-5 0h10m-8.4 -22.8h10m-5 0v31.3m-5 0h10m-8.5 -33.5h10m-5 0v28.2m-5 0h10m-8.4 -34.2h10m-5 0v27.9m-5 0h10m-8.4 -24.7h10m-5 0v30.4m-5 0h10m-8.4 -19.9h10m-5 0v29.2m-5 0h10m-8.4 -42.9h10m-5 0v25.8m-5 0h10m-359 38.8h10m-5 0v26.5m-5 0h10m-8.4 -22.5h10m-5 0v27.7m-5 0h10m-8.4 -29.7h10m-5 0v26.3m-5 0h10m-8.4 -29h10m-5 0v23.4m-5 0h10m-8.4 -19.1h10m-5 0v27m-5 0h10m-8.5 -34.7h10m-5 0v28.4m-5 0h10m-8.4 -21.4h10m-5 0v22.8m-5 0h10m-8.4 -21.4h10m-5 0v22.2m-5 0h10m-8.4 -24.1h10m-5 0v26.5m-5 0h10m-8.4 -23.3h10m-5 0v21.2m-5 0h10m-8.4 -22.7h10m-5 0v23.5m-5 0h10m-8.4 -28.6h10m-5 0v24.3m-5 0h10m-8.4 -21.7h10m-5 0v22.1m-5 0h10m-8.5 -19.9h10m-5 0v21.3m-5 0h10m-8.4 -21h10m-5 0v21.3m-5 0h10m-8.4 -26.8h10m-5 0v24.5m-5 0h10m-8.4 -26.1h10m-5 0v25.4m-5 0h10m-8.4 -30h10m-5 0v24.1m-5 0h10m-8.4 -12.1h10m-5 0v23.5m-5 0h10m-8.4 -29.8h10m-5 0v22.3m-5 0h10m-8.5 -14.8h10m-5 0v27.7m-5 0h10m-8.4 -30.9h10m-5 0v25.8m-5 0h10m-8.4 -27h10m-5 0v25.9m-5 0h10m-8.4 -19.7h10m-5 0v21.5m-5 0h10m-8.4 -26.8h10m-5 0v24.6m-5 0h10m-8.4 -24.1h10m-5 0v21.3m-5 0h10m-8.4 -23.4h10m-5 0v23.3m-5 0h10m-8.5 -23.6h10m-5 0v24.9m-5 0h10m-8.4 -25.1h10m-5 0v23.6m-5 0h10m-8.4 -25.6h10m-5 0v24m-5 0h10m-8.4 -20.8h10m-5 0v28.2m-5 0h10m-8.4 -27.7h10m-5 0v26.2m-5 0h10m-8.4 -25.8h10m-5 0v24.1m-5 0h10m-8.4 -18.7h10m-5 0v22.4m-5 0h10m-8.5 -26.1h10m-5 0v22.9m-5 0h10m-8.4 -24h10m-5 0v27.1m-5 0h10m-8.4 -32.3h10m-5 0v21.8m-5 0h10m-8.4 -26.3h10m-5 0v27.7m-5 0h10m-8.4 -24.1h10m-5 0v26.3m-5 0h10m-8.4 -26.4h10m-5 0v28.5m-5 0h10m-8.4 -24.5h10m-5 0v26.3m-5 0h10m-8.4 -33.9h10m-5 0v26.1m-5 0h10m-8.5 -20.1h10m-5 0v23.6m-5 0h10m-8.4 -19.7h10m-5 0v21.7m-5 0h10m-8.4 -26.7h10m-5 0v27.1m-5 0h10m-8.4 -24.6h10m-5 0v24.9m-5 0h10m-8.4 -28.4h10m-5 0v27.6m-5 0h10m-8.4 -22.7h10m-5 0v21.5m-5 0h10m-8.4 -22.4h10m-5 0v22.8m-5 0h10m-8.5 -25.2h10m-5 0v23.5m-5 0h10m-8.4 -18.8h10m-5 0v23.8m-5 0h10m-8.4 -26.4h10m-5 0v24.7m-5 0h10m-8.4 -27.1h10m-5 0v27m-5 0h10m-8.4 -28.3h10m-5 0v26.9m-5 0h10m-8.4 -29h10m-5 0v24.3m-5 0h10m-8.4 -21.7h10m-5 0v26.4m-5 0h10m-8.5 -24.4h10m-5 0v26.8m-5 0h10m-8.4 -32.7h10m-5 0v22.2m-5 0h10m-8.4 -17.4h10m-5 0v26.8m-5 0h10m-8.4 -31.8h10m-5 0v22.9m-5 0h10m-8.4 -18.2h10m-5 0v27.7m-5 0h10m-8.4 -34.3h10m-5 0v25.3m-5 0h10m-8.4 -18.6h10m-5 0v23.3m-5 0h10m-8.5 -19.3h10m-5 0v21.6m-5 0h10m-8.4 -26h10m-5 0v24.6m-5 0h10m-8.4 -21h10m-5 0v21.5m-5 0h10m-8.4 -25.5h10m-5 0v27.4m-5 0h10m-8.4 -26.9h10m-5 0v25m-5 0h10m-8.4 -28.5h10m-5 0v27.6m-5 0h10m-8.4 -25.1h10m-5 0v25.5m-5 0h10m-8.4 -29.2h10m-5 0v26.5m-5 0h10m-8.5 -21.4h10m-5 0v23.7m-5 0h10m-8.4 -21.9h10m-5 0v23.4m-5 0h10m-8.4 -24.4h10m-5 0v28m-5 0h10m-8.4 -26.1h10m-5 0v25.6m-5 0h10m-8.4 -24.5h10m-5 0v27m-5 0h10m-8.4 -30.7h10m-5 0v26.3m-5 0h10m-8.4 -19h10m-5 0v23m-5 0h10m-8.5 -30.1h10m-5 0v26.7m-5 0h10m-8.4 -22h10m-5 0v27.2m-5 0h10m-8.4 -33.6h10m-5 0v26.2m-5 0h10m-8.4 -15.3h10m-5 0v22.8m-5 0h10m-8.4 -26.6h10m-5 0v28.3m-5 0h10m-8.4 -27.4h10m-5 0v25.4m-5 0h10m-8.4 -30.8h10m-5 0v26.8m-5 0h10m-8.5 -27.7h10m-5 0v26.5m-5 0h10m-8.4 -26.4h10m-5 0v24.3m-5 0h10m-8.4 -20.4h10m-5 0v22.1m-5 0h10m-8.4 -26.8h10m-5 0v24.8m-5 0h10m-8.4 -22.7h10m-5 0v27.6m-5 0h10m-8.4 -31.5h10m-5 0v27.7m-5 0h10m-8.4 -22.1h10m-5 0v28.2m-5 0h10m-8.4 -26.3h10m-5 0v22.8m-5 0h10m-8.5 -26h10m-5 0v23.5m-5 0h10m-8.4 -18.6h10m-5 0v24.5m-5 0h10m-8.4 -24.9h10m-5 0v26.7m-5 0h10m-8.4 -28.1h10m-5 0v24.9m-5 0h10m-8.4 -23.2h10m-5 0v23.6m-5 0h10m-8.4 -24.3h10m-5 0v22m-5 0h10m-8.4 -27.9h10m-5 0v28.4m-5 0h10m-8.5 -29.6h10m-5 0v28.7m-5 0h10m-8.4 -26.2h10m-5 0v25.4m-5 0h10m-8.4 -28.8h10m-5 0v25.8m-5 0h10m-8.4 -19.6h10m-5 0v22.3m-5 0h10m-8.4 -29.7h10m-5 0v25.8m-5 0h10m-8.4 -19.8h10m-5 0v23.6m-5 0h10m-8.4 -28.7h10m-5 0v28.1m-5 0h10m-8.5 -21.7h10m-5 0v23.1m-5 0h10m-8.4 -25.5h10m-5 0v21.3m-5 0h10m-8.4 -21.8h10m-5 0v28.7m-5 0h10m-8.4 -29.6h10m-5 0v27.5m-5 0h10m-8.4 -19.2h10m-5 0v25.5m-5 0h10m-8.4 -25.8h10m-5 0v21.5m-5 0h10m-8.4 -22.2h10m-5 0v22.5m-5 0h10m-8.5 -22.2h10m-5 0v23.1m-5 0h10m-8.4 -28.9h10m-5 0v22.8m-5 0h10m-8.4 -18.3h10m-5 0v27.5m-5 0h10m-8.4 -34h10m-5 0v27.8m-5 0h10m-8.4 -23h10m-5 0v25m-5 0h10m-8.4 -25.9h10m-5 0v23.3m-5 0h10m-8.4 -22.9h10m-5 0v21.6m-5 0h10m-8.4 -21.9h10m-5 0v25.5m-5 0h10m-8.5 -19h10m-5 0v22.6m-5 0h10m-8.4 -29.6h10m-5 0v26.1m-5 0h10m-8.4 -30.9h10m-5 0v22.1m-5 0h10m-8.4 -21.8h10m-5 0v24.3m-5 0h10m-8.4 -22.8h10m-5 0v24.1m-5 0h10m-8.4 -27.1h10m-5 0v27.9m-5 0h10m-8.4 -29.3h10m-5 0v28.7m-5 0h10m-8.5 -28.2h10m-5 0v28.5m-5 0h10m-8.4 -27.4h10m-5 0v27.9m-5 0h10m-8.4 -30.3h10m-5 0v27m-5 0h10m-8.4 -21.6h10m-5 0v23.9m-5 0h10m-8.4 -21.4h10m-5 0v24.9m-5 0h10m-8.4 -22.1h10m-5 0v27.5m-5 0h10m-8.4 -26.6h10m-5 0v21.3m-5 0h10m-8.5 -22.4h10m-5 0v21.9m-5 0h10m-8.4 -19.8h10m-5 0v25.4m-5 0h10m-8.4 -33.3h10m-5 0v29.1m-5 0h10m-8.4 -22.1h10m-5 0v21.8m-5 0h10m-8.4 -24.9h10m-5 0v24.1m-5 0h10m-8.4 -20.7h10m-5 0v26.1m-5 0h10m-8.4 -27h10m-5 0v23.3m-5 0h10m-8.5 -33.8h10m-5 0v29.1m-5 0h10m-8.4 -21.1h10m-5 0v26.6m-5 0h10m-8.4 -31h10m-5 0v24.1m-5 0h10m-8.4 -26.5h10m-5 0v25.1m-5 0h10m-8.4 -19.5h10m-5 0v24.1m-5 0h10m-8.4 -24.9h10m-5 0v23.2m-5 0h10m-8.4 -21.3h10m-5 0v22.6m-5 0h10m-8.4 -24.8h10m-5 0v25.8m-5 0h10m-8.5 -32h10m-5 0v25.8m-5 0h10m-8.4 -17.5h10m-5 0v24.3m-5 0h10m-8.4 -30.7h10m-5 0v22.8m-5 0h10m-8.4 -25h10m-5 0v25.4m-5 0h10m-8.4 -15.5h10m-5 0v24.6m-5 0h10m-8.4 -20h10m-5 0v24.4m-5 0h10m-8.4 -24h10m-5 0v25.6m-5 0h10m-8.5 -27.6h10m-5 0v27.9m-5 0h10m-8.4 -30.2h10m-5 0v27.3m-5 0h10m-8.4 -20.4h10m-5 0v25.9m-5 0h10m-8.4 -25.4h10m-5 0v27m-5 0h10m-8.4 -40.8h10m-5 0v25m-5 0h10m-8.4 -28.4h10m-5 0v29.9m-5 0h10m-8.4 -24.9h10m-5 0v25.1m-5 0h10m-8.5 -24.7h10m-5 0v26.6m-5 0h10m-8.4 -22.9h10m-5 0v28.1m-5 0h10m-8.4 -28.4h10m-5 0v25.4m-5 0h10m-8.4 -25.4h10m-5 0v23.5m-5 0h10m-8.4 -25.4h10m-5 0v27.2m-5 0h10m-8.4 -25.6h10m-5 0v23.5m-5 0h10m-8.4 -29.1h10m-5 0v30m-5 0h10m-8.4 -28.4h10m-5 0v29.2m-5 0h10m-8.5 -32.7h10m-5 0v28.2m-5 0h10m-8.4 -24h10m-5 0v25.4m-5 0h10m-8.4 -34.6h10m-5 0v29m-5 0h10m-8.4 -26.6h10m-5 0v25m-5 0h10m-8.4 -21.4h10m-5 0v28m-5 0h10m-8.4 -38.2h10m-5 0v28.6m-5 0h10m-8.4 -16.7h10m-5 0v26m-5 0h10m-8.5 -26.2h10m-5 0v26.1m-5 0h10m-8.4 -18.2h10m-5 0v22.9m-5 0h10m-8.4 -30.2h10m-5 0v26.5m-5 0h10m-8.4 -20.7h10m-5 0v28.4m-5 0h10m-8.4 -35.4h10m-5 0v29.6m-5 0h10m-8.4 -22.4h10m-5 0v26.1m-5 0h10m-8.4 -39.7h10m-5 0v28.1m-5 0h10m-8.5 -14.8h10m-5 0v23.9m-5 0h10m-8.4 -17.8h10m-5 0v27.4m-5 0h10m-8.4 -35.9h10m-5 0v24m-5 0h10m-8.4 -38.8h10m-5 0v25.2m-5 0h10m-8.4 -15.2h10m-5 0v29.8m-5 0h10m-8.4 -28.9h10m-5 0v27.6m-5 0h10m-8.4 -27.7h10m-5 0v25.1m-5 0h10m-8.5 -25.6h10m-5 0v23.4m-5 0h10m-8.4 -19.2h10m-5 0v30.8m-5 0h10m-8.4 -33.6h10m-5 0v30.2m-5 0h10m-8.4 -23h10m-5 0v26m-5 0h10m-8.4 -34.2h10m-5 0v29.5m-5 0h10m-8.4 -29.4h10m-5 0v26.7m-5 0h10m-8.4 -35.3h10m-5 0v26.9m-5 0h10m-8.4 -21.7h10m-5 0v28.1m-5 0h10m-8.5 -24.4h10m-5 0v27m-5 0h10m-8.4 -37.1h10m-5 0v29.8m-5 0h10m-8.4 -20h10m-5 0v27m-5 0h10m-8.4 -40.5h10m-5 0v26.6m-5 0h10m-8.4 -11.4h10m-5 0v27.6m-5 0h10m-8.4 -20.7h10m-5 0v28.8m-5 0h10m-8.4 -36h10m-5 0v29.7m-5 0h10m-8.5 -33.1h10m-5 0v27.1m-5 0h10m-8.4 -35.2h10m-5 0v28.7m-5 0h10m-8.4 -24.8h10m-5 0v29.6m-5 0h10m-8.4 -19.4h10m-5 0v29.2m-5 0h10m-8.4 -30.6h10m-5 0v24.6m-5 0h10m-8.4 -23.4h10m-5 0v26.4m-5 0h10m-8.4 -28.1h10m-5 0v27.2m-5 0h10m-8.5 -37.4h10m-5 0v26m-5 0h10m-8.4 -17.7h10m-5 0v29.4m-5 0h10m-8.4 -27.8h10m-5 0v25.7m-5 0h10m-8.4 -27.6h10m-5 0v28m-5 0h10m-8.4 -25.3h10m-5 0v28.6m-5 0h10m-359 14h10m-5 0v22.3m-5 0h10m-8.4 -23h10m-5 0v27.9m-5 0h10m-8.4 -17.1h10m-5 0v24.4m-5 0h10m-8.4 -32.7h10m-5 0v28.8m-5 0h10m-8.4 -32h10m-5 0v28.5m-5 0h10m-8.5 -23.6h10m-5 0v24.4m-5 0h10m-8.4 -25h10m-5 0v25.5m-5 0h10m-8.4 -26.8h10m-5 0v24.5m-5 0h10m-8.4 -27.3h10m-5 0v22.1m-5 0h10m-8.4 -23.6h10m-5 0v26.2m-5 0h10m-8.4 -24.2h10m-5 0v26.7m-5 0h10m-8.4 -25.1h10m-5 0v28.7m-5 0h10m-8.4 -27.5h10m-5 0v25.2m-5 0h10m-8.5 -31.2h10m-5 0v25.6m-5 0h10m-8.4 -26.5h10m-5 0v25.6m-5 0h10m-8.4 -19.3h10m-5 0v22.9m-5 0h10m-8.4 -24.6h10m-5 0v21.6m-5 0h10m-8.4 -20.4h10m-5 0v24.4m-5 0h10m-8.4 -28.1h10m-5 0v25.3m-5 0h10m-8.4 -30.6h10m-5 0v26.6m-5 0h10m-8.5 -24.6h10m-5 0v24.4m-5 0h10m-8.4 -26.3h10m-5 0v22.6m-5 0h10m-8.4 -17.5h10m-5 0v22.8m-5 0h10m-8.4 -18.6h10m-5 0v22.5m-5 0h10m-8.4 -26.7h10m-5 0v23.9m-5 0h10m-8.4 -22.8h10m-5 0v23m-5 0h10m-8.4 -27.9h10m-5 0v28.4m-5 0h10m-8.5 -30.8h10m-5 0v28.6m-5 0h10m-8.4 -24.6h10m-5 0v26.9m-5 0h10m-8.4 -27.4h10m-5 0v23.1m-5 0h10m-8.4 -18.7h10m-5 0v24.4m-5 0h10m-8.4 -32.1h10m-5 0v26.3m-5 0h10m-8.4 -21.2h10m-5 0v26.9m-5 0h10m-8.4 -30.8h10m-5 0v26.1m-5 0h10m-8.5 -24.5h10m-5 0v28.6m-5 0h10m-8.4 -19.4h10m-5 0v23.4m-5 0h10m-8.4 -20.4h10m-5 0v21.3m-5 0h10m-8.4 -24h10m-5 0v26.2m-5 0h10m-8.4 -23.2h10m-5 0v24m-5 0h10m-8.4 -23.1h10m-5 0v25m-5 0h10m-8.4 -26.8h10m-5 0v26.7m-5 0h10m-8.4 -23.8h10m-5 0v23.5m-5 0h10m-8.5 -25h10m-5 0v24.2m-5 0h10m-8.4 -28h10m-5 0v24.3m-5 0h10m-8.4 -31.1h10m-5 0v26.1m-5 0h10m-8.4 -24.9h10m-5 0v25.9m-5 0h10m-8.4 -32.6h10m-5 0v27.6m-5 0h10m-8.4 -24h10m-5 0v24.9m-5 0h10m-8.4 -22.7h10m-5 0v25.2m-5 0h10m-8.5 -28.6h10m-5 0v25.2m-5 0h10m-8.4 -20.6h10m-5 0v26.1m-5 0h10m-8.4 -26.8h10m-5 0v27.2m-5 0h10m-8.4 -23.8h10m-5 0v24m-5 0h10m-8.4 -33.9h10m-5 0v28.4m-5 0h10m-8.4 -24.3h10m-5 0v22.3m-5 0h10m-8.4 -18.8h10m-5 0v21.2m-5 0h10m-8.5 -26.9h10m-5 0v25.1m-5 0h10m-8.4 -22.3h10m-5 0v26.7m-5 0h10m-8.4 -30.4h10m-5 0v26.8m-5 0h10m-8.4 -27.3h10m-5 0v21.2m-5 0h10m-8.4 -22.4h10m-5 0v22.6m-5 0h10m-8.4 -20.9h10m-5 0v24.6m-5 0h10m-8.4 -19.2h10m-5 0v22.9m-5 0h10m-8.5 -20.9h10m-5 0v23.4m-5 0h10m-8.4 -22.3h10m-5 0v21.7m-5 0h10m-8.4 -22.1h10m-5 0v24.9m-5 0h10m-8.4 -31.6h10m-5 0v25.3m-5 0h10m-8.4 -22.4h10m-5 0v21.4m-5 0h10m-8.4 -24.2h10m-5 0v24.3m-5 0h10m-8.4 -21.5h10m-5 0v26.4m-5 0h10m-8.4 -31.4h10m-5 0v22.6m-5 0h10m-8.5 -23.9h10m-5 0v28.6m-5 0h10m-8.4 -19.2h10m-5 0v23.1m-5 0h10m-8.4 -27.8h10m-5 0v22.9m-5 0h10m-8.4 -26.1h10m-5 0v28.3m-5 0h10m-8.4 -21.6h10m-5 0v22.7m-5 0h10m-8.4 -25h10m-5 0v28.2m-5 0h10m-8.4 -23.9h10m-5 0v24.7m-5 0h10m-8.5 -29.3h10m-5 0v26.1m-5 0h10m-8.4 -26.6h10m-5 0v27m-5 0h10m-8.4 -26h10m-5 0v27.6m-5 0h10m-8.4 -28.5h10m-5 0v23.9m-5 0h10m-8.4 -18.4h10m-5 0v22.2m-5 0h10m-8.4 -31.3h10m-5 0v22.4m-5 0h10m-8.4 -16.1h10m-5 0v27.2m-5 0h10m-8.5 -28.3h10m-5 0v22.2m-5 0h10m-8.4 -23.3h10m-5 0v24.9m-5 0h10m-8.4 -33.6h10m-5 0v26.7m-5 0h10m-8.4 -24.4h10m-5 0v26.1m-5 0h10m-8.4 -26.3h10m-5 0v24.2m-5 0h10m-8.4 -18.4h10m-5 0v25.1m-5 0h10m-8.4 -30.2h10m-5 0v26.2m-5 0h10m-8.4 -15.5h10m-5 0v25.1m-5 0h10m-8.5 -21.1h10m-5 0v21.2m-5 0h10m-8.4 -30.3h10m-5 0v27.1m-5 0h10m-8.4 -27.7h10m-5 0v25.5m-5 0h10m-8.4 -19.7h10m-5 0v22.5m-5 0h10m-8.4 -31.2h10m-5 0v26.5m-5 0h10m-8.4 -27.7h10m-5 0v23.7m-5 0h10m-8.4 -17.8h10m-5 0v23.2m-5 0h10m-8.5 -25.2h10m-5 0v27.3m-5 0h10m-8.4 -29.7h10m-5 0v25.1m-5 0h10m-8.4 -23.8h10m-5 0v26.2m-5 0h10m-8.4 -23.2h10m-5 0v22.7m-5 0h10m-8.4 -30.2h10m-5 0v26.4m-5 0h10m-8.4 -18.7h10m-5 0v25.3m-5 0h10m-8.4 -25.3h10m-5 0v23.2m-5 0h10m-8.5 -23.1h10m-5 0v24.5m-5 0h10m-8.4 -25.4h10m-5 0v27.4m-5 0h10m-8.4 -25h10m-5 0v26.1m-5 0h10m-8.4 -23.3h10m-5 0v26.5m-5 0h10m-8.4 -27.8h10m-5 0v23.6m-5 0h10m-8.4 -24.1h10m-5 0v26.9m-5 0h10m-8.4 -27.3h10m-5 0v24.2m-5 0h10m-8.5 -25.6h10m-5 0v22m-5 0h10m-8.4 -23.1h10m-5 0v23.9m-5 0h10m-8.4 -30.7h10m-5 0v27.7m-5 0h10m-8.4 -24.3h10m-5 0v25.2m-5 0h10m-8.4 -26.8h10m-5 0v23.3m-5 0h10m-8.4 -21.7h10m-5 0v24m-5 0h10m-8.4 -21.8h10m-5 0v28.5m-5 0h10m-8.4 -26.1h10m-5 0v21.7m-5 0h10m-8.5 -23.2h10m-5 0v27.5m-5 0h10m-8.4 -31.2h10m-5 0v28.1m-5 0h10m-8.4 -20.1h10m-5 0v24.5m-5 0h10m-8.4 -27.2h10m-5 0v22.2m-5 0h10m-8.4 -24.8h10m-5 0v25.5m-5 0h10m-8.4 -27.5h10m-5 0v27.3m-5 0h10m-8.4 -20.2h10m-5 0v22.1m-5 0h10m-8.5 -25.2h10m-5 0v21.4m-5 0h10m-8.4 -22.8h10m-5 0v24.2m-5 0h10m-8.4 -18h10m-5 0v22.5m-5 0h10m-8.4 -30.9h10m-5 0v24.8m-5 0h10m-8.4 -23.6h10m-5 0v24m-5 0h10m-8.4 -22.6h10m-5 0v23.5m-5 0h10m-8.4 -26.3h10m-5 0v27m-5 0h10m-8.5 -32.9h10m-5 0v28.7m-5 0h10m-8.4 -26.3h10m-5 0v25.7m-5 0h10m-8.4 -25.7h10m-5 0v27.6m-5 0h10m-8.4 -31.2h10m-5 0v24.7m-5 0h10m-8.4 -15.6h10m-5 0v22.8m-5 0h10m-8.4 -29.4h10m-5 0v27.7m-5 0h10m-8.4 -28.3h10m-5 0v27.3m-5 0h10m-8.5 -27.7h10m-5 0v28m-5 0h10m-8.4 -23.3h10m-5 0v26.4m-5 0h10m-8.4 -30h10m-5 0v26.1m-5 0h10m-8.4 -20.3h10m-5 0v28.7m-5 0h10m-8.4 -29.6h10m-5 0v23.7m-5 0h10m-8.4 -24h10m-5 0v26.6m-5 0h10m-8.4 -17.8h10m-5 0v28.7m-5 0h10m-8.4 -33.5h10m-5 0v28.9m-5 0h10m-8.5 -21.7h10m-5 0v26.3m-5 0h10m-8.4 -41.5h10m-5 0v26.7m-5 0h10m-8.4 -6.7h10m-5 0v21.9m-5 0h10m-8.4 -31.4h10m-5 0v22.2m-5 0h10m-8.4 -17.1h10m-5 0v27.9m-5 0h10m-8.4 -18.4h10m-5 0v22.8m-5 0h10m-8.4 -32.5h10m-5 0v25.8m-5 0h10m-8.5 -39.7h10m-5 0v26.3m-5 0h10m-8.4 -15.5h10m-5 0v22.5m-5 0h10m-8.4 -28.7h10m-5 0v26.9m-5 0h10m-8.4 -21.3h10m-5 0v26.2m-5 0h10m-8.4 -35.3h10m-5 0v25.6m-5 0h10m-8.4 -18.7h10m-5 0v29.6m-5 0h10m-8.4 -36.3h10m-5 0v26.9m-5 0h10m-8.5 -20.6h10m-5 0v27.5m-5 0h10m-8.4 -24.9h10m-5 0v24.1m-5 0h10m-8.4 -30.2h10m-5 0v27.9m-5 0h10m-8.4 -39.5h10m-5 0v24.6m-5 0h10m-8.4 -16.7h10m-5 0v28.8m-5 0h10m-8.4 -28.7h10m-5 0v28.2m-5 0h10m-8.4 -34.9h10m-5 0v27.3m-5 0h10m-8.4 -21.2h10m-5 0v25.4m-5 0h10m-8.5 -13.9h10m-5 0v24.8m-5 0h10m-8.4 -44h10m-5 0v25.7m-5 0h10m-8.4 -28.8h10m-5 0v26.5m-5 0h10m-8.4 -15.8h10m-5 0v23.8m-5 0h10m-8.4 -30.1h10m-5 0v27.1m-5 0h10m-8.4 -13.8h10m-5 0v22.9m-5 0h10m-8.4 -34.2h10m-5 0v30.1m-5 0h10m-8.5 -13.6h10m-5 0v24.3m-5 0h10m-8.4 -44.3h10m-5 0v27.7m-5 0h10m-8.4 -15.5h10m-5 0v28m-5 0h10m-8.4 -30h10m-5 0v24.5m-5 0h10m-8.4 -17.1h10m-5 0v23m-5 0h10m-8.4 -19.8h10m-5 0v28.1m-5 0h10m-8.4 -44.2h10m-5 0v25.2m-5 0h10m-8.5 -20.9h10m-5 0v30m-5 0h10m-8.4 -25.2h10m-5 0v30.1m-5 0h10m-8.4 -29.1h10m-5 0v30.3m-5 0h10m-8.4 -22.6h10m-5 0v27.9m-5 0h10m-8.4 -23.1h10m-5 0v23.8m-5 0h10m-8.4 -35.5h10m-5 0v27.8m-5 0h10m-8.4 -19.5h10m-5 0v28.5m-5 0h10m-8.5 -42.5h10m-5 0v27.5m-5 0h10m-8.4 -12.1h10m-5 0v26.1m-5 0h10m-8.4 -26.9h10m-5 0v29.2m-5 0h10m-8.4 -28.1h10m-5 0v27.3m-5 0h10m-8.4 -42.1h10m-5 0v27.2m-5 0h10m-8.4 -31.7h10m-5 0v29.7m-5 0h10m-8.4 -24.8h10m-5 0v23.9m-5 0h10m-8.4 -30.1h10m-5 0v27.6m-5 0h10m-8.5 -24.8h10m-5 0v28.2m-5 0h10m-8.4 -20.5h10m-5 0v27.9m-5 0h10m-8.4 -25.8h10m-5 0v23.7m-5 0h10m-8.4 -30.8h10m-5 0v27.3m-5 0h10m-8.4 -24h10m-5 0v27.9m-5 0h10m-8.4 -44.7h10m-5 0v26.3m-5 0h10m-8.4 -11h10m-5 0v29m-5 0h10m-8.5 -40.4h10m-5 0v30.1m-5 0h10m-8.4 -22.2h10m-5 0v25.3m-5 0h10m-8.4 -21.2h10m-5 0v29.6m-5 0h10m-8.4 -39.4h10m-5 0v26.4m-5 0h10m-8.4 -14.1h10m-5 0v23.8m-5 0h10m-8.4 -40.5h10m-5 0v30.6m-5 0h10m-8.4 -16.3h10m-5 0v28.2m-5 0h10m-8.5 -23.2h10m-5 0v24.6m-5 0h10m-8.4 -43.8h10m-5 0v25.3m-5 0h10m-8.4 -17.8h10m-5 0v30.5m-5 0h10m-8.4 -34.2h10m-5 0v29.6m-5 0h10m-8.4 -17.5h10m-5 0v24.2m-5 0h10m-359 19.5h10m-5 0v27.5m-5 0h10m-8.4 -23.4h10m-5 0v24.5m-5 0h10m-8.4 -26.3h10m-5 0v28.8m-5 0h10m-8.4 -31.6h10m-5 0v27.3m-5 0h10m-8.4 -22.1h10m-5 0v26m-5 0h10m-8.5 -21.6h10m-5 0v23.9m-5 0h10m-8.4 -28.3h10m-5 0v22.1m-5 0h10m-8.4 -25.6h10m-5 0v25.6m-5 0h10m-8.4 -21.8h10m-5 0v26.7m-5 0h10m-8.4 -29.3h10m-5 0v22.7m-5 0h10m-8.4 -24.6h10m-5 0v21.7m-5 0h10m-8.4 -23.3h10m-5 0v24.5m-5 0h10m-8.4 -25.8h10m-5 0v26.9m-5 0h10m-8.5 -19.1h10m-5 0v22.8m-5 0h10m-8.4 -26.9h10m-5 0v26.1m-5 0h10m-8.4 -22.5h10m-5 0v24.8m-5 0h10m-8.4 -28.1h10m-5 0v22m-5 0h10m-8.4 -16.8h10m-5 0v27.6m-5 0h10m-8.4 -27.6h10m-5 0v27.9m-5 0h10m-8.4 -29.2h10m-5 0v21.5m-5 0h10m-8.5 -22.6h10m-5 0v22.4m-5 0h10m-8.4 -20h10m-5 0v25.5m-5 0h10m-8.4 -24h10m-5 0v22.8m-5 0h10m-8.4 -24.4h10m-5 0v26.8m-5 0h10m-8.4 -33.1h10m-5 0v24.7m-5 0h10m-8.4 -22.3h10m-5 0v24.6m-5 0h10m-8.4 -24.8h10m-5 0v28.1m-5 0h10m-8.5 -25.8h10m-5 0v24.6m-5 0h10m-8.4 -20.8h10m-5 0v24.7m-5 0h10m-8.4 -27.3h10m-5 0v21.2m-5 0h10m-8.4 -28.1h10m-5 0v22.8m-5 0h10m-8.4 -14.5h10m-5 0v26.7m-5 0h10m-8.4 -30h10m-5 0v28.8m-5 0h10m-8.4 -25.8h10m-5 0v25.3m-5 0h10m-8.5 -25.8h10m-5 0v22.6m-5 0h10m-8.4 -19.1h10m-5 0v24.4m-5 0h10m-8.4 -32.8h10m-5 0v28.3m-5 0h10m-8.4 -26.3h10m-5 0v24.6m-5 0h10m-8.4 -27.9h10m-5 0v27.5m-5 0h10m-8.4 -21.9h10m-5 0v24.5m-5 0h10m-8.4 -28.6h10m-5 0v25.5m-5 0h10m-8.4 -27.6h10m-5 0v22.1m-5 0h10m-8.5 -24.2h10m-5 0v23.4m-5 0h10m-8.4 -26.1h10m-5 0v28.9m-5 0h10m-8.4 -23.8h10m-5 0v24.4m-5 0h10m-8.4 -20.5h10m-5 0v24m-5 0h10m-8.4 -20.7h10m-5 0v25.9m-5 0h10m-8.4 -28.3h10m-5 0v26.4m-5 0h10m-8.4 -26.5h10m-5 0v21.8m-5 0h10m-8.5 -28.5h10m-5 0v27.8m-5 0h10m-8.4 -20h10m-5 0v25.2m-5 0h10m-8.4 -29h10m-5 0v22.9m-5 0h10m-8.4 -21.6h10m-5 0v28.6m-5 0h10m-8.4 -24.3h10m-5 0v24.7m-5 0h10m-8.4 -29.2h10m-5 0v25.7m-5 0h10m-8.4 -25.6h10m-5 0v22.2m-5 0h10m-8.5 -27.9h10m-5 0v26.1m-5 0h10m-8.4 -20.9h10m-5 0v25.6m-5 0h10m-8.4 -23.7h10m-5 0v22.9m-5 0h10m-8.4 -24.1h10m-5 0v21.8m-5 0h10m-8.4 -23.3h10m-5 0v23.7m-5 0h10m-8.4 -22.8h10m-5 0v28.2m-5 0h10m-8.4 -30.2h10m-5 0v23.8m-5 0h10m-8.5 -25.5h10m-5 0v28.1m-5 0h10m-8.4 -22.5h10m-5 0v26.5m-5 0h10m-8.4 -34.6h10m-5 0v22.9m-5 0h10m-8.4 -18.7h10m-5 0v23.7m-5 0h10m-8.4 -22.5h10m-5 0v21.3m-5 0h10m-8.4 -27.5h10m-5 0v25.5m-5 0h10m-8.4 -18.7h10m-5 0v21.2m-5 0h10m-8.4 -25.1h10m-5 0v27.6m-5 0h10m-8.5 -24.2h10m-5 0v23.7m-5 0h10m-8.4 -26.3h10m-5 0v28.6m-5 0h10m-8.4 -23.9h10m-5 0v26.9m-5 0h10m-8.4 -26h10m-5 0v23.6m-5 0h10m-8.4 -26.3h10m-5 0v24.3m-5 0h10m-8.4 -27.2h10m-5 0v26.1m-5 0h10m-8.4 -24.5h10m-5 0v24.6m-5 0h10m-8.5 -27.5h10m-5 0v25.3m-5 0h10m-8.4 -22.7h10m-5 0v23.2m-5 0h10m-8.4 -26.8h10m-5 0v24.9m-5 0h10m-8.4 -22h10m-5 0v26.9m-5 0h10m-8.4 -28.8h10m-5 0v25.1m-5 0h10m-8.4 -26.8h10m-5 0v24.1m-5 0h10m-8.4 -19.4h10m-5 0v26.2m-5 0h10m-8.5 -29h10m-5 0v26.8m-5 0h10m-8.4 -27.9h10m-5 0v28m-5 0h10m-8.4 -26.4h10m-5 0v23.4m-5 0h10m-8.4 -23.2h10m-5 0v27.9m-5 0h10m-8.4 -27.5h10m-5 0v25.4m-5 0h10m-8.4 -25.1h10m-5 0v25.8m-5 0h10m-8.4 -31h10m-5 0v22.3m-5 0h10m-8.4 -22h10m-5 0v28.4m-5 0h10m-8.5 -23.9h10m-5 0v26.9m-5 0h10m-8.4 -22.5h10m-5 0v23.4m-5 0h10m-8.4 -28.1h10m-5 0v27.8m-5 0h10m-8.4 -22.2h10m-5 0v23.6m-5 0h10m-8.4 -19.8h10m-5 0v24.3m-5 0h10m-8.4 -25.5h10m-5 0v22.5m-5 0h10m-8.4 -35h10m-5 0v25m-5 0h10m-8.5 -20.4h10m-5 0v24.4m-5 0h10m-8.4 -26.9h10m-5 0v28.7m-5 0h10m-8.4 -28.3h10m-5 0v21.4m-5 0h10m-8.4 -18.1h10m-5 0v26.2m-5 0h10m-8.4 -28.4h10m-5 0v22.9m-5 0h10m-8.4 -24.5h10m-5 0v24.4m-5 0h10m-8.4 -22.9h10m-5 0v25.6m-5 0h10m-8.5 -29.5h10m-5 0v27m-5 0h10m-8.4 -24.4h10m-5 0v26.1m-5 0h10m-8.4 -27.6h10m-5 0v25.1m-5 0h10m-8.4 -23.6h10m-5 0v24.2m-5 0h10m-8.4 -20.6h10m-5 0v25m-5 0h10m-8.4 -25.4h10m-5 0v27.6m-5 0h10m-8.4 -19.8h10m-5 0v22.3m-5 0h10m-8.5 -26.9h10m-5 0v23.3m-5 0h10m-8.4 -26.8h10m-5 0v23.4m-5 0h10m-8.4 -18.3h10m-5 0v24.6m-5 0h10m-8.4 -25.6h10m-5 0v24.3m-5 0h10m-8.4 -27.9h10m-5 0v25.2m-5 0h10m-8.4 -18.4h10m-5 0v22m-5 0h10m-8.4 -21.5h10m-5 0v26.6m-5 0h10m-8.4 -27.9h10m-5 0v22.3m-5 0h10m-8.5 -29.3h10m-5 0v23m-5 0h10m-8.4 -21.8h10m-5 0v26m-5 0h10m-8.4 -23.1h10m-5 0v27.4m-5 0h10m-8.4 -33.1h10m-5 0v28m-5 0h10m-8.4 -22.1h10m-5 0v22.3m-5 0h10m-8.4 -25.2h10m-5 0v25.2m-5 0h10m-8.4 -29.5h10m-5 0v24.7m-5 0h10m-8.5 -18.1h10m-5 0v22.1m-5 0h10m-8.4 -22.2h10m-5 0v23.4m-5 0h10m-8.4 -29.8h10m-5 0v24.3m-5 0h10m-8.4 -29.4h10m-5 0v28.2m-5 0h10m-8.4 -22.6h10m-5 0v28.4m-5 0h10m-8.4 -26.4h10m-5 0v28.9m-5 0h10m-8.4 -27.4h10m-5 0v26.6m-5 0h10m-8.5 -23.4h10m-5 0v21.9m-5 0h10m-8.4 -24.6h10m-5 0v25.7m-5 0h10m-8.4 -22.1h10m-5 0v24.6m-5 0h10m-8.4 -28.1h10m-5 0v27.6m-5 0h10m-8.4 -22.5h10m-5 0v28.5m-5 0h10m-8.4 -35.6h10m-5 0v22.1m-5 0h10m-8.4 -19.2h10m-5 0v23.1m-5 0h10m-8.5 -31.5h10m-5 0v23.7m-5 0h10m-8.4 -19.8h10m-5 0v27.1m-5 0h10m-8.4 -20.4h10m-5 0v29.1m-5 0h10m-8.4 -35.4h10m-5 0v22m-5 0h10m-8.4 -20.8h10m-5 0v28.8m-5 0h10m-8.4 -23h10m-5 0v24.7m-5 0h10m-8.4 -21.7h10m-5 0v23.4m-5 0h10m-8.4 -24.9h10m-5 0v23.4m-5 0h10m-8.5 -27.1h10m-5 0v28.2m-5 0h10m-8.4 -26.2h10m-5 0v23.9m-5 0h10m-8.4 -26.5h10m-5 0v28.6m-5 0h10m-8.4 -17.7h10m-5 0v22.9m-5 0h10m-8.4 -39.2h10m-5 0v26.7m-5 0h10m-8.4 -23.5h10m-5 0v26.2m-5 0h10m-8.4 -21.4h10m-5 0v24.4m-5 0h10m-8.5 -27.3h10m-5 0v24.6m-5 0h10m-8.4 -19.8h10m-5 0v28.3m-5 0h10m-8.4 -29.5h10m-5 0v25.6m-5 0h10m-8.4 -28h10m-5 0v22.8m-5 0h10m-8.4 -21.7h10m-5 0v25.3m-5 0h10m-8.4 -27.2h10m-5 0v25.1m-5 0h10m-8.4 -24.2h10m-5 0v23.7m-5 0h10m-8.5 -29.3h10m-5 0v27.4m-5 0h10m-8.4 -28.6h10m-5 0v22.7m-5 0h10m-8.4 -6.6h10m-5 0v22.3m-5 0h10m-8.4 -28.2h10m-5 0v23.8m-5 0h10m-8.4 -33.3h10m-5 0v26.7m-5 0h10m-8.4 -14.4h10m-5 0v25.2m-5 0h10m-8.4 -37h10m-5 0v29.6m-5 0h10m-8.4 -26.3h10m-5 0v27.9m-5 0h10m-8.5 -21.6h10m-5 0v24.1m-5 0h10m-8.4 -25h10m-5 0v22.6m-5 0h10m-8.4 -24.8h10m-5 0v27.7m-5 0h10m-8.4 -35.8h10m-5 0v28.9m-5 0h10m-8.4 -19.7h10m-5 0v26.5m-5 0h10m-8.4 -26.3h10m-5 0v25.3m-5 0h10m-8.4 -28.4h10m-5 0v26.4m-5 0h10m-8.5 -31h10m-5 0v25.4m-5 0h10m-8.4 -22.7h10m-5 0v23.8m-5 0h10m-8.4 -19.2h10m-5 0v24.1m-5 0h10m-8.4 -30.1h10m-5 0v27.3m-5 0h10m-8.4 -21.3h10m-5 0v26.3m-5 0h10m-8.4 -33.2h10m-5 0v29.6m-5 0h10m-8.4 -23.2h10m-5 0v27.1m-5 0h10m-8.5 -22.3h10m-5 0v23.2m-5 0h10m-8.4 -32.7h10m-5 0v29.8m-5 0h10m-8.4 -23.8h10m-5 0v29m-5 0h10m-8.4 -30.7h10m-5 0v28.5m-5 0h10m-8.4 -17.1h10m-5 0v25.7m-5 0h10m-8.4 -31.8h10m-5 0v28.4m-5 0h10m-8.4 -25.9h10m-5 0v29m-5 0h10m-8.5 -36.6h10m-5 0v27m-5 0h10m-8.4 -32.2h10m-5 0v30.6m-5 0h10m-8.4 -31.2h10m-5 0v26.9m-5 0h10m-8.4 -26.5h10m-5 0v26.6m-5 0h10m-8.4 -30.8h10m-5 0v28.3m-5 0h10m-8.4 -25.7h10m-5 0v29.7m-5 0h10m-8.4 -24.6h10m-5 0v30.7m-5 0h10m-8.4 -30.2h10m-5 0v24.4m-5 0h10m-8.5 -38h10m-5 0v27.8m-5 0h10m-8.4 -26.5h10m-5 0v26.9m-5 0h10m-8.4 -15.5h10m-5 0v28.6m-5 0h10m-8.4 -34h10m-5 0v27.3m-5 0h10m-8.4 -33.4h10m-5 0v25.1m-5 0h10m-8.4 -12h10m-5 0v27.9m-5 0h10m-8.4 -28.1h10m-5 0v28.9m-5 0h10m-8.5 -29.5h10m-5 0v26m-5 0h10m-8.4 -29.5h10m-5 0v27.5m-5 0h10m-8.4 -31.2h10m-5 0v26m-5 0h10m-8.4 -19.6h10m-5 0v24.1m-5 0h10m-8.4 -33.8h10m-5 0v26.3m-5 0h10m-8.4 -25.3h10m-5 0v27.2m-5 0h10m-8.4 -35.1h10m-5 0v28.9m-5 0h10m-8.5 -5.7h10m-5 0v28.1m-5 0h10m-8.4 -48.4h10m-5 0v25.8m-5 0h10m-8.4 -19h10m-5 0v25.9m-5 0h10m-8.4 -26h10m-5 0v29.2m-5 0h10m-8.4 -24.5h10m-5 0v26.2m-5 0h10" stroke="#d3d3d3" stroke-width="1.8" fill="none"/>
<path d="M139.4 54.2 142.2 53.7 144.9 52.8 147.7 52.1" stroke="#800000" stroke-width="10" stroke-linecap="round" stroke-linejoin="round" fill="none"/>
<path d="M188 54.2 190.8 54.4 193.5 54.9 196.3 55.2 199 54.6 201.8 53.8 204.5 53.6 207.3 54 210 54.4 212.8 54.4 215.5 54.6 218.3 55.1 221 55.4 223.8 55.3 226.5 55.1 229.2 54.9 232 54.5 234.7 53.7 237.5 52.6 240.2 52.2 243 52.5 245.7 53.1 248.5 54.3 251.2 55.6 254 56.1 256.7 55 259.5 53.4 262.2 52.9 265 53 267.7 53 270.5 53.2 273.2 54.1 276 54.9 278.7 54.3 281.5 52.8 284.2 51.6 287 51.1 289.7 50.6 292.5 50 295.2 49.7 298 50.2" stroke="#800000" stroke-width="10" stroke-linecap="round" stroke-linejoin="round" fill="none"/>
<path d="M465.6 49.3 468.8 51.7 471.9 52.9 475.1 54.5 478.3 54.4 481.5 53.2 484.6 52.6 487.8 52.1 491 51.5 494.2 51.1 497.3 50.9 500.5 52.5 503.7 54.8 506.8 54 510 52.3 513.2 52.2 516.4 51.9 519.5 52.8 522.7 54.4 525.9 55.2 529.1 54.2 532.2 51.9 535.4 52.9 538.6 55.7 541.7 55 544.9 53 548.1 51.6 551.3 52.4 554.4 56.8 557.6 60 560.8 58.6 563.9 56.5 567.1 56.7 570.3 56.5 573.5 55.1 576.6 53.8 579.8 53.1 583 52.9 586.2 54.5 589.3 57.2 592.5 58.5 595.7 57.4 598.8 55 602 53.5 605.2 53.2 608.4 51.7 611.5 50.7 614.7 53.1 617.9 56 621.1 56.2 624.2 56.3 627.4 58 630.6 60 633.7 61.1 636.9 60.6 640.1 58.8 643.3 57.3 646.4 56.6 649.6 55.1 652.8 53.5 656 52.2 659.1 51.5 662.3 52.5 665.5 53.9 668.6 53.9 671.8 53.8 675 55.2 678.2 57.1 681.3 57.9 684.5 56.4 687.7 54.6 690.8 54 694 53 697.2 51.4 700.4 52.1 703.5 53.8 706.7 53.6 709.9 52.3 713.1 51.9 716.2 52 719.4 51.8 722.6 53.8 725.7 55.1 728.9 52.6 732.1 50.2 735.3 49.8 738.4 49.6 741.6 49.8 744.8 49 748 47.1 751.1 45.6 754.3 44.4 757.5 44.2 760.6 45 763.8 46.6 767 48.3 770.2 47.7 773.3 46.4 776.5 45.9 779.7 46 782.9 46.3 786 46.8 789.2 47.9 792.4 48.7 795.5 47.5 798.7 45.5 801.9 44 805.1 44.7 808.2 45.4" stroke="#800000" stroke-width="4" stroke-linecap="round" stroke-linejoin="round" fill="none"/>
<path d="M137.6 52.9h0m0.9 2.5h0m0.9 -2.8h0m0.9 6.2h0m1 -8.7h0m0.9 4.4h0m0.9 -3.9h0m0.9 6.1h0m0.9 5.9h0m0.9 -14.2h0m1 -3.1h0m0.9 4.2h0m0.9 -0.6h0m0.9 5.1h0m0.9 0.5h0m0.9 -1.3h0m1 1h0m0.9 -8.9h0m0.9 5.1h0m0.9 -3.7h0m0.9 -0.8h0m0.9 -10.9h0m1 -14.6h0m0.9 -6.8h0m0.9 2.2h0m0.9 5h0m0.9 -7.2h0m0.9 11.6h0m1 -10.9h0m0.9 -0.7h0m0.9 13.9h0m0.9 0.6h0m0.9 -8.9h0m0.9 2.2h0m1 4.5h0m0.9 6.3h0m0.9 -2.3h0m0.9 11.3h0m0.9 -11.5h0m0.9 11.2h0m1 7.5h0m0.9 -2.5h0m0.9 7h0m0.9 -2.7h0m0.9 -7.8h0m0.9 12.3h0m1 -19h0m0.9 22.2h0m0.9 -7.6h0m0.9 -7.5h0m0.9 -5.5h0m0.9 9.1h0m1 7.1h0m0.9 -0.6h0m0.9 3.3h0m0.9 -1.1h0m0.9 -5h0m0.9 3.1h0m1 0.8h0m0.9 -0.4h0m0.9 1.3h0m0.9 -2.2h0m0.9 0.1h0m0.9 3.4h0m1 -1.3h0m0.9 -6.2h0m0.9 5.1h0m0.9 1.3h0m0.9 -6.2h0m0.9 5.1h0m1 2.7h0m0.9 -4.9h0m0.9 4.1h0m0.9 -1h0m0.9 -2.1h0m0.9 1.3h0m1 1.9h0m0.9 -0.4h0m0.9 0.2h0m0.9 -4.5h0m0.9 5h0m0.9 -0.3h0m1 -7h0m0.9 6.9h0m0.9 -5.3h0m0.9 0.5h0m0.9 4.1h0m0.9 3.5h0m1 -4.8h0m0.9 -0.5h0m0.9 -0.6h0m0.9 2.4h0m0.9 -3h0m0.9 -0.5h0m1 6.4h0m0.9 -6.6h0m0.9 3.3h0m0.9 1.8h0m0.9 -0.7h0m0.9 -5.9h0m0.9 2.3h0m1 7.2h0m0.9 -5h0m0.9 0.4h0m0.9 -0.1h0m0.9 0.6h0m0.9 2.1h0m1 -6.5h0m0.9 4.4h0m0.9 -1.8h0m0.9 0.4h0m0.9 0.2h0m0.9 -4h0m1 1h0m0.9 2.9h0m0.9 0.9h0m0.9 -1.1h0m0.9 -3.6h0m0.9 2.5h0m1 0h0m0.9 1.9h0m0.9 0.3h0m0.9 -0.8h0m0.9 5.9h0m0.9 -8.7h0m1 6.6h0m0.9 -0.4h0m0.9 -5.1h0m0.9 2.8h0m0.9 0.1h0m0.9 1.1h0m1 2h0m0.9 -5.1h0m0.9 -3.1h0m0.9 5.2h0m0.9 -6.2h0m0.9 6.6h0m1 -1h0m0.9 -3.3h0m0.9 1.4h0m0.9 -1.8h0m0.9 3.8h0m0.9 0.7h0m1 2.2h0m0.9 -1.7h0m0.9 -0.2h0m0.9 1.2h0m0.9 -4.3h0m0.9 2.9h0m1 3.9h0m0.9 -11.5h0m0.9 8.9h0m0.9 1.1h0m0.9 -6.8h0m0.9 -0.1h0m1 5.6h0m0.9 0.3h0m0.9 -1.8h0m0.9 -6.1h0m0.9 3.4h0m0.9 1.1h0m1 -2.3h0m0.9 -3.4h0m0.9 6.7h0m0.9 -2.8h0m0.9 2.5h0m0.9 -9.6h0m1 0.7h0m0.9 2.1h0m0.9 2.6h0m0.9 -2.2h0m0.9 7.2h0m0.9 -6.3h0m1 4.3h0m0.9 0.1h0m0.9 -1.3h0m0.9 -0.6h0m0.9 -1.9h0m0.9 0.2h0m163.3 -2.7h0m1.6 2h0m1.6 4.4h0m1.6 2.7h0m1.6 -6.5h0m1.5 3.8h0m1.6 -0.3h0m1.6 2.8h0m1.6 4.6h0m1.6 -2.5h0m1.6 -8.1h0m1.6 5.6h0m1.6 -1.5h0m1.5 2.8h0m1.6 -2.8h0m1.6 -0.8h0m1.6 -0.7h0m1.6 -0.7h0m1.6 1.4h0m1.6 -0.4h0m1.5 -1.8h0m1.6 -1h0m1.6 1.9h0m1.6 -4.2h0m1.6 5.7h0m1.6 1h0m1.6 2.4h0m1.5 -5.6h0m1.6 4.8h0m1.6 1h0m1.6 -1.9h0m1.6 -4.5h0m1.6 4.8h0m1.6 -7h0m1.5 3.9h0m1.6 4.9h0m1.6 -2.8h0m1.6 -4.9h0m1.6 8h0m1.6 1.5h0m1.6 -5.3h0m1.6 -3.1h0m1.5 -0.4h0m1.6 2.7h0m1.6 -1.6h0m1.6 0.8h0m1.6 -0.8h0m1.6 -1.5h0m1.6 6.4h0m1.5 -4.8h0m1.6 3.6h0m1.6 -3.6h0m1.6 3.5h0m1.6 -1.1h0m1.6 -3.3h0m1.6 4.6h0m1.5 -3.2h0m1.6 6.6h0m1.6 0.3h0m1.6 1.5h0m1.6 0.5h0m1.6 -2.5h0m1.6 -4h0m1.5 -6.5h0m1.6 12h0m1.6 -3.9h0m1.6 1.5h0m1.6 1.8h0m1.6 -4h0m1.6 2.5h0m1.6 -3h0m1.5 -4.3h0m1.6 8.8h0m1.6 -6.7h0m1.6 -0.8h0m1.6 4h0m1.6 -3.7h0m1.6 1.6h0m1.5 3.3h0m1.6 -3h0m1.6 8.1h0m1.6 -5.2h0m1.6 2.2h0m1.6 1.5h0m1.6 -3.7h0m1.5 -0.7h0m1.6 -4.3h0m1.6 6.1h0m1.6 -3.9h0m1.6 0.6h0m1.6 -6.3h0m1.6 6.7h0m1.6 -7.1h0m1.5 7.9h0m1.6 -5.1h0m1.6 2.9h0m1.6 0.2h0m1.6 4.3h0m1.6 3.9h0m1.6 -1.3h0m1.5 -8.2h0m1.6 3.3h0m1.6 3.7h0m1.6 -3.9h0m1.6 5.7h0m1.6 1h0m1.6 2h0m1.5 -6.4h0m1.6 -2.3h0m1.6 7.8h0m1.6 -4.3h0m1.6 -3h0m1.6 -4.1h0m1.6 12.2h0m1.5 -7.4h0m1.6 -1.8h0m1.6 5.3h0m1.6 -6.2h0m1.6 -0.3h0m1.6 -2.1h0m1.6 3h0m1.6 -3.5h0m1.5 2.4h0m1.6 -3.6h0m1.6 1.6h0m1.6 2.1h0m1.6 3.7h0m1.6 -8h0m1.6 1.7h0m1.5 0.4h0m1.6 4.2h0m1.6 -0.8h0m1.6 -5.1h0m1.6 3.4h0m1.6 5.8h0m1.6 -1.8h0m1.5 0.3h0m1.6 1.2h0m1.6 2.1h0m1.6 -8.6h0m1.6 1.2h0m1.6 2.2h0m1.6 4.9h0m1.5 -4h0m1.6 -2.6h0m1.6 -4.2h0m1.6 4.2h0m1.6 -7h0m1.6 4.2h0m1.6 4.6h0m1.6 10.6h0m1.5 -6.7h0m1.6 1.9h0m1.6 -6.8h0m1.6 -3.1h0m1.6 -6.1h0m1.6 6.8h0m1.6 6.1h0m1.5 -18.8h0m1.6 11h0m1.6 3h0m1.6 0h0m1.6 7.1h0m1.6 -10.3h0m1.6 2.6h0m1.5 -7.2h0m1.6 1.9h0m1.6 -0.2h0m1.6 -4.1h0m1.6 9h0m1.6 0.8h0m1.6 -2.7h0m1.6 8h0m1.5 -7.6h0m1.6 1.4h0m1.6 -6.9h0m1.6 4.7h0m1.6 13.2h0m1.6 -15.1h0m1.6 -11.4h0m1.5 23.8h0m1.6 -8.8h0m1.6 -6.7h0m1.6 10.1h0m1.6 -6.4h0m1.6 -4.7h0m1.6 11.6h0m1.5 -12.8h0m1.6 -0.4h0m1.6 15.2h0m1.6 -10h0m1.6 -8.4h0m1.6 10.9h0m1.6 -6h0m1.5 -2.7h0m1.6 7.4h0m1.6 -11.5h0m1.6 5.2h0m1.6 12.9h0m1.6 -14.1h0m1.6 -3.2h0m1.6 0.6h0m1.5 14.3h0m1.6 -10.6h0m1.6 -8.6h0m1.6 12h0m1.6 -9.2h0m1.6 -1.1h0m1.6 13.4h0m1.5 -8.2h0m1.6 9h0m1.6 -15.5h0m1.6 11.5h0m1.6 4.4h0m1.6 -5.6h0m1.6 1.1h0m1.5 -4.3h0m1.6 -1h0m1.6 17.5h0m1.6 -7.2h0m1.6 -12.8h0" stroke="#800000" stroke-width="7.2" stroke-linecap="round" fill="none"/>
<path d="M139.4 98.7 142.2 98.5 144.9 97.5 147.7 97" stroke="#d90000" stroke-width="10" stroke-linecap="round" stroke-linejoin="round" fill="none"/>
<path d="M188 97.1 190.8 96.8 193.5 96.7 196.3 96.7 199 97 201.8 97.6 204.5 98.1 207.3 98.5 210 98.8 212.8 98.7 215.5 98 218.3 97.4 221 97.2 223.8 97.1 226.5 96.8 229.2 96.5 232 96.6 234.7 97.9 237.5 99.9 240.2 101.4 243 101.8 245.7 101.1 248.5 99.6 251.2 98.5 254 98 256.7 97.9 259.5 97.7 262.2 97.5 265 97.1 267.7 96.8 270.5 96.5 273.2 96.4 276 96.3 278.7 96.4 281.5 96.7 284.2 96.9 287 96.7 289.7 96.2 292.5 95.9 295.2 96 298 96.7" stroke="#d90000" stroke-width="10" stroke-linecap="round" stroke-linejoin="round" fill="none"/>
<path d="M465.6 98.9 468.8 100.2 471.9 99.4 475.1 98.8 478.3 99.4 481.5 100.2 484.6 99.4 487.8 98.3 491 98.3 494.2 99.3 497.3 99.9 500.5 99.3 503.7 100.1 506.8 101.7 510 101.8 513.2 101.3 516.4 101.8 519.5 102.2 522.7 99 525.9 94.5 529.1 94.5 532.2 96.8 535.4 98.5 538.6 100.2 541.7 101.3 544.9 101 548.1 99.2 551.3 96.9 554.4 95.9 557.6 94.6 560.8 94 563.9 95.7 567.1 96.5 570.3 95.1 573.5 93.7 576.6 94.6 579.8 96.5 583 96.6 586.2 95.1 589.3 95.8 592.5 98.5 595.7 99.7 598.8 98.5 602 97.1 605.2 97.6 608.4 98 611.5 98.5 614.7 99.6 617.9 100.2 621.1 100.2 624.2 101.1 627.4 103.5 630.6 103.7 633.7 101.6 636.9 101 640.1 102 643.3 102.8 646.4 102.7 649.6 99.3 652.8 95.2 656 95.7 659.1 99.2 662.3 101.9 665.5 101.9 668.6 99.9 671.8 98.7 675 100.5 678.2 103.8 681.3 104.4 684.5 102.9 687.7 100.9 690.8 101.3 694 104.1 697.2 105.1 700.4 103.5 703.5 102.6 706.7 102.3 709.9 101.8 713.1 102.2 716.2 104 719.4 105.6 722.6 105.7 725.7 105.8 728.9 104.9 732.1 102.6 735.3 100.7 738.4 99.1 741.6 98 744.8 97.9 748 99.3 751.1 100.2 754.3 100.6 757.5 100.8 760.6 101.4 763.8 101.3 767 100.5 770.2 100.3 773.3 98.5 776.5 96.8 779.7 97.4 782.9 97.7 786 98.3 789.2 98.5 792.4 99.1 795.5 100.1 798.7 99.1 801.9 97.7 805.1 97.7 808.2 97.8" stroke="#d90000" stroke-width="4" stroke-linecap="round" stroke-linejoin="round" fill="none"/>
<path d="M137.6 99.7h0m0.9 -3.1h0m0.9 -2.9h0m0.9 8.9h0m1 -3.2h0m0.9 -8.8h0m0.9 2.7h0m0.9 -3.5h0m0.9 4.2h0m0.9 1.9h0m1 -3h0m0.9 1.1h0m0.9 0.7h0m0.9 3.6h0m0.9 3.8h0m0.9 1.1h0m1 -12.3h0m0.9 2.2h0m0.9 -8.2h0m0.9 -2.6h0m0.9 -4.6h0m0.9 -10.6h0m1 8.7h0m0.9 3.4h0m0.9 -20.7h0m0.9 15.1h0m0.9 -1.3h0m0.9 4.8h0m1 -6.9h0m0.9 3.8h0m0.9 -5.1h0m0.9 8.8h0m0.9 -6.7h0m0.9 9.2h0m1 -11.9h0m0.9 15.2h0m0.9 -5.1h0m0.9 -4.5h0m0.9 18.4h0m0.9 -10.7h0m1 5.7h0m0.9 5.2h0m0.9 -1.6h0m0.9 -12.7h0m0.9 10.4h0m0.9 3.2h0m1 3h0m0.9 -5.1h0m0.9 -4.2h0m0.9 5.2h0m0.9 -3.5h0m0.9 2.2h0m1 14h0m0.9 -5.4h0m0.9 1.1h0m0.9 -2.4h0m0.9 4.1h0m0.9 -4.2h0m1 4.6h0m0.9 -6.4h0m0.9 2.9h0m0.9 3.7h0m0.9 -1.5h0m0.9 0.8h0m1 -3.5h0m0.9 -3h0m0.9 3.5h0m0.9 2.2h0m0.9 -0.7h0m0.9 -2.4h0m1 7.1h0m0.9 -7.9h0m0.9 0.7h0m0.9 7.9h0m0.9 -9.7h0m0.9 7.7h0m1 -3.7h0m0.9 -3.7h0m0.9 7.7h0m0.9 0.7h0m0.9 -1.9h0m0.9 -0.1h0m1 -2.6h0m0.9 0.8h0m0.9 -0.3h0m0.9 -0.3h0m0.9 -1.1h0m0.9 1.6h0m1 -3.3h0m0.9 0.8h0m0.9 2.6h0m0.9 -7.7h0m0.9 8.4h0m0.9 -5.4h0m1 3.9h0m0.9 -3h0m0.9 -0.6h0m0.9 -1h0m0.9 -1.6h0m0.9 5.9h0m0.9 -10.1h0m1 6.6h0m0.9 3.3h0m0.9 1.6h0m0.9 -9.7h0m0.9 2.4h0m0.9 5h0m1 -1.5h0m0.9 -0.8h0m0.9 3.9h0m0.9 2.1h0m0.9 -0.6h0m0.9 -2h0m1 2.5h0m0.9 3.6h0m0.9 -5.4h0m0.9 6.6h0m0.9 -2.9h0m0.9 -5.8h0m1 2.3h0m0.9 -0.5h0m0.9 -0.2h0m0.9 -2.9h0m0.9 2.5h0m0.9 4.8h0m1 -6.1h0m0.9 8.8h0m0.9 -2.8h0m0.9 -9.9h0m0.9 1.4h0m0.9 4h0m1 -1.1h0m0.9 -0.5h0m0.9 -2.5h0m0.9 4.7h0m0.9 0.2h0m0.9 -0.7h0m1 -2.2h0m0.9 -0.5h0m0.9 1.7h0m0.9 -3.3h0m0.9 4.8h0m0.9 -2.7h0m1 1.6h0m0.9 0.7h0m0.9 -6.1h0m0.9 4.2h0m0.9 1.8h0m0.9 -2.9h0m1 2.8h0m0.9 -4.3h0m0.9 -0.8h0m0.9 -0.5h0m0.9 5.7h0m0.9 -2.4h0m1 -5.3h0m0.9 5.7h0m0.9 -3.9h0m0.9 -0.6h0m0.9 7.9h0m0.9 -7h0m1 1.3h0m0.9 -0.5h0m0.9 -2.3h0m0.9 3.2h0m0.9 0.9h0m0.9 -1.6h0m1 2.4h0m0.9 -2.4h0m0.9 6.7h0m0.9 -10.2h0m0.9 6.2h0m0.9 -2.8h0m1 0.8h0m0.9 0.8h0m0.9 0.3h0m0.9 0.4h0m0.9 4.9h0m0.9 -2.7h0m163.3 1.3h0m1.6 0.7h0m1.6 -4h0m1.6 6.4h0m1.6 -0.6h0m1.5 -2.4h0m1.6 -3.1h0m1.6 -0.1h0m1.6 3.4h0m1.6 -0.2h0m1.6 -0.6h0m1.6 1.7h0m1.6 1.1h0m1.5 0.1h0m1.6 -5.8h0m1.6 2.1h0m1.6 -8.8h0m1.6 6.5h0m1.6 4.2h0m1.6 -1.5h0m1.5 -0.5h0m1.6 0h0m1.6 -0.4h0m1.6 -0.3h0m1.6 1.8h0m1.6 -1.5h0m1.6 -3.5h0m1.5 8.1h0m1.6 0.1h0m1.6 -3.3h0m1.6 -1.8h0m1.6 1h0m1.6 -1h0m1.6 3.9h0m1.5 1h0m1.6 -2.5h0m1.6 -1.1h0m1.6 -4.9h0m1.6 -2.3h0m1.6 7.6h0m1.6 -7.9h0m1.6 4.7h0m1.5 5.2h0m1.6 -6h0m1.6 2.5h0m1.6 1.3h0m1.6 3.5h0m1.6 0.1h0m1.6 -1.6h0m1.5 4h0m1.6 -3.8h0m1.6 -1h0m1.6 0.1h0m1.6 -2.4h0m1.6 -0.2h0m1.6 2.1h0m1.5 -1h0m1.6 -3.7h0m1.6 -2.9h0m1.6 1.5h0m1.6 1.3h0m1.6 -1.9h0m1.6 6.3h0m1.5 -1.3h0m1.6 -1h0m1.6 -0.8h0m1.6 0.2h0m1.6 -1.1h0m1.6 1.7h0m1.6 -2.2h0m1.6 -2.1h0m1.5 6.6h0m1.6 -0.7h0m1.6 -1.6h0m1.6 -4.8h0m1.6 2h0m1.6 -3.3h0m1.6 -0.1h0m1.5 5h0m1.6 -0.3h0m1.6 4.4h0m1.6 -5.2h0m1.6 2.2h0m1.6 0.6h0m1.6 -0.5h0m1.5 -0.3h0m1.6 -0.2h0m1.6 -0.7h0m1.6 -2.6h0m1.6 6.1h0m1.6 1h0m1.6 -2.8h0m1.6 -3.1h0m1.5 2.9h0m1.6 1.8h0m1.6 -2.3h0m1.6 2.4h0m1.6 5.9h0m1.6 -2.5h0m1.6 3h0m1.5 -5.1h0m1.6 1.3h0m1.6 -1.3h0m1.6 -3.5h0m1.6 8.2h0m1.6 -2.1h0m1.6 0.1h0m1.5 5.8h0m1.6 -6.4h0m1.6 -0.1h0m1.6 -2.4h0m1.6 3.7h0m1.6 1.8h0m1.6 -5h0m1.5 2.1h0m1.6 2h0m1.6 -1.7h0m1.6 -3.4h0m1.6 -5.6h0m1.6 -3.3h0m1.6 7.3h0m1.6 -6.1h0m1.5 4.8h0m1.6 1h0m1.6 -0.1h0m1.6 6.5h0m1.6 -4.8h0m1.6 5.8h0m1.6 -3.3h0m1.5 0h0m1.6 -8.1h0m1.6 -0.2h0m1.6 3h0m1.6 2h0m1.6 4.8h0m1.6 -5.2h0m1.5 1.7h0m1.6 1.4h0m1.6 2.5h0m1.6 -0.2h0m1.6 -2h0m1.6 -5.5h0m1.6 7.2h0m1.5 -2.8h0m1.6 -3.8h0m1.6 3.9h0m1.6 -2.1h0m1.6 4.6h0m1.6 -0.7h0m1.6 -4.5h0m1.6 2h0m1.5 0.9h0m1.6 3.1h0m1.6 3.6h0m1.6 -11.8h0m1.6 7.2h0m1.6 1.3h0m1.6 -6h0m1.5 7.9h0m1.6 3h0m1.6 -2.3h0m1.6 -1.5h0m1.6 -1.3h0m1.6 -1.1h0m1.6 -2h0m1.5 4.8h0m1.6 -2.3h0m1.6 1.4h0m1.6 1.3h0m1.6 -6h0m1.6 -0.8h0m1.6 -8h0m1.6 5.1h0m1.5 5.4h0m1.6 -6.9h0m1.6 3.7h0m1.6 -9.4h0m1.6 16.6h0m1.6 -4.6h0m1.6 0.8h0m1.5 -3.4h0m1.6 1.6h0m1.6 7.9h0m1.6 1.7h0m1.6 -10.8h0m1.6 -6.8h0m1.6 0.2h0m1.5 10.5h0m1.6 -4.6h0m1.6 7.2h0m1.6 2.8h0m1.6 -15.5h0m1.6 3h0m1.6 5.7h0m1.5 -0.4h0m1.6 -8.7h0m1.6 2.3h0m1.6 3.4h0m1.6 -3.6h0m1.6 2.2h0m1.6 2.7h0m1.6 2h0m1.5 -9.9h0m1.6 9h0m1.6 4.7h0m1.6 -19h0m1.6 3.6h0m1.6 5.1h0m1.6 4.5h0m1.5 -1.4h0m1.6 10.6h0m1.6 -10.1h0m1.6 -2.9h0m1.6 2.7h0m1.6 -4.5h0m1.6 8.3h0m1.5 -6.3h0m1.6 12.2h0m1.6 -10.7h0m1.6 4.4h0m1.6 5.3h0" stroke="#d90000" stroke-width="7.2" stroke-linecap="round" fill="none"/>
<path d="M139.4 145.7 142.2 144.8 144.9 144.6 147.7 144.8" stroke="#ff3c00" stroke-width="10" stroke-linecap="round" stroke-linejoin="round" fill="none"/>
<path d="M188 143.1 190.8 143 193.5 142.9 196.3 143.2 199 144.1 201.8 144.9 204.5 144.9 207.3 144.3 210 143.5 212.8 142.4 215.5 141.2 218.3 140.2 221 139.8 223.8 140.2 226.5 141.1 229.2 141.9 232 142.6 234.7 143 237.5 142.6 240.2 141.8 243 141.2 245.7 141.5 248.5 142.5 251.2 143.8 254 144.3 256.7 144.2 259.5 144.1 262.2 144.1 265 144.1 267.7 144 270.5 143.1 273.2 142 276 142 278.7 143 281.5 144.1 284.2 144.2 287 143.3 289.7 142.4 292.5 142.1 295.2 142.4 298 143" stroke="#ff3c00" stroke-width="10" stroke-linecap="round" stroke-linejoin="round" fill="none"/>
<path d="M465.6 139.8 468.8 139.2 471.9 139 475.1 138.9 478.3 138.8 481.5 139.4 484.6 140.8 487.8 141.2 491 141.2 494.2 142.3 497.3 142.1 500.5 139 503.7 136.8 506.8 138.5 510 142.2 513.2 143.8 516.4 141.9 519.5 140 522.7 139.5 525.9 139.4 529.1 139 532.2 140.2 535.4 141.3 538.6 141 541.7 141.7 544.9 142.9 548.1 143.2 551.3 142.4 554.4 142.9 557.6 144.3 560.8 144.8 563.9 143.6 567.1 141.2 570.3 140.2 573.5 141.5 576.6 143.2 579.8 144.4 583 145.7 586.2 145.4 589.3 144 592.5 143.2 595.7 141.8 598.8 139.7 602 137.8 605.2 135.1 608.4 134.3 611.5 136.7 614.7 138.9 617.9 139.8 621.1 139.4 624.2 138 627.4 137.2 630.6 137.8 633.7 140 636.9 140.9 640.1 139 643.3 136.9 646.4 137.2 649.6 139.9 652.8 142.3 656 143.4 659.1 143.7 662.3 143.5 665.5 144 668.6 143.8 671.8 141.5 675 140 678.2 140.7 681.3 142.2 684.5 144.6 687.7 147.7 690.8 148.1 694 145.3 697.2 142.5 700.4 142.5 703.5 143.9 706.7 144.9 709.9 144.9 713.1 145.4 716.2 145.6 719.4 144.4 722.6 141.8 725.7 138.9 728.9 138.6 732.1 139.6 735.3 141.1 738.4 142.2 741.6 141.6 744.8 140.2 748 139.2 751.1 139.3 754.3 139.7 757.5 139.9 760.6 138.9 763.8 139.9 767 141.7 770.2 139.6 773.3 138.1 776.5 139.7 779.7 141.2 782.9 140.9 786 139.9 789.2 140 792.4 140.8 795.5 141.9 798.7 143.3 801.9 143.2 805.1 142.1 808.2 142.4" stroke="#ff3c00" stroke-width="4" stroke-linecap="round" stroke-linejoin="round" fill="none"/>
<path d="M137.6 145.6h0m0.9 3.7h0m0.9 -4.7h0m0.9 -6.2h0m1 14.1h0m0.9 -7.6h0m0.9 7.2h0m0.9 -5.7h0m0.9 0.6h0m0.9 -5.9h0m1 -2.4h0m0.9 10.3h0m0.9 -7.7h0m0.9 4.8h0m0.9 -2.6h0m0.9 -4.1h0m1 2h0m0.9 1.9h0m0.9 -12.1h0m0.9 -1.8h0m0.9 -4.8h0m0.9 -7.6h0m1 -0.8h0m0.9 1.1h0m0.9 6.7h0m0.9 -2.6h0m0.9 3.3h0m0.9 -7.9h0m1 10.9h0m0.9 -4.4h0m0.9 -1h0m0.9 -5.1h0m0.9 1.3h0m0.9 -5.4h0m1 16.1h0m0.9 -1h0m0.9 -10h0m0.9 16.1h0m0.9 -3.5h0m0.9 10.4h0m1 -23.7h0m0.9 11h0m0.9 13.3h0m0.9 5.3h0m0.9 -10.6h0m0.9 -4h0m1 3.7h0m0.9 -6.7h0m0.9 5.5h0m0.9 4.4h0m0.9 1.8h0m0.9 -0.7h0m1 12.9h0m0.9 -6.6h0m0.9 -0.6h0m0.9 0.3h0m0.9 -4.8h0m0.9 3.4h0m1 -1.2h0m0.9 -2.7h0m0.9 4.4h0m0.9 -4.4h0m0.9 -4.3h0m0.9 6.6h0m1 -2.9h0m0.9 0.8h0m0.9 5.7h0m0.9 0.7h0m0.9 -3.4h0m0.9 6h0m1 -5.6h0m0.9 -0.5h0m0.9 -0.6h0m0.9 0h0m0.9 -2.5h0m0.9 4.2h0m1 -4.7h0m0.9 1.9h0m0.9 -0.2h0m0.9 1.5h0m0.9 -3.3h0m0.9 4.2h0m1 -4.4h0m0.9 -1.4h0m0.9 4.4h0m0.9 0.3h0m0.9 -0.9h0m0.9 -2.3h0m1 -1.3h0m0.9 -1.6h0m0.9 -2.9h0m0.9 0.7h0m0.9 3.7h0m0.9 1.9h0m1 2.4h0m0.9 -5.2h0m0.9 1.1h0m0.9 2.5h0m0.9 0h0m0.9 0.1h0m0.9 6.9h0m1 -6.6h0m0.9 -0.8h0m0.9 1.5h0m0.9 2.7h0m0.9 -2.9h0m0.9 -1.1h0m1 -3.5h0m0.9 1.8h0m0.9 1h0m0.9 1.5h0m0.9 3.2h0m0.9 -2.6h0m1 2.1h0m0.9 -3.6h0m0.9 -3.2h0m0.9 0h0m0.9 0.5h0m0.9 2.5h0m1 -2.3h0m0.9 3.8h0m0.9 4.9h0m0.9 -5.1h0m0.9 0.7h0m0.9 5.1h0m1 -3h0m0.9 5.3h0m0.9 -5.2h0m0.9 -4.5h0m0.9 4.9h0m0.9 -5.3h0m1 2.9h0m0.9 2.6h0m0.9 2.7h0m0.9 -6.8h0m0.9 0.2h0m0.9 5.8h0m1 -2.8h0m0.9 -4.1h0m0.9 5h0m0.9 -3.1h0m0.9 6.3h0m0.9 -2.9h0m1 -4.6h0m0.9 4.8h0m0.9 0.3h0m0.9 -0.5h0m0.9 -3.1h0m0.9 2.9h0m1 -4.1h0m0.9 -1.8h0m0.9 -2.5h0m0.9 5.4h0m0.9 -5h0m0.9 3.3h0m1 2.5h0m0.9 -1.6h0m0.9 -2.4h0m0.9 0.2h0m0.9 2h0m0.9 2.2h0m1 -2.7h0m0.9 1.3h0m0.9 -0.2h0m0.9 -0.6h0m0.9 -4.4h0m0.9 7.8h0m1 -3.2h0m0.9 2.6h0m0.9 -5.2h0m0.9 -0.7h0m0.9 -0.5h0m0.9 4.7h0m1 -0.9h0m0.9 -1.7h0m0.9 1.7h0m0.9 -0.1h0m0.9 0.5h0m0.9 0h0m163.3 -8.1h0m1.6 7.8h0m1.6 -2.6h0m1.6 -0.4h0m1.6 -1.9h0m1.5 0.8h0m1.6 0.6h0m1.6 -5.6h0m1.6 6h0m1.6 -1.8h0m1.6 0.9h0m1.6 2.7h0m1.6 -3.1h0m1.5 8.1h0m1.6 -8.2h0m1.6 7.7h0m1.6 -3.6h0m1.6 -1.1h0m1.6 2.2h0m1.6 0.7h0m1.5 -4.6h0m1.6 -4h0m1.6 2.5h0m1.6 0.8h0m1.6 0.8h0m1.6 -0.3h0m1.6 -5.2h0m1.5 2.2h0m1.6 0.5h0m1.6 2.8h0m1.6 0.4h0m1.6 5.8h0m1.6 -0.2h0m1.6 -0.5h0m1.5 -3.9h0m1.6 -0.3h0m1.6 -1.3h0m1.6 3.6h0m1.6 -3.9h0m1.6 -1.9h0m1.6 1.8h0m1.6 7.8h0m1.5 -7.3h0m1.6 1.8h0m1.6 -2.8h0m1.6 3.4h0m1.6 -2.5h0m1.6 2.8h0m1.6 -1.9h0m1.5 -1.3h0m1.6 4.2h0m1.6 -1.1h0m1.6 0.7h0m1.6 -1.3h0m1.6 1.7h0m1.6 -2.1h0m1.5 6.6h0m1.6 -4.1h0m1.6 -2.2h0m1.6 1.1h0m1.6 5.1h0m1.6 -0.4h0m1.6 -3.8h0m1.5 -0.7h0m1.6 -1.5h0m1.6 -0.1h0m1.6 -1h0m1.6 -2.8h0m1.6 6.1h0m1.6 2.2h0m1.6 -5.9h0m1.5 5.7h0m1.6 -3.5h0m1.6 4.5h0m1.6 2h0m1.6 -6.9h0m1.6 4.7h0m1.6 3.3h0m1.5 -4.1h0m1.6 -0.8h0m1.6 -0.3h0m1.6 -1.4h0m1.6 3.2h0m1.6 -3.3h0m1.6 -3.3h0m1.5 -1.5h0m1.6 0.7h0m1.6 1.5h0m1.6 2h0m1.6 -11.2h0m1.6 6.5h0m1.6 -1.8h0m1.6 -0.3h0m1.5 0.2h0m1.6 2.6h0m1.6 3.1h0m1.6 -1.6h0m1.6 -5.7h0m1.6 -1.2h0m1.6 7.4h0m1.5 -3.1h0m1.6 6h0m1.6 -6.1h0m1.6 -1.7h0m1.6 3h0m1.6 -5.6h0m1.6 3.7h0m1.5 2h0m1.6 10h0m1.6 -5.6h0m1.6 -4.5h0m1.6 2.2h0m1.6 2.3h0m1.6 -4.2h0m1.5 -6.1h0m1.6 2.9h0m1.6 0.6h0m1.6 3.5h0m1.6 -2.6h0m1.6 13.4h0m1.6 -3.9h0m1.6 -8.4h0m1.5 2.8h0m1.6 2.3h0m1.6 1.5h0m1.6 4.1h0m1.6 -3.8h0m1.6 -0.4h0m1.6 2.4h0m1.5 -6.9h0m1.6 0h0m1.6 2.4h0m1.6 -4.4h0m1.6 2.2h0m1.6 -0.8h0m1.6 2.8h0m1.5 -8.1h0m1.6 12.7h0m1.6 -3.1h0m1.6 -2.3h0m1.6 1.7h0m1.6 9.9h0m1.6 -1.5h0m1.5 -3h0m1.6 1.2h0m1.6 -2h0m1.6 -3.1h0m1.6 -1.5h0m1.6 -4.7h0m1.6 10.2h0m1.6 -9.1h0m1.5 5.3h0m1.6 -2.3h0m1.6 3.8h0m1.6 -10h0m1.6 15.5h0m1.6 -11.2h0m1.6 6.6h0m1.5 -0.6h0m1.6 -6.5h0m1.6 5.9h0m1.6 -5.1h0m1.6 -3.4h0m1.6 6.8h0m1.6 -12.4h0m1.5 1.9h0m1.6 5.6h0m1.6 -1.7h0m1.6 4.4h0m1.6 -3.8h0m1.6 -1.8h0m1.6 0.2h0m1.6 4.1h0m1.5 3.7h0m1.6 0.5h0m1.6 1h0m1.6 -3.7h0m1.6 -4.9h0m1.6 4.9h0m1.6 0.1h0m1.5 1.8h0m1.6 -7.6h0m1.6 4.1h0m1.6 6.9h0m1.6 -13.1h0m1.6 0.2h0m1.6 4.6h0m1.5 1.4h0m1.6 -1.5h0m1.6 5.5h0m1.6 -8.7h0m1.6 -1.4h0m1.6 1.1h0m1.6 2.7h0m1.5 -1.2h0m1.6 -1.9h0m1.6 -5.8h0m1.6 14.6h0m1.6 -3.3h0m1.6 4.2h0m1.6 3h0m1.6 -8.9h0m1.5 -5h0m1.6 11.9h0m1.6 -11.8h0m1.6 2h0m1.6 1.6h0m1.6 -4.8h0m1.6 12.2h0m1.5 -12.7h0m1.6 12.4h0m1.6 -4.8h0m1.6 12.7h0m1.6 -15.5h0m1.6 5.2h0m1.6 3.1h0m1.5 2.8h0m1.6 -7.2h0m1.6 -6.1h0m1.6 6.1h0m1.6 6.4h0" stroke="#ff3c00" stroke-width="7.2" stroke-linecap="round" fill="none"/>
<path d="M139.4 186.6 142.2 186.4 144.9 186.4 147.7 186.2" stroke="#ff8500" stroke-width="10" stroke-linecap="round" stroke-linejoin="round" fill="none"/>
<path d="M188 186.9 190.8 186.7 193.5 186.4 196.3 185.7 199 184.8 201.8 183.9 204.5 183.7 207.3 184 210 184.5 212.8 185.2 215.5 186.3 218.3 187.6 221 188.1 223.8 187.9 226.5 187.4 229.2 187.2 232 186.9 234.7 186.5 237.5 186.2 240.2 186.3 243 186.7 245.7 187 248.5 186.3 251.2 185 254 184.2 256.7 184.3 259.5 184.7 262.2 184.8 265 184.7 267.7 184.8 270.5 185.6 273.2 186.6 276 186.7 278.7 185.8 281.5 185 284.2 185.1 287 185.8 289.7 186.3 292.5 186.2 295.2 186 298 186.1" stroke="#ff8500" stroke-width="10" stroke-linecap="round" stroke-linejoin="round" fill="none"/>
<path d="M465.6 193.1 468.8 191.3 471.9 185.9 475.1 183.9 478.3 184.1 481.5 184.7 484.6 186 487.8 188.3 491 190 494.2 188.8 497.3 187.7 500.5 187.5 503.7 186.7 506.8 186.6 510 185.7 513.2 185.2 516.4 186.4 519.5 187.3 522.7 186.6 525.9 185.4 529.1 186 532.2 185.9 535.4 184.3 538.6 184.3 541.7 185.6 544.9 186.2 548.1 185.8 551.3 185.9 554.4 185.6 557.6 183.5 560.8 182.7 563.9 181.7 567.1 182.7 570.3 187.1 573.5 190.4 576.6 190.8 579.8 187.1 583 183 586.2 182.8 589.3 183.6 592.5 183.8 595.7 184.7 598.8 186.2 602 187.8 605.2 187.6 608.4 185.7 611.5 184.6 614.7 185.4 617.9 187 621.1 187 624.2 185.2 627.4 185.5 630.6 186.3 633.7 184.7 636.9 184.2 640.1 184.6 643.3 185.1 646.4 186.2 649.6 186.4 652.8 184.8 656 183.1 659.1 186 662.3 190.8 665.5 191.1 668.6 188.9 671.8 187.4 675 186.7 678.2 187.5 681.3 187.8 684.5 187 687.7 187.3 690.8 187 694 186.9 697.2 186.9 700.4 185.9 703.5 185.1 706.7 186.1 709.9 187 713.1 185.2 716.2 185 719.4 187.7 722.6 189.5 725.7 189.5 728.9 187.3 732.1 185 735.3 186.5 738.4 190.2 741.6 192.4 744.8 193.1 748 193.8 751.1 193 754.3 190.4 757.5 188.6 760.6 189 763.8 191.2 767 192 770.2 190.6 773.3 190.2 776.5 192.4 779.7 194.8 782.9 196.9 786 197.7 789.2 199.4 792.4 201.8 795.5 201.6 798.7 199.3 801.9 197.9 805.1 199.8 808.2 203.3" stroke="#ff8500" stroke-width="4" stroke-linecap="round" stroke-linejoin="round" fill="none"/>
<path d="M137.6 187.3h0m0.9 -0.5h0m0.9 -5.6h0m0.9 6.8h0m1 -5.1h0m0.9 -8.9h0m0.9 14.4h0m0.9 -0.2h0m0.9 4.6h0m0.9 -2.6h0m1 -7.9h0m0.9 -3.6h0m0.9 7.5h0m0.9 2.8h0m0.9 -6.1h0m0.9 3.3h0m1 5.6h0m0.9 -5h0m0.9 -14.6h0m0.9 0.9h0m0.9 -7.2h0m0.9 -4.2h0m1 -4.3h0m0.9 -5.9h0m0.9 17.8h0m0.9 -18.4h0m0.9 11.2h0m0.9 -5.2h0m1 4.1h0m0.9 -1.8h0m0.9 -1.7h0m0.9 9.8h0m0.9 1.3h0m0.9 1.2h0m1 -12.7h0m0.9 17.1h0m0.9 -3.7h0m0.9 -8.3h0m0.9 6.5h0m0.9 8.2h0m1 5.7h0m0.9 -17.2h0m0.9 11.7h0m0.9 6.8h0m0.9 -7.5h0m0.9 -2.1h0m1 16.8h0m0.9 -12.1h0m0.9 -0.6h0m0.9 2.2h0m0.9 1h0m0.9 8.3h0m1 8.3h0m0.9 -4.8h0m0.9 -4.5h0m0.9 -2.1h0m0.9 -0.1h0m0.9 -3.4h0m1 3.3h0m0.9 0.1h0m0.9 -1.3h0m0.9 2h0m0.9 -5.9h0m0.9 5.9h0m1 0.5h0m0.9 -1.3h0m0.9 -4.8h0m0.9 4.4h0m0.9 0.1h0m0.9 -3.8h0m1 -1.8h0m0.9 4.1h0m0.9 -3.1h0m0.9 3.6h0m0.9 -5.3h0m0.9 6.6h0m1 -1.9h0m0.9 0.6h0m0.9 1.5h0m0.9 -2.1h0m0.9 -1.8h0m0.9 4.1h0m1 -6.9h0m0.9 4.7h0m0.9 0.2h0m0.9 3.3h0m0.9 -1.4h0m0.9 -2.1h0m1 5.4h0m0.9 -0.6h0m0.9 0.6h0m0.9 1.3h0m0.9 -5.1h0m0.9 3.7h0m1 -6.6h0m0.9 7.5h0m0.9 -2.6h0m0.9 -1.1h0m0.9 2.6h0m0.9 3h0m0.9 -4h0m1 -1.7h0m0.9 2.3h0m0.9 -3.3h0m0.9 5.5h0m0.9 -5.8h0m0.9 -4.9h0m1 2.8h0m0.9 -0.2h0m0.9 3.6h0m0.9 0.1h0m0.9 -4.1h0m0.9 3.9h0m1 -2.5h0m0.9 4.5h0m0.9 -3.5h0m0.9 0.8h0m0.9 6.5h0m0.9 -5.6h0m1 -1.9h0m0.9 -0.2h0m0.9 0.1h0m0.9 -2.8h0m0.9 3.1h0m0.9 1.4h0m1 -4.8h0m0.9 -3.5h0m0.9 6.4h0m0.9 -5h0m0.9 4.6h0m0.9 3.5h0m1 -1.4h0m0.9 0.1h0m0.9 -5.3h0m0.9 2.9h0m0.9 1.8h0m0.9 -1.9h0m1 -3.4h0m0.9 3.9h0m0.9 1.7h0m0.9 -2.9h0m0.9 3.2h0m0.9 -3.4h0m1 -1.1h0m0.9 2.4h0m0.9 2h0m0.9 -1.1h0m0.9 4.4h0m0.9 -7.7h0m1 -1.9h0m0.9 6.3h0m0.9 5.4h0m0.9 -3.9h0m0.9 1.7h0m0.9 0.8h0m1 -4.9h0m0.9 -0.3h0m0.9 1.1h0m0.9 -4.7h0m0.9 2.9h0m0.9 2.8h0m1 -3.5h0m0.9 4.7h0m0.9 -2.1h0m0.9 1.5h0m0.9 -2.8h0m0.9 1.6h0m1 0.8h0m0.9 -2.3h0m0.9 -0.6h0m0.9 0.5h0m0.9 -2.4h0m0.9 5.7h0m1 -3.9h0m0.9 -3.3h0m0.9 4.5h0m0.9 6h0m0.9 -8.4h0m0.9 3.3h0m163.3 5.4h0m1.6 7.9h0m1.6 -12.9h0m1.6 3.7h0m1.6 -1.9h0m1.5 -7.2h0m1.6 1.1h0m1.6 2.4h0m1.6 -2.2h0m1.6 -0.2h0m1.6 1.8h0m1.6 6.5h0m1.6 -6.6h0m1.5 3.8h0m1.6 1.4h0m1.6 -1.9h0m1.6 -4.8h0m1.6 10h0m1.6 -4.5h0m1.6 4.2h0m1.5 -0.4h0m1.6 -3.9h0m1.6 -3.7h0m1.6 1.7h0m1.6 -0.5h0m1.6 -3h0m1.6 2h0m1.5 3h0m1.6 0.8h0m1.6 -2.4h0m1.6 -2.4h0m1.6 1.9h0m1.6 0.3h0m1.6 1.6h0m1.5 1.3h0m1.6 1.4h0m1.6 -1.3h0m1.6 -7.9h0m1.6 1.3h0m1.6 -1.3h0m1.6 3.7h0m1.6 1.2h0m1.5 -2.4h0m1.6 3h0m1.6 -5.2h0m1.6 2.1h0m1.6 -2.2h0m1.6 4.8h0m1.6 -6.8h0m1.5 5.3h0m1.6 -0.8h0m1.6 4.1h0m1.6 -0.4h0m1.6 -4.1h0m1.6 6.6h0m1.6 -8h0m1.5 5.3h0m1.6 -4.9h0m1.6 3.5h0m1.6 -2.7h0m1.6 -1h0m1.6 -2.6h0m1.6 4.6h0m1.5 -4.5h0m1.6 0.7h0m1.6 -0.3h0m1.6 6.6h0m1.6 0h0m1.6 4h0m1.6 0.4h0m1.6 -3.5h0m1.5 -0.6h0m1.6 4.6h0m1.6 -4.5h0m1.6 -2.7h0m1.6 0.9h0m1.6 -2.2h0m1.6 2.3h0m1.5 -4.1h0m1.6 4.6h0m1.6 -6.7h0m1.6 9.7h0m1.6 -6.8h0m1.6 0.5h0m1.6 4.3h0m1.5 3.8h0m1.6 -4.5h0m1.6 4.6h0m1.6 -6.3h0m1.6 2.4h0m1.6 -0.5h0m1.6 -1.4h0m1.6 -2.6h0m1.5 1.9h0m1.6 -1.4h0m1.6 1.1h0m1.6 3.3h0m1.6 -3.8h0m1.6 -1h0m1.6 1h0m1.5 1.9h0m1.6 -2.5h0m1.6 4.7h0m1.6 -0.2h0m1.6 0.9h0m1.6 -0.7h0m1.6 -4.7h0m1.5 3.7h0m1.6 -1h0m1.6 2.5h0m1.6 -2h0m1.6 2.8h0m1.6 -7.1h0m1.6 3.4h0m1.5 -2.4h0m1.6 -0.7h0m1.6 2.7h0m1.6 0.3h0m1.6 0h0m1.6 0.6h0m1.6 3.7h0m1.6 -7.2h0m1.5 3.3h0m1.6 2.9h0m1.6 1.5h0m1.6 0.6h0m1.6 -1.2h0m1.6 4.2h0m1.6 -0.3h0m1.5 -7.6h0m1.6 0.6h0m1.6 -1.4h0m1.6 2.5h0m1.6 3h0m1.6 -7.5h0m1.6 0.7h0m1.5 5.8h0m1.6 -3.1h0m1.6 -2.6h0m1.6 -4.6h0m1.6 3.9h0m1.6 2.2h0m1.6 2.5h0m1.5 0.5h0m1.6 -1.5h0m1.6 2.1h0m1.6 -4.2h0m1.6 1.5h0m1.6 0.9h0m1.6 2.1h0m1.6 -4.4h0m1.5 1.3h0m1.6 -2.4h0m1.6 5.6h0m1.6 -5.2h0m1.6 3.1h0m1.6 -8.4h0m1.6 9h0m1.5 -11h0m1.6 -3.3h0m1.6 12.6h0m1.6 -6.9h0m1.6 4.6h0m1.6 10.2h0m1.6 -2.4h0m1.5 -6.7h0m1.6 2h0m1.6 -3.8h0m1.6 0.4h0m1.6 -5.3h0m1.6 7.5h0m1.6 4.9h0m1.6 0.2h0m1.5 -1h0m1.6 5.3h0m1.6 -3.1h0m1.6 1.2h0m1.6 0.8h0m1.6 -0.8h0m1.6 1.9h0m1.5 -6.5h0m1.6 3.4h0m1.6 -4.4h0m1.6 9.2h0m1.6 -8.2h0m1.6 1.8h0m1.6 7.2h0m1.5 -19.3h0m1.6 17.8h0m1.6 -9.6h0m1.6 1h0m1.6 -2h0m1.6 7.6h0m1.6 10.2h0m1.5 -17.2h0m1.6 4.1h0m1.6 -3.2h0m1.6 5.6h0m1.6 -6.6h0m1.6 5.3h0m1.6 5.9h0m1.6 -14.3h0m1.5 17.2h0m1.6 9.2h0m1.6 -12.3h0m1.6 -1h0m1.6 0.8h0m1.6 7.4h0m1.6 -2.8h0m1.5 4.4h0m1.6 -3.5h0m1.6 -7.6h0m1.6 6h0m1.6 -7.8h0m1.6 6.3h0m1.6 -0.7h0m1.5 4.3h0m1.6 -7.3h0m1.6 7.4h0m1.6 5.7h0m1.6 -6.1h0" stroke="#ff8500" stroke-width="7.2" stroke-linecap="round" fill="none"/>
<path d="M139.4 232.4 142.2 232.6 144.9 231.3 147.7 230.2" stroke="#ffce00" stroke-width="10" stroke-linecap="round" stroke-linejoin="round" fill="none"/>
<path d="M188 228 190.8 228.5 193.5 229.4 196.3 230 199 229.7 201.8 228.7 204.5 227.8 207.3 227.4 210 228 212.8 229.2 215.5 229.9 218.3 229.5 221 228.7 223.8 228.5 226.5 229.6 229.2 231.6 232 233.4 234.7 233.8 237.5 233.1 240.2 232.1 243 231.5 245.7 231.6 248.5 232.5 251.2 233 254 232.6 256.7 231.7 259.5 231.1 262.2 231.3 265 232.1 267.7 232.1 270.5 231.4 273.2 231.3 276 231.8 278.7 232.1 281.5 231.8 284.2 231.2 287 231.1 289.7 232 292.5 233.1 295.2 232.7 298 231.3" stroke="#ffce00" stroke-width="10" stroke-linecap="round" stroke-linejoin="round" fill="none"/>
<path d="M465.6 233.1 468.8 232 471.9 230.8 475.1 228.8 478.3 226.1 481.5 225.8 484.6 226.6 487.8 226.7 491 228.2 494.2 230.2 497.3 231.1 500.5 231.8 503.7 231.7 506.8 229.8 510 226.6 513.2 226.2 516.4 229.2 519.5 230.4 522.7 229 525.9 228.3 529.1 227.9 532.2 226.1 535.4 225.9 538.6 228.7 541.7 231.5 544.9 232.4 548.1 230.7 551.3 228.5 554.4 227.4 557.6 228 560.8 230 563.9 230.3 567.1 229 570.3 228.7 573.5 228.3 576.6 227.9 579.8 227.4 583 228.2 586.2 230.8 589.3 232.3 592.5 231.7 595.7 231.2 598.8 229.6 602 228 605.2 228 608.4 227 611.5 225.7 614.7 225.7 617.9 226.4 621.1 228.1 624.2 228.7 627.4 227.6 630.6 226.4 633.7 225 636.9 224.4 640.1 225.5 643.3 227.9 646.4 229.1 649.6 229.9 652.8 229.8 656 228.8 659.1 229.6 662.3 230.1 665.5 228.8 668.6 227.1 671.8 225.3 675 224 678.2 223.8 681.3 225.5 684.5 228 687.7 229.4 690.8 229.8 694 227.6 697.2 225.3 700.4 226.5 703.5 227.6 706.7 225.1 709.9 221.8 713.1 221.3 716.2 221.5 719.4 221.7 722.6 223.3 725.7 225.9 728.9 227.9 732.1 227.6 735.3 227.3 738.4 227.6 741.6 227.4 744.8 228.2 748 228.4 751.1 227.1 754.3 226.2 757.5 225.7 760.6 225.9 763.8 225.9 767 222.5 770.2 220.7 773.3 223.6 776.5 225.2 779.7 223.5 782.9 222.4 786 222.4 789.2 222.9 792.4 224.5 795.5 225.8 798.7 226.7 801.9 228.3 805.1 228.4 808.2 226.5" stroke="#ffce00" stroke-width="4" stroke-linecap="round" stroke-linejoin="round" fill="none"/>
<path d="M137.6 228.4h0m0.9 1.4h0m0.9 -0.6h0m0.9 4.7h0m1 4.2h0m0.9 -3.5h0m0.9 -0.9h0m0.9 9.5h0m0.9 -8.3h0m0.9 -3.2h0m1 -5.8h0m0.9 3.7h0m0.9 0.1h0m0.9 0.2h0m0.9 -5.1h0m0.9 -5.4h0m1 17.2h0m0.9 0.7h0m0.9 -7.2h0m0.9 -8.7h0m0.9 -1.1h0m0.9 -12.9h0m1 6.9h0m0.9 -5.6h0m0.9 -4.7h0m0.9 5.8h0m0.9 4.9h0m0.9 -8.1h0m1 3.3h0m0.9 0h0m0.9 -2.3h0m0.9 2.6h0m0.9 -4h0m0.9 9h0m1 -6.7h0m0.9 20.1h0m0.9 -4.2h0m0.9 -8h0m0.9 -5.1h0m0.9 5.6h0m1 0.7h0m0.9 -5.6h0m0.9 13.7h0m0.9 0.5h0m0.9 -4.5h0m0.9 3.9h0m1 -4.1h0m0.9 -2.7h0m0.9 4.6h0m0.9 -2.9h0m0.9 -5h0m0.9 9.1h0m1 3.2h0m0.9 -7.6h0m0.9 10h0m0.9 5.6h0m0.9 -11.8h0m0.9 2.3h0m1 1h0m0.9 1.5h0m0.9 -0.6h0m0.9 1.9h0m0.9 -0.9h0m0.9 -3.2h0m1 5.5h0m0.9 0.6h0m0.9 -7.3h0m0.9 6h0m0.9 -2.2h0m0.9 0.8h0m1 -2.4h0m0.9 -0.5h0m0.9 1.1h0m0.9 2.6h0m0.9 -0.3h0m0.9 -2.8h0m1 -4.7h0m0.9 9.6h0m0.9 -4.2h0m0.9 -1.2h0m0.9 3.1h0m0.9 -1.7h0m1 1.3h0m0.9 -2h0m0.9 -2h0m0.9 5.3h0m0.9 -1.6h0m0.9 -0.6h0m1 0.5h0m0.9 0.1h0m0.9 5.4h0m0.9 -6.1h0m0.9 2.9h0m0.9 -1.7h0m1 -2.2h0m0.9 -0.1h0m0.9 3h0m0.9 0.5h0m0.9 0.1h0m0.9 2.7h0m0.9 -6.1h0m1 0.2h0m0.9 5.7h0m0.9 -4.2h0m0.9 2.5h0m0.9 5h0m0.9 -5.3h0m1 0.5h0m0.9 1.1h0m0.9 3.9h0m0.9 -2.6h0m0.9 4.2h0m0.9 -6.3h0m1 0.5h0m0.9 1.9h0m0.9 0.2h0m0.9 -6.8h0m0.9 7.5h0m0.9 -5.7h0m1 1.8h0m0.9 -2.7h0m0.9 7.9h0m0.9 -4.3h0m0.9 -2.8h0m0.9 3.8h0m1 3.3h0m0.9 1.3h0m0.9 -3.6h0m0.9 -4.8h0m0.9 -1.6h0m0.9 3.5h0m1 -2.4h0m0.9 -0.5h0m0.9 0.9h0m0.9 3.7h0m0.9 -4h0m0.9 4.7h0m1 -2.7h0m0.9 -1.5h0m0.9 -0.5h0m0.9 3.3h0m0.9 -3.3h0m0.9 -1.2h0m1 1.2h0m0.9 2.4h0m0.9 -1.1h0m0.9 0.6h0m0.9 -0.2h0m0.9 -1.6h0m1 -0.9h0m0.9 3.1h0m0.9 -1.7h0m0.9 1.4h0m0.9 0.4h0m0.9 2.9h0m1 -3.6h0m0.9 1.2h0m0.9 -1.2h0m0.9 -2.1h0m0.9 0.4h0m0.9 0h0m1 3h0m0.9 2.9h0m0.9 -3.1h0m0.9 -0.8h0m0.9 -0.2h0m0.9 -2.6h0m1 3.2h0m0.9 -2.6h0m0.9 5h0m0.9 1.8h0m0.9 -5.2h0m0.9 4.9h0m1 0.8h0m0.9 -3.1h0m0.9 -2.9h0m0.9 -2.4h0m0.9 2.5h0m0.9 -2.6h0m163.3 2.1h0m1.6 -1.1h0m1.6 5.6h0m1.6 -4.9h0m1.6 2.4h0m1.5 -5.6h0m1.6 -3.6h0m1.6 4.6h0m1.6 -1.6h0m1.6 7.6h0m1.6 -9.3h0m1.6 6.6h0m1.6 -2.6h0m1.5 -3.8h0m1.6 6.8h0m1.6 -10.9h0m1.6 8.6h0m1.6 -2.7h0m1.6 4.8h0m1.6 -2.5h0m1.5 4.1h0m1.6 -1.1h0m1.6 6.7h0m1.6 -8.9h0m1.6 0.9h0m1.6 2.6h0m1.6 -0.8h0m1.5 1h0m1.6 -2.6h0m1.6 -4.3h0m1.6 -0.9h0m1.6 -0.8h0m1.6 0.2h0m1.6 2h0m1.5 2.7h0m1.6 0.3h0m1.6 1h0m1.6 -4.9h0m1.6 4.9h0m1.6 0.1h0m1.6 -3.2h0m1.6 4.6h0m1.5 -4h0m1.6 2.4h0m1.6 -2.4h0m1.6 -11.8h0m1.6 15.6h0m1.6 -5.8h0m1.6 6h0m1.5 2.8h0m1.6 1.8h0m1.6 -5.8h0m1.6 2.2h0m1.6 -2.2h0m1.6 -5.8h0m1.6 7.4h0m1.5 1.4h0m1.6 -6.7h0m1.6 -3.4h0m1.6 4h0m1.6 -2.6h0m1.6 1.8h0m1.6 2.7h0m1.5 2.9h0m1.6 -3.2h0m1.6 -3.5h0m1.6 1.6h0m1.6 1.4h0m1.6 -1.3h0m1.6 0.9h0m1.6 -2.5h0m1.5 2.7h0m1.6 -5.5h0m1.6 3.2h0m1.6 0.7h0m1.6 6.2h0m1.6 2.3h0m1.6 -4.2h0m1.5 1.9h0m1.6 -6.3h0m1.6 7.3h0m1.6 0.2h0m1.6 -5.1h0m1.6 7.6h0m1.6 -6.5h0m1.5 2.9h0m1.6 3.2h0m1.6 -3.4h0m1.6 -4.7h0m1.6 -0.3h0m1.6 0.5h0m1.6 1.1h0m1.6 -3.5h0m1.5 -1.1h0m1.6 0.6h0m1.6 -4.4h0m1.6 2.1h0m1.6 5.8h0m1.6 0h0m1.6 1.7h0m1.5 -2.4h0m1.6 -2.5h0m1.6 -2h0m1.6 3.3h0m1.6 1.6h0m1.6 0.7h0m1.6 0.9h0m1.5 -10.1h0m1.6 5.3h0m1.6 0.3h0m1.6 -6.2h0m1.6 7.7h0m1.6 -0.3h0m1.6 -0.4h0m1.5 7.2h0m1.6 -0.9h0m1.6 -12.6h0m1.6 8.5h0m1.6 6.8h0m1.6 -4.2h0m1.6 -2h0m1.6 -2.3h0m1.5 2.1h0m1.6 3.6h0m1.6 -2.8h0m1.6 -3.2h0m1.6 4.3h0m1.6 0.8h0m1.6 -1h0m1.5 2.5h0m1.6 -10.8h0m1.6 1.6h0m1.6 0.5h0m1.6 -1.3h0m1.6 -3.5h0m1.6 4.9h0m1.5 3.5h0m1.6 -6.3h0m1.6 12h0m1.6 -5h0m1.6 -4.2h0m1.6 -0.6h0m1.6 5.8h0m1.5 0h0m1.6 -0.6h0m1.6 -0.9h0m1.6 -2.1h0m1.6 -6.3h0m1.6 3.5h0m1.6 -3.8h0m1.6 5.3h0m1.5 3.8h0m1.6 -1.2h0m1.6 -11.6h0m1.6 9.5h0m1.6 -8.2h0m1.6 7.7h0m1.6 -6.3h0m1.5 4.1h0m1.6 0.4h0m1.6 1.9h0m1.6 -0.3h0m1.6 -3.5h0m1.6 -4.7h0m1.6 5.8h0m1.5 7.5h0m1.6 -5.1h0m1.6 15.2h0m1.6 -11.9h0m1.6 -12h0m1.6 23.2h0m1.6 -10.5h0m1.6 -6.6h0m1.5 -4.7h0m1.6 3.1h0m1.6 9h0m1.6 -11.2h0m1.6 0.8h0m1.6 10.9h0m1.6 -2.5h0m1.5 5h0m1.6 -4h0m1.6 -10.4h0m1.6 14.6h0m1.6 -14.2h0m1.6 4.7h0m1.6 -0.2h0m1.5 6.2h0m1.6 -8.1h0m1.6 5.2h0m1.6 -1h0m1.6 7h0m1.6 -11.9h0m1.6 2.3h0m1.5 -6.9h0m1.6 6.6h0m1.6 2.7h0m1.6 3.2h0m1.6 -0.1h0m1.6 -0.1h0m1.6 -10.5h0m1.6 14.6h0m1.5 0.2h0m1.6 -12.1h0m1.6 -8.3h0m1.6 8.2h0m1.6 4.4h0m1.6 -15.9h0m1.6 14h0m1.5 7.1h0m1.6 -5.2h0m1.6 -5.7h0m1.6 11.3h0m1.6 -8.2h0m1.6 9.2h0m1.6 -4.1h0m1.5 -2.1h0m1.6 20.9h0m1.6 -30.6h0m1.6 4.3h0m1.6 1.1h0" stroke="#ffce00" stroke-width="7.2" stroke-linecap="round" fill="none"/>
<path d="M139.4 277.4 142.2 277.7 144.9 277.5 147.7 278" stroke="#daff1c" stroke-width="10" stroke-linecap="round" stroke-linejoin="round" fill="none"/>
<path d="M188 279.7 190.8 279.9 193.5 280.1 196.3 280.6 199 280.9 201.8 280.8 204.5 280.5 207.3 280 210 279.6 212.8 279.2 215.5 279.1 218.3 279.4 221 279.7 223.8 279.6 226.5 279.8 229.2 280.4 232 280.6 234.7 280.1 237.5 279.3 240.2 279.2 243 280.5 245.7 282.3 248.5 283.4 251.2 283.3 254 282.9 256.7 282.4 259.5 281.5 262.2 280.2 265 279.2 267.7 278.9 270.5 279.4 273.2 280.1 276 280.1 278.7 279.7 281.5 279.7 284.2 280.2 287 280.8 289.7 280.6 292.5 279.1 295.2 277.4 298 277.3" stroke="#daff1c" stroke-width="10" stroke-linecap="round" stroke-linejoin="round" fill="none"/>
<path d="M465.6 271.1 468.8 272.9 471.9 273.5 475.1 271.2 478.3 270 481.5 270.2 484.6 271.6 487.8 274.2 491 276.3 494.2 274.7 497.3 272.2 500.5 272.3 503.7 274.3 506.8 276.5 510 276.3 513.2 275 516.4 274.8 519.5 275.9 522.7 275.5 525.9 275.9 529.1 276.7 532.2 275.6 535.4 273.9 538.6 273.7 541.7 275 544.9 274.1 548.1 271.7 551.3 271.3 554.4 272.1 557.6 273.4 560.8 270.9 563.9 268.2 567.1 269.8 570.3 272.6 573.5 274.1 576.6 272.9 579.8 270.5 583 269.5 586.2 270.2 589.3 270.5 592.5 271.2 595.7 270.6 598.8 268.9 602 269.1 605.2 270.1 608.4 270.7 611.5 269.2 614.7 266.1 617.9 266.3 621.1 266.9 624.2 266.1 627.4 265.7 630.6 266.7 633.7 268.6 636.9 267 640.1 264.8 643.3 266.5 646.4 270.6 649.6 273.2 652.8 272.4 656 270.9 659.1 272.8 662.3 274.2 665.5 270.5 668.6 265.9 671.8 264.9 675 265.6 678.2 264.3 681.3 261.7 684.5 262.1 687.7 263.6 690.8 263.3 694 263.3 697.2 264.2 700.4 265.2 703.5 265.5 706.7 265.8 709.9 266 713.1 265.1 716.2 266 719.4 268.4 722.6 267.6 725.7 266.3 728.9 266.4 732.1 265.9 735.3 265.3 738.4 263.7 741.6 262.6 744.8 264.7 748 266.7 751.1 266.8 754.3 266.4 757.5 265.3 760.6 265.2 763.8 267.1 767 266.7 770.2 264 773.3 262.6 776.5 263.3 779.7 263.7 782.9 264.9 786 267.2 789.2 266.1 792.4 262.9 795.5 260.2 798.7 260 801.9 262.2 805.1 262.7 808.2 263.3" stroke="#daff1c" stroke-width="4" stroke-linecap="round" stroke-linejoin="round" fill="none"/>
<path d="M137.6 274.7h0m0.9 5.9h0m0.9 0h0m0.9 -6.6h0m1 8.6h0m0.9 -6.2h0m0.9 3.2h0m0.9 0.3h0m0.9 -1.4h0m0.9 1.2h0m1 3.1h0m0.9 2.1h0m0.9 -9.6h0m0.9 -3.1h0m0.9 8.5h0m0.9 6h0m1 -1.5h0m0.9 -14.8h0m0.9 -0.5h0m0.9 -3.6h0m0.9 -8.3h0m0.9 3.6h0m1 -6.5h0m0.9 -7.6h0m0.9 7.9h0m0.9 -11.9h0m0.9 16.3h0m0.9 -1.7h0m1 3.4h0m0.9 -5h0m0.9 9.4h0m0.9 -4h0m0.9 5.8h0m0.9 -7.9h0m1 0.4h0m0.9 0.5h0m0.9 1.4h0m0.9 2.4h0m0.9 -15.1h0m0.9 14.9h0m1 -9h0m0.9 18h0m0.9 -0.5h0m0.9 -11.8h0m0.9 17h0m0.9 -3.3h0m1 -6.5h0m0.9 -5.1h0m0.9 4.1h0m0.9 8.2h0m0.9 6.8h0m0.9 -10.8h0m1 -2h0m0.9 16.2h0m0.9 -6.1h0m0.9 -3.3h0m0.9 5.8h0m0.9 -2.2h0m1 -0.1h0m0.9 1.3h0m0.9 0.5h0m0.9 5.8h0m0.9 -3.9h0m0.9 -1.9h0m1 -1.3h0m0.9 -4h0m0.9 -1.7h0m0.9 2.9h0m0.9 3.1h0m0.9 3.4h0m1 -2.4h0m0.9 -3.5h0m0.9 3.1h0m0.9 -1.1h0m0.9 -2.9h0m0.9 5.6h0m1 -0.7h0m0.9 -6h0m0.9 2.3h0m0.9 -1.2h0m0.9 1.7h0m0.9 3.2h0m1 -6.3h0m0.9 4.5h0m0.9 -2.5h0m0.9 -0.1h0m0.9 0.3h0m0.9 4.4h0m1 -4.1h0m0.9 4.8h0m0.9 -4.2h0m0.9 2h0m0.9 -5h0m0.9 5.4h0m1 -1.2h0m0.9 0.1h0m0.9 4.7h0m0.9 -4.3h0m0.9 -0.3h0m0.9 2.1h0m0.9 -1.4h0m1 -1h0m0.9 -0.2h0m0.9 -0.4h0m0.9 -1.5h0m0.9 -0.4h0m0.9 3.6h0m1 -1.9h0m0.9 0.6h0m0.9 0.9h0m0.9 0h0m0.9 1.5h0m0.9 -3.3h0m1 -1.7h0m0.9 4.1h0m0.9 0.7h0m0.9 1.7h0m0.9 1.7h0m0.9 0h0m1 -2.8h0m0.9 5.2h0m0.9 -8.4h0m0.9 2.2h0m0.9 1.9h0m0.9 1.6h0m1 -4.1h0m0.9 3.1h0m0.9 -6.1h0m0.9 5.3h0m0.9 -1.7h0m0.9 3.2h0m1 -5.3h0m0.9 1.3h0m0.9 -0.4h0m0.9 -3.5h0m0.9 6.3h0m0.9 2.1h0m1 -0.1h0m0.9 -3.7h0m0.9 -1.2h0m0.9 -0.2h0m0.9 -2.3h0m0.9 -1.6h0m1 4.9h0m0.9 -4.9h0m0.9 4.9h0m0.9 1.4h0m0.9 -4.3h0m0.9 -0.2h0m1 0.5h0m0.9 4.5h0m0.9 -6.4h0m0.9 2.5h0m0.9 3h0m0.9 -2.3h0m1 -0.5h0m0.9 0.6h0m0.9 1.4h0m0.9 -5.8h0m0.9 5.9h0m0.9 -2.1h0m1 1.4h0m0.9 -0.6h0m0.9 5.1h0m0.9 -9.4h0m0.9 1.3h0m0.9 3.8h0m1 -3.5h0m0.9 2.2h0m0.9 -2.6h0m0.9 1.8h0m0.9 3.2h0m0.9 -3h0m1 -0.2h0m0.9 0.3h0m0.9 3.6h0m0.9 -4.2h0m0.9 -1.7h0m0.9 1h0m163.3 -7.6h0m1.6 -2.2h0m1.6 1.6h0m1.6 6.5h0m1.6 2.4h0m1.5 1.4h0m1.6 -6.3h0m1.6 -3.5h0m1.6 0.1h0m1.6 1.3h0m1.6 -2.6h0m1.6 5.7h0m1.6 -7.2h0m1.5 0.2h0m1.6 2h0m1.6 2.8h0m1.6 -1.6h0m1.6 9.8h0m1.6 -1.4h0m1.6 -4.3h0m1.5 -1.4h0m1.6 0h0m1.6 -2.7h0m1.6 2.7h0m1.6 -4.8h0m1.6 5.7h0m1.6 8.3h0m1.5 -4.7h0m1.6 1.1h0m1.6 1.7h0m1.6 -7.6h0m1.6 5h0m1.6 2.1h0m1.6 -4h0m1.5 -5.8h0m1.6 5.5h0m1.6 -5.3h0m1.6 3.2h0m1.6 -3.5h0m1.6 3.8h0m1.6 0.8h0m1.6 10.5h0m1.5 -4.9h0m1.6 -0.7h0m1.6 -4.1h0m1.6 -4.4h0m1.6 0.3h0m1.6 0.6h0m1.6 8h0m1.5 -2h0m1.6 -2.4h0m1.6 -2.9h0m1.6 -0.3h0m1.6 2h0m1.6 1.2h0m1.6 -7h0m1.5 6h0m1.6 -1.9h0m1.6 0.3h0m1.6 -0.8h0m1.6 2.8h0m1.6 -0.5h0m1.6 -4.8h0m1.5 1.1h0m1.6 -2.5h0m1.6 6h0m1.6 -1.8h0m1.6 3.8h0m1.6 -8.8h0m1.6 11.9h0m1.6 -4h0m1.5 -1.5h0m1.6 -0.5h0m1.6 0.9h0m1.6 -1.7h0m1.6 -2.5h0m1.6 -4.5h0m1.6 0.9h0m1.5 -1.3h0m1.6 6.7h0m1.6 -1.8h0m1.6 -2.9h0m1.6 2.2h0m1.6 0.3h0m1.6 -0.6h0m1.5 -3h0m1.6 3.9h0m1.6 -2.1h0m1.6 3.7h0m1.6 -4h0m1.6 1h0m1.6 1.8h0m1.6 3.5h0m1.5 -4.7h0m1.6 -6.7h0m1.6 5h0m1.6 -2.9h0m1.6 6.6h0m1.6 -1.4h0m1.6 -2.9h0m1.5 -3.2h0m1.6 -0.1h0m1.6 3.8h0m1.6 -7.3h0m1.6 13.8h0m1.6 -2.9h0m1.6 -6.4h0m1.5 0.1h0m1.6 -1.6h0m1.6 6.3h0m1.6 0.1h0m1.6 -0.5h0m1.6 -1.2h0m1.6 -2.7h0m1.5 4.4h0m1.6 2.1h0m1.6 -1.2h0m1.6 3.4h0m1.6 -1.2h0m1.6 -4.6h0m1.6 5.4h0m1.6 -2.8h0m1.5 3h0m1.6 -3h0m1.6 6.7h0m1.6 -0.5h0m1.6 -5.9h0m1.6 5.4h0m1.6 -13.8h0m1.5 1.6h0m1.6 1.3h0m1.6 0.5h0m1.6 -2.1h0m1.6 0.5h0m1.6 3.9h0m1.6 -4.4h0m1.5 1.6h0m1.6 -2.1h0m1.6 -1.9h0m1.6 0.4h0m1.6 2.2h0m1.6 -0.1h0m1.6 1h0m1.5 -0.7h0m1.6 -6.4h0m1.6 0.5h0m1.6 8.4h0m1.6 5h0m1.6 -10h0m1.6 -3.3h0m1.6 7.7h0m1.5 -2.2h0m1.6 1.4h0m1.6 -0.9h0m1.6 3.4h0m1.6 -1.9h0m1.6 0.4h0m1.6 -0.3h0m1.5 -1.7h0m1.6 7h0m1.6 -8.6h0m1.6 5.1h0m1.6 -0.5h0m1.6 3h0m1.6 4.6h0m1.5 -8.3h0m1.6 1.6h0m1.6 8.5h0m1.6 -15.7h0m1.6 -1.9h0m1.6 7.6h0m1.6 -3.7h0m1.6 -5.3h0m1.5 3h0m1.6 15.1h0m1.6 -19.1h0m1.6 15.1h0m1.6 -5h0m1.6 -8.4h0m1.6 12.1h0m1.5 3.6h0m1.6 -6.7h0m1.6 0.7h0m1.6 9h0m1.6 -18.5h0m1.6 6.9h0m1.6 0.3h0m1.5 -0.8h0m1.6 0.7h0m1.6 -5.4h0m1.6 8.3h0m1.6 1.5h0m1.6 -7h0m1.6 -0.4h0m1.5 -3.2h0m1.6 8h0m1.6 -7.1h0m1.6 -0.1h0m1.6 9.2h0m1.6 -8.6h0m1.6 3.4h0m1.6 -7.3h0m1.5 -0.2h0m1.6 8.7h0m1.6 8.4h0m1.6 -7.4h0m1.6 3.4h0m1.6 -2h0m1.6 -13.8h0m1.5 3h0m1.6 4.6h0m1.6 5h0m1.6 -6.6h0m1.6 -5.9h0m1.6 5.2h0m1.6 2.1h0m1.5 -0.2h0m1.6 -6.4h0m1.6 4.3h0m1.6 5.6h0m1.6 15.3h0" stroke="#daff1c" stroke-width="7.2" stroke-linecap="round" fill="none"/>
<path d="M139.4 319.4 142.2 318.8 144.9 318.4 147.7 318.4" stroke="#9bff5c" stroke-width="10" stroke-linecap="round" stroke-linejoin="round" fill="none"/>
<path d="M188 316.7 190.8 316.5 193.5 317.3 196.3 318.5 199 319.5 201.8 319.9 204.5 319.9 207.3 320.4 210 321.5 212.8 322 215.5 321 218.3 319.8 221 319.5 223.8 320.1 226.5 320.7 229.2 320.1 232 318.8 234.7 318.2 237.5 318.7 240.2 318.9 243 318.3 245.7 317.9 248.5 318.1 251.2 318.5 254 318.7 256.7 318.8 259.5 319.3 262.2 320.1 265 320.9 267.7 321.2 270.5 320.9 273.2 320.6 276 320.2 278.7 319.9 281.5 320.1 284.2 320.6 287 320.5 289.7 319.9 292.5 319.3 295.2 318.5 298 317.7" stroke="#9bff5c" stroke-width="10" stroke-linecap="round" stroke-linejoin="round" fill="none"/>
<path d="M465.6 318.8 468.8 317.4 471.9 316 475.1 317.4 478.3 320.8 481.5 321.8 484.6 320.9 487.8 320.5 491 320.1 494.2 321.3 497.3 323.2 500.5 324.1 503.7 323.8 506.8 321.7 510 319.9 513.2 320 516.4 320.3 519.5 318.1 522.7 315.7 525.9 317.1 529.1 318.9 532.2 317.6 535.4 316.6 538.6 317.9 541.7 320.1 544.9 320.9 548.1 320.8 551.3 321.2 554.4 322.3 557.6 321.7 560.8 318.9 563.9 319.2 567.1 321.4 570.3 320.5 573.5 319.2 576.6 318.3 579.8 317.2 583 317.9 586.2 318.1 589.3 317 592.5 315.4 595.7 315.1 598.8 316.7 602 316.9 605.2 315.9 608.4 317.2 611.5 320.4 614.7 320.7 617.9 318.6 621.1 315.9 624.2 316.9 627.4 319.2 630.6 319.5 633.7 319.6 636.9 319.3 640.1 317.3 643.3 315.1 646.4 315.5 649.6 317.8 652.8 317.6 656 315.2 659.1 313.7 662.3 315.6 665.5 317.9 668.6 317.9 671.8 317.7 675 317.5 678.2 317.4 681.3 318.3 684.5 320.6 687.7 322.3 690.8 322.4 694 322.1 697.2 321.8 700.4 319.9 703.5 317.9 706.7 317.7 709.9 317.5 713.1 316.2 716.2 315.8 719.4 317.4 722.6 319.3 725.7 320.4 728.9 318.6 732.1 316.7 735.3 317.7 738.4 319.4 741.6 319.2 744.8 318.5 748 319 751.1 321.2 754.3 323.9 757.5 324.9 760.6 323.9 763.8 319.9 767 316.1 770.2 317.3 773.3 320.9 776.5 322.2 779.7 321.6 782.9 320.9 786 320.3 789.2 319.3 792.4 318.5 795.5 317.5 798.7 318 801.9 317.9 805.1 316 808.2 316.8" stroke="#9bff5c" stroke-width="4" stroke-linecap="round" stroke-linejoin="round" fill="none"/>
<path d="M137.6 321.4h0m0.9 -2.2h0m0.9 -2.9h0m0.9 7.1h0m1 -6.2h0m0.9 4.5h0m0.9 -7.6h0m0.9 7.9h0m0.9 -8.7h0m0.9 -4.8h0m1 10.4h0m0.9 -3.2h0m0.9 -0.1h0m0.9 2h0m0.9 3.6h0m0.9 -6h0m1 5.1h0m0.9 -3.6h0m0.9 -11.1h0m0.9 -7h0m0.9 -9h0m0.9 3.5h0m1 -1h0m0.9 -13.7h0m0.9 24.6h0m0.9 -11.8h0m0.9 -6.6h0m0.9 7.3h0m1 12.6h0m0.9 0.7h0m0.9 6.6h0m0.9 -4.6h0m0.9 6.2h0m0.9 -18.8h0m1 10.5h0m0.9 6.8h0m0.9 -17.1h0m0.9 13.4h0m0.9 5.1h0m0.9 -11.6h0m1 5.9h0m0.9 14.2h0m0.9 -11.5h0m0.9 -7.8h0m0.9 19.3h0m0.9 -10.5h0m1 -2.3h0m0.9 6.6h0m0.9 -9.3h0m0.9 7.6h0m0.9 -9.6h0m0.9 9.3h0m1 4.2h0m0.9 -0.9h0m0.9 -1.4h0m0.9 2h0m0.9 -1.3h0m0.9 -3.4h0m1 8.6h0m0.9 -0.1h0m0.9 -0.4h0m0.9 -1.7h0m0.9 -1.2h0m0.9 -0.8h0m1 3.5h0m0.9 -5h0m0.9 4.3h0m0.9 -2.6h0m0.9 -2.2h0m0.9 1.6h0m1 3.9h0m0.9 -0.6h0m0.9 -1.5h0m0.9 -0.9h0m0.9 5.5h0m0.9 -0.1h0m1 -1.1h0m0.9 -4.2h0m0.9 2.8h0m0.9 1.2h0m0.9 3.9h0m0.9 0.1h0m1 -4.8h0m0.9 3.7h0m0.9 -5.9h0m0.9 4.5h0m0.9 -3.2h0m0.9 -2h0m1 0.2h0m0.9 1.3h0m0.9 -6h0m0.9 6.1h0m0.9 -1.3h0m0.9 2.3h0m1 -3.4h0m0.9 -0.3h0m0.9 0.3h0m0.9 2.5h0m0.9 -1.8h0m0.9 5.2h0m0.9 -2.1h0m1 -3.3h0m0.9 7.4h0m0.9 -2.1h0m0.9 -6.6h0m0.9 1.2h0m0.9 1.2h0m1 0h0m0.9 -4.5h0m0.9 3h0m0.9 2.4h0m0.9 3.2h0m0.9 -4.4h0m1 3.3h0m0.9 -2.8h0m0.9 1.3h0m0.9 -5.7h0m0.9 5.2h0m0.9 -1.9h0m1 -4h0m0.9 10h0m0.9 -4.5h0m0.9 3.1h0m0.9 -8.6h0m0.9 3.3h0m1 1.5h0m0.9 -0.6h0m0.9 -1.6h0m0.9 0.5h0m0.9 1.3h0m0.9 -2.2h0m1 1.6h0m0.9 -4.2h0m0.9 8.6h0m0.9 -1.9h0m0.9 -2.7h0m0.9 0.1h0m1 4h0m0.9 -4.7h0m0.9 1.2h0m0.9 -1.9h0m0.9 5.5h0m0.9 -4.1h0m1 3.5h0m0.9 -1.4h0m0.9 -1.2h0m0.9 3.2h0m0.9 -0.4h0m0.9 -5.8h0m1 7.4h0m0.9 -4.3h0m0.9 -2.3h0m0.9 -0.6h0m0.9 4.5h0m0.9 2.2h0m1 -5.8h0m0.9 4.6h0m0.9 -1.4h0m0.9 2.2h0m0.9 2.1h0m0.9 -2h0m1 -0.9h0m0.9 4.1h0m0.9 -8.8h0m0.9 4.4h0m0.9 -5.4h0m0.9 1.1h0m1 4.5h0m0.9 -1.6h0m0.9 0.9h0m0.9 -1.4h0m0.9 -0.6h0m0.9 -1.1h0m1 -0.4h0m0.9 0.4h0m0.9 1.9h0m0.9 2.5h0m0.9 -4.8h0m0.9 1.2h0m163.3 1.6h0m1.6 -3.8h0m1.6 0.7h0m1.6 2.4h0m1.6 -2.4h0m1.5 -6.1h0m1.6 7.2h0m1.6 3h0m1.6 2.2h0m1.6 3.4h0m1.6 -0.9h0m1.6 -7.3h0m1.6 1.5h0m1.5 -0.1h0m1.6 -1.1h0m1.6 3.9h0m1.6 -1h0m1.6 -1.5h0m1.6 -3.4h0m1.6 6.2h0m1.5 3.5h0m1.6 -0.4h0m1.6 -6.1h0m1.6 4.7h0m1.6 3.4h0m1.6 -4.7h0m1.6 -2.2h0m1.5 3.2h0m1.6 -1.6h0m1.6 0.3h0m1.6 1.7h0m1.6 -3.2h0m1.6 -2.8h0m1.6 0.2h0m1.5 1.1h0m1.6 2.4h0m1.6 -5.8h0m1.6 -3.4h0m1.6 0.1h0m1.6 5.7h0m1.6 2.2h0m1.6 -4.7h0m1.5 1.9h0m1.6 -4.6h0m1.6 0.7h0m1.6 -0.8h0m1.6 3.5h0m1.6 4.3h0m1.6 -3.5h0m1.5 3h0m1.6 -1.8h0m1.6 2.4h0m1.6 -2.3h0m1.6 3.4h0m1.6 -1.8h0m1.6 -2.3h0m1.5 -0.7h0m1.6 8h0m1.6 -4.1h0m1.6 -0.6h0m1.6 -1.3h0m1.6 -0.8h0m1.6 -1h0m1.5 2.4h0m1.6 -1.2h0m1.6 -1.7h0m1.6 8.4h0m1.6 -9.3h0m1.6 6.8h0m1.6 -3.1h0m1.6 1.2h0m1.5 -5h0m1.6 1.8h0m1.6 -2.6h0m1.6 7.2h0m1.6 -4.9h0m1.6 -2.1h0m1.6 2.3h0m1.5 2.4h0m1.6 -3.7h0m1.6 -5.1h0m1.6 1h0m1.6 -1.2h0m1.6 6.1h0m1.6 -1.7h0m1.5 2.4h0m1.6 -0.7h0m1.6 2h0m1.6 -1.3h0m1.6 -6.1h0m1.6 7.3h0m1.6 -4.2h0m1.6 4.1h0m1.5 2.6h0m1.6 -3.1h0m1.6 1.3h0m1.6 -4h0m1.6 -3.4h0m1.6 2.4h0m1.6 1.7h0m1.5 0.7h0m1.6 3.9h0m1.6 -3.5h0m1.6 2.9h0m1.6 -7.5h0m1.6 7.7h0m1.6 0.2h0m1.5 1h0m1.6 -2.4h0m1.6 1h0m1.6 2.6h0m1.6 -9.3h0m1.6 0.5h0m1.6 -4.3h0m1.5 2.6h0m1.6 2.5h0m1.6 -1.5h0m1.6 3.8h0m1.6 -2.9h0m1.6 2.6h0m1.6 -1.8h0m1.6 4.5h0m1.5 -4.9h0m1.6 -2.5h0m1.6 1.1h0m1.6 1.8h0m1.6 -2h0m1.6 0.9h0m1.6 7h0m1.5 -3.9h0m1.6 -1.3h0m1.6 -4.6h0m1.6 5h0m1.6 1.9h0m1.6 -1.1h0m1.6 -3.9h0m1.5 11.1h0m1.6 -9.5h0m1.6 0.4h0m1.6 5.4h0m1.6 -3h0m1.6 6.5h0m1.6 1.4h0m1.5 1.6h0m1.6 -4.8h0m1.6 -2h0m1.6 0.8h0m1.6 4.9h0m1.6 -5.6h0m1.6 -3h0m1.6 -0.8h0m1.5 -4.4h0m1.6 8.7h0m1.6 -5.1h0m1.6 2h0m1.6 -1.1h0m1.6 1.8h0m1.6 -2.9h0m1.5 4.9h0m1.6 -2.9h0m1.6 -5.4h0m1.6 7h0m1.6 0h0m1.6 -1.8h0m1.6 0.1h0m1.5 -2.6h0m1.6 7.7h0m1.6 -3.5h0m1.6 3.1h0m1.6 -7.9h0m1.6 1.8h0m1.6 0.3h0m1.6 6.5h0m1.5 -7h0m1.6 8.5h0m1.6 0h0m1.6 -3.7h0m1.6 1.4h0m1.6 -6.6h0m1.6 2.5h0m1.5 5h0m1.6 -6.9h0m1.6 3h0m1.6 5.6h0m1.6 3.4h0m1.6 1.6h0m1.6 -6.7h0m1.5 0.8h0m1.6 -3.3h0m1.6 -2.7h0m1.6 -2h0m1.6 3.5h0m1.6 -5.3h0m1.6 3.2h0m1.5 13.1h0m1.6 -7h0m1.6 -7.6h0m1.6 4.2h0m1.6 4.2h0m1.6 0h0m1.6 -5.2h0m1.6 3.9h0m1.5 6.1h0m1.6 -1.4h0m1.6 -21.1h0m1.6 14.3h0m1.6 -2.3h0m1.6 -1.3h0m1.6 -1.4h0m1.5 -2.5h0m1.6 3.6h0m1.6 3.2h0m1.6 -0.8h0m1.6 -1.2h0m1.6 -11.2h0m1.6 -1.4h0m1.5 5.7h0m1.6 -5.2h0m1.6 15.6h0m1.6 4h0m1.6 11.2h0" stroke="#9bff5c" stroke-width="7.2" stroke-linecap="round" fill="none"/>
<path d="M139.4 363 142.2 361.3 144.9 360 147.7 359.6" stroke="#5cff9b" stroke-width="10" stroke-linecap="round" stroke-linejoin="round" fill="none"/>
<path d="M188 362.3 190.8 362.5 193.5 362.7 196.3 362.7 199 362.6 201.8 362.8 204.5 363.1 207.3 363.2 210 363.3 212.8 363.2 215.5 363 218.3 362.6 221 362.3 223.8 362.6 226.5 363.3 229.2 363.6 232 363.2 234.7 362.7 237.5 362.5 240.2 362.1 243 361.4 245.7 361.5 248.5 362.5 251.2 363.2 254 363.3 256.7 362.8 259.5 362 262.2 361.9 265 362.5 267.7 363.1 270.5 363 273.2 362.5 276 362.1 278.7 362 281.5 362.4 284.2 363.2 287 363.8 289.7 364.1 292.5 364.5 295.2 364.6 298 364.7" stroke="#5cff9b" stroke-width="10" stroke-linecap="round" stroke-linejoin="round" fill="none"/>
<path d="M465.6 361.9 468.8 363.2 471.9 361.2 475.1 358.2 478.3 359.4 481.5 360.5 484.6 360.7 487.8 361.3 491 361 494.2 360.8 497.3 361.9 500.5 364.2 503.7 365 506.8 363.8 510 363.7 513.2 364.3 516.4 363.3 519.5 362 522.7 363.2 525.9 365 529.1 364.4 532.2 362.6 535.4 361.6 538.6 362.4 541.7 362.9 544.9 361.5 548.1 360.1 551.3 360.4 554.4 361.5 557.6 360.8 560.8 358.7 563.9 356.8 567.1 355.3 570.3 356.5 573.5 359 576.6 359.7 579.8 359.6 583 359.7 586.2 358.5 589.3 358 592.5 358.4 595.7 358.9 598.8 359.6 602 360.8 605.2 361.2 608.4 360.1 611.5 358.4 614.7 357.8 617.9 359 621.1 359.9 624.2 358.5 627.4 358.6 630.6 361.7 633.7 364.1 636.9 363.9 640.1 362 643.3 359.9 646.4 358.2 649.6 358.5 652.8 359.8 656 360.4 659.1 359.8 662.3 359.6 665.5 359.1 668.6 357.8 671.8 357.1 675 357.5 678.2 358.3 681.3 358.2 684.5 358.2 687.7 358.2 690.8 358.6 694 359.1 697.2 359.9 700.4 360.2 703.5 359.7 706.7 358.6 709.9 356.6 713.1 355.7 716.2 356.1 719.4 354.7 722.6 352.4 725.7 350.8 728.9 351.8 732.1 354 735.3 354 738.4 353.8 741.6 353 744.8 351.3 748 350.9 751.1 352.7 754.3 354.2 757.5 355.8 760.6 356.8 763.8 357.2 767 358.9 770.2 359.1 773.3 357 776.5 355.6 779.7 354.5 782.9 354.1 786 355.1 789.2 355.5 792.4 354.6 795.5 354.6 798.7 355.3 801.9 354.8 805.1 353.3 808.2 353.2" stroke="#5cff9b" stroke-width="4" stroke-linecap="round" stroke-linejoin="round" fill="none"/>
<path d="M137.6 370.8h0m0.9 -8.3h0m0.9 -6.4h0m0.9 7.1h0m1 -1.8h0m0.9 -2.9h0m0.9 -2.8h0m0.9 7.6h0m0.9 -6.7h0m0.9 4.9h0m1 -5.2h0m0.9 -0.7h0m0.9 2.4h0m0.9 -2.2h0m0.9 5.3h0m0.9 3.1h0m1 6.9h0m0.9 -27.4h0m0.9 4.9h0m0.9 -4.2h0m0.9 0.6h0m0.9 1.2h0m1 -5.7h0m0.9 -17.8h0m0.9 17.3h0m0.9 2.8h0m0.9 -7.1h0m0.9 -2.8h0m1 6.4h0m0.9 10.7h0m0.9 -11.3h0m0.9 -2.1h0m0.9 14.9h0m0.9 -12.4h0m1 14.1h0m0.9 -13.9h0m0.9 6.9h0m0.9 5.4h0m0.9 -8.6h0m0.9 16.2h0m1 -12.5h0m0.9 12.4h0m0.9 -9.5h0m0.9 16.4h0m0.9 -18.1h0m0.9 9.8h0m1 -8.5h0m0.9 16.4h0m0.9 -18.1h0m0.9 13.9h0m0.9 -2.7h0m0.9 9.7h0m1 -3.7h0m0.9 8.6h0m0.9 -11.2h0m0.9 -0.4h0m0.9 -0.6h0m0.9 2.8h0m1 -0.6h0m0.9 2.5h0m0.9 -3.7h0m0.9 2.3h0m0.9 -4.9h0m0.9 -2.5h0m1 9.7h0m0.9 -3.9h0m0.9 3h0m0.9 -0.1h0m0.9 -3.6h0m0.9 -0.7h0m1 2.1h0m0.9 -2.9h0m0.9 2.2h0m0.9 1.7h0m0.9 -6h0m0.9 3.1h0m1 1.5h0m0.9 -2h0m0.9 -0.2h0m0.9 2.7h0m0.9 -3.2h0m0.9 7h0m1 -1h0m0.9 -3.7h0m0.9 3.8h0m0.9 -7.7h0m0.9 4.1h0m0.9 -2.9h0m1 2.3h0m0.9 1.3h0m0.9 -0.7h0m0.9 -3h0m0.9 3.1h0m0.9 4.6h0m1 -8.8h0m0.9 4.9h0m0.9 0h0m0.9 0.1h0m0.9 2.2h0m0.9 4.6h0m0.9 -5.5h0m1 0.2h0m0.9 -2.4h0m0.9 -0.1h0m0.9 1.3h0m0.9 0.7h0m0.9 -6.6h0m1 3.2h0m0.9 1.2h0m0.9 3.7h0m0.9 -2.2h0m0.9 -1.8h0m0.9 2.7h0m1 -1h0m0.9 0.3h0m0.9 -2.2h0m0.9 -1.6h0m0.9 1.4h0m0.9 0.4h0m1 -1.4h0m0.9 -0.9h0m0.9 10.2h0m0.9 -4.6h0m0.9 -1.7h0m0.9 -1.5h0m1 7h0m0.9 -4.8h0m0.9 -4.5h0m0.9 3.3h0m0.9 -0.7h0m0.9 -2.3h0m1 0.4h0m0.9 3.4h0m0.9 -2.6h0m0.9 2.4h0m0.9 -3.4h0m0.9 -0.5h0m1 -0.6h0m0.9 1.8h0m0.9 8.2h0m0.9 -6.4h0m0.9 2.2h0m0.9 -4h0m1 -1h0m0.9 2.1h0m0.9 2h0m0.9 -2.7h0m0.9 -1.2h0m0.9 -1.1h0m1 0.2h0m0.9 3.2h0m0.9 -1.2h0m0.9 0.3h0m0.9 -3.1h0m0.9 7.2h0m1 0.2h0m0.9 -6.8h0m0.9 0.2h0m0.9 1.3h0m0.9 2.4h0m0.9 -2.7h0m1 3h0m0.9 1.7h0m0.9 -3.3h0m0.9 4.9h0m0.9 -3.8h0m0.9 1.7h0m1 -0.8h0m0.9 -4.4h0m0.9 8.5h0m0.9 -4.4h0m0.9 -2.3h0m0.9 0.9h0m1 1.2h0m0.9 3.5h0m0.9 -5.9h0m0.9 4.8h0m0.9 -6.1h0m0.9 5.6h0m163.3 -4.2h0m1.6 -0.2h0m1.6 -3.4h0m1.6 1.4h0m1.6 -0.1h0m1.5 4.2h0m1.6 -5.4h0m1.6 3.1h0m1.6 -1.1h0m1.6 1.2h0m1.6 2.6h0m1.6 2.5h0m1.6 -8.1h0m1.5 2.5h0m1.6 2.9h0m1.6 -2.8h0m1.6 1.4h0m1.6 -3.1h0m1.6 3h0m1.6 -2.5h0m1.5 8.5h0m1.6 -11.4h0m1.6 4.5h0m1.6 5h0m1.6 2.5h0m1.6 3h0m1.6 -5.6h0m1.5 -0.1h0m1.6 -1.3h0m1.6 0.2h0m1.6 -0.7h0m1.6 5.6h0m1.6 -0.3h0m1.6 -8.3h0m1.5 1.7h0m1.6 -4h0m1.6 7.2h0m1.6 -1.5h0m1.6 3.5h0m1.6 -10.3h0m1.6 12.8h0m1.6 -2.7h0m1.5 -5.3h0m1.6 -2.7h0m1.6 8.3h0m1.6 -3.5h0m1.6 4h0m1.6 -8.5h0m1.6 1.3h0m1.5 2.4h0m1.6 2h0m1.6 -3.9h0m1.6 -0.5h0m1.6 -1.8h0m1.6 3.7h0m1.6 -5.9h0m1.5 6.8h0m1.6 -0.9h0m1.6 -0.8h0m1.6 -4h0m1.6 1.7h0m1.6 -6.2h0m1.6 0.4h0m1.5 4.2h0m1.6 -5.5h0m1.6 5.5h0m1.6 0.9h0m1.6 -7.7h0m1.6 4.6h0m1.6 -2.1h0m1.6 5.9h0m1.5 1.1h0m1.6 0.7h0m1.6 -7h0m1.6 3h0m1.6 6.6h0m1.6 -2.5h0m1.6 -1.1h0m1.5 1h0m1.6 -6.9h0m1.6 3.8h0m1.6 -2.2h0m1.6 1.7h0m1.6 5.6h0m1.6 -2.9h0m1.5 1.7h0m1.6 -5.1h0m1.6 2.1h0m1.6 3.3h0m1.6 -5.8h0m1.6 -3.4h0m1.6 9.2h0m1.6 1.7h0m1.5 -6.9h0m1.6 -1.2h0m1.6 6.6h0m1.6 -1.2h0m1.6 -0.3h0m1.6 -3.7h0m1.6 1.2h0m1.5 4.1h0m1.6 -1.9h0m1.6 0.2h0m1.6 -2.9h0m1.6 -4.6h0m1.6 3.5h0m1.6 3.2h0m1.5 6.8h0m1.6 -6.3h0m1.6 4.9h0m1.6 -0.7h0m1.6 -6.5h0m1.6 2.7h0m1.6 -4h0m1.5 -0.4h0m1.6 2.8h0m1.6 -2.5h0m1.6 -0.7h0m1.6 2.5h0m1.6 4h0m1.6 -6.7h0m1.6 5.4h0m1.5 0.4h0m1.6 -1h0m1.6 -4.5h0m1.6 2h0m1.6 -4.6h0m1.6 9.1h0m1.6 -3.7h0m1.5 -2.3h0m1.6 0.7h0m1.6 3.3h0m1.6 -1.2h0m1.6 -1h0m1.6 0.3h0m1.6 -0.7h0m1.5 0.4h0m1.6 2.3h0m1.6 2h0m1.6 -9.4h0m1.6 -0.7h0m1.6 4.7h0m1.6 -3.2h0m1.5 0.6h0m1.6 0.4h0m1.6 5.4h0m1.6 -2.3h0m1.6 2.6h0m1.6 4.2h0m1.6 -0.9h0m1.6 -5.7h0m1.5 0.5h0m1.6 -2.2h0m1.6 0.9h0m1.6 -1.3h0m1.6 -1.6h0m1.6 4.5h0m1.6 -1.4h0m1.5 -11.6h0m1.6 7.5h0m1.6 -3.9h0m1.6 6.1h0m1.6 -3.5h0m1.6 -6.5h0m1.6 3.4h0m1.5 -1.7h0m1.6 -1.4h0m1.6 4.9h0m1.6 6.5h0m1.6 1.3h0m1.6 0.2h0m1.6 0.5h0m1.6 2.9h0m1.5 -4.1h0m1.6 -2.4h0m1.6 -11.6h0m1.6 10.9h0m1.6 -5.3h0m1.6 0.8h0m1.6 0h0m1.5 6h0m1.6 -7.4h0m1.6 6h0m1.6 -7.6h0m1.6 5h0m1.6 9h0m1.6 -10.4h0m1.5 11h0m1.6 2.6h0m1.6 -19.3h0m1.6 8.2h0m1.6 -1.4h0m1.6 8h0m1.6 -0.1h0m1.5 1.9h0m1.6 -3.3h0m1.6 -0.3h0m1.6 4.7h0m1.6 -16.4h0m1.6 12.2h0m1.6 -11h0m1.6 11.6h0m1.5 -6.7h0m1.6 6.8h0m1.6 -2.3h0m1.6 -2h0m1.6 2h0m1.6 -3h0m1.6 0.9h0m1.5 3.9h0m1.6 -4.9h0m1.6 -0.2h0m1.6 -4.7h0m1.6 6.1h0m1.6 5.2h0m1.6 -4.2h0m1.5 -4h0m1.6 1.3h0m1.6 -5.7h0m1.6 -5.1h0m1.6 7h0" stroke="#5cff9b" stroke-width="7.2" stroke-linecap="round" fill="none"/>
<path d="M139.4 406.4 142.2 405.9 144.9 405.6 147.7 406.3" stroke="#1cffda" stroke-width="10" stroke-linecap="round" stroke-linejoin="round" fill="none"/>
<path d="M188 409.9 190.8 408.9 193.5 407.6 196.3 406.8 199 407 201.8 407.7 204.5 408.1 207.3 408 210 407.7 212.8 407.9 215.5 408.8 218.3 409.9 221 410.2 223.8 409.8 226.5 409.2 229.2 408.7 232 407.5 234.7 405.8 237.5 405.4 240.2 406.8 243 408.6 245.7 409.5 248.5 410 251.2 410.3 254 410.1 256.7 409.6 259.5 409.3 262.2 409.4 265 409 267.7 408.1 270.5 407.5 273.2 406.9 276 406.2 278.7 405.6 281.5 405.7 284.2 406.3 287 406.9 289.7 407.2 292.5 407.3 295.2 407.2 298 407.2" stroke="#1cffda" stroke-width="10" stroke-linecap="round" stroke-linejoin="round" fill="none"/>
<path d="M465.6 409.1 468.8 408.3 471.9 407.2 475.1 407.9 478.3 408.6 481.5 408.1 484.6 409.1 487.8 410.7 491 410.4 494.2 410 497.3 410.6 500.5 410.8 503.7 410.4 506.8 409.7 510 409.6 513.2 410.6 516.4 409.7 519.5 407.4 522.7 405.7 525.9 405 529.1 404.4 532.2 403.1 535.4 402 538.6 401.7 541.7 402.9 544.9 404.9 548.1 406.1 551.3 405.6 554.4 403.7 557.6 402.1 560.8 401 563.9 402.3 567.1 404.3 570.3 405.6 573.5 404.9 576.6 403.2 579.8 403.8 583 404.1 586.2 403.4 589.3 404.7 592.5 406.6 595.7 407.4 598.8 407.6 602 406 605.2 404.3 608.4 403.8 611.5 403 614.7 402.1 617.9 402.4 621.1 404 624.2 406.1 627.4 406.8 630.6 406.9 633.7 407.7 636.9 408.8 640.1 409.7 643.3 409.3 646.4 408.2 649.6 406.8 652.8 406.9 656 409.9 659.1 411.9 662.3 409.7 665.5 406.4 668.6 405.1 671.8 406.2 675 408.1 678.2 410.5 681.3 411.1 684.5 409 687.7 408.2 690.8 409.5 694 409 697.2 408 700.4 409.7 703.5 409.5 706.7 407.1 709.9 407.1 713.1 407.5 716.2 405.2 719.4 403.6 722.6 403.2 725.7 403.2 728.9 406.2 732.1 408.7 735.3 408.7 738.4 407.8 741.6 406 744.8 404 748 403.2 751.1 404.4 754.3 404.8 757.5 405.1 760.6 405.6 763.8 406.7 767 408.3 770.2 409.6 773.3 410.3 776.5 410 779.7 410.9 782.9 412.3 786 412.5 789.2 412.4 792.4 413.7 795.5 416 798.7 417.7 801.9 418.3 805.1 418.1 808.2 418.1" stroke="#1cffda" stroke-width="4" stroke-linecap="round" stroke-linejoin="round" fill="none"/>
<path d="M137.6 406.7h0m0.9 0.7h0m0.9 4.8h0m0.9 -5.5h0m1 -1.2h0m0.9 2.3h0m0.9 -1.9h0m0.9 2.3h0m0.9 -3.8h0m0.9 -6.8h0m1 4.9h0m0.9 -1.8h0m0.9 2.7h0m0.9 7.7h0m0.9 1.5h0m0.9 -4.9h0m1 -3h0m0.9 4.6h0m0.9 -4.9h0m0.9 -10.3h0m0.9 -9.2h0m0.9 8.6h0m1 -26.9h0m0.9 11.4h0m0.9 0h0m0.9 5.7h0m0.9 -1h0m0.9 -10.2h0m1 20.8h0m0.9 -7.1h0m0.9 5.2h0m0.9 -1.7h0m0.9 2.8h0m0.9 -3h0m1 2.7h0m0.9 0.2h0m0.9 1.7h0m0.9 3.8h0m0.9 0.5h0m0.9 3h0m1 1.2h0m0.9 -4.7h0m0.9 -0.2h0m0.9 -2.6h0m0.9 11.9h0m0.9 -4.3h0m1 2.4h0m0.9 -9.4h0m0.9 18.3h0m0.9 -15.9h0m0.9 3.8h0m0.9 25.9h0m1 -29.9h0m0.9 16.8h0m0.9 -3.7h0m0.9 0.2h0m0.9 -3.6h0m0.9 2.2h0m1 0.4h0m0.9 2.1h0m0.9 -5.6h0m0.9 -1.1h0m0.9 3.6h0m0.9 -6.2h0m1 4.7h0m0.9 -1.2h0m0.9 0.7h0m0.9 -0.6h0m0.9 0.7h0m0.9 -6.6h0m1 7h0m0.9 -0.6h0m0.9 -4.4h0m0.9 -1.4h0m0.9 9.2h0m0.9 -4.5h0m1 1.8h0m0.9 -0.4h0m0.9 0.9h0m0.9 -0.2h0m0.9 -1.1h0m0.9 1.4h0m1 -2.2h0m0.9 -2.2h0m0.9 5.7h0m0.9 0.9h0m0.9 -1.2h0m0.9 -8h0m1 7.3h0m0.9 8h0m0.9 -4.4h0m0.9 1.5h0m0.9 -4.1h0m0.9 -0.5h0m1 1.5h0m0.9 1h0m0.9 0.1h0m0.9 -7.3h0m0.9 5.5h0m0.9 0.1h0m0.9 -1.8h0m1 1.4h0m0.9 -3.8h0m0.9 3.6h0m0.9 0.9h0m0.9 -5.4h0m0.9 1h0m1 0.3h0m0.9 2.4h0m0.9 -0.8h0m0.9 -2.7h0m0.9 1.6h0m0.9 -2h0m1 4.3h0m0.9 4h0m0.9 -4.6h0m0.9 -0.1h0m0.9 -0.1h0m0.9 1h0m1 4.7h0m0.9 -5.4h0m0.9 8.1h0m0.9 -9.1h0m0.9 2.6h0m0.9 -2.2h0m1 6.6h0m0.9 -4.5h0m0.9 4.7h0m0.9 -7.3h0m0.9 2.3h0m0.9 3.3h0m1 -8.6h0m0.9 5.7h0m0.9 2.1h0m0.9 1.7h0m0.9 -8.7h0m0.9 4.4h0m1 0.4h0m0.9 -1.7h0m0.9 1.2h0m0.9 -3.5h0m0.9 5.4h0m0.9 -4h0m1 -1.8h0m0.9 5.2h0m0.9 -3.9h0m0.9 -3.1h0m0.9 6.8h0m0.9 -6.4h0m1 1.2h0m0.9 0.6h0m0.9 -0.9h0m0.9 -0.1h0m0.9 -2.1h0m0.9 0.4h0m1 5.4h0m0.9 -2.4h0m0.9 3.6h0m0.9 -5.5h0m0.9 0.2h0m0.9 2.9h0m1 -1h0m0.9 -2.1h0m0.9 0.7h0m0.9 1h0m0.9 -1.8h0m0.9 7h0m1 -2.8h0m0.9 -5.6h0m0.9 5.6h0m0.9 3.5h0m0.9 -4.6h0m0.9 0.4h0m1 -1.5h0m0.9 3.4h0m0.9 -3.7h0m0.9 3.7h0m0.9 -4h0m0.9 0.6h0m163.3 -1h0m1.6 7.1h0m1.6 -4.4h0m1.6 -3.9h0m1.6 -0.5h0m1.5 4.3h0m1.6 1.3h0m1.6 -7.1h0m1.6 7h0m1.6 -1.1h0m1.6 -1.9h0m1.6 2h0m1.6 2.4h0m1.5 -3.2h0m1.6 2.9h0m1.6 0.8h0m1.6 -2.2h0m1.6 0.1h0m1.6 -2.8h0m1.6 0.8h0m1.5 5.4h0m1.6 -4.8h0m1.6 4.1h0m1.6 -6.1h0m1.6 8.4h0m1.6 -3.4h0m1.6 3.5h0m1.5 -8h0m1.6 2.8h0m1.6 1h0m1.6 2.8h0m1.6 0.6h0m1.6 0.6h0m1.6 -1h0m1.5 -4.2h0m1.6 -0.3h0m1.6 -6.1h0m1.6 6.6h0m1.6 -1.9h0m1.6 -0.6h0m1.6 -3.6h0m1.6 1.9h0m1.5 1.3h0m1.6 -4.7h0m1.6 -0.4h0m1.6 6.1h0m1.6 -8.5h0m1.6 2.1h0m1.6 1.5h0m1.5 -0.2h0m1.6 -5.9h0m1.6 7.6h0m1.6 2.8h0m1.6 0.9h0m1.6 1.1h0m1.6 -7.5h0m1.5 -3.2h0m1.6 3.3h0m1.6 0.3h0m1.6 -4h0m1.6 6h0m1.6 -2.8h0m1.6 -1.2h0m1.5 2.6h0m1.6 -0.7h0m1.6 6.4h0m1.6 3.1h0m1.6 -5.4h0m1.6 1.9h0m1.6 -6.1h0m1.6 0.9h0m1.5 5.4h0m1.6 -5.6h0m1.6 4.1h0m1.6 6.2h0m1.6 -13.9h0m1.6 3h0m1.6 3.7h0m1.5 -0.4h0m1.6 -4.5h0m1.6 4.2h0m1.6 -5.4h0m1.6 7.9h0m1.6 3.8h0m1.6 -2.6h0m1.5 -3.7h0m1.6 1h0m1.6 2h0m1.6 0.3h0m1.6 -4.3h0m1.6 -2.2h0m1.6 -2.7h0m1.6 9.4h0m1.5 -2.5h0m1.6 -3.4h0m1.6 0.4h0m1.6 1h0m1.6 -2h0m1.6 4.7h0m1.6 4.8h0m1.5 -9.4h0m1.6 6.4h0m1.6 1.2h0m1.6 -4.2h0m1.6 0.5h0m1.6 4.5h0m1.6 -5.6h0m1.5 4.4h0m1.6 -1.2h0m1.6 1h0m1.6 -1.8h0m1.6 0.2h0m1.6 2.9h0m1.6 -0.1h0m1.5 -5.8h0m1.6 6.8h0m1.6 0.6h0m1.6 -4.2h0m1.6 2.2h0m1.6 -1.1h0m1.6 -2h0m1.6 -4.3h0m1.5 6.8h0m1.6 5h0m1.6 -0.6h0m1.6 0.1h0m1.6 -6h0m1.6 -5.7h0m1.6 3.7h0m1.5 3.6h0m1.6 -8.7h0m1.6 4.9h0m1.6 2.8h0m1.6 -3.2h0m1.6 4.3h0m1.6 1.8h0m1.5 2.9h0m1.6 1.8h0m1.6 -3.6h0m1.6 -7.2h0m1.6 2.6h0m1.6 -0.3h0m1.6 7h0m1.5 -14.2h0m1.6 11.3h0m1.6 -2.7h0m1.6 -6.7h0m1.6 6.2h0m1.6 8.8h0m1.6 -9.7h0m1.6 8.6h0m1.5 -5.4h0m1.6 -3.1h0m1.6 -5.7h0m1.6 -1.3h0m1.6 0.9h0m1.6 8.5h0m1.6 -0.5h0m1.5 -4.6h0m1.6 -1h0m1.6 2.9h0m1.6 -1.8h0m1.6 4.5h0m1.6 -3.4h0m1.6 4.9h0m1.5 -8.8h0m1.6 4.7h0m1.6 -8.4h0m1.6 8.3h0m1.6 1.6h0m1.6 -0.4h0m1.6 -2.3h0m1.6 3.1h0m1.5 6.2h0m1.6 -3.8h0m1.6 -3.3h0m1.6 -6h0m1.6 -2.9h0m1.6 -1.2h0m1.6 3.8h0m1.5 0.2h0m1.6 7.6h0m1.6 -13.2h0m1.6 13.5h0m1.6 -0.6h0m1.6 -4.7h0m1.6 1h0m1.5 3.4h0m1.6 -4.2h0m1.6 -2.1h0m1.6 1.5h0m1.6 13.9h0m1.6 -8.8h0m1.6 8.1h0m1.5 -4.6h0m1.6 -8.9h0m1.6 5h0m1.6 13.9h0m1.6 -8.4h0m1.6 -12.4h0m1.6 9.4h0m1.6 6.2h0m1.5 -9.3h0m1.6 2.6h0m1.6 0.2h0m1.6 -12.2h0m1.6 -2.4h0m1.6 19.9h0m1.6 0.8h0m1.5 -2.9h0m1.6 11h0m1.6 -8h0m1.6 7.6h0m1.6 -1.7h0m1.6 6.5h0m1.6 -21.8h0m1.5 21.1h0m1.6 -0.2h0m1.6 -10.5h0m1.6 9.1h0m1.6 -9.6h0" stroke="#1cffda" stroke-width="7.2" stroke-linecap="round" fill="none"/>
<path d="M139.4 451.1 142.2 451.6 144.9 452.4 147.7 452.3" stroke="#00baff" stroke-width="10" stroke-linecap="round" stroke-linejoin="round" fill="none"/>
<path d="M188 448.2 190.8 448.9 193.5 449.8 196.3 450.6 199 451.2 201.8 451.2 204.5 450.5 207.3 449.5 210 448.8 212.8 449.2 215.5 450.6 218.3 452.2 221 452.8 223.8 452.5 226.5 452 229.2 451.3 232 450.6 234.7 450.2 237.5 450.6 240.2 451.9 243 453.4 245.7 454.6 248.5 454.6 251.2 453.5 254 452.1 256.7 451.6 259.5 451.9 262.2 452.4 265 452.2 267.7 451.6 270.5 450.7 273.2 450 276 449.7 278.7 449.8 281.5 450 284.2 450.2 287 450.7 289.7 451.3 292.5 452.1 295.2 452.9 298 453.4" stroke="#00baff" stroke-width="10" stroke-linecap="round" stroke-linejoin="round" fill="none"/>
<path d="M465.6 459.2 468.8 459.6 471.9 456.7 475.1 453.8 478.3 452.7 481.5 452.2 484.6 452.9 487.8 455 491 454.3 494.2 450.4 497.3 448.1 500.5 448.8 503.7 450.3 506.8 451.3 510 452.5 513.2 452.7 516.4 450.8 519.5 448.9 522.7 450.2 525.9 451 529.1 448.1 532.2 448 535.4 451.2 538.6 451.8 541.7 449.9 544.9 447.3 548.1 446.4 551.3 447.6 554.4 448.7 557.6 448 560.8 447.7 563.9 447.7 567.1 448.2 570.3 449.9 573.5 450.8 576.6 451.7 579.8 449.8 583 447.6 586.2 449.2 589.3 451 592.5 449.8 595.7 447.4 598.8 445.9 602 445 605.2 444.9 608.4 445.8 611.5 445.8 614.7 444.7 617.9 442.3 621.1 441.3 624.2 445.4 627.4 449.7 630.6 448.2 633.7 444.9 636.9 444 640.1 446.7 643.3 450.6 646.4 450.7 649.6 449.1 652.8 447 656 446.6 659.1 448.2 662.3 449.5 665.5 450.6 668.6 450.8 671.8 449.9 675 447.9 678.2 447 681.3 447.8 684.5 447.8 687.7 447.1 690.8 447.8 694 450 697.2 451.5 700.4 453.3 703.5 453.7 706.7 453 709.9 454.5 713.1 452.3 716.2 448.7 719.4 449 722.6 451.4 725.7 453.7 728.9 454.6 732.1 452.7 735.3 449.4 738.4 449.2 741.6 449.7 744.8 448.3 748 447.6 751.1 447.8 754.3 448.3 757.5 447.2 760.6 445.3 763.8 444.7 767 447.5 770.2 451.3 773.3 451.9 776.5 450.3 779.7 450.2 782.9 451.1 786 449.4 789.2 446.7 792.4 445.3 795.5 445.8 798.7 447.6 801.9 448.4 805.1 449.7 808.2 450" stroke="#00baff" stroke-width="4" stroke-linecap="round" stroke-linejoin="round" fill="none"/>
<path d="M137.6 451.9h0m0.9 -0.7h0m0.9 -2.4h0m0.9 6.1h0m1 -7.5h0m0.9 4.7h0m0.9 2.2h0m0.9 -6.2h0m0.9 5.6h0m0.9 -5.9h0m1 1.6h0m0.9 1.7h0m0.9 -3h0m0.9 -0.1h0m0.9 7.1h0m0.9 -1.5h0m1 -3.8h0m0.9 -0.7h0m0.9 -9.3h0m0.9 -3.5h0m0.9 -0.5h0m0.9 -1.3h0m1 -1.6h0m0.9 -0.5h0m0.9 1.3h0m0.9 0.5h0m0.9 0.4h0m0.9 -4.3h0m1 -1.1h0m0.9 -8.3h0m0.9 15.5h0m0.9 -5.2h0m0.9 5.5h0m0.9 -9.2h0m1 6.9h0m0.9 -2.1h0m0.9 3.8h0m0.9 -4.9h0m0.9 -1.5h0m0.9 1.5h0m1 7.4h0m0.9 -3.5h0m0.9 2.6h0m0.9 4.2h0m0.9 5.6h0m0.9 -3.2h0m1 2.5h0m0.9 -0.2h0m0.9 -9h0m0.9 -7.4h0m0.9 12.7h0m0.9 9.9h0m1 -8h0m0.9 0.6h0m0.9 4.9h0m0.9 -1.3h0m0.9 1.1h0m0.9 2.5h0m1 -2.1h0m0.9 3.8h0m0.9 -3.9h0m0.9 -2h0m0.9 0.8h0m0.9 5.5h0m1 -8.4h0m0.9 2.5h0m0.9 4.4h0m0.9 1.7h0m0.9 -4.4h0m0.9 0.4h0m1 1.6h0m0.9 -0.4h0m0.9 -1.6h0m0.9 -1.2h0m0.9 -3.1h0m0.9 6.1h0m1 -1.3h0m0.9 -2.4h0m0.9 0.7h0m0.9 7.5h0m0.9 -8.6h0m0.9 -3.5h0m1 1.8h0m0.9 -0.9h0m0.9 3.8h0m0.9 -0.6h0m0.9 6h0m0.9 0.3h0m1 -1.1h0m0.9 5.2h0m0.9 -7.3h0m0.9 2.3h0m0.9 -1.9h0m0.9 0h0m1 -0.9h0m0.9 -1.2h0m0.9 3.3h0m0.9 0.6h0m0.9 0.6h0m0.9 -3.6h0m0.9 1.9h0m1 2h0m0.9 -3.3h0m0.9 -1.8h0m0.9 -0.6h0m0.9 3.6h0m0.9 0.4h0m1 -2.7h0m0.9 -0.3h0m0.9 2.1h0m0.9 -2.6h0m0.9 3.6h0m0.9 -2.9h0m1 -1.2h0m0.9 7.2h0m0.9 -4.6h0m0.9 1.7h0m0.9 3.2h0m0.9 -1.7h0m1 -2.2h0m0.9 -0.7h0m0.9 3.4h0m0.9 -0.9h0m0.9 -5.5h0m0.9 3.1h0m1 0.8h0m0.9 -1.8h0m0.9 -1.2h0m0.9 2.8h0m0.9 1.9h0m0.9 0.7h0m1 -5.4h0m0.9 3.8h0m0.9 1.9h0m0.9 0.5h0m0.9 -7.6h0m0.9 -0.7h0m1 4.4h0m0.9 -2.9h0m0.9 0.9h0m0.9 5.6h0m0.9 -6.1h0m0.9 1h0m1 0.4h0m0.9 -0.2h0m0.9 3.1h0m0.9 -6.4h0m0.9 0.8h0m0.9 2.6h0m1 -0.6h0m0.9 2.7h0m0.9 -6.3h0m0.9 2.2h0m0.9 -0.7h0m0.9 0.8h0m1 -1.3h0m0.9 -1.2h0m0.9 -0.8h0m0.9 3.4h0m0.9 2.5h0m0.9 1.3h0m1 -5.2h0m0.9 1.5h0m0.9 -4.3h0m0.9 4.3h0m0.9 5h0m0.9 -4.9h0m1 2.8h0m0.9 -2.5h0m0.9 4.7h0m0.9 -2.6h0m0.9 1h0m0.9 1.4h0m1 2.1h0m0.9 -4.3h0m0.9 3.8h0m0.9 2.7h0m0.9 -2h0m0.9 -2.2h0m163.3 -0.1h0m1.6 9.5h0m1.6 -8.9h0m1.6 -0.7h0m1.6 1.9h0m1.5 -2.4h0m1.6 -2.3h0m1.6 2.7h0m1.6 -1h0m1.6 -2.5h0m1.6 -2h0m1.6 4.8h0m1.6 -0.1h0m1.5 0.2h0m1.6 -3.7h0m1.6 5.6h0m1.6 1h0m1.6 -2.6h0m1.6 0.2h0m1.6 -1.6h0m1.5 -5.7h0m1.6 -0.7h0m1.6 4h0m1.6 -1.8h0m1.6 -0.7h0m1.6 7.2h0m1.6 1.3h0m1.5 -5.9h0m1.6 5.7h0m1.6 -4.3h0m1.6 -0.3h0m1.6 1.8h0m1.6 0.6h0m1.6 -5.5h0m1.5 -2.6h0m1.6 6.8h0m1.6 -4.3h0m1.6 -0.9h0m1.6 2.2h0m1.6 3.3h0m1.6 -1.2h0m1.6 1.7h0m1.5 -6.1h0m1.6 3.7h0m1.6 -2.6h0m1.6 1.6h0m1.6 2.3h0m1.6 -1h0m1.6 -3.5h0m1.5 3h0m1.6 -7.6h0m1.6 2.6h0m1.6 3.7h0m1.6 0.2h0m1.6 -5.2h0m1.6 2.2h0m1.5 7.1h0m1.6 -5.8h0m1.6 -4.5h0m1.6 3.8h0m1.6 3.6h0m1.6 -5.4h0m1.6 -0.3h0m1.5 4.8h0m1.6 -3.5h0m1.6 6.3h0m1.6 -8.9h0m1.6 5.3h0m1.6 6.5h0m1.6 -3.1h0m1.6 0.8h0m1.5 1.9h0m1.6 -7.4h0m1.6 0.2h0m1.6 -0.6h0m1.6 -2.5h0m1.6 5.6h0m1.6 0.4h0m1.5 -3.1h0m1.6 1.4h0m1.6 0.9h0m1.6 0.4h0m1.6 -2.5h0m1.6 1.7h0m1.6 0.5h0m1.5 0.7h0m1.6 -6.9h0m1.6 -2.7h0m1.6 4.7h0m1.6 -3.7h0m1.6 2.9h0m1.6 2.9h0m1.6 -4.7h0m1.5 3.4h0m1.6 -0.1h0m1.6 -1.8h0m1.6 0h0m1.6 1.6h0m1.6 -2.9h0m1.6 0.4h0m1.5 -1.6h0m1.6 1.3h0m1.6 0.4h0m1.6 4.6h0m1.6 5.1h0m1.6 -2h0m1.6 -5h0m1.5 -5.6h0m1.6 4.9h0m1.6 -2.4h0m1.6 2.9h0m1.6 -0.8h0m1.6 4.4h0m1.6 -1.5h0m1.5 2.6h0m1.6 -2.7h0m1.6 3.8h0m1.6 -4.8h0m1.6 -0.1h0m1.6 -1.8h0m1.6 1.5h0m1.6 -2.4h0m1.5 1.5h0m1.6 2.2h0m1.6 -2.1h0m1.6 4.8h0m1.6 -5.7h0m1.6 9.7h0m1.6 -4.7h0m1.5 -1.9h0m1.6 2.5h0m1.6 -2.9h0m1.6 1.9h0m1.6 -4.4h0m1.6 -1.2h0m1.6 6.5h0m1.5 1.4h0m1.6 -4.6h0m1.6 4h0m1.6 -4.5h0m1.6 -1.6h0m1.6 6.4h0m1.6 -5.5h0m1.5 2.5h0m1.6 -1.5h0m1.6 5.5h0m1.6 -3.3h0m1.6 2.5h0m1.6 6.8h0m1.6 -2.7h0m1.6 -6.1h0m1.5 2.6h0m1.6 -1.4h0m1.6 -0.4h0m1.6 3.7h0m1.6 4.8h0m1.6 -7.3h0m1.6 4.1h0m1.5 0.9h0m1.6 -9.1h0m1.6 -3.3h0m1.6 4.3h0m1.6 4.8h0m1.6 5.7h0m1.6 -8.6h0m1.5 -2.1h0m1.6 8.3h0m1.6 -3.8h0m1.6 6.5h0m1.6 -3.3h0m1.6 -7.5h0m1.6 -0.5h0m1.6 4h0m1.5 0.7h0m1.6 -3.7h0m1.6 0.1h0m1.6 1.1h0m1.6 -2.1h0m1.6 -5.7h0m1.6 6.9h0m1.5 -8.3h0m1.6 5h0m1.6 -0.9h0m1.6 9.9h0m1.6 -3.7h0m1.6 -3.6h0m1.6 2.8h0m1.5 -10.3h0m1.6 -0.7h0m1.6 -0.3h0m1.6 7.7h0m1.6 7.4h0m1.6 7.5h0m1.6 -13.8h0m1.5 7.4h0m1.6 5.9h0m1.6 -7.9h0m1.6 -11.7h0m1.6 8.9h0m1.6 1.3h0m1.6 -5.6h0m1.6 3.9h0m1.5 2.3h0m1.6 -6.6h0m1.6 10.3h0m1.6 3.6h0m1.6 -8.1h0m1.6 -15.3h0m1.6 3.1h0m1.5 17.4h0m1.6 -15.3h0m1.6 15.7h0m1.6 -10.1h0m1.6 -2.9h0m1.6 9.8h0m1.6 -6.4h0m1.5 12.5h0m1.6 -20h0m1.6 -4.2h0m1.6 6.7h0m1.6 11.7h0" stroke="#00baff" stroke-width="7.2" stroke-linecap="round" fill="none"/>
<path d="M139.4 495 142.2 494.6 144.9 494.4 147.7 494.5" stroke="#006cff" stroke-width="10" stroke-linecap="round" stroke-linejoin="round" fill="none"/>
<path d="M188 492.1 190.8 492.1 193.5 492.5 196.3 493.1 199 493.4 201.8 493.2 204.5 493.3 207.3 494.5 210 495.8 212.8 496 215.5 495.1 218.3 494.2 221 493.9 223.8 494 226.5 494 229.2 493.9 232 494.3 234.7 495.2 237.5 496.1 240.2 496.6 243 496.7 245.7 496.1 248.5 495 251.2 493.9 254 493.6 256.7 494.6 259.5 495.8 262.2 496.3 265 496.4 267.7 496.9 270.5 496.9 273.2 495.7 276 494.6 278.7 494.6 281.5 495.2 284.2 495.5 287 495.7 289.7 495.7 292.5 495.3 295.2 494.5 298 493.8" stroke="#006cff" stroke-width="10" stroke-linecap="round" stroke-linejoin="round" fill="none"/>
<path d="M465.6 494.1 468.8 495.6 471.9 498.1 475.1 497.9 478.3 496 481.5 494.7 484.6 495.3 487.8 495 491 493.9 494.2 493.8 497.3 495.7 500.5 497.6 503.7 497.9 506.8 499.5 510 498.4 513.2 494.1 516.4 492 519.5 491.8 522.7 492.1 525.9 493.2 529.1 495.5 532.2 496.6 535.4 495.9 538.6 496.5 541.7 498.5 544.9 498.6 548.1 496.4 551.3 493.7 554.4 492.5 557.6 491.5 560.8 489.3 563.9 488.3 567.1 489.1 570.3 491.2 573.5 491.6 576.6 490.5 579.8 492.1 583 493.9 586.2 493.3 589.3 491.4 592.5 490.4 595.7 491.8 598.8 493.4 602 494.6 605.2 495.3 608.4 493.3 611.5 491.5 614.7 493.1 617.9 494.1 621.1 493 624.2 492.4 627.4 492.7 630.6 491.9 633.7 491.3 636.9 492.3 640.1 494.3 643.3 495.7 646.4 495.1 649.6 494.4 652.8 494.6 656 494.6 659.1 493.1 662.3 491.6 665.5 491.1 668.6 490.8 671.8 491.2 675 492.4 678.2 491.2 681.3 490.8 684.5 493.1 687.7 493.8 690.8 493.5 694 493.5 697.2 492.7 700.4 492.7 703.5 495 706.7 495.9 709.9 493.7 713.1 493 716.2 494.9 719.4 496.1 722.6 496.2 725.7 496.2 728.9 494.3 732.1 491.6 735.3 491.6 738.4 493.7 741.6 495 744.8 495.8 748 497.9 751.1 498.5 754.3 497 757.5 496.4 760.6 496.4 763.8 495.1 767 492.5 770.2 490.4 773.3 489.3 776.5 489.8 779.7 491.2 782.9 491.4 786 491.2 789.2 489.9 792.4 490.3 795.5 491.2 798.7 489.1 801.9 487.2 805.1 486.7 808.2 486.1" stroke="#006cff" stroke-width="4" stroke-linecap="round" stroke-linejoin="round" fill="none"/>
<path d="M137.6 499.3h0m0.9 -2.4h0m0.9 -8.1h0m0.9 1.7h0m1 7.6h0m0.9 4.2h0m0.9 -10.7h0m0.9 9h0m0.9 -4.8h0m0.9 4.1h0m1 8.1h0m0.9 -18.4h0m0.9 15.1h0m0.9 -20.4h0m0.9 11.9h0m0.9 -3.7h0m1 11.5h0m0.9 -19.4h0m0.9 5.3h0m0.9 -20.1h0m0.9 -5.9h0m0.9 10.2h0m1 -13.7h0m0.9 11.7h0m0.9 0.1h0m0.9 10.5h0m0.9 -5.2h0m0.9 -14.1h0m1 8.1h0m0.9 -3.3h0m0.9 16.1h0m0.9 -0.1h0m0.9 -5.6h0m0.9 -6.4h0m1 5.2h0m0.9 -2.9h0m0.9 3.6h0m0.9 0.7h0m0.9 3.3h0m0.9 -11.4h0m1 8.2h0m0.9 1.4h0m0.9 9.9h0m0.9 -8.3h0m0.9 -1h0m0.9 5.2h0m1 18.9h0m0.9 -30.4h0m0.9 14.5h0m0.9 5.9h0m0.9 -2.6h0m0.9 -1.2h0m1 -8.1h0m0.9 14.4h0m0.9 -5.5h0m0.9 -1.9h0m0.9 4.2h0m0.9 -1.4h0m1 2.7h0m0.9 -8.4h0m0.9 9.7h0m0.9 -6h0m0.9 3.3h0m0.9 -2.2h0m1 1.3h0m0.9 0.6h0m0.9 -3.7h0m0.9 5.2h0m0.9 -1.2h0m0.9 -1.3h0m1 1.7h0m0.9 3.7h0m0.9 -3.7h0m0.9 -6.3h0m0.9 4.2h0m0.9 -0.6h0m1 2.4h0m0.9 -4.1h0m0.9 8.5h0m0.9 -6h0m0.9 0.9h0m0.9 0h0m1 4h0m0.9 -3.7h0m0.9 1.2h0m0.9 -0.7h0m0.9 -1.8h0m0.9 4h0m1 -2h0m0.9 1.4h0m0.9 -3.2h0m0.9 -3h0m0.9 0.6h0m0.9 5.2h0m1 -3h0m0.9 -1.4h0m0.9 5h0m0.9 -5.2h0m0.9 1.8h0m0.9 -0.5h0m0.9 5.7h0m1 -5.7h0m0.9 -1.9h0m0.9 6.2h0m0.9 -1.7h0m0.9 2.1h0m0.9 -0.2h0m1 3.8h0m0.9 -5h0m0.9 1.9h0m0.9 -3.6h0m0.9 0.2h0m0.9 2.8h0m1 2.3h0m0.9 -3.2h0m0.9 -0.8h0m0.9 -1.3h0m0.9 -1.6h0m0.9 7.7h0m1 -2.8h0m0.9 -1.5h0m0.9 -2.5h0m0.9 5.1h0m0.9 -2.1h0m0.9 -4h0m1 3.8h0m0.9 3.2h0m0.9 -8.1h0m0.9 1.4h0m0.9 -1.6h0m0.9 3h0m1 4h0m0.9 0.7h0m0.9 -3.4h0m0.9 5.2h0m0.9 -5.4h0m0.9 -4.7h0m1 4.6h0m0.9 2.8h0m0.9 -0.6h0m0.9 4.8h0m0.9 -7.5h0m0.9 3.6h0m1 -2h0m0.9 -3.5h0m0.9 6.7h0m0.9 -1.7h0m0.9 -3.5h0m0.9 7.4h0m1 -7h0m0.9 1.1h0m0.9 2.1h0m0.9 -1h0m0.9 -3.1h0m0.9 4.6h0m1 -3.8h0m0.9 2.1h0m0.9 -3.4h0m0.9 -1.1h0m0.9 6h0m0.9 -2.3h0m1 -4.2h0m0.9 4.7h0m0.9 -1.1h0m0.9 1.7h0m0.9 -6.2h0m0.9 2.2h0m1 1.5h0m0.9 -2.4h0m0.9 5.5h0m0.9 1.7h0m0.9 -4.4h0m0.9 2h0m1 -2.9h0m0.9 -0.1h0m0.9 -4.1h0m0.9 -1.6h0m0.9 11.8h0m0.9 -4.9h0m163.3 -5.1h0m1.6 8.7h0m1.6 -6h0m1.6 -1.7h0m1.6 9h0m1.5 2.1h0m1.6 -6.7h0m1.6 1.6h0m1.6 0.6h0m1.6 -5.2h0m1.6 2.1h0m1.6 -2.4h0m1.6 3.1h0m1.5 0.8h0m1.6 -2h0m1.6 2.3h0m1.6 -6.2h0m1.6 3.3h0m1.6 1.5h0m1.6 1.1h0m1.5 3.3h0m1.6 -5.7h0m1.6 4.6h0m1.6 -0.6h0m1.6 -0.3h0m1.6 -2.6h0m1.6 3.5h0m1.5 3.5h0m1.6 -0.1h0m1.6 -3.1h0m1.6 0.2h0m1.6 -8.1h0m1.6 4.1h0m1.6 0.1h0m1.5 -2.2h0m1.6 -1.8h0m1.6 -0.7h0m1.6 6h0m1.6 -5.5h0m1.6 0.3h0m1.6 3.7h0m1.6 0.2h0m1.5 0.2h0m1.6 9h0m1.6 -10.7h0m1.6 1.6h0m1.6 1.9h0m1.6 -1.1h0m1.6 -0.2h0m1.5 1.7h0m1.6 2.8h0m1.6 -1h0m1.6 0.9h0m1.6 -7.1h0m1.6 5.1h0m1.6 -5.9h0m1.5 2.5h0m1.6 1.7h0m1.6 -3h0m1.6 -1.4h0m1.6 -4h0m1.6 -2h0m1.6 6.5h0m1.5 0.7h0m1.6 -5.6h0m1.6 3.1h0m1.6 0.7h0m1.6 0.6h0m1.6 0.8h0m1.6 -3.1h0m1.6 2.6h0m1.5 -2.3h0m1.6 -2.1h0m1.6 5h0m1.6 0.4h0m1.6 -1.2h0m1.6 5.4h0m1.6 -4.9h0m1.5 1.9h0m1.6 1.9h0m1.6 -2h0m1.6 -6.3h0m1.6 4.8h0m1.6 -1.7h0m1.6 -0.8h0m1.5 0.9h0m1.6 9h0m1.6 -5.6h0m1.6 0.5h0m1.6 -1.9h0m1.6 -0.7h0m1.6 6.2h0m1.6 -4.6h0m1.5 2.2h0m1.6 -6.6h0m1.6 -0.7h0m1.6 7.1h0m1.6 -3.1h0m1.6 4.4h0m1.6 1.5h0m1.5 -11.2h0m1.6 5.9h0m1.6 -6.2h0m1.6 0.7h0m1.6 6.6h0m1.6 -3.6h0m1.6 2.7h0m1.5 -4.5h0m1.6 1.9h0m1.6 1.4h0m1.6 0.1h0m1.6 1.7h0m1.6 -3.9h0m1.6 7.2h0m1.5 0.4h0m1.6 -4.4h0m1.6 4.6h0m1.6 -4.4h0m1.6 0.2h0m1.6 -0.5h0m1.6 -2.4h0m1.6 5.1h0m1.5 -0.2h0m1.6 -2.3h0m1.6 -4.7h0m1.6 2.3h0m1.6 0.9h0m1.6 1.1h0m1.6 -2.8h0m1.5 -0.1h0m1.6 -0.6h0m1.6 -0.6h0m1.6 7.5h0m1.6 -6h0m1.6 -3.1h0m1.6 2.5h0m1.5 2.9h0m1.6 -5.4h0m1.6 11h0m1.6 -7.8h0m1.6 -0.9h0m1.6 5.9h0m1.6 -0.8h0m1.5 -3.3h0m1.6 6.2h0m1.6 -6.9h0m1.6 5.9h0m1.6 -8.6h0m1.6 13.8h0m1.6 -8.9h0m1.6 0.2h0m1.5 -1.4h0m1.6 1h0m1.6 2h0m1.6 4.4h0m1.6 -8.5h0m1.6 5.4h0m1.6 -5h0m1.5 8.5h0m1.6 -3.5h0m1.6 -4.1h0m1.6 -2.8h0m1.6 7.4h0m1.6 3.3h0m1.6 -3.3h0m1.5 -2.4h0m1.6 -8.5h0m1.6 9.1h0m1.6 5.7h0m1.6 -6.2h0m1.6 0.2h0m1.6 3.5h0m1.6 -14.5h0m1.5 9.8h0m1.6 -5.6h0m1.6 -0.3h0m1.6 10.3h0m1.6 -3.6h0m1.6 -0.4h0m1.6 3.4h0m1.5 4.1h0m1.6 -4.7h0m1.6 -0.1h0m1.6 -2.8h0m1.6 11.8h0m1.6 -13h0m1.6 -3.1h0m1.5 9.3h0m1.6 -3.9h0m1.6 -13.2h0m1.6 4.9h0m1.6 18.5h0m1.6 -20.1h0m1.6 -5.5h0m1.5 6.8h0m1.6 -1.1h0m1.6 4.3h0m1.6 -1.7h0m1.6 5.3h0m1.6 -9.3h0m1.6 -2.7h0m1.6 -0.8h0m1.5 2.5h0m1.6 10.1h0m1.6 0.9h0m1.6 -3.1h0m1.6 -3.7h0m1.6 2.6h0m1.6 -1.7h0m1.5 11.1h0m1.6 -13h0m1.6 8.5h0m1.6 -5.7h0m1.6 -4.3h0m1.6 -4.3h0m1.6 7.9h0m1.5 -3.7h0m1.6 -6.1h0m1.6 4.4h0m1.6 9.9h0m1.6 -15.4h0" stroke="#006cff" stroke-width="7.2" stroke-linecap="round" fill="none"/>
<path d="M139.4 540.3 142.2 540.3 144.9 540 147.7 539.6" stroke="#001dff" stroke-width="10" stroke-linecap="round" stroke-linejoin="round" fill="none"/>
<path d="M188 538.8 190.8 539.2 193.5 539.5 196.3 539.4 199 538.8 201.8 538.6 204.5 539.1 207.3 539.9 210 540.3 212.8 540.2 215.5 539.9 218.3 539.5 221 539.2 223.8 539 226.5 539.2 229.2 539.5 232 539.6 234.7 539.5 237.5 539.3 240.2 538.8 243 538.3 245.7 537.9 248.5 537.7 251.2 538.4 254 539.5 256.7 540 259.5 540 262.2 540 265 540.1 267.7 539.9 270.5 539.5 273.2 539.2 276 538.8 278.7 537.9 281.5 537.1 284.2 536.9 287 537.2 289.7 538.2 292.5 539.5 295.2 540.4 298 541.1" stroke="#001dff" stroke-width="10" stroke-linecap="round" stroke-linejoin="round" fill="none"/>
<path d="M465.6 542.1 468.8 544 471.9 545.8 475.1 544.8 478.3 542.7 481.5 540.5 484.6 539.4 487.8 540.2 491 541.9 494.2 543 497.3 543.8 500.5 544.1 503.7 541.7 506.8 539.5 510 540.5 513.2 543.5 516.4 544.3 519.5 541.9 522.7 539.4 525.9 537.9 529.1 538 532.2 538.6 535.4 539.7 538.6 541.4 541.7 541.7 544.9 540.3 548.1 538.8 551.3 537 554.4 536.5 557.6 536.2 560.8 537.4 563.9 540.7 567.1 541.2 570.3 538.9 573.5 539.2 576.6 540.9 579.8 540.2 583 539.6 586.2 540.7 589.3 541.9 592.5 543.4 595.7 542.9 598.8 540.2 602 538.6 605.2 539.5 608.4 541.7 611.5 542.5 614.7 543.2 617.9 543.6 621.1 542.1 624.2 540.7 627.4 539.8 630.6 538.7 633.7 539.4 636.9 541.7 640.1 543.9 643.3 545.3 646.4 544.1 649.6 541.1 652.8 540.7 656 542.5 659.1 542.9 662.3 542 665.5 539.7 668.6 536.3 671.8 536 675 539.9 678.2 543 681.3 544.3 684.5 543.6 687.7 541.5 690.8 540.7 694 539.9 697.2 540 700.4 540.4 703.5 540.5 706.7 541.5 709.9 544.2 713.1 547.5 716.2 548.7 719.4 546.2 722.6 542.4 725.7 542.1 728.9 543.6 732.1 542.3 735.3 539.2 738.4 536.4 741.6 536.9 744.8 538.7 748 539.6 751.1 540.5 754.3 541.9 757.5 542.2 760.6 542.4 763.8 544.4 767 545.3 770.2 543 773.3 540.9 776.5 539.8 779.7 538.4 782.9 538.2 786 539.6 789.2 539.6 792.4 537.7 795.5 536.9 798.7 537.7 801.9 539 805.1 540.5 808.2 541.7" stroke="#001dff" stroke-width="4" stroke-linecap="round" stroke-linejoin="round" fill="none"/>
<path d="M137.6 540.6h0m0.9 -0.1h0m0.9 2.6h0m0.9 -1.1h0m1 2.2h0m0.9 -3h0m0.9 -9h0m0.9 6.5h0m0.9 1.7h0m0.9 11.4h0m1 -15.4h0m0.9 9.1h0m0.9 -6.8h0m0.9 -4.3h0m0.9 4h0m0.9 1h0m1 11.8h0m0.9 -14.1h0m0.9 -3.3h0m0.9 -10.3h0m0.9 -7.5h0m0.9 -4.3h0m1 3.2h0m0.9 5h0m0.9 -12.3h0m0.9 13.9h0m0.9 -0.9h0m0.9 -8.7h0m1 -2.6h0m0.9 10.4h0m0.9 6.5h0m0.9 5h0m0.9 3.9h0m0.9 -10.2h0m1 4.3h0m0.9 -0.4h0m0.9 1.3h0m0.9 9.5h0m0.9 -15.7h0m0.9 10.4h0m1 -7.4h0m0.9 3.4h0m0.9 0.1h0m0.9 2.5h0m0.9 10.4h0m0.9 -7.2h0m1 3.1h0m0.9 -1h0m0.9 -5.5h0m0.9 4.1h0m0.9 -9.8h0m0.9 8.4h0m1 1.1h0m0.9 1.3h0m0.9 -1.9h0m0.9 2h0m0.9 -1.4h0m0.9 2h0m1 -2.9h0m0.9 7.8h0m0.9 -2.8h0m0.9 -0.8h0m0.9 -3h0m0.9 2.8h0m1 -4.2h0m0.9 5.5h0m0.9 -0.6h0m0.9 -4.6h0m0.9 3.8h0m0.9 3.3h0m1 -3h0m0.9 -7.6h0m0.9 10.3h0m0.9 -1.3h0m0.9 -3.7h0m0.9 4.3h0m1 -6.9h0m0.9 8h0m0.9 -4.1h0m0.9 2.6h0m0.9 0.7h0m0.9 0.4h0m1 -5.9h0m0.9 3h0m0.9 4.2h0m0.9 -6.2h0m0.9 5.4h0m0.9 -3.8h0m1 5.9h0m0.9 -9.8h0m0.9 2.3h0m0.9 3.4h0m0.9 -0.2h0m0.9 -6.8h0m1 -0.3h0m0.9 3.2h0m0.9 0.8h0m0.9 3.5h0m0.9 -2.4h0m0.9 -1.2h0m0.9 8.7h0m1 -6.6h0m0.9 5.2h0m0.9 0h0m0.9 -3.5h0m0.9 -4.4h0m0.9 3.4h0m1 -1h0m0.9 -1.3h0m0.9 2.6h0m0.9 0.5h0m0.9 -2.5h0m0.9 -1.4h0m1 4.6h0m0.9 -1h0m0.9 -3.4h0m0.9 -1.7h0m0.9 2.1h0m0.9 0.2h0m1 -1.5h0m0.9 2.9h0m0.9 0.5h0m0.9 -5.6h0m0.9 1.1h0m0.9 3.5h0m1 0.1h0m0.9 -2h0m0.9 2.7h0m0.9 1.1h0m0.9 -3.1h0m0.9 3.5h0m1 1.1h0m0.9 -0.7h0m0.9 2h0m0.9 -3.3h0m0.9 0.4h0m0.9 -2.1h0m1 1.3h0m0.9 -0.5h0m0.9 0.7h0m0.9 0.8h0m0.9 -0.7h0m0.9 -0.6h0m1 1.1h0m0.9 -6.6h0m0.9 4.3h0m0.9 1.4h0m0.9 -1.8h0m0.9 -2.1h0m1 5.5h0m0.9 -2h0m0.9 1.4h0m0.9 -3.1h0m0.9 1.7h0m0.9 -3.9h0m1 5.1h0m0.9 -6h0m0.9 -0.7h0m0.9 3.1h0m0.9 0.7h0m0.9 -1.8h0m1 -5.6h0m0.9 8.6h0m0.9 3.5h0m0.9 -2.7h0m0.9 -4.5h0m0.9 3.2h0m1 1.2h0m0.9 2.7h0m0.9 -2.4h0m0.9 -0.8h0m0.9 5.5h0m0.9 -6.6h0m1 -1.3h0m0.9 4.8h0m0.9 4.4h0m0.9 -11.3h0m0.9 6h0m0.9 0.1h0m163.3 1.1h0m1.6 4.6h0m1.6 -2.7h0m1.6 -4.2h0m1.6 6.1h0m1.5 -7h0m1.6 4.2h0m1.6 1.1h0m1.6 0.3h0m1.6 0.5h0m1.6 -0.4h0m1.6 -4.7h0m1.6 1.6h0m1.5 1.7h0m1.6 0.3h0m1.6 -3.9h0m1.6 -1.1h0m1.6 -5.2h0m1.6 11.7h0m1.6 -6.9h0m1.5 10.1h0m1.6 -4.1h0m1.6 -1.2h0m1.6 4.1h0m1.6 -3.8h0m1.6 -1.1h0m1.6 -1.2h0m1.5 0.5h0m1.6 -0.8h0m1.6 -1.8h0m1.6 5.3h0m1.6 -0.5h0m1.6 -0.7h0m1.6 4.6h0m1.5 -3.5h0m1.6 1h0m1.6 -7.8h0m1.6 -1.6h0m1.6 2.9h0m1.6 1.1h0m1.6 2.9h0m1.6 -7.8h0m1.5 4.8h0m1.6 2.9h0m1.6 -2.2h0m1.6 1.4h0m1.6 -2.2h0m1.6 1.9h0m1.6 -0.3h0m1.5 -2h0m1.6 4.8h0m1.6 -2.2h0m1.6 -1.2h0m1.6 -1.4h0m1.6 -3.4h0m1.6 3.7h0m1.5 2.2h0m1.6 -8.2h0m1.6 7.1h0m1.6 -7h0m1.6 7.2h0m1.6 -7.9h0m1.6 5.8h0m1.5 3.1h0m1.6 -2.9h0m1.6 2.1h0m1.6 -1.1h0m1.6 -0.7h0m1.6 -2.2h0m1.6 1.5h0m1.6 -3.2h0m1.5 3.6h0m1.6 1.7h0m1.6 1.3h0m1.6 0.7h0m1.6 1.8h0m1.6 -4.1h0m1.6 5.7h0m1.5 -5.2h0m1.6 4.9h0m1.6 -6.9h0m1.6 9.2h0m1.6 -1.1h0m1.6 -0.5h0m1.6 -4.7h0m1.5 -1h0m1.6 -1.1h0m1.6 2.9h0m1.6 -3.4h0m1.6 3.5h0m1.6 -3.9h0m1.6 5.9h0m1.6 -0.8h0m1.5 -2.9h0m1.6 5.4h0m1.6 0.8h0m1.6 -2.3h0m1.6 1h0m1.6 -1.5h0m1.6 -2.7h0m1.5 -1.1h0m1.6 0.9h0m1.6 -3.2h0m1.6 4.4h0m1.6 -5.6h0m1.6 4.9h0m1.6 -2.8h0m1.5 3.8h0m1.6 -3.3h0m1.6 3.3h0m1.6 -1.5h0m1.6 7.2h0m1.6 -2.3h0m1.6 -0.1h0m1.5 0.6h0m1.6 -6h0m1.6 6.9h0m1.6 -6.4h0m1.6 3.4h0m1.6 -1.8h0m1.6 -0.4h0m1.6 1.7h0m1.5 5h0m1.6 -5.3h0m1.6 -6.7h0m1.6 1.3h0m1.6 1.4h0m1.6 -1.1h0m1.6 -0.9h0m1.5 0.4h0m1.6 0.7h0m1.6 -2.8h0m1.6 3.8h0m1.6 3.1h0m1.6 4h0m1.6 -2.1h0m1.5 -0.9h0m1.6 3.9h0m1.6 -6.1h0m1.6 3.4h0m1.6 -1.9h0m1.6 4.3h0m1.6 -2.2h0m1.5 -7.7h0m1.6 6.8h0m1.6 -5.7h0m1.6 -1.9h0m1.6 5.1h0m1.6 -1.2h0m1.6 1.6h0m1.6 -0.6h0m1.5 -6.2h0m1.6 7.5h0m1.6 -7.1h0m1.6 -0.9h0m1.6 9.5h0m1.6 4.5h0m1.6 1h0m1.5 -0.8h0m1.6 -2.7h0m1.6 6.3h0m1.6 1h0m1.6 -14.8h0m1.6 -0.9h0m1.6 2.6h0m1.5 1.1h0m1.6 4.4h0m1.6 -1.6h0m1.6 -1h0m1.6 0h0m1.6 -0.2h0m1.6 -2.4h0m1.6 1.2h0m1.5 -4h0m1.6 2.8h0m1.6 -7.4h0m1.6 0.4h0m1.6 5.1h0m1.6 -9.9h0m1.6 10.6h0m1.5 -0.2h0m1.6 6.4h0m1.6 -5.6h0m1.6 6.8h0m1.6 -6.4h0m1.6 5.5h0m1.6 -12.6h0m1.5 11.2h0m1.6 7.8h0m1.6 -10.2h0m1.6 -14.2h0m1.6 12.3h0m1.6 -0.2h0m1.6 -1.3h0m1.5 -1.4h0m1.6 7.9h0m1.6 -3.1h0m1.6 5.1h0m1.6 -6.4h0m1.6 -1.4h0m1.6 -8.4h0m1.6 5.7h0m1.5 3.2h0m1.6 -8.7h0m1.6 8.4h0m1.6 -13.7h0m1.6 15.7h0m1.6 7.5h0m1.6 -6.7h0m1.5 -4.7h0m1.6 -7.4h0m1.6 4.4h0m1.6 10h0m1.6 -3.7h0m1.6 2.1h0m1.6 -1.3h0m1.5 -10.8h0m1.6 10h0m1.6 -0.3h0m1.6 -0.7h0m1.6 3h0" stroke="#001dff" stroke-width="7.2" stroke-linecap="round" fill="none"/>
<path d="M139.4 584 142.2 584.2 144.9 585.1 147.7 585.6" stroke="#0000d9" stroke-width="10" stroke-linecap="round" stroke-linejoin="round" fill="none"/>
<path d="M188 582.6 190.8 583.5 193.5 584.7 196.3 585.2 199 584.6 201.8 583.7 204.5 583.1 207.3 582.4 210 581.8 212.8 582.2 215.5 583.5 218.3 584.2 221 584.6 223.8 585.2 226.5 585.8 229.2 585.9 232 585.4 234.7 584.6 237.5 583.9 240.2 583.7 243 583.9 245.7 584 248.5 583.5 251.2 582.6 254 581.7 256.7 581 259.5 580.7 262.2 581 265 581.4 267.7 581.5 270.5 581.7 273.2 582.4 276 583.8 278.7 584.8 281.5 584.3 284.2 583 287 582.3 289.7 582.2 292.5 582.4 295.2 582.9 298 583.3" stroke="#0000d9" stroke-width="10" stroke-linecap="round" stroke-linejoin="round" fill="none"/>
<path d="M465.6 586 468.8 586.3 471.9 586.1 475.1 585.9 478.3 585.3 481.5 583.5 484.6 582.9 487.8 582.3 491 579.5 494.2 577.3 497.3 578.7 500.5 580 503.7 578.7 506.8 578.1 510 578.7 513.2 578.4 516.4 579.1 519.5 582.6 522.7 586.7 525.9 588.6 529.1 588 532.2 585.1 535.4 581 538.6 578.7 541.7 578 544.9 578.5 548.1 579.8 551.3 579.7 554.4 577.3 557.6 576.3 560.8 578 563.9 578.8 567.1 578.8 570.3 579.5 573.5 579.8 576.6 579.1 579.8 578.6 583 579.3 586.2 579.5 589.3 579 592.5 578.7 595.7 578.9 598.8 578.9 602 577.2 605.2 575.8 608.4 578.3 611.5 581.3 614.7 581.4 617.9 579.4 621.1 577.8 624.2 577.3 627.4 577.6 630.6 579 633.7 581.1 636.9 582.1 640.1 582.2 643.3 581.9 646.4 580.6 649.6 578.6 652.8 577.9 656 579.1 659.1 580.2 662.3 580.5 665.5 580.8 668.6 582.1 671.8 582.2 675 579.9 678.2 577.9 681.3 576.1 684.5 574.5 687.7 573.6 690.8 573.9 694 576.7 697.2 580 700.4 582.3 703.5 582.9 706.7 582.9 709.9 584.6 713.1 586.2 716.2 585.5 719.4 583.3 722.6 582 725.7 581.1 728.9 578.5 732.1 576.3 735.3 575.7 738.4 575.8 741.6 575.6 744.8 573.8 748 572.8 751.1 574.6 754.3 578.5 757.5 581.5 760.6 583.5 763.8 585.7 767 586.8 770.2 586.4 773.3 586.3 776.5 585.8 779.7 583.1 782.9 579.5 786 576.9 789.2 575.7 792.4 575.3 795.5 574.5 798.7 573.8 801.9 574.8 805.1 577.2 808.2 579" stroke="#0000d9" stroke-width="4" stroke-linecap="round" stroke-linejoin="round" fill="none"/>
<path d="M137.6 581.9h0m0.9 3.5h0m0.9 -3.6h0m0.9 -1.2h0m1 -0.5h0m0.9 0.1h0m0.9 6.3h0m0.9 -4.2h0m0.9 -1.6h0m0.9 6.9h0m1 -12h0m0.9 23.6h0m0.9 -16.1h0m0.9 1.5h0m0.9 5.2h0m0.9 1.3h0m1 -13.2h0m0.9 -1.6h0m0.9 -5.8h0m0.9 9.2h0m0.9 -6.2h0m0.9 -15.6h0m1 -9h0m0.9 13.4h0m0.9 -9.4h0m0.9 13.8h0m0.9 -2.7h0m0.9 9.7h0m1 -3h0m0.9 -17.3h0m0.9 17.4h0m0.9 4.7h0m0.9 -11.8h0m0.9 -2.5h0m1 15.4h0m0.9 -3.9h0m0.9 -7h0m0.9 1.4h0m0.9 4.7h0m0.9 -7.1h0m1 13.6h0m0.9 -8.2h0m0.9 -17.5h0m0.9 24.5h0m0.9 0.7h0m0.9 -0.7h0m1 -7.3h0m0.9 12h0m0.9 9.7h0m0.9 -19.6h0m0.9 -6h0m0.9 9.8h0m1 4.3h0m0.9 3.5h0m0.9 4.6h0m0.9 -4.5h0m0.9 0.2h0m0.9 2.9h0m1 -2.1h0m0.9 -0.6h0m0.9 -4.4h0m0.9 4.2h0m0.9 2.9h0m0.9 2h0m1 -8h0m0.9 4.3h0m0.9 -1.4h0m0.9 4.2h0m0.9 -7.1h0m0.9 0.3h0m1 -0.6h0m0.9 3.7h0m0.9 -3.6h0m0.9 3.7h0m0.9 -1.4h0m0.9 3.3h0m1 -6.8h0m0.9 9.1h0m0.9 -5.4h0m0.9 0.7h0m0.9 -7.5h0m0.9 2.2h0m1 4.3h0m0.9 3.7h0m0.9 -4.7h0m0.9 3.6h0m0.9 -0.2h0m0.9 0.2h0m1 -5.2h0m0.9 4.1h0m0.9 2.1h0m0.9 -4.4h0m0.9 0.3h0m0.9 -0.5h0m1 1h0m0.9 -2.7h0m0.9 7.8h0m0.9 -1.3h0m0.9 -3.9h0m0.9 1.1h0m0.9 1.7h0m1 -1.4h0m0.9 -0.2h0m0.9 5.2h0m0.9 -4.7h0m0.9 1.7h0m0.9 -0.9h0m1 -4.9h0m0.9 4.7h0m0.9 -2.9h0m0.9 1.9h0m0.9 0.9h0m0.9 0.6h0m1 2.5h0m0.9 -3.5h0m0.9 0.3h0m0.9 -0.6h0m0.9 2.6h0m0.9 -1.7h0m1 1.7h0m0.9 -2.9h0m0.9 -0.7h0m0.9 -3.7h0m0.9 2.4h0m0.9 0h0m1 1.9h0m0.9 -7.2h0m0.9 6.3h0m0.9 1.8h0m0.9 -6.4h0m0.9 -0.9h0m1 4.6h0m0.9 -6.1h0m0.9 9.3h0m0.9 -4.5h0m0.9 -0.1h0m0.9 -2h0m1 6h0m0.9 -4.6h0m0.9 -1.6h0m0.9 4h0m0.9 -3.6h0m0.9 3.1h0m1 -3.9h0m0.9 6.5h0m0.9 -3.4h0m0.9 9.1h0m0.9 -7.4h0m0.9 0.5h0m1 -2.7h0m0.9 7.8h0m0.9 -4.9h0m0.9 -0.3h0m0.9 -3.7h0m0.9 6.1h0m1 0.5h0m0.9 -3.2h0m0.9 -0.3h0m0.9 -3.1h0m0.9 6.3h0m0.9 -7.4h0m1 7.9h0m0.9 -4.4h0m0.9 4.3h0m0.9 -5.1h0m0.9 -0.4h0m0.9 1.8h0m1 1.4h0m0.9 0h0m0.9 -3.3h0m0.9 3h0m0.9 -0.6h0m0.9 0.2h0m1 -2.9h0m0.9 4.2h0m0.9 -0.6h0m0.9 -2.3h0m0.9 0.4h0m0.9 -2.2h0m163.3 3h0m1.6 2h0m1.6 9.1h0m1.6 -6.1h0m1.6 -3.3h0m1.5 2.8h0m1.6 0h0m1.6 -1.8h0m1.6 -4.1h0m1.6 0.6h0m1.6 2.2h0m1.6 2.6h0m1.6 -0.5h0m1.5 -5.8h0m1.6 -0.9h0m1.6 4.9h0m1.6 -2.3h0m1.6 2.6h0m1.6 -3.2h0m1.6 -4.7h0m1.5 0.9h0m1.6 -2.8h0m1.6 5.2h0m1.6 4h0m1.6 -3.4h0m1.6 0.6h0m1.6 -2.2h0m1.5 -2.3h0m1.6 3.1h0m1.6 -2.3h0m1.6 5h0m1.6 -6.7h0m1.6 5.3h0m1.6 -4.3h0m1.5 2.9h0m1.6 6.6h0m1.6 1.9h0m1.6 -0.2h0m1.6 1.9h0m1.6 1.4h0m1.6 -1h0m1.6 1.4h0m1.5 -1.2h0m1.6 -3.8h0m1.6 -5.8h0m1.6 1h0m1.6 -5.8h0m1.6 2.3h0m1.6 2.3h0m1.5 -3.4h0m1.6 5h0m1.6 -0.1h0m1.6 1.8h0m1.6 -7.7h0m1.6 1.1h0m1.6 2.9h0m1.5 -3.7h0m1.6 3.5h0m1.6 -3.6h0m1.6 -3.3h0m1.6 -0.5h0m1.6 2.7h0m1.6 4.5h0m1.5 2.3h0m1.6 0.2h0m1.6 1.2h0m1.6 -6.4h0m1.6 0.9h0m1.6 -1.3h0m1.6 3.8h0m1.6 -6.9h0m1.5 1.7h0m1.6 6.6h0m1.6 -4.7h0m1.6 -0.6h0m1.6 4h0m1.6 0.4h0m1.6 2.6h0m1.5 -3.9h0m1.6 -0.1h0m1.6 1.3h0m1.6 -2.8h0m1.6 4.7h0m1.6 -9h0m1.6 8.7h0m1.5 -3.6h0m1.6 0.3h0m1.6 -7.8h0m1.6 1.9h0m1.6 -1.1h0m1.6 6.2h0m1.6 -4.5h0m1.6 10.1h0m1.5 2.1h0m1.6 -6.1h0m1.6 -1.4h0m1.6 4.3h0m1.6 -6.7h0m1.6 -2.6h0m1.6 5.6h0m1.5 0.1h0m1.6 -3.6h0m1.6 1.9h0m1.6 1.3h0m1.6 -5.7h0m1.6 7.1h0m1.6 -1h0m1.5 0.8h0m1.6 0.5h0m1.6 1.8h0m1.6 3h0m1.6 -2.8h0m1.6 1.1h0m1.6 -1.7h0m1.5 -2.5h0m1.6 -0.2h0m1.6 -4.8h0m1.6 2.1h0m1.6 -2.5h0m1.6 1.9h0m1.6 4.4h0m1.6 -1h0m1.5 1.5h0m1.6 -3.4h0m1.6 6.2h0m1.6 -3.9h0m1.6 -0.9h0m1.6 -1.2h0m1.6 4.5h0m1.5 -3.4h0m1.6 0h0m1.6 5.4h0m1.6 -7.3h0m1.6 0.8h0m1.6 1.2h0m1.6 -1.1h0m1.5 -5h0m1.6 0.9h0m1.6 0.9h0m1.6 -5.1h0m1.6 8.2h0m1.6 -4.1h0m1.6 -0.8h0m1.5 -0.1h0m1.6 3.9h0m1.6 -3.8h0m1.6 7.1h0m1.6 -3.3h0m1.6 1.1h0m1.6 9.8h0m1.6 -4.7h0m1.5 6h0m1.6 -15.1h0m1.6 17.7h0m1.6 -9.4h0m1.6 8h0m1.6 6.9h0m1.6 -8.2h0m1.5 -13.6h0m1.6 8.9h0m1.6 -4h0m1.6 5.2h0m1.6 -9.4h0m1.6 8.9h0m1.6 -8h0m1.5 6.6h0m1.6 0.8h0m1.6 -4.2h0m1.6 -13.2h0m1.6 10h0m1.6 -0.2h0m1.6 -7.1h0m1.6 5.1h0m1.5 11.2h0m1.6 -18.7h0m1.6 -2.8h0m1.6 9.4h0m1.6 -4.7h0m1.6 11.3h0m1.6 -7.7h0m1.5 13.5h0m1.6 -18.3h0m1.6 12.4h0m1.6 -3.7h0m1.6 6.6h0m1.6 5.8h0m1.6 -17.6h0m1.5 6.7h0m1.6 4.8h0m1.6 1.2h0m1.6 6.4h0m1.6 2.8h0m1.6 -9.7h0m1.6 8.7h0m1.5 -14.6h0m1.6 14.7h0m1.6 0.8h0m1.6 0.1h0m1.6 -14.8h0m1.6 -3.2h0m1.6 1.9h0m1.6 -4.3h0m1.5 3.1h0m1.6 7.6h0m1.6 -0.1h0m1.6 -5.2h0m1.6 3.6h0m1.6 -17.6h0m1.6 16.6h0m1.5 -10.9h0m1.6 5.6h0m1.6 6.2h0m1.6 -11.4h0m1.6 11h0m1.6 -13.3h0m1.6 13.1h0m1.5 3.2h0m1.6 -18.9h0m1.6 10.2h0m1.6 -4.2h0m1.6 9.4h0" stroke="#0000d9" stroke-width="7.2" stroke-linecap="round" fill="none"/>
<path d="M139.4 629.1 142.2 628.9 144.9 628.7 147.7 628.5" stroke="#000080" stroke-width="10" stroke-linecap="round" stroke-linejoin="round" fill="none"/>
<path d="M188 627.5 190.8 628.4 193.5 628.9 196.3 629.1 199 629.3 201.8 629.2 204.5 629 207.3 629.3 210 629.9 212.8 630.4 215.5 630.5 218.3 630 221 629.4 223.8 628.6 226.5 627.9 229.2 627.9 232 628.6 234.7 629.2 237.5 629.3 240.2 629.1 243 629.1 245.7 628.5 248.5 627.2 251.2 626.4 254 627.1 256.7 628.6 259.5 629.2 262.2 628.7 265 628 267.7 628 270.5 628.4 273.2 629.1 276 629.7 278.7 629.7 281.5 629.1 284.2 628.1 287 627.1 289.7 626.5 292.5 626.4 295.2 626.4 298 626.6" stroke="#000080" stroke-width="10" stroke-linecap="round" stroke-linejoin="round" fill="none"/>
<path d="M465.6 628.7 468.8 629.5 471.9 629.7 475.1 628.3 478.3 626.6 481.5 626.9 484.6 628.3 487.8 630.4 491 633.1 494.2 631.9 497.3 629.8 500.5 629.8 503.7 629.7 506.8 629.1 510 629.4 513.2 630.7 516.4 631.5 519.5 629.9 522.7 628.4 525.9 627.3 529.1 623.6 532.2 623.5 535.4 627.4 538.6 628.6 541.7 628.1 544.9 628.5 548.1 629 551.3 627.8 554.4 626.4 557.6 626.8 560.8 627.7 563.9 628.2 567.1 629.2 570.3 626.5 573.5 624 576.6 625.2 579.8 626.7 583 626.2 586.2 626.1 589.3 626.1 592.5 625.4 595.7 625.4 598.8 626.3 602 626.3 605.2 624.1 608.4 623.5 611.5 626.4 614.7 628.7 617.9 628.2 621.1 625.9 624.2 624.2 627.4 623.2 630.6 622.1 633.7 620.5 636.9 621.2 640.1 624.8 643.3 627.3 646.4 628.3 649.6 629.5 652.8 630.2 656 629.7 659.1 627.9 662.3 627.3 665.5 627 668.6 625 671.8 622.9 675 623.6 678.2 627.2 681.3 629.8 684.5 630.6 687.7 629.3 690.8 626.7 694 625.6 697.2 626.9 700.4 629.1 703.5 630 706.7 628.9 709.9 627.8 713.1 628.1 716.2 629.3 719.4 630.2 722.6 629.3 725.7 627.7 728.9 627.2 732.1 627.9 735.3 628.2 738.4 629.3 741.6 630.6 744.8 628.7 748 625.4 751.1 624.2 754.3 624.5 757.5 626.4 760.6 629 763.8 631 767 630.8 770.2 629.2 773.3 629.4 776.5 628.1 779.7 624 782.9 622.4 786 624.3 789.2 626.1 792.4 627.2 795.5 626.7 798.7 624 801.9 622.8 805.1 624.5 808.2 623.8" stroke="#000080" stroke-width="4" stroke-linecap="round" stroke-linejoin="round" fill="none"/>
<path d="M137.6 629.5h0m0.9 2.6h0m0.9 -3.5h0m0.9 -4.2h0m1 15.2h0m0.9 -11.1h0m0.9 11.9h0m0.9 -7.1h0m0.9 -5.3h0m0.9 2.2h0m1 -0.5h0m0.9 -9.5h0m0.9 11.2h0m0.9 -7.2h0m0.9 7h0m0.9 -3.6h0m1 6.7h0m0.9 -12.4h0m0.9 -3.9h0m0.9 0.8h0m0.9 -3.5h0m0.9 -11.5h0m1 -5h0m0.9 -5h0m0.9 -4.7h0m0.9 3.4h0m0.9 18.3h0m0.9 -13.4h0m1 9.9h0m0.9 -5.2h0m0.9 -4.6h0m0.9 20.6h0m0.9 -16.8h0m0.9 4.8h0m1 9.6h0m0.9 1.3h0m0.9 -2.5h0m0.9 2.1h0m0.9 2.1h0m0.9 -11.6h0m1 12.4h0m0.9 5.6h0m0.9 -0.3h0m0.9 -11.9h0m0.9 9.9h0m0.9 -8.9h0m1 8.3h0m0.9 -14.7h0m0.9 13.8h0m0.9 -5.7h0m0.9 0.2h0m0.9 17.3h0m1 6.7h0m0.9 -7.5h0m0.9 -4.1h0m0.9 -1h0m0.9 -0.9h0m0.9 1.6h0m1 5.2h0m0.9 -9.5h0m0.9 3.1h0m0.9 2.7h0m0.9 -6.1h0m0.9 5h0m1 2.6h0m0.9 -2.4h0m0.9 2.3h0m0.9 3.2h0m0.9 -6.3h0m0.9 1.2h0m1 -0.4h0m0.9 1.9h0m0.9 -3.4h0m0.9 4.1h0m0.9 -2.7h0m0.9 1.3h0m1 4h0m0.9 -2.4h0m0.9 2.5h0m0.9 -4.9h0m0.9 -1.1h0m0.9 1.5h0m1 -0.9h0m0.9 1.2h0m0.9 7.6h0m0.9 -5.4h0m0.9 0.6h0m0.9 4.5h0m1 -5h0m0.9 -1.7h0m0.9 1.2h0m0.9 -1.6h0m0.9 0.7h0m0.9 -7.4h0m1 7h0m0.9 -1.3h0m0.9 -1.4h0m0.9 1.2h0m0.9 -3.6h0m0.9 0.5h0m0.9 5.1h0m1 -4.7h0m0.9 0h0m0.9 0.1h0m0.9 5.9h0m0.9 -3.6h0m0.9 -1.7h0m1 3.1h0m0.9 1.9h0m0.9 -3.9h0m0.9 6.2h0m0.9 -1.7h0m0.9 -3h0m1 1.6h0m0.9 -4.6h0m0.9 1.1h0m0.9 1.6h0m0.9 -2.9h0m0.9 5.7h0m1 -5.5h0m0.9 3.1h0m0.9 -4.3h0m0.9 3.3h0m0.9 -2h0m0.9 -2h0m1 4.3h0m0.9 -3.2h0m0.9 -1.9h0m0.9 6h0m0.9 -1.5h0m0.9 -4h0m1 4.4h0m0.9 2.7h0m0.9 -4h0m0.9 0.8h0m0.9 0.2h0m0.9 0.3h0m1 -0.6h0m0.9 4.2h0m0.9 -3.7h0m0.9 -1.4h0m0.9 0.8h0m0.9 1.4h0m1 -2.7h0m0.9 0.8h0m0.9 2h0m0.9 -4.7h0m0.9 3.3h0m0.9 2.7h0m1 -3.3h0m0.9 -0.3h0m0.9 0.5h0m0.9 2.2h0m0.9 6.9h0m0.9 -9h0m1 1h0m0.9 -0.5h0m0.9 2.4h0m0.9 0.6h0m0.9 -4.9h0m0.9 1.4h0m1 -4.6h0m0.9 7.5h0m0.9 -3.5h0m0.9 -0.4h0m0.9 2.6h0m0.9 -5.5h0m1 2h0m0.9 0.8h0m0.9 -2.5h0m0.9 0.4h0m0.9 4.3h0m0.9 -1.4h0m1 -4.8h0m0.9 1.8h0m0.9 6h0m0.9 5h0m0.9 -12.1h0m0.9 -1h0m163.3 4.2h0m1.6 2.6h0m1.6 0.3h0m1.6 -3.5h0m1.6 4.5h0m1.5 3.4h0m1.6 -5.4h0m1.6 -1.7h0m1.6 4.4h0m1.6 -4.7h0m1.6 -2.4h0m1.6 -0.1h0m1.6 -0.1h0m1.5 5.7h0m1.6 -2.4h0m1.6 2.9h0m1.6 -4.7h0m1.6 8h0m1.6 0.2h0m1.6 -4.6h0m1.5 -0.6h0m1.6 3.9h0m1.6 0.2h0m1.6 0.4h0m1.6 -7.3h0m1.6 2.3h0m1.6 1.5h0m1.5 0.6h0m1.6 3.9h0m1.6 -4.4h0m1.6 -6.1h0m1.6 10.2h0m1.6 -2.2h0m1.6 1.3h0m1.5 -1.9h0m1.6 4.4h0m1.6 -6.5h0m1.6 0.2h0m1.6 -1.8h0m1.6 4h0m1.6 -3.6h0m1.6 -3.8h0m1.5 -1.4h0m1.6 0.1h0m1.6 2.8h0m1.6 3.7h0m1.6 4.3h0m1.6 -2.2h0m1.6 -2.4h0m1.5 -3.7h0m1.6 6.5h0m1.6 -5h0m1.6 4.2h0m1.6 2.3h0m1.6 -4h0m1.6 -1.6h0m1.5 -3.7h0m1.6 4.9h0m1.6 0.5h0m1.6 -1.7h0m1.6 -0.5h0m1.6 3.1h0m1.6 -4.2h0m1.5 0.5h0m1.6 4.7h0m1.6 -9.9h0m1.6 4.6h0m1.6 0.1h0m1.6 -4.1h0m1.6 4.6h0m1.6 -0.7h0m1.5 1.4h0m1.6 -0.1h0m1.6 3.9h0m1.6 -0.8h0m1.6 -2.3h0m1.6 -2h0m1.6 0.8h0m1.5 -2.6h0m1.6 1.6h0m1.6 -2.7h0m1.6 3.9h0m1.6 -2.8h0m1.6 -2.2h0m1.6 5.7h0m1.5 -2.5h0m1.6 -0.5h0m1.6 -0.7h0m1.6 2.4h0m1.6 -0.8h0m1.6 0.5h0m1.6 -6.9h0m1.6 3.3h0m1.5 3.8h0m1.6 2.6h0m1.6 -2.5h0m1.6 3.5h0m1.6 4.1h0m1.6 -2h0m1.6 -11.3h0m1.5 4.3h0m1.6 -0.4h0m1.6 -3.2h0m1.6 5.7h0m1.6 -3.9h0m1.6 -0.8h0m1.6 2.1h0m1.5 -3.2h0m1.6 2.1h0m1.6 -2h0m1.6 1.1h0m1.6 4h0m1.6 0.9h0m1.6 5.1h0m1.5 -4.1h0m1.6 -3.4h0m1.6 5.7h0m1.6 -1.1h0m1.6 -3.2h0m1.6 5.2h0m1.6 2.8h0m1.6 -3.5h0m1.5 -6.6h0m1.6 2.7h0m1.6 3.6h0m1.6 -5.4h0m1.6 3h0m1.6 -1.4h0m1.6 -4.5h0m1.5 5.2h0m1.6 0.6h0m1.6 -6h0m1.6 -3.1h0m1.6 5.7h0m1.6 2.3h0m1.6 0.3h0m1.5 0.8h0m1.6 -0.7h0m1.6 3h0m1.6 -2h0m1.6 5.5h0m1.6 -10.3h0m1.6 3.4h0m1.5 -8.1h0m1.6 5.6h0m1.6 7.8h0m1.6 -9.9h0m1.6 4.6h0m1.6 3.7h0m1.6 2.4h0m1.6 -1.5h0m1.5 -1.3h0m1.6 -0.2h0m1.6 -0.2h0m1.6 8.1h0m1.6 -14.5h0m1.6 3h0m1.6 3.9h0m1.5 -2.8h0m1.6 6.6h0m1.6 -2.5h0m1.6 -3.8h0m1.6 2.4h0m1.6 -2h0m1.6 0.2h0m1.5 -3.8h0m1.6 -3.5h0m1.6 15.9h0m1.6 -5.2h0m1.6 -8h0m1.6 11.5h0m1.6 -9.6h0m1.6 2.5h0m1.5 4.4h0m1.6 -1.7h0m1.6 0.4h0m1.6 -7.5h0m1.6 8h0m1.6 -0.4h0m1.6 -2.6h0m1.5 -5.1h0m1.6 1.9h0m1.6 4.8h0m1.6 -4.4h0m1.6 5.5h0m1.6 -5.3h0m1.6 5.1h0m1.5 2.9h0m1.6 -6.2h0m1.6 5.6h0m1.6 -2h0m1.6 10h0m1.6 -4.7h0m1.6 2.8h0m1.5 -8.6h0m1.6 -3.4h0m1.6 -2.4h0m1.6 0.2h0m1.6 -3.3h0m1.6 3.3h0m1.6 5.5h0m1.6 -2.6h0m1.5 -11.9h0m1.6 0.9h0m1.6 12.2h0m1.6 -6.1h0m1.6 -7.1h0m1.6 14.4h0m1.6 0.3h0m1.5 -2h0m1.6 -2.8h0m1.6 -4.4h0m1.6 5.5h0m1.6 -8.6h0m1.6 1.4h0m1.6 -7.1h0m1.5 22.9h0m1.6 -21.5h0m1.6 6.9h0m1.6 1.5h0m1.6 3.2h0" stroke="#000080" stroke-width="7.2" stroke-linecap="round" fill="none"/>
<rect x="154.5" y="3.5" width="31.5" height="635.5" fill="#fff" fill-opacity="0.77" stroke="#fff" stroke-opacity="0.8" stroke-width="1.4"/>
<circle cx="165.3" cy="-0.3" r="3.5" fill="#b00000"/>
<circle cx="159" cy="643" r="3.4" fill="#000080"/>
</g>
<path d="M109.4 672v-3.5M144.7 672v-3.5M179.9 672v-6M215.2 672v-3.5M250.4 672v-3.5M285.6 672v-3.5M320.9 672v-3.5M356.1 672v-6M391.4 672v-3.5M426.6 672v-3.5M461.9 672v-3.5M497.1 672v-3.5M532.4 672v-6M567.6 672v-3.5M602.9 672v-3.5M638.1 672v-3.5M673.4 672v-3.5M708.6 672v-6M743.9 672v-3.5M779.1 672v-3.5M814.4 672v-3.5M103 54.2h6M103 142.4h6M103 230.7h6M103 318.9h6M103 407.2h6M103 495.4h6M103 583.7h6M103 672h6" stroke="#333" stroke-width="1.3" fill="none"/>
<rect x="103" y="1.2" width="743.8" height="670.8" fill="none" stroke="#333" stroke-width="2"/>
<rect x="876.5" y="82.8" width="140.5" height="507.8" rx="5" fill="#fff" stroke="#d0d0d0" stroke-width="1.3"/>
<path d="M913 89.7V116.7M907.6 89.7h10.8M907.6 116.7h10.8" stroke="#d3d3d3" stroke-width="1.6" fill="none"/>
<circle cx="913" cy="103.2" r="3.6" fill="#800000"/>
<text x="0" y="0" transform="translate(960.5 112.2) scale(0.917 1)" font-size="25.3">2.7</text>
<path d="M913 125.3V152.3M907.6 125.3h10.8M907.6 152.3h10.8" stroke="#d3d3d3" stroke-width="1.6" fill="none"/>
<circle cx="913" cy="138.8" r="3.6" fill="#d90000"/>
<text x="0" y="0" transform="translate(960.5 147.8) scale(0.917 1)" font-size="25.3">4.8</text>
<path d="M913 161V188M907.6 161h10.8M907.6 188h10.8" stroke="#d3d3d3" stroke-width="1.6" fill="none"/>
<circle cx="913" cy="174.5" r="3.6" fill="#ff3c00"/>
<text x="0" y="0" transform="translate(960.5 183.5) scale(0.917 1)" font-size="25.3">13.2</text>
<path d="M913 196.6V223.6M907.6 196.6h10.8M907.6 223.6h10.8" stroke="#d3d3d3" stroke-width="1.6" fill="none"/>
<circle cx="913" cy="210.1" r="3.6" fill="#ff8500"/>
<text x="0" y="0" transform="translate(960.5 219.1) scale(0.917 1)" font-size="25.3">15.9</text>
<path d="M913 232.3V259.3M907.6 232.3h10.8M907.6 259.3h10.8" stroke="#d3d3d3" stroke-width="1.6" fill="none"/>
<circle cx="913" cy="245.8" r="3.6" fill="#ffce00"/>
<text x="0" y="0" transform="translate(960.5 254.8) scale(0.917 1)" font-size="25.3">26.3</text>
<path d="M913 267.9V294.9M907.6 267.9h10.8M907.6 294.9h10.8" stroke="#d3d3d3" stroke-width="1.6" fill="none"/>
<circle cx="913" cy="281.4" r="3.6" fill="#daff1c"/>
<text x="0" y="0" transform="translate(960.5 290.4) scale(0.917 1)" font-size="25.3">36.7</text>
<path d="M913 303.5V330.5M907.6 303.5h10.8M907.6 330.5h10.8" stroke="#d3d3d3" stroke-width="1.6" fill="none"/>
<circle cx="913" cy="317" r="3.6" fill="#9bff5c"/>
<text x="0" y="0" transform="translate(960.5 326) scale(0.917 1)" font-size="25.3">42.5</text>
<path d="M913 339.2V366.2M907.6 339.2h10.8M907.6 366.2h10.8" stroke="#d3d3d3" stroke-width="1.6" fill="none"/>
<circle cx="913" cy="352.7" r="3.6" fill="#5cff9b"/>
<text x="0" y="0" transform="translate(960.5 361.7) scale(0.917 1)" font-size="25.3">47.7</text>
<path d="M913 374.8V401.8M907.6 374.8h10.8M907.6 401.8h10.8" stroke="#d3d3d3" stroke-width="1.6" fill="none"/>
<circle cx="913" cy="388.3" r="3.6" fill="#1cffda"/>
<text x="0" y="0" transform="translate(960.5 397.3) scale(0.917 1)" font-size="25.3">58.3</text>
<path d="M913 410.5V437.5M907.6 410.5h10.8M907.6 437.5h10.8" stroke="#d3d3d3" stroke-width="1.6" fill="none"/>
<circle cx="913" cy="424" r="3.6" fill="#00baff"/>
<text x="0" y="0" transform="translate(960.5 433) scale(0.917 1)" font-size="25.3">69.0</text>
<path d="M913 446.1V473.1M907.6 446.1h10.8M907.6 473.1h10.8" stroke="#d3d3d3" stroke-width="1.6" fill="none"/>
<circle cx="913" cy="459.6" r="3.6" fill="#006cff"/>
<text x="0" y="0" transform="translate(960.5 468.6) scale(0.917 1)" font-size="25.3">79.5</text>
<path d="M913 481.7V508.7M907.6 481.7h10.8M907.6 508.7h10.8" stroke="#d3d3d3" stroke-width="1.6" fill="none"/>
<circle cx="913" cy="495.2" r="3.6" fill="#001dff"/>
<text x="0" y="0" transform="translate(960.5 504.2) scale(0.917 1)" font-size="25.3">87.2</text>
<path d="M913 517.4V544.4M907.6 517.4h10.8M907.6 544.4h10.8" stroke="#d3d3d3" stroke-width="1.6" fill="none"/>
<circle cx="913" cy="530.9" r="3.6" fill="#0000d9"/>
<text x="0" y="0" transform="translate(960.5 539.9) scale(0.917 1)" font-size="25.3">91.5</text>
<path d="M913 553V580M907.6 553h10.8M907.6 580h10.8" stroke="#d3d3d3" stroke-width="1.6" fill="none"/>
<circle cx="913" cy="566.5" r="3.6" fill="#000080"/>
<text x="0" y="0" transform="translate(960.5 575.5) scale(0.917 1)" font-size="25.3">97.8</text>
<text x="0" y="0" transform="translate(95.5 66.3) scale(0.92 1)" text-anchor="end" font-size="32.5">1.0</text>
<text x="0" y="0" transform="translate(95.5 154.5) scale(0.92 1)" text-anchor="end" font-size="32.5">0.5</text>
<text x="0" y="0" transform="translate(95.5 242.8) scale(0.92 1)" text-anchor="end" font-size="32.5">0.0</text>
<text x="0" y="0" transform="translate(95.5 331.1) scale(0.92 1)" text-anchor="end" font-size="32.5">−0.5</text>
<text x="0" y="0" transform="translate(95.5 419.3) scale(0.92 1)" text-anchor="end" font-size="32.5">−1.0</text>
<text x="0" y="0" transform="translate(95.5 507.6) scale(0.92 1)" text-anchor="end" font-size="32.5">−1.5</text>
<text x="0" y="0" transform="translate(95.5 595.8) scale(0.92 1)" text-anchor="end" font-size="32.5">−2.0</text>
<text x="0" y="0" transform="translate(95.5 684.1) scale(0.92 1)" text-anchor="end" font-size="32.5">−2.5</text>
<text x="0" y="0" transform="translate(179.9 700.6) scale(0.92 1)" text-anchor="middle" font-size="32.5">10</text>
<text x="0" y="0" transform="translate(356.1 700.6) scale(0.92 1)" text-anchor="middle" font-size="32.5">15</text>
<text x="0" y="0" transform="translate(532.4 700.6) scale(0.92 1)" text-anchor="middle" font-size="32.5">20</text>
<text x="0" y="0" transform="translate(708.6 700.6) scale(0.92 1)" text-anchor="middle" font-size="32.5">25</text>
<text x="0" y="0" transform="translate(368.8 740) scale(0.859 1)" font-size="32.8">Wavelength [<tspan font-style="italic">μ</tspan>m]</text>
<text x="0" y="0" transform="translate(23 458.2) rotate(-90) scale(0.878 1)" font-size="32">Emissivity/Average</text>
<text x="0" y="0" transform="translate(888.6 55.8) scale(0.812 1)" font-size="22.5">Phase [%]</text>
</svg>
</body></html>
